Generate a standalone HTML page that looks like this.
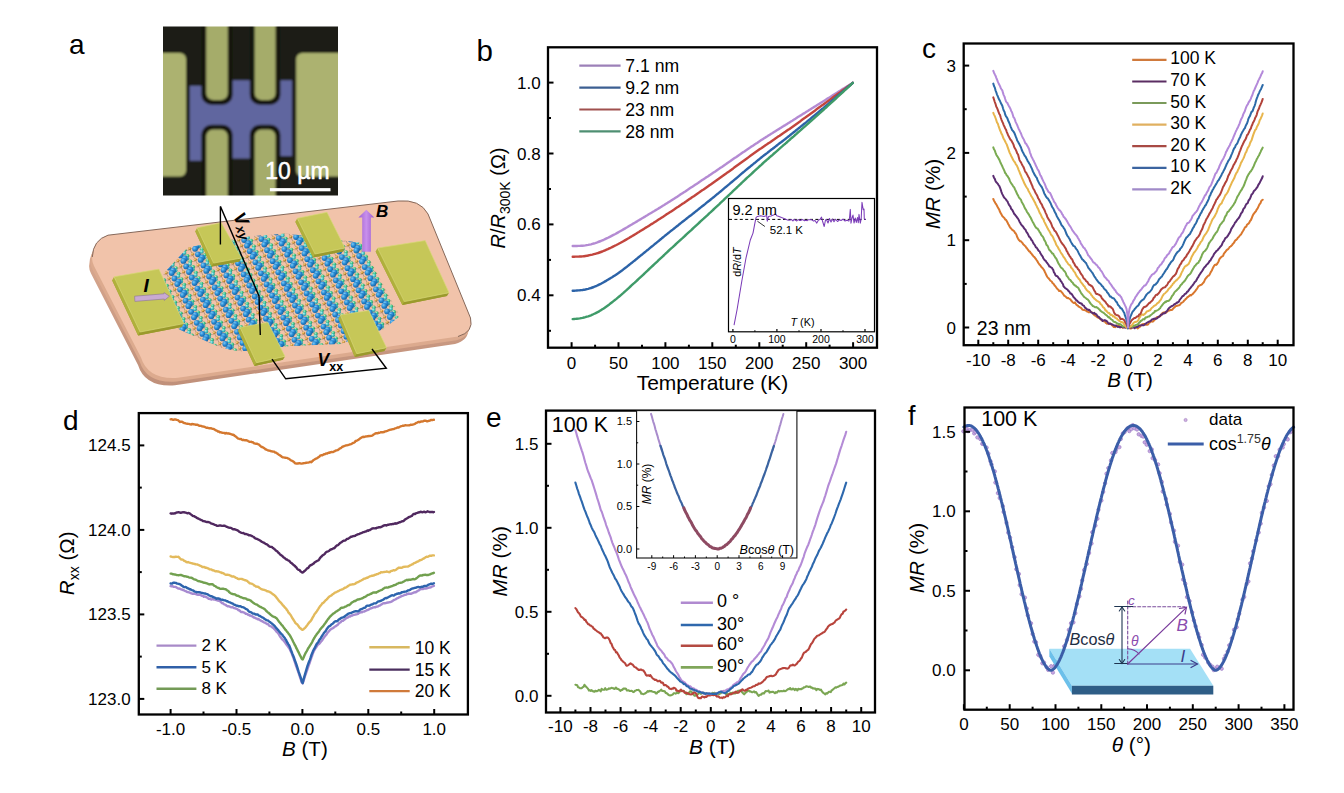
<!DOCTYPE html><html><head><meta charset="utf-8"><style>html,body{margin:0;padding:0;background:#fff;}svg{display:block;}</style></head><body>
<svg width="1344" height="793" viewBox="0 0 1344 793" font-family='"Liberation Sans", Arial, sans-serif'>
<defs><filter id="blur1" x="-5%" y="-5%" width="110%" height="110%"><feGaussianBlur stdDeviation="0.9"/></filter></defs>
<rect width="1344" height="793" fill="#fff"/>
<g id="pa">
<text x="69" y="53.8" font-size="28">a</text>
<defs><clipPath id="micro"><rect x="163" y="26.4" width="175" height="169.1"/></clipPath></defs>
<g clip-path="url(#micro)"><g filter="url(#blur1)">
<rect x="160" y="20" width="182" height="180" fill="#1a1e15"/>
<rect x="156" y="53" width="30" height="123.6" rx="6" fill="#acb270"/>
<rect x="296.2" y="53" width="48" height="123.6" rx="6" fill="#acb270"/>
<path d="M189.7 85.8 L204 85.8 L204 80.2 L291.9 80.2 L291.9 156 L276 156 L276 158.5 L204.5 158.5 L204.5 160.7 L189.7 160.7 Z" fill="#61669f"/>
<rect x="201.4" y="10" width="31.2" height="94.8" rx="10" fill="#15180f"/>
<rect x="206.2" y="10" width="21.6" height="90" rx="7" fill="#a5ac6a"/>
<rect x="201.4" y="124.7" width="31.2" height="90" rx="10" fill="#15180f"/>
<rect x="206.2" y="129.5" width="21.6" height="90" rx="7" fill="#a5ac6a"/>
<rect x="249.8" y="10" width="30.6" height="94.8" rx="10" fill="#15180f"/>
<rect x="254.6" y="10" width="21" height="90" rx="7" fill="#a5ac6a"/>
<rect x="249.8" y="124.7" width="30.6" height="90" rx="10" fill="#15180f"/>
<rect x="254.6" y="129.5" width="21" height="90" rx="7" fill="#a5ac6a"/>
</g></g>
<text x="265.2" y="178.9" font-size="23" fill="#fff" stroke="#fff" stroke-width="0.5">10 µm</text>
<rect x="269.9" y="188.1" width="60.6" height="3.2" fill="#fff"/>
<defs><linearGradient id="edg" x1="0" y1="0" x2="0" y2="1"><stop offset="0" stop-color="#e0b096"/><stop offset="1" stop-color="#c0907a"/></linearGradient></defs>
<path d="M92.3 257 Q93 240 108 235.2 L398 201 Q420 199 428 214 L470.5 318 Q474 332 458 336.5 L178 377.8 Q148 380 141 357.5 L94 266 Q91.5 261 92.3 257 Z" transform="translate(-3 7.5)" fill="url(#edg)"/>
<path d="M92.3 257 Q93 240 108 235.2 L398 201 Q420 199 428 214 L470.5 318 Q474 332 458 336.5 L178 377.8 Q148 380 141 357.5 L94 266 Q91.5 261 92.3 257 Z" transform="translate(-1.5 3.8)" fill="#dcaa8e"/>
<path d="M92.3 257 Q93 240 108 235.2 L398 201 Q420 199 428 214 L470.5 318 Q474 332 458 336.5 L178 377.8 Q148 380 141 357.5 L94 266 Q91.5 261 92.3 257 Z" fill="#f1c3aa"/>
<path d="M92.3 257 Q93 240 108 235.2 L398 201 Q420 199 428 214 L470.5 318 Q474 332 458 336.5" fill="none" stroke="#85685a" stroke-width="1"/>
<defs><clipPath id="lat"><polygon points="163.7,273.4 187.9,247.3 251.1,236.2 286.5,233.4 360.9,242.7 400,316.1 383.2,329.2 340.4,344 290.2,345.9 240,351.5 221.4,347.8 178.6,329.2 163.7,299.4"/></clipPath></defs>
<defs><radialGradient id="gb" cx="0.35" cy="0.35" r="0.7"><stop offset="0" stop-color="#7cc8f4"/><stop offset="0.5" stop-color="#2a8cd6"/><stop offset="1" stop-color="#15609e"/></radialGradient><radialGradient id="gg" cx="0.35" cy="0.35" r="0.7"><stop offset="0" stop-color="#b0f4d0"/><stop offset="0.5" stop-color="#3cc48a"/><stop offset="1" stop-color="#24905a"/></radialGradient><radialGradient id="gc" cx="0.35" cy="0.35" r="0.7"><stop offset="0" stop-color="#b8f4f0"/><stop offset="0.5" stop-color="#48c4c4"/><stop offset="1" stop-color="#2a9090"/></radialGradient><radialGradient id="go" cx="0.35" cy="0.35" r="0.7"><stop offset="0" stop-color="#f8d890"/><stop offset="0.6" stop-color="#d29a3c"/><stop offset="1" stop-color="#8a6020"/></radialGradient></defs>
<g clip-path="url(#lat)">
<g stroke="#8a7060" stroke-width="0.45" opacity="0.8"><line x1="31.7" y1="218" x2="49" y2="219"/><line x1="34.5" y1="223.6" x2="51.8" y2="224.6"/><line x1="37.3" y1="229.1" x2="54.6" y2="230.1"/><line x1="40.1" y1="234.6" x2="57.4" y2="235.6"/><line x1="42.9" y1="240.2" x2="60.2" y2="241.2"/><line x1="45.6" y1="245.7" x2="62.9" y2="246.7"/><line x1="48.4" y1="251.2" x2="65.7" y2="252.2"/><line x1="51.2" y1="256.8" x2="68.5" y2="257.8"/><line x1="54" y1="262.3" x2="71.3" y2="263.3"/><line x1="56.8" y1="267.9" x2="74.1" y2="268.9"/><line x1="59.6" y1="273.4" x2="76.9" y2="274.4"/><line x1="62.4" y1="278.9" x2="79.7" y2="279.9"/><line x1="65.2" y1="284.5" x2="82.5" y2="285.5"/><line x1="68" y1="290" x2="85.3" y2="291"/><line x1="70.8" y1="295.5" x2="88.1" y2="296.5"/><line x1="73.5" y1="301.1" x2="90.8" y2="302.1"/><line x1="76.3" y1="306.6" x2="93.6" y2="307.6"/><line x1="79.1" y1="312.2" x2="96.4" y2="313.2"/><line x1="81.9" y1="317.7" x2="99.2" y2="318.7"/><line x1="84.7" y1="323.2" x2="102" y2="324.2"/><line x1="87.5" y1="328.8" x2="104.8" y2="329.8"/><line x1="90.3" y1="334.3" x2="107.6" y2="335.3"/><line x1="93.1" y1="339.8" x2="110.4" y2="340.8"/><line x1="95.9" y1="345.4" x2="113.2" y2="346.4"/><line x1="98.7" y1="350.9" x2="116" y2="351.9"/><line x1="101.4" y1="356.4" x2="118.7" y2="357.4"/><line x1="104.2" y1="362" x2="121.5" y2="363"/><line x1="107" y1="367.5" x2="124.3" y2="368.5"/><line x1="109.8" y1="373.1" x2="127.1" y2="374.1"/><line x1="112.6" y1="378.6" x2="129.9" y2="379.6"/><line x1="115.4" y1="384.1" x2="132.7" y2="385.1"/><line x1="118.2" y1="389.7" x2="135.5" y2="390.7"/><line x1="121" y1="395.2" x2="138.3" y2="396.2"/><line x1="123.8" y1="400.7" x2="141.1" y2="401.7"/><line x1="49" y1="217" x2="66.3" y2="218"/><line x1="51.8" y1="222.5" x2="69.1" y2="223.5"/><line x1="54.6" y1="228.1" x2="71.9" y2="229.1"/><line x1="57.4" y1="233.6" x2="74.7" y2="234.6"/><line x1="60.2" y1="239.1" x2="77.5" y2="240.1"/><line x1="63" y1="244.7" x2="80.2" y2="245.7"/><line x1="65.7" y1="250.2" x2="83" y2="251.2"/><line x1="68.5" y1="255.7" x2="85.8" y2="256.7"/><line x1="71.3" y1="261.3" x2="88.6" y2="262.3"/><line x1="74.1" y1="266.8" x2="91.4" y2="267.8"/><line x1="76.9" y1="272.4" x2="94.2" y2="273.4"/><line x1="79.7" y1="277.9" x2="97" y2="278.9"/><line x1="82.5" y1="283.4" x2="99.8" y2="284.4"/><line x1="85.3" y1="289" x2="102.6" y2="290"/><line x1="88.1" y1="294.5" x2="105.4" y2="295.5"/><line x1="90.8" y1="300" x2="108.1" y2="301"/><line x1="93.6" y1="305.6" x2="110.9" y2="306.6"/><line x1="96.4" y1="311.1" x2="113.7" y2="312.1"/><line x1="99.2" y1="316.6" x2="116.5" y2="317.6"/><line x1="102" y1="322.2" x2="119.3" y2="323.2"/><line x1="104.8" y1="327.7" x2="122.1" y2="328.7"/><line x1="107.6" y1="333.3" x2="124.9" y2="334.3"/><line x1="110.4" y1="338.8" x2="127.7" y2="339.8"/><line x1="113.2" y1="344.3" x2="130.5" y2="345.3"/><line x1="116" y1="349.9" x2="133.3" y2="350.9"/><line x1="118.8" y1="355.4" x2="136.1" y2="356.4"/><line x1="121.5" y1="360.9" x2="138.8" y2="361.9"/><line x1="124.3" y1="366.5" x2="141.6" y2="367.5"/><line x1="127.1" y1="372" x2="144.4" y2="373"/><line x1="129.9" y1="377.6" x2="147.2" y2="378.6"/><line x1="132.7" y1="383.1" x2="150" y2="384.1"/><line x1="135.5" y1="388.6" x2="152.8" y2="389.6"/><line x1="138.3" y1="394.2" x2="155.6" y2="395.2"/><line x1="141.1" y1="399.7" x2="158.4" y2="400.7"/><line x1="66.3" y1="216" x2="83.6" y2="217"/><line x1="69.1" y1="221.5" x2="86.4" y2="222.5"/><line x1="71.9" y1="227" x2="89.2" y2="228"/><line x1="74.7" y1="232.6" x2="92" y2="233.6"/><line x1="77.5" y1="238.1" x2="94.8" y2="239.1"/><line x1="80.2" y1="243.6" x2="97.5" y2="244.6"/><line x1="83" y1="249.2" x2="100.3" y2="250.2"/><line x1="85.8" y1="254.7" x2="103.1" y2="255.7"/><line x1="88.6" y1="260.2" x2="105.9" y2="261.2"/><line x1="91.4" y1="265.8" x2="108.7" y2="266.8"/><line x1="94.2" y1="271.3" x2="111.5" y2="272.3"/><line x1="97" y1="276.9" x2="114.3" y2="277.9"/><line x1="99.8" y1="282.4" x2="117.1" y2="283.4"/><line x1="102.6" y1="287.9" x2="119.9" y2="288.9"/><line x1="105.4" y1="293.5" x2="122.7" y2="294.5"/><line x1="108.2" y1="299" x2="125.5" y2="300"/><line x1="110.9" y1="304.5" x2="128.2" y2="305.5"/><line x1="113.7" y1="310.1" x2="131" y2="311.1"/><line x1="116.5" y1="315.6" x2="133.8" y2="316.6"/><line x1="119.3" y1="321.1" x2="136.6" y2="322.1"/><line x1="122.1" y1="326.7" x2="139.4" y2="327.7"/><line x1="124.9" y1="332.2" x2="142.2" y2="333.2"/><line x1="127.7" y1="337.8" x2="145" y2="338.8"/><line x1="130.5" y1="343.3" x2="147.8" y2="344.3"/><line x1="133.3" y1="348.8" x2="150.6" y2="349.8"/><line x1="136.1" y1="354.4" x2="153.4" y2="355.4"/><line x1="138.8" y1="359.9" x2="156.1" y2="360.9"/><line x1="141.6" y1="365.4" x2="158.9" y2="366.4"/><line x1="144.4" y1="371" x2="161.7" y2="372"/><line x1="147.2" y1="376.5" x2="164.5" y2="377.5"/><line x1="150" y1="382.1" x2="167.3" y2="383.1"/><line x1="152.8" y1="387.6" x2="170.1" y2="388.6"/><line x1="155.6" y1="393.1" x2="172.9" y2="394.1"/><line x1="158.4" y1="398.7" x2="175.7" y2="399.7"/><line x1="83.6" y1="214.9" x2="100.9" y2="215.9"/><line x1="86.4" y1="220.5" x2="103.7" y2="221.5"/><line x1="89.2" y1="226" x2="106.5" y2="227"/><line x1="92" y1="231.5" x2="109.3" y2="232.5"/><line x1="94.8" y1="237.1" x2="112.1" y2="238.1"/><line x1="97.5" y1="242.6" x2="114.8" y2="243.6"/><line x1="100.3" y1="248.1" x2="117.6" y2="249.1"/><line x1="103.1" y1="253.7" x2="120.4" y2="254.7"/><line x1="105.9" y1="259.2" x2="123.2" y2="260.2"/><line x1="108.7" y1="264.7" x2="126" y2="265.7"/><line x1="111.5" y1="270.3" x2="128.8" y2="271.3"/><line x1="114.3" y1="275.8" x2="131.6" y2="276.8"/><line x1="117.1" y1="281.4" x2="134.4" y2="282.4"/><line x1="119.9" y1="286.9" x2="137.2" y2="287.9"/><line x1="122.7" y1="292.4" x2="140" y2="293.4"/><line x1="125.4" y1="298" x2="142.8" y2="299"/><line x1="128.2" y1="303.5" x2="145.5" y2="304.5"/><line x1="131" y1="309" x2="148.3" y2="310"/><line x1="133.8" y1="314.6" x2="151.1" y2="315.6"/><line x1="136.6" y1="320.1" x2="153.9" y2="321.1"/><line x1="139.4" y1="325.6" x2="156.7" y2="326.6"/><line x1="142.2" y1="331.2" x2="159.5" y2="332.2"/><line x1="145" y1="336.7" x2="162.3" y2="337.7"/><line x1="147.8" y1="342.3" x2="165.1" y2="343.3"/><line x1="150.6" y1="347.8" x2="167.9" y2="348.8"/><line x1="153.3" y1="353.3" x2="170.7" y2="354.3"/><line x1="156.1" y1="358.9" x2="173.4" y2="359.9"/><line x1="158.9" y1="364.4" x2="176.2" y2="365.4"/><line x1="161.7" y1="369.9" x2="179" y2="370.9"/><line x1="164.5" y1="375.5" x2="181.8" y2="376.5"/><line x1="167.3" y1="381" x2="184.6" y2="382"/><line x1="170.1" y1="386.5" x2="187.4" y2="387.5"/><line x1="172.9" y1="392.1" x2="190.2" y2="393.1"/><line x1="175.7" y1="397.6" x2="193" y2="398.6"/><line x1="100.9" y1="213.9" x2="118.2" y2="214.9"/><line x1="103.7" y1="219.4" x2="121" y2="220.4"/><line x1="106.5" y1="224.9" x2="123.8" y2="225.9"/><line x1="109.3" y1="230.5" x2="126.6" y2="231.5"/><line x1="112.1" y1="236" x2="129.4" y2="237"/><line x1="114.9" y1="241.6" x2="132.2" y2="242.6"/><line x1="117.6" y1="247.1" x2="134.9" y2="248.1"/><line x1="120.4" y1="252.6" x2="137.7" y2="253.6"/><line x1="123.2" y1="258.2" x2="140.5" y2="259.2"/><line x1="126" y1="263.7" x2="143.3" y2="264.7"/><line x1="128.8" y1="269.2" x2="146.1" y2="270.2"/><line x1="131.6" y1="274.8" x2="148.9" y2="275.8"/><line x1="134.4" y1="280.3" x2="151.7" y2="281.3"/><line x1="137.2" y1="285.9" x2="154.5" y2="286.9"/><line x1="140" y1="291.4" x2="157.3" y2="292.4"/><line x1="142.8" y1="296.9" x2="160.1" y2="297.9"/><line x1="145.5" y1="302.5" x2="162.8" y2="303.5"/><line x1="148.3" y1="308" x2="165.6" y2="309"/><line x1="151.1" y1="313.5" x2="168.4" y2="314.5"/><line x1="153.9" y1="319.1" x2="171.2" y2="320.1"/><line x1="156.7" y1="324.6" x2="174" y2="325.6"/><line x1="159.5" y1="330.1" x2="176.8" y2="331.1"/><line x1="162.3" y1="335.7" x2="179.6" y2="336.7"/><line x1="165.1" y1="341.2" x2="182.4" y2="342.2"/><line x1="167.9" y1="346.8" x2="185.2" y2="347.8"/><line x1="170.7" y1="352.3" x2="188" y2="353.3"/><line x1="173.4" y1="357.8" x2="190.7" y2="358.8"/><line x1="176.2" y1="363.4" x2="193.5" y2="364.4"/><line x1="179" y1="368.9" x2="196.3" y2="369.9"/><line x1="181.8" y1="374.4" x2="199.1" y2="375.4"/><line x1="184.6" y1="380" x2="201.9" y2="381"/><line x1="187.4" y1="385.5" x2="204.7" y2="386.5"/><line x1="190.2" y1="391" x2="207.5" y2="392"/><line x1="193" y1="396.6" x2="210.3" y2="397.6"/><line x1="118.2" y1="212.8" x2="135.5" y2="213.8"/><line x1="121" y1="218.4" x2="138.3" y2="219.4"/><line x1="123.8" y1="223.9" x2="141.1" y2="224.9"/><line x1="126.6" y1="229.4" x2="143.9" y2="230.4"/><line x1="129.4" y1="235" x2="146.7" y2="236"/><line x1="132.2" y1="240.5" x2="149.5" y2="241.5"/><line x1="134.9" y1="246.1" x2="152.2" y2="247.1"/><line x1="137.7" y1="251.6" x2="155" y2="252.6"/><line x1="140.5" y1="257.1" x2="157.8" y2="258.1"/><line x1="143.3" y1="262.7" x2="160.6" y2="263.7"/><line x1="146.1" y1="268.2" x2="163.4" y2="269.2"/><line x1="148.9" y1="273.7" x2="166.2" y2="274.7"/><line x1="151.7" y1="279.3" x2="169" y2="280.3"/><line x1="154.5" y1="284.8" x2="171.8" y2="285.8"/><line x1="157.3" y1="290.4" x2="174.6" y2="291.4"/><line x1="160.1" y1="295.9" x2="177.4" y2="296.9"/><line x1="162.8" y1="301.4" x2="180.1" y2="302.4"/><line x1="165.6" y1="307" x2="182.9" y2="308"/><line x1="168.4" y1="312.5" x2="185.7" y2="313.5"/><line x1="171.2" y1="318" x2="188.5" y2="319"/><line x1="174" y1="323.6" x2="191.3" y2="324.6"/><line x1="176.8" y1="329.1" x2="194.1" y2="330.1"/><line x1="179.6" y1="334.6" x2="196.9" y2="335.6"/><line x1="182.4" y1="340.2" x2="199.7" y2="341.2"/><line x1="185.2" y1="345.7" x2="202.5" y2="346.7"/><line x1="187.9" y1="351.3" x2="205.2" y2="352.3"/><line x1="190.7" y1="356.8" x2="208" y2="357.8"/><line x1="193.5" y1="362.3" x2="210.8" y2="363.3"/><line x1="196.3" y1="367.9" x2="213.6" y2="368.9"/><line x1="199.1" y1="373.4" x2="216.4" y2="374.4"/><line x1="201.9" y1="378.9" x2="219.2" y2="379.9"/><line x1="204.7" y1="384.5" x2="222" y2="385.5"/><line x1="207.5" y1="390" x2="224.8" y2="391"/><line x1="210.3" y1="395.5" x2="227.6" y2="396.5"/><line x1="135.5" y1="211.8" x2="152.8" y2="212.8"/><line x1="138.3" y1="217.3" x2="155.6" y2="218.3"/><line x1="141.1" y1="222.9" x2="158.4" y2="223.9"/><line x1="143.9" y1="228.4" x2="161.2" y2="229.4"/><line x1="146.7" y1="233.9" x2="164" y2="234.9"/><line x1="149.4" y1="239.5" x2="166.8" y2="240.5"/><line x1="152.2" y1="245" x2="169.5" y2="246"/><line x1="155" y1="250.6" x2="172.3" y2="251.6"/><line x1="157.8" y1="256.1" x2="175.1" y2="257.1"/><line x1="160.6" y1="261.6" x2="177.9" y2="262.6"/><line x1="163.4" y1="267.2" x2="180.7" y2="268.2"/><line x1="166.2" y1="272.7" x2="183.5" y2="273.7"/><line x1="169" y1="278.2" x2="186.3" y2="279.2"/><line x1="171.8" y1="283.8" x2="189.1" y2="284.8"/><line x1="174.6" y1="289.3" x2="191.9" y2="290.3"/><line x1="177.3" y1="294.8" x2="194.7" y2="295.8"/><line x1="180.1" y1="300.4" x2="197.4" y2="301.4"/><line x1="182.9" y1="305.9" x2="200.2" y2="306.9"/><line x1="185.7" y1="311.5" x2="203" y2="312.5"/><line x1="188.5" y1="317" x2="205.8" y2="318"/><line x1="191.3" y1="322.5" x2="208.6" y2="323.5"/><line x1="194.1" y1="328.1" x2="211.4" y2="329.1"/><line x1="196.9" y1="333.6" x2="214.2" y2="334.6"/><line x1="199.7" y1="339.1" x2="217" y2="340.1"/><line x1="202.5" y1="344.7" x2="219.8" y2="345.7"/><line x1="205.2" y1="350.2" x2="222.6" y2="351.2"/><line x1="208" y1="355.8" x2="225.3" y2="356.8"/><line x1="210.8" y1="361.3" x2="228.1" y2="362.3"/><line x1="213.6" y1="366.8" x2="230.9" y2="367.8"/><line x1="216.4" y1="372.4" x2="233.7" y2="373.4"/><line x1="219.2" y1="377.9" x2="236.5" y2="378.9"/><line x1="222" y1="383.4" x2="239.3" y2="384.4"/><line x1="224.8" y1="389" x2="242.1" y2="390"/><line x1="227.6" y1="394.5" x2="244.9" y2="395.5"/><line x1="152.8" y1="210.8" x2="170.1" y2="211.8"/><line x1="155.6" y1="216.3" x2="172.9" y2="217.3"/><line x1="158.4" y1="221.8" x2="175.7" y2="222.8"/><line x1="161.2" y1="227.4" x2="178.5" y2="228.4"/><line x1="164" y1="232.9" x2="181.3" y2="233.9"/><line x1="166.8" y1="238.4" x2="184.1" y2="239.4"/><line x1="169.5" y1="244" x2="186.8" y2="245"/><line x1="172.3" y1="249.5" x2="189.6" y2="250.5"/><line x1="175.1" y1="255.1" x2="192.4" y2="256.1"/><line x1="177.9" y1="260.6" x2="195.2" y2="261.6"/><line x1="180.7" y1="266.1" x2="198" y2="267.1"/><line x1="183.5" y1="271.7" x2="200.8" y2="272.7"/><line x1="186.3" y1="277.2" x2="203.6" y2="278.2"/><line x1="189.1" y1="282.7" x2="206.4" y2="283.7"/><line x1="191.9" y1="288.3" x2="209.2" y2="289.3"/><line x1="194.7" y1="293.8" x2="212" y2="294.8"/><line x1="197.4" y1="299.3" x2="214.7" y2="300.3"/><line x1="200.2" y1="304.9" x2="217.5" y2="305.9"/><line x1="203" y1="310.4" x2="220.3" y2="311.4"/><line x1="205.8" y1="316" x2="223.1" y2="317"/><line x1="208.6" y1="321.5" x2="225.9" y2="322.5"/><line x1="211.4" y1="327" x2="228.7" y2="328"/><line x1="214.2" y1="332.6" x2="231.5" y2="333.6"/><line x1="217" y1="338.1" x2="234.3" y2="339.1"/><line x1="219.8" y1="343.6" x2="237.1" y2="344.6"/><line x1="222.6" y1="349.2" x2="239.9" y2="350.2"/><line x1="225.3" y1="354.7" x2="242.6" y2="355.7"/><line x1="228.1" y1="360.3" x2="245.4" y2="361.3"/><line x1="230.9" y1="365.8" x2="248.2" y2="366.8"/><line x1="233.7" y1="371.3" x2="251" y2="372.3"/><line x1="236.5" y1="376.9" x2="253.8" y2="377.9"/><line x1="239.3" y1="382.4" x2="256.6" y2="383.4"/><line x1="242.1" y1="387.9" x2="259.4" y2="388.9"/><line x1="244.9" y1="393.5" x2="262.2" y2="394.5"/><line x1="170.1" y1="209.7" x2="187.4" y2="210.7"/><line x1="172.9" y1="215.3" x2="190.2" y2="216.3"/><line x1="175.7" y1="220.8" x2="193" y2="221.8"/><line x1="178.5" y1="226.3" x2="195.8" y2="227.3"/><line x1="181.3" y1="231.9" x2="198.6" y2="232.9"/><line x1="184" y1="237.4" x2="201.3" y2="238.4"/><line x1="186.8" y1="242.9" x2="204.1" y2="243.9"/><line x1="189.6" y1="248.5" x2="206.9" y2="249.5"/><line x1="192.4" y1="254" x2="209.7" y2="255"/><line x1="195.2" y1="259.6" x2="212.5" y2="260.6"/><line x1="198" y1="265.1" x2="215.3" y2="266.1"/><line x1="200.8" y1="270.6" x2="218.1" y2="271.6"/><line x1="203.6" y1="276.2" x2="220.9" y2="277.2"/><line x1="206.4" y1="281.7" x2="223.7" y2="282.7"/><line x1="209.2" y1="287.2" x2="226.5" y2="288.2"/><line x1="211.9" y1="292.8" x2="229.2" y2="293.8"/><line x1="214.7" y1="298.3" x2="232" y2="299.3"/><line x1="217.5" y1="303.8" x2="234.8" y2="304.8"/><line x1="220.3" y1="309.4" x2="237.6" y2="310.4"/><line x1="223.1" y1="314.9" x2="240.4" y2="315.9"/><line x1="225.9" y1="320.5" x2="243.2" y2="321.5"/><line x1="228.7" y1="326" x2="246" y2="327"/><line x1="231.5" y1="331.5" x2="248.8" y2="332.5"/><line x1="234.3" y1="337.1" x2="251.6" y2="338.1"/><line x1="237.1" y1="342.6" x2="254.4" y2="343.6"/><line x1="239.8" y1="348.1" x2="257.1" y2="349.1"/><line x1="242.6" y1="353.7" x2="259.9" y2="354.7"/><line x1="245.4" y1="359.2" x2="262.7" y2="360.2"/><line x1="248.2" y1="364.7" x2="265.5" y2="365.7"/><line x1="251" y1="370.3" x2="268.3" y2="371.3"/><line x1="253.8" y1="375.8" x2="271.1" y2="376.8"/><line x1="256.6" y1="381.4" x2="273.9" y2="382.4"/><line x1="259.4" y1="386.9" x2="276.7" y2="387.9"/><line x1="262.2" y1="392.4" x2="279.5" y2="393.4"/><line x1="187.4" y1="208.7" x2="204.7" y2="209.7"/><line x1="190.2" y1="214.2" x2="207.5" y2="215.2"/><line x1="193" y1="219.8" x2="210.3" y2="220.8"/><line x1="195.8" y1="225.3" x2="213.1" y2="226.3"/><line x1="198.6" y1="230.8" x2="215.9" y2="231.8"/><line x1="201.3" y1="236.4" x2="218.7" y2="237.4"/><line x1="204.1" y1="241.9" x2="221.4" y2="242.9"/><line x1="206.9" y1="247.4" x2="224.2" y2="248.4"/><line x1="209.7" y1="253" x2="227" y2="254"/><line x1="212.5" y1="258.5" x2="229.8" y2="259.5"/><line x1="215.3" y1="264.1" x2="232.6" y2="265.1"/><line x1="218.1" y1="269.6" x2="235.4" y2="270.6"/><line x1="220.9" y1="275.1" x2="238.2" y2="276.1"/><line x1="223.7" y1="280.7" x2="241" y2="281.7"/><line x1="226.5" y1="286.2" x2="243.8" y2="287.2"/><line x1="229.2" y1="291.7" x2="246.6" y2="292.7"/><line x1="232" y1="297.3" x2="249.3" y2="298.3"/><line x1="234.8" y1="302.8" x2="252.1" y2="303.8"/><line x1="237.6" y1="308.3" x2="254.9" y2="309.3"/><line x1="240.4" y1="313.9" x2="257.7" y2="314.9"/><line x1="243.2" y1="319.4" x2="260.5" y2="320.4"/><line x1="246" y1="325" x2="263.3" y2="326"/><line x1="248.8" y1="330.5" x2="266.1" y2="331.5"/><line x1="251.6" y1="336" x2="268.9" y2="337"/><line x1="254.4" y1="341.6" x2="271.7" y2="342.6"/><line x1="257.1" y1="347.1" x2="274.4" y2="348.1"/><line x1="259.9" y1="352.6" x2="277.2" y2="353.6"/><line x1="262.7" y1="358.2" x2="280" y2="359.2"/><line x1="265.5" y1="363.7" x2="282.8" y2="364.7"/><line x1="268.3" y1="369.2" x2="285.6" y2="370.2"/><line x1="271.1" y1="374.8" x2="288.4" y2="375.8"/><line x1="273.9" y1="380.3" x2="291.2" y2="381.3"/><line x1="276.7" y1="385.9" x2="294" y2="386.9"/><line x1="279.5" y1="391.4" x2="296.8" y2="392.4"/><line x1="204.7" y1="207.6" x2="222" y2="208.6"/><line x1="207.5" y1="213.2" x2="224.8" y2="214.2"/><line x1="210.3" y1="218.7" x2="227.6" y2="219.7"/><line x1="213.1" y1="224.3" x2="230.4" y2="225.3"/><line x1="215.9" y1="229.8" x2="233.2" y2="230.8"/><line x1="218.6" y1="235.3" x2="235.9" y2="236.3"/><line x1="221.4" y1="240.9" x2="238.7" y2="241.9"/><line x1="224.2" y1="246.4" x2="241.5" y2="247.4"/><line x1="227" y1="251.9" x2="244.3" y2="252.9"/><line x1="229.8" y1="257.5" x2="247.1" y2="258.5"/><line x1="232.6" y1="263" x2="249.9" y2="264"/><line x1="235.4" y1="268.6" x2="252.7" y2="269.6"/><line x1="238.2" y1="274.1" x2="255.5" y2="275.1"/><line x1="241" y1="279.6" x2="258.3" y2="280.6"/><line x1="243.8" y1="285.2" x2="261.1" y2="286.2"/><line x1="246.5" y1="290.7" x2="263.8" y2="291.7"/><line x1="249.3" y1="296.2" x2="266.6" y2="297.2"/><line x1="252.1" y1="301.8" x2="269.4" y2="302.8"/><line x1="254.9" y1="307.3" x2="272.2" y2="308.3"/><line x1="257.7" y1="312.8" x2="275" y2="313.8"/><line x1="260.5" y1="318.4" x2="277.8" y2="319.4"/><line x1="263.3" y1="323.9" x2="280.6" y2="324.9"/><line x1="266.1" y1="329.5" x2="283.4" y2="330.5"/><line x1="268.9" y1="335" x2="286.2" y2="336"/><line x1="271.7" y1="340.5" x2="289" y2="341.5"/><line x1="274.4" y1="346.1" x2="291.8" y2="347.1"/><line x1="277.2" y1="351.6" x2="294.5" y2="352.6"/><line x1="280" y1="357.1" x2="297.3" y2="358.1"/><line x1="282.8" y1="362.7" x2="300.1" y2="363.7"/><line x1="285.6" y1="368.2" x2="302.9" y2="369.2"/><line x1="288.4" y1="373.7" x2="305.7" y2="374.7"/><line x1="291.2" y1="379.3" x2="308.5" y2="380.3"/><line x1="294" y1="384.8" x2="311.3" y2="385.8"/><line x1="296.8" y1="390.4" x2="314.1" y2="391.4"/><line x1="222" y1="206.6" x2="239.3" y2="207.6"/><line x1="224.8" y1="212.1" x2="242.1" y2="213.1"/><line x1="227.6" y1="217.7" x2="244.9" y2="218.7"/><line x1="230.4" y1="223.2" x2="247.7" y2="224.2"/><line x1="233.2" y1="228.8" x2="250.5" y2="229.8"/><line x1="235.9" y1="234.3" x2="253.2" y2="235.3"/><line x1="238.7" y1="239.8" x2="256" y2="240.8"/><line x1="241.5" y1="245.4" x2="258.8" y2="246.4"/><line x1="244.3" y1="250.9" x2="261.6" y2="251.9"/><line x1="247.1" y1="256.4" x2="264.4" y2="257.4"/><line x1="249.9" y1="262" x2="267.2" y2="263"/><line x1="252.7" y1="267.5" x2="270" y2="268.5"/><line x1="255.5" y1="273" x2="272.8" y2="274"/><line x1="258.3" y1="278.6" x2="275.6" y2="279.6"/><line x1="261.1" y1="284.1" x2="278.4" y2="285.1"/><line x1="263.9" y1="289.7" x2="281.2" y2="290.7"/><line x1="266.6" y1="295.2" x2="283.9" y2="296.2"/><line x1="269.4" y1="300.7" x2="286.7" y2="301.7"/><line x1="272.2" y1="306.3" x2="289.5" y2="307.3"/><line x1="275" y1="311.8" x2="292.3" y2="312.8"/><line x1="277.8" y1="317.3" x2="295.1" y2="318.3"/><line x1="280.6" y1="322.9" x2="297.9" y2="323.9"/><line x1="283.4" y1="328.4" x2="300.7" y2="329.4"/><line x1="286.2" y1="334" x2="303.5" y2="335"/><line x1="289" y1="339.5" x2="306.3" y2="340.5"/><line x1="291.8" y1="345" x2="309.1" y2="346"/><line x1="294.5" y1="350.6" x2="311.8" y2="351.6"/><line x1="297.3" y1="356.1" x2="314.6" y2="357.1"/><line x1="300.1" y1="361.6" x2="317.4" y2="362.6"/><line x1="302.9" y1="367.2" x2="320.2" y2="368.2"/><line x1="305.7" y1="372.7" x2="323" y2="373.7"/><line x1="308.5" y1="378.2" x2="325.8" y2="379.2"/><line x1="311.3" y1="383.8" x2="328.6" y2="384.8"/><line x1="314.1" y1="389.3" x2="331.4" y2="390.3"/><line x1="239.3" y1="205.6" x2="256.6" y2="206.6"/><line x1="242.1" y1="211.1" x2="259.4" y2="212.1"/><line x1="244.9" y1="216.6" x2="262.2" y2="217.6"/><line x1="247.7" y1="222.2" x2="265" y2="223.2"/><line x1="250.5" y1="227.7" x2="267.8" y2="228.7"/><line x1="253.2" y1="233.3" x2="270.6" y2="234.3"/><line x1="256" y1="238.8" x2="273.3" y2="239.8"/><line x1="258.8" y1="244.3" x2="276.1" y2="245.3"/><line x1="261.6" y1="249.9" x2="278.9" y2="250.9"/><line x1="264.4" y1="255.4" x2="281.7" y2="256.4"/><line x1="267.2" y1="260.9" x2="284.5" y2="261.9"/><line x1="270" y1="266.5" x2="287.3" y2="267.5"/><line x1="272.8" y1="272" x2="290.1" y2="273"/><line x1="275.6" y1="277.5" x2="292.9" y2="278.5"/><line x1="278.4" y1="283.1" x2="295.7" y2="284.1"/><line x1="281.2" y1="288.6" x2="298.5" y2="289.6"/><line x1="283.9" y1="294.2" x2="301.2" y2="295.2"/><line x1="286.7" y1="299.7" x2="304" y2="300.7"/><line x1="289.5" y1="305.2" x2="306.8" y2="306.2"/><line x1="292.3" y1="310.8" x2="309.6" y2="311.8"/><line x1="295.1" y1="316.3" x2="312.4" y2="317.3"/><line x1="297.9" y1="321.8" x2="315.2" y2="322.8"/><line x1="300.7" y1="327.4" x2="318" y2="328.4"/><line x1="303.5" y1="332.9" x2="320.8" y2="333.9"/><line x1="306.3" y1="338.5" x2="323.6" y2="339.5"/><line x1="309.1" y1="344" x2="326.4" y2="345"/><line x1="311.8" y1="349.5" x2="329.1" y2="350.5"/><line x1="314.6" y1="355.1" x2="331.9" y2="356.1"/><line x1="317.4" y1="360.6" x2="334.7" y2="361.6"/><line x1="320.2" y1="366.1" x2="337.5" y2="367.1"/><line x1="323" y1="371.7" x2="340.3" y2="372.7"/><line x1="325.8" y1="377.2" x2="343.1" y2="378.2"/><line x1="328.6" y1="382.7" x2="345.9" y2="383.7"/><line x1="331.4" y1="388.3" x2="348.7" y2="389.3"/><line x1="256.6" y1="204.5" x2="273.9" y2="205.5"/><line x1="259.4" y1="210.1" x2="276.7" y2="211.1"/><line x1="262.2" y1="215.6" x2="279.5" y2="216.6"/><line x1="265" y1="221.1" x2="282.3" y2="222.1"/><line x1="267.8" y1="226.7" x2="285.1" y2="227.7"/><line x1="270.6" y1="232.2" x2="287.9" y2="233.2"/><line x1="273.3" y1="237.8" x2="290.6" y2="238.8"/><line x1="276.1" y1="243.3" x2="293.4" y2="244.3"/><line x1="278.9" y1="248.8" x2="296.2" y2="249.8"/><line x1="281.7" y1="254.4" x2="299" y2="255.4"/><line x1="284.5" y1="259.9" x2="301.8" y2="260.9"/><line x1="287.3" y1="265.4" x2="304.6" y2="266.4"/><line x1="290.1" y1="271" x2="307.4" y2="272"/><line x1="292.9" y1="276.5" x2="310.2" y2="277.5"/><line x1="295.7" y1="282" x2="313" y2="283"/><line x1="298.5" y1="287.6" x2="315.8" y2="288.6"/><line x1="301.2" y1="293.1" x2="318.5" y2="294.1"/><line x1="304" y1="298.7" x2="321.3" y2="299.7"/><line x1="306.8" y1="304.2" x2="324.1" y2="305.2"/><line x1="309.6" y1="309.7" x2="326.9" y2="310.7"/><line x1="312.4" y1="315.3" x2="329.7" y2="316.3"/><line x1="315.2" y1="320.8" x2="332.5" y2="321.8"/><line x1="318" y1="326.3" x2="335.3" y2="327.3"/><line x1="320.8" y1="331.9" x2="338.1" y2="332.9"/><line x1="323.6" y1="337.4" x2="340.9" y2="338.4"/><line x1="326.4" y1="342.9" x2="343.7" y2="343.9"/><line x1="329.1" y1="348.5" x2="346.4" y2="349.5"/><line x1="331.9" y1="354" x2="349.2" y2="355"/><line x1="334.7" y1="359.6" x2="352" y2="360.6"/><line x1="337.5" y1="365.1" x2="354.8" y2="366.1"/><line x1="340.3" y1="370.6" x2="357.6" y2="371.6"/><line x1="343.1" y1="376.2" x2="360.4" y2="377.2"/><line x1="345.9" y1="381.7" x2="363.2" y2="382.7"/><line x1="348.7" y1="387.2" x2="366" y2="388.2"/><line x1="273.9" y1="203.5" x2="291.2" y2="204.5"/><line x1="276.7" y1="209" x2="294" y2="210"/><line x1="279.5" y1="214.6" x2="296.8" y2="215.6"/><line x1="282.3" y1="220.1" x2="299.6" y2="221.1"/><line x1="285.1" y1="225.6" x2="302.4" y2="226.6"/><line x1="287.8" y1="231.2" x2="305.1" y2="232.2"/><line x1="290.6" y1="236.7" x2="307.9" y2="237.7"/><line x1="293.4" y1="242.3" x2="310.7" y2="243.3"/><line x1="296.2" y1="247.8" x2="313.5" y2="248.8"/><line x1="299" y1="253.3" x2="316.3" y2="254.3"/><line x1="301.8" y1="258.9" x2="319.1" y2="259.9"/><line x1="304.6" y1="264.4" x2="321.9" y2="265.4"/><line x1="307.4" y1="269.9" x2="324.7" y2="270.9"/><line x1="310.2" y1="275.5" x2="327.5" y2="276.5"/><line x1="313" y1="281" x2="330.3" y2="282"/><line x1="315.8" y1="286.5" x2="333.1" y2="287.5"/><line x1="318.5" y1="292.1" x2="335.8" y2="293.1"/><line x1="321.3" y1="297.6" x2="338.6" y2="298.6"/><line x1="324.1" y1="303.2" x2="341.4" y2="304.2"/><line x1="326.9" y1="308.7" x2="344.2" y2="309.7"/><line x1="329.7" y1="314.2" x2="347" y2="315.2"/><line x1="332.5" y1="319.8" x2="349.8" y2="320.8"/><line x1="335.3" y1="325.3" x2="352.6" y2="326.3"/><line x1="338.1" y1="330.8" x2="355.4" y2="331.8"/><line x1="340.9" y1="336.4" x2="358.2" y2="337.4"/><line x1="343.6" y1="341.9" x2="360.9" y2="342.9"/><line x1="346.4" y1="347.4" x2="363.7" y2="348.4"/><line x1="349.2" y1="353" x2="366.5" y2="354"/><line x1="352" y1="358.5" x2="369.3" y2="359.5"/><line x1="354.8" y1="364.1" x2="372.1" y2="365.1"/><line x1="357.6" y1="369.6" x2="374.9" y2="370.6"/><line x1="360.4" y1="375.1" x2="377.7" y2="376.1"/><line x1="363.2" y1="380.7" x2="380.5" y2="381.7"/><line x1="366" y1="386.2" x2="383.3" y2="387.2"/><line x1="291.2" y1="202.5" x2="308.5" y2="203.5"/><line x1="294" y1="208" x2="311.3" y2="209"/><line x1="296.8" y1="213.5" x2="314.1" y2="214.5"/><line x1="299.6" y1="219.1" x2="316.9" y2="220.1"/><line x1="302.4" y1="224.6" x2="319.7" y2="225.6"/><line x1="305.2" y1="230.1" x2="322.5" y2="231.1"/><line x1="307.9" y1="235.7" x2="325.2" y2="236.7"/><line x1="310.7" y1="241.2" x2="328" y2="242.2"/><line x1="313.5" y1="246.8" x2="330.8" y2="247.8"/><line x1="316.3" y1="252.3" x2="333.6" y2="253.3"/><line x1="319.1" y1="257.8" x2="336.4" y2="258.8"/><line x1="321.9" y1="263.4" x2="339.2" y2="264.4"/><line x1="324.7" y1="268.9" x2="342" y2="269.9"/><line x1="327.5" y1="274.4" x2="344.8" y2="275.4"/><line x1="330.3" y1="280" x2="347.6" y2="281"/><line x1="333.1" y1="285.5" x2="350.4" y2="286.5"/><line x1="335.8" y1="291" x2="353.1" y2="292"/><line x1="338.6" y1="296.6" x2="355.9" y2="297.6"/><line x1="341.4" y1="302.1" x2="358.7" y2="303.1"/><line x1="344.2" y1="307.7" x2="361.5" y2="308.7"/><line x1="347" y1="313.2" x2="364.3" y2="314.2"/><line x1="349.8" y1="318.7" x2="367.1" y2="319.7"/><line x1="352.6" y1="324.3" x2="369.9" y2="325.3"/><line x1="355.4" y1="329.8" x2="372.7" y2="330.8"/><line x1="358.2" y1="335.3" x2="375.5" y2="336.3"/><line x1="361" y1="340.9" x2="378.3" y2="341.9"/><line x1="363.7" y1="346.4" x2="381" y2="347.4"/><line x1="366.5" y1="351.9" x2="383.8" y2="352.9"/><line x1="369.3" y1="357.5" x2="386.6" y2="358.5"/><line x1="372.1" y1="363" x2="389.4" y2="364"/><line x1="374.9" y1="368.6" x2="392.2" y2="369.6"/><line x1="377.7" y1="374.1" x2="395" y2="375.1"/><line x1="380.5" y1="379.6" x2="397.8" y2="380.6"/><line x1="383.3" y1="385.2" x2="400.6" y2="386.2"/><line x1="308.5" y1="201.4" x2="325.8" y2="202.4"/><line x1="311.3" y1="207" x2="328.6" y2="208"/><line x1="314.1" y1="212.5" x2="331.4" y2="213.5"/><line x1="316.9" y1="218" x2="334.2" y2="219"/><line x1="319.7" y1="223.6" x2="337" y2="224.6"/><line x1="322.4" y1="229.1" x2="339.8" y2="230.1"/><line x1="325.2" y1="234.6" x2="342.5" y2="235.6"/><line x1="328" y1="240.2" x2="345.3" y2="241.2"/><line x1="330.8" y1="245.7" x2="348.1" y2="246.7"/><line x1="333.6" y1="251.2" x2="350.9" y2="252.2"/><line x1="336.4" y1="256.8" x2="353.7" y2="257.8"/><line x1="339.2" y1="262.3" x2="356.5" y2="263.3"/><line x1="342" y1="267.9" x2="359.3" y2="268.9"/><line x1="344.8" y1="273.4" x2="362.1" y2="274.4"/><line x1="347.6" y1="278.9" x2="364.9" y2="279.9"/><line x1="350.4" y1="284.5" x2="367.7" y2="285.5"/><line x1="353.1" y1="290" x2="370.4" y2="291"/><line x1="355.9" y1="295.5" x2="373.2" y2="296.5"/><line x1="358.7" y1="301.1" x2="376" y2="302.1"/><line x1="361.5" y1="306.6" x2="378.8" y2="307.6"/><line x1="364.3" y1="312.2" x2="381.6" y2="313.2"/><line x1="367.1" y1="317.7" x2="384.4" y2="318.7"/><line x1="369.9" y1="323.2" x2="387.2" y2="324.2"/><line x1="372.7" y1="328.8" x2="390" y2="329.8"/><line x1="375.5" y1="334.3" x2="392.8" y2="335.3"/><line x1="378.2" y1="339.8" x2="395.6" y2="340.8"/><line x1="381" y1="345.4" x2="398.3" y2="346.4"/><line x1="383.8" y1="350.9" x2="401.1" y2="351.9"/><line x1="386.6" y1="356.4" x2="403.9" y2="357.4"/><line x1="389.4" y1="362" x2="406.7" y2="363"/><line x1="392.2" y1="367.5" x2="409.5" y2="368.5"/><line x1="395" y1="373.1" x2="412.3" y2="374.1"/><line x1="397.8" y1="378.6" x2="415.1" y2="379.6"/><line x1="400.6" y1="384.1" x2="417.9" y2="385.1"/><line x1="325.8" y1="200.4" x2="343.1" y2="201.4"/><line x1="328.6" y1="205.9" x2="345.9" y2="206.9"/><line x1="331.4" y1="211.5" x2="348.7" y2="212.5"/><line x1="334.2" y1="217" x2="351.5" y2="218"/><line x1="337" y1="222.5" x2="354.3" y2="223.5"/><line x1="339.8" y1="228.1" x2="357.1" y2="229.1"/><line x1="342.5" y1="233.6" x2="359.8" y2="234.6"/><line x1="345.3" y1="239.1" x2="362.6" y2="240.1"/><line x1="348.1" y1="244.7" x2="365.4" y2="245.7"/><line x1="350.9" y1="250.2" x2="368.2" y2="251.2"/><line x1="353.7" y1="255.7" x2="371" y2="256.7"/><line x1="356.5" y1="261.3" x2="373.8" y2="262.3"/><line x1="359.3" y1="266.8" x2="376.6" y2="267.8"/><line x1="362.1" y1="272.4" x2="379.4" y2="273.4"/><line x1="364.9" y1="277.9" x2="382.2" y2="278.9"/><line x1="367.7" y1="283.4" x2="385" y2="284.4"/><line x1="370.4" y1="289" x2="387.7" y2="290"/><line x1="373.2" y1="294.5" x2="390.5" y2="295.5"/><line x1="376" y1="300" x2="393.3" y2="301"/><line x1="378.8" y1="305.6" x2="396.1" y2="306.6"/><line x1="381.6" y1="311.1" x2="398.9" y2="312.1"/><line x1="384.4" y1="316.7" x2="401.7" y2="317.7"/><line x1="387.2" y1="322.2" x2="404.5" y2="323.2"/><line x1="390" y1="327.7" x2="407.3" y2="328.7"/><line x1="392.8" y1="333.3" x2="410.1" y2="334.3"/><line x1="395.6" y1="338.8" x2="412.9" y2="339.8"/><line x1="398.3" y1="344.3" x2="415.6" y2="345.3"/><line x1="401.1" y1="349.9" x2="418.4" y2="350.9"/><line x1="403.9" y1="355.4" x2="421.2" y2="356.4"/><line x1="406.7" y1="360.9" x2="424" y2="361.9"/><line x1="409.5" y1="366.5" x2="426.8" y2="367.5"/><line x1="412.3" y1="372" x2="429.6" y2="373"/><line x1="415.1" y1="377.6" x2="432.4" y2="378.6"/><line x1="417.9" y1="383.1" x2="435.2" y2="384.1"/><line x1="343.1" y1="199.3" x2="360.4" y2="200.3"/><line x1="345.9" y1="204.9" x2="363.2" y2="205.9"/><line x1="348.7" y1="210.4" x2="366" y2="211.4"/><line x1="351.5" y1="216" x2="368.8" y2="217"/><line x1="354.3" y1="221.5" x2="371.6" y2="222.5"/><line x1="357.1" y1="227" x2="374.4" y2="228"/><line x1="359.8" y1="232.6" x2="377.1" y2="233.6"/><line x1="362.6" y1="238.1" x2="379.9" y2="239.1"/><line x1="365.4" y1="243.6" x2="382.7" y2="244.6"/><line x1="368.2" y1="249.2" x2="385.5" y2="250.2"/><line x1="371" y1="254.7" x2="388.3" y2="255.7"/><line x1="373.8" y1="260.2" x2="391.1" y2="261.2"/><line x1="376.6" y1="265.8" x2="393.9" y2="266.8"/><line x1="379.4" y1="271.3" x2="396.7" y2="272.3"/><line x1="382.2" y1="276.9" x2="399.5" y2="277.9"/><line x1="385" y1="282.4" x2="402.3" y2="283.4"/><line x1="387.7" y1="287.9" x2="405" y2="288.9"/><line x1="390.5" y1="293.5" x2="407.8" y2="294.5"/><line x1="393.3" y1="299" x2="410.6" y2="300"/><line x1="396.1" y1="304.5" x2="413.4" y2="305.5"/><line x1="398.9" y1="310.1" x2="416.2" y2="311.1"/><line x1="401.7" y1="315.6" x2="419" y2="316.6"/><line x1="404.5" y1="321.1" x2="421.8" y2="322.1"/><line x1="407.3" y1="326.7" x2="424.6" y2="327.7"/><line x1="410.1" y1="332.2" x2="427.4" y2="333.2"/><line x1="412.9" y1="337.8" x2="430.2" y2="338.8"/><line x1="415.6" y1="343.3" x2="432.9" y2="344.3"/><line x1="418.4" y1="348.8" x2="435.7" y2="349.8"/><line x1="421.2" y1="354.4" x2="438.5" y2="355.4"/><line x1="424" y1="359.9" x2="441.3" y2="360.9"/><line x1="426.8" y1="365.4" x2="444.1" y2="366.4"/><line x1="429.6" y1="371" x2="446.9" y2="372"/><line x1="432.4" y1="376.5" x2="449.7" y2="377.5"/><line x1="435.2" y1="382.1" x2="452.5" y2="383.1"/><line x1="360.4" y1="198.3" x2="377.7" y2="199.3"/><line x1="363.2" y1="203.8" x2="380.5" y2="204.8"/><line x1="366" y1="209.4" x2="383.3" y2="210.4"/><line x1="368.8" y1="214.9" x2="386.1" y2="215.9"/><line x1="371.6" y1="220.5" x2="388.9" y2="221.5"/><line x1="374.3" y1="226" x2="391.6" y2="227"/><line x1="377.1" y1="231.5" x2="394.4" y2="232.5"/><line x1="379.9" y1="237.1" x2="397.2" y2="238.1"/><line x1="382.7" y1="242.6" x2="400" y2="243.6"/><line x1="385.5" y1="248.1" x2="402.8" y2="249.1"/><line x1="388.3" y1="253.7" x2="405.6" y2="254.7"/><line x1="391.1" y1="259.2" x2="408.4" y2="260.2"/><line x1="393.9" y1="264.7" x2="411.2" y2="265.7"/><line x1="396.7" y1="270.3" x2="414" y2="271.3"/><line x1="399.5" y1="275.8" x2="416.8" y2="276.8"/><line x1="402.2" y1="281.4" x2="419.6" y2="282.4"/><line x1="405" y1="286.9" x2="422.3" y2="287.9"/><line x1="407.8" y1="292.4" x2="425.1" y2="293.4"/><line x1="410.6" y1="298" x2="427.9" y2="299"/><line x1="413.4" y1="303.5" x2="430.7" y2="304.5"/><line x1="416.2" y1="309" x2="433.5" y2="310"/><line x1="419" y1="314.6" x2="436.3" y2="315.6"/><line x1="421.8" y1="320.1" x2="439.1" y2="321.1"/><line x1="424.6" y1="325.6" x2="441.9" y2="326.6"/><line x1="427.4" y1="331.2" x2="444.7" y2="332.2"/><line x1="430.1" y1="336.7" x2="447.4" y2="337.7"/><line x1="432.9" y1="342.3" x2="450.2" y2="343.3"/><line x1="435.7" y1="347.8" x2="453" y2="348.8"/><line x1="438.5" y1="353.3" x2="455.8" y2="354.3"/><line x1="441.3" y1="358.9" x2="458.6" y2="359.9"/><line x1="444.1" y1="364.4" x2="461.4" y2="365.4"/><line x1="446.9" y1="369.9" x2="464.2" y2="370.9"/><line x1="449.7" y1="375.5" x2="467" y2="376.5"/><line x1="452.5" y1="381" x2="469.8" y2="382"/><line x1="377.7" y1="197.3" x2="395" y2="198.3"/><line x1="380.5" y1="202.8" x2="397.8" y2="203.8"/><line x1="383.3" y1="208.3" x2="400.6" y2="209.3"/><line x1="386.1" y1="213.9" x2="403.4" y2="214.9"/><line x1="388.9" y1="219.4" x2="406.2" y2="220.4"/><line x1="391.7" y1="225" x2="409" y2="226"/><line x1="394.4" y1="230.5" x2="411.7" y2="231.5"/><line x1="397.2" y1="236" x2="414.5" y2="237"/><line x1="400" y1="241.6" x2="417.3" y2="242.6"/><line x1="402.8" y1="247.1" x2="420.1" y2="248.1"/><line x1="405.6" y1="252.6" x2="422.9" y2="253.6"/><line x1="408.4" y1="258.2" x2="425.7" y2="259.2"/><line x1="411.2" y1="263.7" x2="428.5" y2="264.7"/><line x1="414" y1="269.2" x2="431.3" y2="270.2"/><line x1="416.8" y1="274.8" x2="434.1" y2="275.8"/><line x1="419.6" y1="280.3" x2="436.9" y2="281.3"/><line x1="422.3" y1="285.9" x2="439.6" y2="286.9"/><line x1="425.1" y1="291.4" x2="442.4" y2="292.4"/><line x1="427.9" y1="296.9" x2="445.2" y2="297.9"/><line x1="430.7" y1="302.5" x2="448" y2="303.5"/><line x1="433.5" y1="308" x2="450.8" y2="309"/><line x1="436.3" y1="313.5" x2="453.6" y2="314.5"/><line x1="439.1" y1="319.1" x2="456.4" y2="320.1"/><line x1="441.9" y1="324.6" x2="459.2" y2="325.6"/><line x1="444.7" y1="330.1" x2="462" y2="331.1"/><line x1="447.5" y1="335.7" x2="464.8" y2="336.7"/><line x1="450.2" y1="341.2" x2="467.5" y2="342.2"/><line x1="453" y1="346.8" x2="470.3" y2="347.8"/><line x1="455.8" y1="352.3" x2="473.1" y2="353.3"/><line x1="458.6" y1="357.8" x2="475.9" y2="358.8"/><line x1="461.4" y1="363.4" x2="478.7" y2="364.4"/><line x1="464.2" y1="368.9" x2="481.5" y2="369.9"/><line x1="467" y1="374.4" x2="484.3" y2="375.4"/><line x1="469.8" y1="380" x2="487.1" y2="381"/><line x1="395" y1="196.2" x2="412.3" y2="197.2"/><line x1="397.8" y1="201.8" x2="415.1" y2="202.8"/><line x1="400.6" y1="207.3" x2="417.9" y2="208.3"/><line x1="403.4" y1="212.8" x2="420.7" y2="213.8"/><line x1="406.2" y1="218.4" x2="423.5" y2="219.4"/><line x1="408.9" y1="223.9" x2="426.2" y2="224.9"/><line x1="411.7" y1="229.4" x2="429" y2="230.4"/><line x1="414.5" y1="235" x2="431.8" y2="236"/><line x1="417.3" y1="240.5" x2="434.6" y2="241.5"/><line x1="420.1" y1="246.1" x2="437.4" y2="247.1"/><line x1="422.9" y1="251.6" x2="440.2" y2="252.6"/><line x1="425.7" y1="257.1" x2="443" y2="258.1"/><line x1="428.5" y1="262.7" x2="445.8" y2="263.7"/><line x1="431.3" y1="268.2" x2="448.6" y2="269.2"/><line x1="434.1" y1="273.7" x2="451.4" y2="274.7"/><line x1="436.9" y1="279.3" x2="454.2" y2="280.3"/><line x1="439.6" y1="284.8" x2="456.9" y2="285.8"/><line x1="442.4" y1="290.4" x2="459.7" y2="291.4"/><line x1="445.2" y1="295.9" x2="462.5" y2="296.9"/><line x1="448" y1="301.4" x2="465.3" y2="302.4"/><line x1="450.8" y1="307" x2="468.1" y2="308"/><line x1="453.6" y1="312.5" x2="470.9" y2="313.5"/><line x1="456.4" y1="318" x2="473.7" y2="319"/><line x1="459.2" y1="323.6" x2="476.5" y2="324.6"/><line x1="462" y1="329.1" x2="479.3" y2="330.1"/><line x1="464.8" y1="334.6" x2="482.1" y2="335.6"/><line x1="467.5" y1="340.2" x2="484.8" y2="341.2"/><line x1="470.3" y1="345.7" x2="487.6" y2="346.7"/><line x1="473.1" y1="351.3" x2="490.4" y2="352.3"/><line x1="475.9" y1="356.8" x2="493.2" y2="357.8"/><line x1="478.7" y1="362.3" x2="496" y2="363.3"/><line x1="481.5" y1="367.9" x2="498.8" y2="368.9"/><line x1="484.3" y1="373.4" x2="501.6" y2="374.4"/><line x1="487.1" y1="378.9" x2="504.4" y2="379.9"/><line x1="412.3" y1="195.2" x2="429.6" y2="196.2"/><line x1="415.1" y1="200.7" x2="432.4" y2="201.7"/><line x1="417.9" y1="206.3" x2="435.2" y2="207.3"/><line x1="420.7" y1="211.8" x2="438" y2="212.8"/><line x1="423.5" y1="217.3" x2="440.8" y2="218.3"/><line x1="426.2" y1="222.9" x2="443.6" y2="223.9"/><line x1="429" y1="228.4" x2="446.3" y2="229.4"/><line x1="431.8" y1="233.9" x2="449.1" y2="234.9"/><line x1="434.6" y1="239.5" x2="451.9" y2="240.5"/><line x1="437.4" y1="245" x2="454.7" y2="246"/><line x1="440.2" y1="250.6" x2="457.5" y2="251.6"/><line x1="443" y1="256.1" x2="460.3" y2="257.1"/><line x1="445.8" y1="261.6" x2="463.1" y2="262.6"/><line x1="448.6" y1="267.2" x2="465.9" y2="268.2"/><line x1="451.4" y1="272.7" x2="468.7" y2="273.7"/><line x1="454.2" y1="278.2" x2="471.5" y2="279.2"/><line x1="456.9" y1="283.8" x2="474.2" y2="284.8"/><line x1="459.7" y1="289.3" x2="477" y2="290.3"/><line x1="462.5" y1="294.9" x2="479.8" y2="295.9"/><line x1="465.3" y1="300.4" x2="482.6" y2="301.4"/><line x1="468.1" y1="305.9" x2="485.4" y2="306.9"/><line x1="470.9" y1="311.5" x2="488.2" y2="312.5"/><line x1="473.7" y1="317" x2="491" y2="318"/><line x1="476.5" y1="322.5" x2="493.8" y2="323.5"/><line x1="479.3" y1="328.1" x2="496.6" y2="329.1"/><line x1="482.1" y1="333.6" x2="499.4" y2="334.6"/><line x1="484.8" y1="339.1" x2="502.1" y2="340.1"/><line x1="487.6" y1="344.7" x2="504.9" y2="345.7"/><line x1="490.4" y1="350.2" x2="507.7" y2="351.2"/><line x1="493.2" y1="355.8" x2="510.5" y2="356.8"/><line x1="496" y1="361.3" x2="513.3" y2="362.3"/><line x1="498.8" y1="366.8" x2="516.1" y2="367.8"/><line x1="501.6" y1="372.4" x2="518.9" y2="373.4"/><line x1="504.4" y1="377.9" x2="521.7" y2="378.9"/><line x1="429.6" y1="194.2" x2="446.9" y2="195.2"/><line x1="432.4" y1="199.7" x2="449.7" y2="200.7"/><line x1="435.2" y1="205.2" x2="452.5" y2="206.2"/><line x1="438" y1="210.8" x2="455.3" y2="211.8"/><line x1="440.8" y1="216.3" x2="458.1" y2="217.3"/><line x1="443.6" y1="221.8" x2="460.9" y2="222.8"/><line x1="446.3" y1="227.4" x2="463.6" y2="228.4"/><line x1="449.1" y1="232.9" x2="466.4" y2="233.9"/><line x1="451.9" y1="238.4" x2="469.2" y2="239.4"/><line x1="454.7" y1="244" x2="472" y2="245"/><line x1="457.5" y1="249.5" x2="474.8" y2="250.5"/><line x1="460.3" y1="255.1" x2="477.6" y2="256.1"/><line x1="463.1" y1="260.6" x2="480.4" y2="261.6"/><line x1="465.9" y1="266.1" x2="483.2" y2="267.1"/><line x1="468.7" y1="271.7" x2="486" y2="272.7"/><line x1="471.5" y1="277.2" x2="488.8" y2="278.2"/><line x1="474.2" y1="282.7" x2="491.5" y2="283.7"/><line x1="477" y1="288.3" x2="494.3" y2="289.3"/><line x1="479.8" y1="293.8" x2="497.1" y2="294.8"/><line x1="482.6" y1="299.3" x2="499.9" y2="300.3"/><line x1="485.4" y1="304.9" x2="502.7" y2="305.9"/><line x1="488.2" y1="310.4" x2="505.5" y2="311.4"/><line x1="491" y1="316" x2="508.3" y2="317"/><line x1="493.8" y1="321.5" x2="511.1" y2="322.5"/><line x1="496.6" y1="327" x2="513.9" y2="328"/><line x1="499.4" y1="332.6" x2="516.6" y2="333.6"/><line x1="502.1" y1="338.1" x2="519.4" y2="339.1"/><line x1="504.9" y1="343.6" x2="522.2" y2="344.6"/><line x1="507.7" y1="349.2" x2="525" y2="350.2"/><line x1="510.5" y1="354.7" x2="527.8" y2="355.7"/><line x1="513.3" y1="360.3" x2="530.6" y2="361.3"/><line x1="516.1" y1="365.8" x2="533.4" y2="366.8"/><line x1="518.9" y1="371.3" x2="536.2" y2="372.3"/><line x1="521.7" y1="376.9" x2="539" y2="377.9"/><line x1="446.9" y1="193.1" x2="464.2" y2="194.1"/><line x1="449.7" y1="198.7" x2="467" y2="199.7"/><line x1="452.5" y1="204.2" x2="469.8" y2="205.2"/><line x1="455.3" y1="209.7" x2="472.6" y2="210.7"/><line x1="458.1" y1="215.3" x2="475.4" y2="216.3"/><line x1="460.9" y1="220.8" x2="478.2" y2="221.8"/><line x1="463.6" y1="226.3" x2="480.9" y2="227.3"/><line x1="466.4" y1="231.9" x2="483.7" y2="232.9"/><line x1="469.2" y1="237.4" x2="486.5" y2="238.4"/><line x1="472" y1="242.9" x2="489.3" y2="243.9"/><line x1="474.8" y1="248.5" x2="492.1" y2="249.5"/><line x1="477.6" y1="254" x2="494.9" y2="255"/><line x1="480.4" y1="259.6" x2="497.7" y2="260.6"/><line x1="483.2" y1="265.1" x2="500.5" y2="266.1"/><line x1="486" y1="270.6" x2="503.3" y2="271.6"/><line x1="488.8" y1="276.2" x2="506.1" y2="277.2"/><line x1="491.5" y1="281.7" x2="508.8" y2="282.7"/><line x1="494.3" y1="287.2" x2="511.6" y2="288.2"/><line x1="497.1" y1="292.8" x2="514.4" y2="293.8"/><line x1="499.9" y1="298.3" x2="517.2" y2="299.3"/><line x1="502.7" y1="303.8" x2="520" y2="304.8"/><line x1="505.5" y1="309.4" x2="522.8" y2="310.4"/><line x1="508.3" y1="314.9" x2="525.6" y2="315.9"/><line x1="511.1" y1="320.5" x2="528.4" y2="321.5"/><line x1="513.9" y1="326" x2="531.2" y2="327"/><line x1="516.7" y1="331.5" x2="534" y2="332.5"/><line x1="519.4" y1="337.1" x2="536.7" y2="338.1"/><line x1="522.2" y1="342.6" x2="539.5" y2="343.6"/><line x1="525" y1="348.1" x2="542.3" y2="349.1"/><line x1="527.8" y1="353.7" x2="545.1" y2="354.7"/><line x1="530.6" y1="359.2" x2="547.9" y2="360.2"/><line x1="533.4" y1="364.8" x2="550.7" y2="365.8"/><line x1="536.2" y1="370.3" x2="553.5" y2="371.3"/><line x1="539" y1="375.8" x2="556.3" y2="376.8"/><line x1="464.2" y1="192.1" x2="481.5" y2="193.1"/><line x1="467" y1="197.6" x2="484.3" y2="198.6"/><line x1="469.8" y1="203.2" x2="487.1" y2="204.2"/><line x1="472.6" y1="208.7" x2="489.9" y2="209.7"/><line x1="475.4" y1="214.2" x2="492.7" y2="215.2"/><line x1="478.1" y1="219.8" x2="495.4" y2="220.8"/><line x1="480.9" y1="225.3" x2="498.2" y2="226.3"/><line x1="483.7" y1="230.8" x2="501" y2="231.8"/><line x1="486.5" y1="236.4" x2="503.8" y2="237.4"/><line x1="489.3" y1="241.9" x2="506.6" y2="242.9"/><line x1="492.1" y1="247.4" x2="509.4" y2="248.4"/><line x1="494.9" y1="253" x2="512.2" y2="254"/><line x1="497.7" y1="258.5" x2="515" y2="259.5"/><line x1="500.5" y1="264.1" x2="517.8" y2="265.1"/><line x1="503.3" y1="269.6" x2="520.6" y2="270.6"/><line x1="506.1" y1="275.1" x2="523.4" y2="276.1"/><line x1="508.8" y1="280.7" x2="526.1" y2="281.7"/><line x1="511.6" y1="286.2" x2="528.9" y2="287.2"/><line x1="514.4" y1="291.7" x2="531.7" y2="292.7"/><line x1="517.2" y1="297.3" x2="534.5" y2="298.3"/><line x1="520" y1="302.8" x2="537.3" y2="303.8"/><line x1="522.8" y1="308.3" x2="540.1" y2="309.3"/><line x1="525.6" y1="313.9" x2="542.9" y2="314.9"/><line x1="528.4" y1="319.4" x2="545.7" y2="320.4"/><line x1="531.2" y1="325" x2="548.5" y2="326"/><line x1="534" y1="330.5" x2="551.2" y2="331.5"/><line x1="536.7" y1="336" x2="554" y2="337"/><line x1="539.5" y1="341.6" x2="556.8" y2="342.6"/><line x1="542.3" y1="347.1" x2="559.6" y2="348.1"/><line x1="545.1" y1="352.6" x2="562.4" y2="353.6"/><line x1="547.9" y1="358.2" x2="565.2" y2="359.2"/><line x1="550.7" y1="363.7" x2="568" y2="364.7"/><line x1="553.5" y1="369.2" x2="570.8" y2="370.2"/><line x1="556.3" y1="374.8" x2="573.6" y2="375.8"/><line x1="481.5" y1="191" x2="498.8" y2="192"/><line x1="484.3" y1="196.6" x2="501.6" y2="197.6"/><line x1="487.1" y1="202.1" x2="504.4" y2="203.1"/><line x1="489.9" y1="207.6" x2="507.2" y2="208.6"/><line x1="492.7" y1="213.2" x2="510" y2="214.2"/><line x1="495.4" y1="218.7" x2="512.8" y2="219.7"/><line x1="498.2" y1="224.3" x2="515.5" y2="225.3"/><line x1="501" y1="229.8" x2="518.3" y2="230.8"/><line x1="503.8" y1="235.3" x2="521.1" y2="236.3"/><line x1="506.6" y1="240.9" x2="523.9" y2="241.9"/><line x1="509.4" y1="246.4" x2="526.7" y2="247.4"/><line x1="512.2" y1="251.9" x2="529.5" y2="252.9"/><line x1="515" y1="257.5" x2="532.3" y2="258.5"/><line x1="517.8" y1="263" x2="535.1" y2="264"/><line x1="520.6" y1="268.6" x2="537.9" y2="269.6"/><line x1="523.4" y1="274.1" x2="540.6" y2="275.1"/><line x1="526.1" y1="279.6" x2="543.4" y2="280.6"/><line x1="528.9" y1="285.2" x2="546.2" y2="286.2"/><line x1="531.7" y1="290.7" x2="549" y2="291.7"/><line x1="534.5" y1="296.2" x2="551.8" y2="297.2"/><line x1="537.3" y1="301.8" x2="554.6" y2="302.8"/><line x1="540.1" y1="307.3" x2="557.4" y2="308.3"/><line x1="542.9" y1="312.8" x2="560.2" y2="313.8"/><line x1="545.7" y1="318.4" x2="563" y2="319.4"/><line x1="548.5" y1="323.9" x2="565.8" y2="324.9"/><line x1="551.2" y1="329.5" x2="568.5" y2="330.5"/><line x1="554" y1="335" x2="571.3" y2="336"/><line x1="556.8" y1="340.5" x2="574.1" y2="341.5"/><line x1="559.6" y1="346.1" x2="576.9" y2="347.1"/><line x1="562.4" y1="351.6" x2="579.7" y2="352.6"/><line x1="565.2" y1="357.1" x2="582.5" y2="358.1"/><line x1="568" y1="362.7" x2="585.3" y2="363.7"/><line x1="570.8" y1="368.2" x2="588.1" y2="369.2"/><line x1="573.6" y1="373.7" x2="590.9" y2="374.7"/><line x1="498.8" y1="190" x2="516.1" y2="191"/><line x1="501.6" y1="195.5" x2="518.9" y2="196.5"/><line x1="504.4" y1="201.1" x2="521.7" y2="202.1"/><line x1="507.2" y1="206.6" x2="524.5" y2="207.6"/><line x1="510" y1="212.1" x2="527.3" y2="213.1"/><line x1="512.8" y1="217.7" x2="530" y2="218.7"/><line x1="515.5" y1="223.2" x2="532.8" y2="224.2"/><line x1="518.3" y1="228.8" x2="535.6" y2="229.8"/><line x1="521.1" y1="234.3" x2="538.4" y2="235.3"/><line x1="523.9" y1="239.8" x2="541.2" y2="240.8"/><line x1="526.7" y1="245.4" x2="544" y2="246.4"/><line x1="529.5" y1="250.9" x2="546.8" y2="251.9"/><line x1="532.3" y1="256.4" x2="549.6" y2="257.4"/><line x1="535.1" y1="262" x2="552.4" y2="263"/><line x1="537.9" y1="267.5" x2="555.2" y2="268.5"/><line x1="540.6" y1="273.1" x2="557.9" y2="274.1"/><line x1="543.4" y1="278.6" x2="560.7" y2="279.6"/><line x1="546.2" y1="284.1" x2="563.5" y2="285.1"/><line x1="549" y1="289.7" x2="566.3" y2="290.7"/><line x1="551.8" y1="295.2" x2="569.1" y2="296.2"/><line x1="554.6" y1="300.7" x2="571.9" y2="301.7"/><line x1="557.4" y1="306.3" x2="574.7" y2="307.3"/><line x1="560.2" y1="311.8" x2="577.5" y2="312.8"/><line x1="563" y1="317.3" x2="580.3" y2="318.3"/><line x1="565.8" y1="322.9" x2="583.1" y2="323.9"/><line x1="568.5" y1="328.4" x2="585.8" y2="329.4"/><line x1="571.3" y1="334" x2="588.6" y2="335"/><line x1="574.1" y1="339.5" x2="591.4" y2="340.5"/><line x1="576.9" y1="345" x2="594.2" y2="346"/><line x1="579.7" y1="350.6" x2="597" y2="351.6"/><line x1="582.5" y1="356.1" x2="599.8" y2="357.1"/><line x1="585.3" y1="361.6" x2="602.6" y2="362.6"/><line x1="588.1" y1="367.2" x2="605.4" y2="368.2"/><line x1="590.9" y1="372.7" x2="608.2" y2="373.7"/><line x1="516.1" y1="189" x2="533.4" y2="190"/><line x1="518.9" y1="194.5" x2="536.2" y2="195.5"/><line x1="521.7" y1="200" x2="539" y2="201"/><line x1="524.5" y1="205.6" x2="541.8" y2="206.6"/><line x1="527.3" y1="211.1" x2="544.6" y2="212.1"/><line x1="530.1" y1="216.6" x2="547.4" y2="217.6"/><line x1="532.8" y1="222.2" x2="550.1" y2="223.2"/><line x1="535.6" y1="227.7" x2="552.9" y2="228.7"/><line x1="538.4" y1="233.3" x2="555.7" y2="234.3"/><line x1="541.2" y1="238.8" x2="558.5" y2="239.8"/><line x1="544" y1="244.3" x2="561.3" y2="245.3"/><line x1="546.8" y1="249.9" x2="564.1" y2="250.9"/><line x1="549.6" y1="255.4" x2="566.9" y2="256.4"/><line x1="552.4" y1="260.9" x2="569.7" y2="261.9"/><line x1="555.2" y1="266.5" x2="572.5" y2="267.5"/><line x1="558" y1="272" x2="575.2" y2="273"/><line x1="560.7" y1="277.5" x2="578" y2="278.5"/><line x1="563.5" y1="283.1" x2="580.8" y2="284.1"/><line x1="566.3" y1="288.6" x2="583.6" y2="289.6"/><line x1="569.1" y1="294.2" x2="586.4" y2="295.2"/><line x1="571.9" y1="299.7" x2="589.2" y2="300.7"/><line x1="574.7" y1="305.2" x2="592" y2="306.2"/><line x1="577.5" y1="310.8" x2="594.8" y2="311.8"/><line x1="580.3" y1="316.3" x2="597.6" y2="317.3"/><line x1="583.1" y1="321.8" x2="600.4" y2="322.8"/><line x1="585.9" y1="327.4" x2="603.1" y2="328.4"/><line x1="588.6" y1="332.9" x2="605.9" y2="333.9"/><line x1="591.4" y1="338.5" x2="608.7" y2="339.5"/><line x1="594.2" y1="344" x2="611.5" y2="345"/><line x1="597" y1="349.5" x2="614.3" y2="350.5"/><line x1="599.8" y1="355.1" x2="617.1" y2="356.1"/><line x1="602.6" y1="360.6" x2="619.9" y2="361.6"/><line x1="605.4" y1="366.1" x2="622.7" y2="367.1"/><line x1="608.2" y1="371.7" x2="625.5" y2="372.7"/><line x1="533.4" y1="187.9" x2="550.7" y2="188.9"/><line x1="536.2" y1="193.5" x2="553.5" y2="194.5"/><line x1="539" y1="199" x2="556.3" y2="200"/><line x1="541.8" y1="204.5" x2="559.1" y2="205.5"/><line x1="544.6" y1="210.1" x2="561.9" y2="211.1"/><line x1="547.4" y1="215.6" x2="564.7" y2="216.6"/><line x1="550.1" y1="221.1" x2="567.4" y2="222.1"/><line x1="552.9" y1="226.7" x2="570.2" y2="227.7"/><line x1="555.7" y1="232.2" x2="573" y2="233.2"/><line x1="558.5" y1="237.8" x2="575.8" y2="238.8"/><line x1="561.3" y1="243.3" x2="578.6" y2="244.3"/><line x1="564.1" y1="248.8" x2="581.4" y2="249.8"/><line x1="566.9" y1="254.4" x2="584.2" y2="255.4"/><line x1="569.7" y1="259.9" x2="587" y2="260.9"/><line x1="572.5" y1="265.4" x2="589.8" y2="266.4"/><line x1="575.3" y1="271" x2="592.6" y2="272"/><line x1="578" y1="276.5" x2="595.3" y2="277.5"/><line x1="580.8" y1="282" x2="598.1" y2="283"/><line x1="583.6" y1="287.6" x2="600.9" y2="288.6"/><line x1="586.4" y1="293.1" x2="603.7" y2="294.1"/><line x1="589.2" y1="298.7" x2="606.5" y2="299.7"/><line x1="592" y1="304.2" x2="609.3" y2="305.2"/><line x1="594.8" y1="309.7" x2="612.1" y2="310.7"/><line x1="597.6" y1="315.3" x2="614.9" y2="316.3"/><line x1="600.4" y1="320.8" x2="617.7" y2="321.8"/><line x1="603.2" y1="326.3" x2="620.5" y2="327.3"/><line x1="605.9" y1="331.9" x2="623.2" y2="332.9"/><line x1="608.7" y1="337.4" x2="626" y2="338.4"/><line x1="611.5" y1="343" x2="628.8" y2="344"/><line x1="614.3" y1="348.5" x2="631.6" y2="349.5"/><line x1="617.1" y1="354" x2="634.4" y2="355"/><line x1="619.9" y1="359.6" x2="637.2" y2="360.6"/><line x1="622.7" y1="365.1" x2="640" y2="366.1"/><line x1="625.5" y1="370.6" x2="642.8" y2="371.6"/></g>
<g stroke="#5a4a3c" stroke-width="0.6" opacity="0.6"><line x1="31.7" y1="218.2" x2="126.2" y2="405.8"/><line x1="49" y1="217.2" x2="143.5" y2="404.7"/><line x1="66.3" y1="216.2" x2="160.8" y2="403.7"/><line x1="83.6" y1="215.1" x2="178.1" y2="402.6"/><line x1="100.9" y1="214.1" x2="195.4" y2="401.6"/><line x1="118.2" y1="213" x2="212.7" y2="400.6"/><line x1="135.5" y1="212" x2="230" y2="399.5"/><line x1="152.8" y1="211" x2="247.3" y2="398.5"/><line x1="170.1" y1="209.9" x2="264.6" y2="397.5"/><line x1="187.4" y1="208.9" x2="281.9" y2="396.4"/><line x1="204.7" y1="207.8" x2="299.2" y2="395.4"/><line x1="222" y1="206.8" x2="316.5" y2="394.3"/><line x1="239.3" y1="205.8" x2="333.8" y2="393.3"/><line x1="256.6" y1="204.7" x2="351.1" y2="392.3"/><line x1="273.9" y1="203.7" x2="368.4" y2="391.2"/><line x1="291.2" y1="202.7" x2="385.7" y2="390.2"/><line x1="308.5" y1="201.6" x2="403" y2="389.1"/><line x1="325.8" y1="200.6" x2="420.3" y2="388.1"/><line x1="343.1" y1="199.5" x2="437.6" y2="387.1"/><line x1="360.4" y1="198.5" x2="454.9" y2="386"/><line x1="377.7" y1="197.5" x2="472.2" y2="385"/><line x1="395" y1="196.4" x2="489.5" y2="384"/><line x1="412.3" y1="195.4" x2="506.8" y2="382.9"/><line x1="429.6" y1="194.4" x2="524.1" y2="381.9"/><line x1="446.9" y1="193.3" x2="541.4" y2="380.8"/><line x1="464.2" y1="192.3" x2="558.7" y2="379.8"/><line x1="481.5" y1="191.2" x2="576" y2="378.8"/><line x1="498.8" y1="190.2" x2="593.3" y2="377.7"/><line x1="516.1" y1="189.2" x2="610.6" y2="376.7"/><line x1="533.4" y1="188.1" x2="627.9" y2="375.7"/></g>
<g fill="url(#go)"><circle cx="31.7" cy="218" r="1.5"/><circle cx="34.5" cy="223.6" r="1.5"/><circle cx="37.3" cy="229.1" r="1.5"/><circle cx="40.1" cy="234.6" r="1.5"/><circle cx="42.9" cy="240.2" r="1.5"/><circle cx="45.6" cy="245.7" r="1.5"/><circle cx="48.4" cy="251.2" r="1.5"/><circle cx="51.2" cy="256.8" r="1.5"/><circle cx="54" cy="262.3" r="1.5"/><circle cx="56.8" cy="267.9" r="1.5"/><circle cx="59.6" cy="273.4" r="1.5"/><circle cx="62.4" cy="278.9" r="1.5"/><circle cx="65.2" cy="284.5" r="1.5"/><circle cx="68" cy="290" r="1.5"/><circle cx="70.8" cy="295.5" r="1.5"/><circle cx="73.5" cy="301.1" r="1.5"/><circle cx="76.3" cy="306.6" r="1.5"/><circle cx="79.1" cy="312.2" r="1.5"/><circle cx="81.9" cy="317.7" r="1.5"/><circle cx="84.7" cy="323.2" r="1.5"/><circle cx="87.5" cy="328.8" r="1.5"/><circle cx="90.3" cy="334.3" r="1.5"/><circle cx="93.1" cy="339.8" r="1.5"/><circle cx="95.9" cy="345.4" r="1.5"/><circle cx="98.7" cy="350.9" r="1.5"/><circle cx="101.4" cy="356.4" r="1.5"/><circle cx="104.2" cy="362" r="1.5"/><circle cx="107" cy="367.5" r="1.5"/><circle cx="109.8" cy="373.1" r="1.5"/><circle cx="112.6" cy="378.6" r="1.5"/><circle cx="115.4" cy="384.1" r="1.5"/><circle cx="118.2" cy="389.7" r="1.5"/><circle cx="121" cy="395.2" r="1.5"/><circle cx="123.8" cy="400.7" r="1.5"/><circle cx="49" cy="217" r="1.5"/><circle cx="51.8" cy="222.5" r="1.5"/><circle cx="54.6" cy="228.1" r="1.5"/><circle cx="57.4" cy="233.6" r="1.5"/><circle cx="60.2" cy="239.1" r="1.5"/><circle cx="63" cy="244.7" r="1.5"/><circle cx="65.7" cy="250.2" r="1.5"/><circle cx="68.5" cy="255.7" r="1.5"/><circle cx="71.3" cy="261.3" r="1.5"/><circle cx="74.1" cy="266.8" r="1.5"/><circle cx="76.9" cy="272.4" r="1.5"/><circle cx="79.7" cy="277.9" r="1.5"/><circle cx="82.5" cy="283.4" r="1.5"/><circle cx="85.3" cy="289" r="1.5"/><circle cx="88.1" cy="294.5" r="1.5"/><circle cx="90.8" cy="300" r="1.5"/><circle cx="93.6" cy="305.6" r="1.5"/><circle cx="96.4" cy="311.1" r="1.5"/><circle cx="99.2" cy="316.6" r="1.5"/><circle cx="102" cy="322.2" r="1.5"/><circle cx="104.8" cy="327.7" r="1.5"/><circle cx="107.6" cy="333.3" r="1.5"/><circle cx="110.4" cy="338.8" r="1.5"/><circle cx="113.2" cy="344.3" r="1.5"/><circle cx="116" cy="349.9" r="1.5"/><circle cx="118.8" cy="355.4" r="1.5"/><circle cx="121.5" cy="360.9" r="1.5"/><circle cx="124.3" cy="366.5" r="1.5"/><circle cx="127.1" cy="372" r="1.5"/><circle cx="129.9" cy="377.6" r="1.5"/><circle cx="132.7" cy="383.1" r="1.5"/><circle cx="135.5" cy="388.6" r="1.5"/><circle cx="138.3" cy="394.2" r="1.5"/><circle cx="141.1" cy="399.7" r="1.5"/><circle cx="66.3" cy="216" r="1.5"/><circle cx="69.1" cy="221.5" r="1.5"/><circle cx="71.9" cy="227" r="1.5"/><circle cx="74.7" cy="232.6" r="1.5"/><circle cx="77.5" cy="238.1" r="1.5"/><circle cx="80.2" cy="243.6" r="1.5"/><circle cx="83" cy="249.2" r="1.5"/><circle cx="85.8" cy="254.7" r="1.5"/><circle cx="88.6" cy="260.2" r="1.5"/><circle cx="91.4" cy="265.8" r="1.5"/><circle cx="94.2" cy="271.3" r="1.5"/><circle cx="97" cy="276.9" r="1.5"/><circle cx="99.8" cy="282.4" r="1.5"/><circle cx="102.6" cy="287.9" r="1.5"/><circle cx="105.4" cy="293.5" r="1.5"/><circle cx="108.2" cy="299" r="1.5"/><circle cx="110.9" cy="304.5" r="1.5"/><circle cx="113.7" cy="310.1" r="1.5"/><circle cx="116.5" cy="315.6" r="1.5"/><circle cx="119.3" cy="321.1" r="1.5"/><circle cx="122.1" cy="326.7" r="1.5"/><circle cx="124.9" cy="332.2" r="1.5"/><circle cx="127.7" cy="337.8" r="1.5"/><circle cx="130.5" cy="343.3" r="1.5"/><circle cx="133.3" cy="348.8" r="1.5"/><circle cx="136.1" cy="354.4" r="1.5"/><circle cx="138.8" cy="359.9" r="1.5"/><circle cx="141.6" cy="365.4" r="1.5"/><circle cx="144.4" cy="371" r="1.5"/><circle cx="147.2" cy="376.5" r="1.5"/><circle cx="150" cy="382.1" r="1.5"/><circle cx="152.8" cy="387.6" r="1.5"/><circle cx="155.6" cy="393.1" r="1.5"/><circle cx="158.4" cy="398.7" r="1.5"/><circle cx="83.6" cy="214.9" r="1.5"/><circle cx="86.4" cy="220.5" r="1.5"/><circle cx="89.2" cy="226" r="1.5"/><circle cx="92" cy="231.5" r="1.5"/><circle cx="94.8" cy="237.1" r="1.5"/><circle cx="97.5" cy="242.6" r="1.5"/><circle cx="100.3" cy="248.1" r="1.5"/><circle cx="103.1" cy="253.7" r="1.5"/><circle cx="105.9" cy="259.2" r="1.5"/><circle cx="108.7" cy="264.7" r="1.5"/><circle cx="111.5" cy="270.3" r="1.5"/><circle cx="114.3" cy="275.8" r="1.5"/><circle cx="117.1" cy="281.4" r="1.5"/><circle cx="119.9" cy="286.9" r="1.5"/><circle cx="122.7" cy="292.4" r="1.5"/><circle cx="125.4" cy="298" r="1.5"/><circle cx="128.2" cy="303.5" r="1.5"/><circle cx="131" cy="309" r="1.5"/><circle cx="133.8" cy="314.6" r="1.5"/><circle cx="136.6" cy="320.1" r="1.5"/><circle cx="139.4" cy="325.6" r="1.5"/><circle cx="142.2" cy="331.2" r="1.5"/><circle cx="145" cy="336.7" r="1.5"/><circle cx="147.8" cy="342.3" r="1.5"/><circle cx="150.6" cy="347.8" r="1.5"/><circle cx="153.3" cy="353.3" r="1.5"/><circle cx="156.1" cy="358.9" r="1.5"/><circle cx="158.9" cy="364.4" r="1.5"/><circle cx="161.7" cy="369.9" r="1.5"/><circle cx="164.5" cy="375.5" r="1.5"/><circle cx="167.3" cy="381" r="1.5"/><circle cx="170.1" cy="386.5" r="1.5"/><circle cx="172.9" cy="392.1" r="1.5"/><circle cx="175.7" cy="397.6" r="1.5"/><circle cx="100.9" cy="213.9" r="1.5"/><circle cx="103.7" cy="219.4" r="1.5"/><circle cx="106.5" cy="224.9" r="1.5"/><circle cx="109.3" cy="230.5" r="1.5"/><circle cx="112.1" cy="236" r="1.5"/><circle cx="114.9" cy="241.6" r="1.5"/><circle cx="117.6" cy="247.1" r="1.5"/><circle cx="120.4" cy="252.6" r="1.5"/><circle cx="123.2" cy="258.2" r="1.5"/><circle cx="126" cy="263.7" r="1.5"/><circle cx="128.8" cy="269.2" r="1.5"/><circle cx="131.6" cy="274.8" r="1.5"/><circle cx="134.4" cy="280.3" r="1.5"/><circle cx="137.2" cy="285.9" r="1.5"/><circle cx="140" cy="291.4" r="1.5"/><circle cx="142.8" cy="296.9" r="1.5"/><circle cx="145.5" cy="302.5" r="1.5"/><circle cx="148.3" cy="308" r="1.5"/><circle cx="151.1" cy="313.5" r="1.5"/><circle cx="153.9" cy="319.1" r="1.5"/><circle cx="156.7" cy="324.6" r="1.5"/><circle cx="159.5" cy="330.1" r="1.5"/><circle cx="162.3" cy="335.7" r="1.5"/><circle cx="165.1" cy="341.2" r="1.5"/><circle cx="167.9" cy="346.8" r="1.5"/><circle cx="170.7" cy="352.3" r="1.5"/><circle cx="173.4" cy="357.8" r="1.5"/><circle cx="176.2" cy="363.4" r="1.5"/><circle cx="179" cy="368.9" r="1.5"/><circle cx="181.8" cy="374.4" r="1.5"/><circle cx="184.6" cy="380" r="1.5"/><circle cx="187.4" cy="385.5" r="1.5"/><circle cx="190.2" cy="391" r="1.5"/><circle cx="193" cy="396.6" r="1.5"/><circle cx="118.2" cy="212.8" r="1.5"/><circle cx="121" cy="218.4" r="1.5"/><circle cx="123.8" cy="223.9" r="1.5"/><circle cx="126.6" cy="229.4" r="1.5"/><circle cx="129.4" cy="235" r="1.5"/><circle cx="132.2" cy="240.5" r="1.5"/><circle cx="134.9" cy="246.1" r="1.5"/><circle cx="137.7" cy="251.6" r="1.5"/><circle cx="140.5" cy="257.1" r="1.5"/><circle cx="143.3" cy="262.7" r="1.5"/><circle cx="146.1" cy="268.2" r="1.5"/><circle cx="148.9" cy="273.7" r="1.5"/><circle cx="151.7" cy="279.3" r="1.5"/><circle cx="154.5" cy="284.8" r="1.5"/><circle cx="157.3" cy="290.4" r="1.5"/><circle cx="160.1" cy="295.9" r="1.5"/><circle cx="162.8" cy="301.4" r="1.5"/><circle cx="165.6" cy="307" r="1.5"/><circle cx="168.4" cy="312.5" r="1.5"/><circle cx="171.2" cy="318" r="1.5"/><circle cx="174" cy="323.6" r="1.5"/><circle cx="176.8" cy="329.1" r="1.5"/><circle cx="179.6" cy="334.6" r="1.5"/><circle cx="182.4" cy="340.2" r="1.5"/><circle cx="185.2" cy="345.7" r="1.5"/><circle cx="187.9" cy="351.3" r="1.5"/><circle cx="190.7" cy="356.8" r="1.5"/><circle cx="193.5" cy="362.3" r="1.5"/><circle cx="196.3" cy="367.9" r="1.5"/><circle cx="199.1" cy="373.4" r="1.5"/><circle cx="201.9" cy="378.9" r="1.5"/><circle cx="204.7" cy="384.5" r="1.5"/><circle cx="207.5" cy="390" r="1.5"/><circle cx="210.3" cy="395.5" r="1.5"/><circle cx="135.5" cy="211.8" r="1.5"/><circle cx="138.3" cy="217.3" r="1.5"/><circle cx="141.1" cy="222.9" r="1.5"/><circle cx="143.9" cy="228.4" r="1.5"/><circle cx="146.7" cy="233.9" r="1.5"/><circle cx="149.4" cy="239.5" r="1.5"/><circle cx="152.2" cy="245" r="1.5"/><circle cx="155" cy="250.6" r="1.5"/><circle cx="157.8" cy="256.1" r="1.5"/><circle cx="160.6" cy="261.6" r="1.5"/><circle cx="163.4" cy="267.2" r="1.5"/><circle cx="166.2" cy="272.7" r="1.5"/><circle cx="169" cy="278.2" r="1.5"/><circle cx="171.8" cy="283.8" r="1.5"/><circle cx="174.6" cy="289.3" r="1.5"/><circle cx="177.3" cy="294.8" r="1.5"/><circle cx="180.1" cy="300.4" r="1.5"/><circle cx="182.9" cy="305.9" r="1.5"/><circle cx="185.7" cy="311.5" r="1.5"/><circle cx="188.5" cy="317" r="1.5"/><circle cx="191.3" cy="322.5" r="1.5"/><circle cx="194.1" cy="328.1" r="1.5"/><circle cx="196.9" cy="333.6" r="1.5"/><circle cx="199.7" cy="339.1" r="1.5"/><circle cx="202.5" cy="344.7" r="1.5"/><circle cx="205.2" cy="350.2" r="1.5"/><circle cx="208" cy="355.8" r="1.5"/><circle cx="210.8" cy="361.3" r="1.5"/><circle cx="213.6" cy="366.8" r="1.5"/><circle cx="216.4" cy="372.4" r="1.5"/><circle cx="219.2" cy="377.9" r="1.5"/><circle cx="222" cy="383.4" r="1.5"/><circle cx="224.8" cy="389" r="1.5"/><circle cx="227.6" cy="394.5" r="1.5"/><circle cx="152.8" cy="210.8" r="1.5"/><circle cx="155.6" cy="216.3" r="1.5"/><circle cx="158.4" cy="221.8" r="1.5"/><circle cx="161.2" cy="227.4" r="1.5"/><circle cx="164" cy="232.9" r="1.5"/><circle cx="166.8" cy="238.4" r="1.5"/><circle cx="169.5" cy="244" r="1.5"/><circle cx="172.3" cy="249.5" r="1.5"/><circle cx="175.1" cy="255.1" r="1.5"/><circle cx="177.9" cy="260.6" r="1.5"/><circle cx="180.7" cy="266.1" r="1.5"/><circle cx="183.5" cy="271.7" r="1.5"/><circle cx="186.3" cy="277.2" r="1.5"/><circle cx="189.1" cy="282.7" r="1.5"/><circle cx="191.9" cy="288.3" r="1.5"/><circle cx="194.7" cy="293.8" r="1.5"/><circle cx="197.4" cy="299.3" r="1.5"/><circle cx="200.2" cy="304.9" r="1.5"/><circle cx="203" cy="310.4" r="1.5"/><circle cx="205.8" cy="316" r="1.5"/><circle cx="208.6" cy="321.5" r="1.5"/><circle cx="211.4" cy="327" r="1.5"/><circle cx="214.2" cy="332.6" r="1.5"/><circle cx="217" cy="338.1" r="1.5"/><circle cx="219.8" cy="343.6" r="1.5"/><circle cx="222.6" cy="349.2" r="1.5"/><circle cx="225.3" cy="354.7" r="1.5"/><circle cx="228.1" cy="360.3" r="1.5"/><circle cx="230.9" cy="365.8" r="1.5"/><circle cx="233.7" cy="371.3" r="1.5"/><circle cx="236.5" cy="376.9" r="1.5"/><circle cx="239.3" cy="382.4" r="1.5"/><circle cx="242.1" cy="387.9" r="1.5"/><circle cx="244.9" cy="393.5" r="1.5"/><circle cx="170.1" cy="209.7" r="1.5"/><circle cx="172.9" cy="215.3" r="1.5"/><circle cx="175.7" cy="220.8" r="1.5"/><circle cx="178.5" cy="226.3" r="1.5"/><circle cx="181.3" cy="231.9" r="1.5"/><circle cx="184" cy="237.4" r="1.5"/><circle cx="186.8" cy="242.9" r="1.5"/><circle cx="189.6" cy="248.5" r="1.5"/><circle cx="192.4" cy="254" r="1.5"/><circle cx="195.2" cy="259.6" r="1.5"/><circle cx="198" cy="265.1" r="1.5"/><circle cx="200.8" cy="270.6" r="1.5"/><circle cx="203.6" cy="276.2" r="1.5"/><circle cx="206.4" cy="281.7" r="1.5"/><circle cx="209.2" cy="287.2" r="1.5"/><circle cx="211.9" cy="292.8" r="1.5"/><circle cx="214.7" cy="298.3" r="1.5"/><circle cx="217.5" cy="303.8" r="1.5"/><circle cx="220.3" cy="309.4" r="1.5"/><circle cx="223.1" cy="314.9" r="1.5"/><circle cx="225.9" cy="320.5" r="1.5"/><circle cx="228.7" cy="326" r="1.5"/><circle cx="231.5" cy="331.5" r="1.5"/><circle cx="234.3" cy="337.1" r="1.5"/><circle cx="237.1" cy="342.6" r="1.5"/><circle cx="239.8" cy="348.1" r="1.5"/><circle cx="242.6" cy="353.7" r="1.5"/><circle cx="245.4" cy="359.2" r="1.5"/><circle cx="248.2" cy="364.7" r="1.5"/><circle cx="251" cy="370.3" r="1.5"/><circle cx="253.8" cy="375.8" r="1.5"/><circle cx="256.6" cy="381.4" r="1.5"/><circle cx="259.4" cy="386.9" r="1.5"/><circle cx="262.2" cy="392.4" r="1.5"/><circle cx="187.4" cy="208.7" r="1.5"/><circle cx="190.2" cy="214.2" r="1.5"/><circle cx="193" cy="219.8" r="1.5"/><circle cx="195.8" cy="225.3" r="1.5"/><circle cx="198.6" cy="230.8" r="1.5"/><circle cx="201.3" cy="236.4" r="1.5"/><circle cx="204.1" cy="241.9" r="1.5"/><circle cx="206.9" cy="247.4" r="1.5"/><circle cx="209.7" cy="253" r="1.5"/><circle cx="212.5" cy="258.5" r="1.5"/><circle cx="215.3" cy="264.1" r="1.5"/><circle cx="218.1" cy="269.6" r="1.5"/><circle cx="220.9" cy="275.1" r="1.5"/><circle cx="223.7" cy="280.7" r="1.5"/><circle cx="226.5" cy="286.2" r="1.5"/><circle cx="229.2" cy="291.7" r="1.5"/><circle cx="232" cy="297.3" r="1.5"/><circle cx="234.8" cy="302.8" r="1.5"/><circle cx="237.6" cy="308.3" r="1.5"/><circle cx="240.4" cy="313.9" r="1.5"/><circle cx="243.2" cy="319.4" r="1.5"/><circle cx="246" cy="325" r="1.5"/><circle cx="248.8" cy="330.5" r="1.5"/><circle cx="251.6" cy="336" r="1.5"/><circle cx="254.4" cy="341.6" r="1.5"/><circle cx="257.1" cy="347.1" r="1.5"/><circle cx="259.9" cy="352.6" r="1.5"/><circle cx="262.7" cy="358.2" r="1.5"/><circle cx="265.5" cy="363.7" r="1.5"/><circle cx="268.3" cy="369.2" r="1.5"/><circle cx="271.1" cy="374.8" r="1.5"/><circle cx="273.9" cy="380.3" r="1.5"/><circle cx="276.7" cy="385.9" r="1.5"/><circle cx="279.5" cy="391.4" r="1.5"/><circle cx="204.7" cy="207.6" r="1.5"/><circle cx="207.5" cy="213.2" r="1.5"/><circle cx="210.3" cy="218.7" r="1.5"/><circle cx="213.1" cy="224.3" r="1.5"/><circle cx="215.9" cy="229.8" r="1.5"/><circle cx="218.6" cy="235.3" r="1.5"/><circle cx="221.4" cy="240.9" r="1.5"/><circle cx="224.2" cy="246.4" r="1.5"/><circle cx="227" cy="251.9" r="1.5"/><circle cx="229.8" cy="257.5" r="1.5"/><circle cx="232.6" cy="263" r="1.5"/><circle cx="235.4" cy="268.6" r="1.5"/><circle cx="238.2" cy="274.1" r="1.5"/><circle cx="241" cy="279.6" r="1.5"/><circle cx="243.8" cy="285.2" r="1.5"/><circle cx="246.5" cy="290.7" r="1.5"/><circle cx="249.3" cy="296.2" r="1.5"/><circle cx="252.1" cy="301.8" r="1.5"/><circle cx="254.9" cy="307.3" r="1.5"/><circle cx="257.7" cy="312.8" r="1.5"/><circle cx="260.5" cy="318.4" r="1.5"/><circle cx="263.3" cy="323.9" r="1.5"/><circle cx="266.1" cy="329.5" r="1.5"/><circle cx="268.9" cy="335" r="1.5"/><circle cx="271.7" cy="340.5" r="1.5"/><circle cx="274.4" cy="346.1" r="1.5"/><circle cx="277.2" cy="351.6" r="1.5"/><circle cx="280" cy="357.1" r="1.5"/><circle cx="282.8" cy="362.7" r="1.5"/><circle cx="285.6" cy="368.2" r="1.5"/><circle cx="288.4" cy="373.7" r="1.5"/><circle cx="291.2" cy="379.3" r="1.5"/><circle cx="294" cy="384.8" r="1.5"/><circle cx="296.8" cy="390.4" r="1.5"/><circle cx="222" cy="206.6" r="1.5"/><circle cx="224.8" cy="212.1" r="1.5"/><circle cx="227.6" cy="217.7" r="1.5"/><circle cx="230.4" cy="223.2" r="1.5"/><circle cx="233.2" cy="228.8" r="1.5"/><circle cx="235.9" cy="234.3" r="1.5"/><circle cx="238.7" cy="239.8" r="1.5"/><circle cx="241.5" cy="245.4" r="1.5"/><circle cx="244.3" cy="250.9" r="1.5"/><circle cx="247.1" cy="256.4" r="1.5"/><circle cx="249.9" cy="262" r="1.5"/><circle cx="252.7" cy="267.5" r="1.5"/><circle cx="255.5" cy="273" r="1.5"/><circle cx="258.3" cy="278.6" r="1.5"/><circle cx="261.1" cy="284.1" r="1.5"/><circle cx="263.9" cy="289.7" r="1.5"/><circle cx="266.6" cy="295.2" r="1.5"/><circle cx="269.4" cy="300.7" r="1.5"/><circle cx="272.2" cy="306.3" r="1.5"/><circle cx="275" cy="311.8" r="1.5"/><circle cx="277.8" cy="317.3" r="1.5"/><circle cx="280.6" cy="322.9" r="1.5"/><circle cx="283.4" cy="328.4" r="1.5"/><circle cx="286.2" cy="334" r="1.5"/><circle cx="289" cy="339.5" r="1.5"/><circle cx="291.8" cy="345" r="1.5"/><circle cx="294.5" cy="350.6" r="1.5"/><circle cx="297.3" cy="356.1" r="1.5"/><circle cx="300.1" cy="361.6" r="1.5"/><circle cx="302.9" cy="367.2" r="1.5"/><circle cx="305.7" cy="372.7" r="1.5"/><circle cx="308.5" cy="378.2" r="1.5"/><circle cx="311.3" cy="383.8" r="1.5"/><circle cx="314.1" cy="389.3" r="1.5"/><circle cx="239.3" cy="205.6" r="1.5"/><circle cx="242.1" cy="211.1" r="1.5"/><circle cx="244.9" cy="216.6" r="1.5"/><circle cx="247.7" cy="222.2" r="1.5"/><circle cx="250.5" cy="227.7" r="1.5"/><circle cx="253.2" cy="233.3" r="1.5"/><circle cx="256" cy="238.8" r="1.5"/><circle cx="258.8" cy="244.3" r="1.5"/><circle cx="261.6" cy="249.9" r="1.5"/><circle cx="264.4" cy="255.4" r="1.5"/><circle cx="267.2" cy="260.9" r="1.5"/><circle cx="270" cy="266.5" r="1.5"/><circle cx="272.8" cy="272" r="1.5"/><circle cx="275.6" cy="277.5" r="1.5"/><circle cx="278.4" cy="283.1" r="1.5"/><circle cx="281.2" cy="288.6" r="1.5"/><circle cx="283.9" cy="294.2" r="1.5"/><circle cx="286.7" cy="299.7" r="1.5"/><circle cx="289.5" cy="305.2" r="1.5"/><circle cx="292.3" cy="310.8" r="1.5"/><circle cx="295.1" cy="316.3" r="1.5"/><circle cx="297.9" cy="321.8" r="1.5"/><circle cx="300.7" cy="327.4" r="1.5"/><circle cx="303.5" cy="332.9" r="1.5"/><circle cx="306.3" cy="338.5" r="1.5"/><circle cx="309.1" cy="344" r="1.5"/><circle cx="311.8" cy="349.5" r="1.5"/><circle cx="314.6" cy="355.1" r="1.5"/><circle cx="317.4" cy="360.6" r="1.5"/><circle cx="320.2" cy="366.1" r="1.5"/><circle cx="323" cy="371.7" r="1.5"/><circle cx="325.8" cy="377.2" r="1.5"/><circle cx="328.6" cy="382.7" r="1.5"/><circle cx="331.4" cy="388.3" r="1.5"/><circle cx="256.6" cy="204.5" r="1.5"/><circle cx="259.4" cy="210.1" r="1.5"/><circle cx="262.2" cy="215.6" r="1.5"/><circle cx="265" cy="221.1" r="1.5"/><circle cx="267.8" cy="226.7" r="1.5"/><circle cx="270.6" cy="232.2" r="1.5"/><circle cx="273.3" cy="237.8" r="1.5"/><circle cx="276.1" cy="243.3" r="1.5"/><circle cx="278.9" cy="248.8" r="1.5"/><circle cx="281.7" cy="254.4" r="1.5"/><circle cx="284.5" cy="259.9" r="1.5"/><circle cx="287.3" cy="265.4" r="1.5"/><circle cx="290.1" cy="271" r="1.5"/><circle cx="292.9" cy="276.5" r="1.5"/><circle cx="295.7" cy="282" r="1.5"/><circle cx="298.5" cy="287.6" r="1.5"/><circle cx="301.2" cy="293.1" r="1.5"/><circle cx="304" cy="298.7" r="1.5"/><circle cx="306.8" cy="304.2" r="1.5"/><circle cx="309.6" cy="309.7" r="1.5"/><circle cx="312.4" cy="315.3" r="1.5"/><circle cx="315.2" cy="320.8" r="1.5"/><circle cx="318" cy="326.3" r="1.5"/><circle cx="320.8" cy="331.9" r="1.5"/><circle cx="323.6" cy="337.4" r="1.5"/><circle cx="326.4" cy="342.9" r="1.5"/><circle cx="329.1" cy="348.5" r="1.5"/><circle cx="331.9" cy="354" r="1.5"/><circle cx="334.7" cy="359.6" r="1.5"/><circle cx="337.5" cy="365.1" r="1.5"/><circle cx="340.3" cy="370.6" r="1.5"/><circle cx="343.1" cy="376.2" r="1.5"/><circle cx="345.9" cy="381.7" r="1.5"/><circle cx="348.7" cy="387.2" r="1.5"/><circle cx="273.9" cy="203.5" r="1.5"/><circle cx="276.7" cy="209" r="1.5"/><circle cx="279.5" cy="214.6" r="1.5"/><circle cx="282.3" cy="220.1" r="1.5"/><circle cx="285.1" cy="225.6" r="1.5"/><circle cx="287.8" cy="231.2" r="1.5"/><circle cx="290.6" cy="236.7" r="1.5"/><circle cx="293.4" cy="242.3" r="1.5"/><circle cx="296.2" cy="247.8" r="1.5"/><circle cx="299" cy="253.3" r="1.5"/><circle cx="301.8" cy="258.9" r="1.5"/><circle cx="304.6" cy="264.4" r="1.5"/><circle cx="307.4" cy="269.9" r="1.5"/><circle cx="310.2" cy="275.5" r="1.5"/><circle cx="313" cy="281" r="1.5"/><circle cx="315.8" cy="286.5" r="1.5"/><circle cx="318.5" cy="292.1" r="1.5"/><circle cx="321.3" cy="297.6" r="1.5"/><circle cx="324.1" cy="303.2" r="1.5"/><circle cx="326.9" cy="308.7" r="1.5"/><circle cx="329.7" cy="314.2" r="1.5"/><circle cx="332.5" cy="319.8" r="1.5"/><circle cx="335.3" cy="325.3" r="1.5"/><circle cx="338.1" cy="330.8" r="1.5"/><circle cx="340.9" cy="336.4" r="1.5"/><circle cx="343.6" cy="341.9" r="1.5"/><circle cx="346.4" cy="347.4" r="1.5"/><circle cx="349.2" cy="353" r="1.5"/><circle cx="352" cy="358.5" r="1.5"/><circle cx="354.8" cy="364.1" r="1.5"/><circle cx="357.6" cy="369.6" r="1.5"/><circle cx="360.4" cy="375.1" r="1.5"/><circle cx="363.2" cy="380.7" r="1.5"/><circle cx="366" cy="386.2" r="1.5"/><circle cx="291.2" cy="202.5" r="1.5"/><circle cx="294" cy="208" r="1.5"/><circle cx="296.8" cy="213.5" r="1.5"/><circle cx="299.6" cy="219.1" r="1.5"/><circle cx="302.4" cy="224.6" r="1.5"/><circle cx="305.2" cy="230.1" r="1.5"/><circle cx="307.9" cy="235.7" r="1.5"/><circle cx="310.7" cy="241.2" r="1.5"/><circle cx="313.5" cy="246.8" r="1.5"/><circle cx="316.3" cy="252.3" r="1.5"/><circle cx="319.1" cy="257.8" r="1.5"/><circle cx="321.9" cy="263.4" r="1.5"/><circle cx="324.7" cy="268.9" r="1.5"/><circle cx="327.5" cy="274.4" r="1.5"/><circle cx="330.3" cy="280" r="1.5"/><circle cx="333.1" cy="285.5" r="1.5"/><circle cx="335.8" cy="291" r="1.5"/><circle cx="338.6" cy="296.6" r="1.5"/><circle cx="341.4" cy="302.1" r="1.5"/><circle cx="344.2" cy="307.7" r="1.5"/><circle cx="347" cy="313.2" r="1.5"/><circle cx="349.8" cy="318.7" r="1.5"/><circle cx="352.6" cy="324.3" r="1.5"/><circle cx="355.4" cy="329.8" r="1.5"/><circle cx="358.2" cy="335.3" r="1.5"/><circle cx="361" cy="340.9" r="1.5"/><circle cx="363.7" cy="346.4" r="1.5"/><circle cx="366.5" cy="351.9" r="1.5"/><circle cx="369.3" cy="357.5" r="1.5"/><circle cx="372.1" cy="363" r="1.5"/><circle cx="374.9" cy="368.6" r="1.5"/><circle cx="377.7" cy="374.1" r="1.5"/><circle cx="380.5" cy="379.6" r="1.5"/><circle cx="383.3" cy="385.2" r="1.5"/><circle cx="308.5" cy="201.4" r="1.5"/><circle cx="311.3" cy="207" r="1.5"/><circle cx="314.1" cy="212.5" r="1.5"/><circle cx="316.9" cy="218" r="1.5"/><circle cx="319.7" cy="223.6" r="1.5"/><circle cx="322.4" cy="229.1" r="1.5"/><circle cx="325.2" cy="234.6" r="1.5"/><circle cx="328" cy="240.2" r="1.5"/><circle cx="330.8" cy="245.7" r="1.5"/><circle cx="333.6" cy="251.2" r="1.5"/><circle cx="336.4" cy="256.8" r="1.5"/><circle cx="339.2" cy="262.3" r="1.5"/><circle cx="342" cy="267.9" r="1.5"/><circle cx="344.8" cy="273.4" r="1.5"/><circle cx="347.6" cy="278.9" r="1.5"/><circle cx="350.4" cy="284.5" r="1.5"/><circle cx="353.1" cy="290" r="1.5"/><circle cx="355.9" cy="295.5" r="1.5"/><circle cx="358.7" cy="301.1" r="1.5"/><circle cx="361.5" cy="306.6" r="1.5"/><circle cx="364.3" cy="312.2" r="1.5"/><circle cx="367.1" cy="317.7" r="1.5"/><circle cx="369.9" cy="323.2" r="1.5"/><circle cx="372.7" cy="328.8" r="1.5"/><circle cx="375.5" cy="334.3" r="1.5"/><circle cx="378.2" cy="339.8" r="1.5"/><circle cx="381" cy="345.4" r="1.5"/><circle cx="383.8" cy="350.9" r="1.5"/><circle cx="386.6" cy="356.4" r="1.5"/><circle cx="389.4" cy="362" r="1.5"/><circle cx="392.2" cy="367.5" r="1.5"/><circle cx="395" cy="373.1" r="1.5"/><circle cx="397.8" cy="378.6" r="1.5"/><circle cx="400.6" cy="384.1" r="1.5"/><circle cx="325.8" cy="200.4" r="1.5"/><circle cx="328.6" cy="205.9" r="1.5"/><circle cx="331.4" cy="211.5" r="1.5"/><circle cx="334.2" cy="217" r="1.5"/><circle cx="337" cy="222.5" r="1.5"/><circle cx="339.8" cy="228.1" r="1.5"/><circle cx="342.5" cy="233.6" r="1.5"/><circle cx="345.3" cy="239.1" r="1.5"/><circle cx="348.1" cy="244.7" r="1.5"/><circle cx="350.9" cy="250.2" r="1.5"/><circle cx="353.7" cy="255.7" r="1.5"/><circle cx="356.5" cy="261.3" r="1.5"/><circle cx="359.3" cy="266.8" r="1.5"/><circle cx="362.1" cy="272.4" r="1.5"/><circle cx="364.9" cy="277.9" r="1.5"/><circle cx="367.7" cy="283.4" r="1.5"/><circle cx="370.4" cy="289" r="1.5"/><circle cx="373.2" cy="294.5" r="1.5"/><circle cx="376" cy="300" r="1.5"/><circle cx="378.8" cy="305.6" r="1.5"/><circle cx="381.6" cy="311.1" r="1.5"/><circle cx="384.4" cy="316.7" r="1.5"/><circle cx="387.2" cy="322.2" r="1.5"/><circle cx="390" cy="327.7" r="1.5"/><circle cx="392.8" cy="333.3" r="1.5"/><circle cx="395.6" cy="338.8" r="1.5"/><circle cx="398.3" cy="344.3" r="1.5"/><circle cx="401.1" cy="349.9" r="1.5"/><circle cx="403.9" cy="355.4" r="1.5"/><circle cx="406.7" cy="360.9" r="1.5"/><circle cx="409.5" cy="366.5" r="1.5"/><circle cx="412.3" cy="372" r="1.5"/><circle cx="415.1" cy="377.6" r="1.5"/><circle cx="417.9" cy="383.1" r="1.5"/><circle cx="343.1" cy="199.3" r="1.5"/><circle cx="345.9" cy="204.9" r="1.5"/><circle cx="348.7" cy="210.4" r="1.5"/><circle cx="351.5" cy="216" r="1.5"/><circle cx="354.3" cy="221.5" r="1.5"/><circle cx="357.1" cy="227" r="1.5"/><circle cx="359.8" cy="232.6" r="1.5"/><circle cx="362.6" cy="238.1" r="1.5"/><circle cx="365.4" cy="243.6" r="1.5"/><circle cx="368.2" cy="249.2" r="1.5"/><circle cx="371" cy="254.7" r="1.5"/><circle cx="373.8" cy="260.2" r="1.5"/><circle cx="376.6" cy="265.8" r="1.5"/><circle cx="379.4" cy="271.3" r="1.5"/><circle cx="382.2" cy="276.9" r="1.5"/><circle cx="385" cy="282.4" r="1.5"/><circle cx="387.7" cy="287.9" r="1.5"/><circle cx="390.5" cy="293.5" r="1.5"/><circle cx="393.3" cy="299" r="1.5"/><circle cx="396.1" cy="304.5" r="1.5"/><circle cx="398.9" cy="310.1" r="1.5"/><circle cx="401.7" cy="315.6" r="1.5"/><circle cx="404.5" cy="321.1" r="1.5"/><circle cx="407.3" cy="326.7" r="1.5"/><circle cx="410.1" cy="332.2" r="1.5"/><circle cx="412.9" cy="337.8" r="1.5"/><circle cx="415.6" cy="343.3" r="1.5"/><circle cx="418.4" cy="348.8" r="1.5"/><circle cx="421.2" cy="354.4" r="1.5"/><circle cx="424" cy="359.9" r="1.5"/><circle cx="426.8" cy="365.4" r="1.5"/><circle cx="429.6" cy="371" r="1.5"/><circle cx="432.4" cy="376.5" r="1.5"/><circle cx="435.2" cy="382.1" r="1.5"/><circle cx="360.4" cy="198.3" r="1.5"/><circle cx="363.2" cy="203.8" r="1.5"/><circle cx="366" cy="209.4" r="1.5"/><circle cx="368.8" cy="214.9" r="1.5"/><circle cx="371.6" cy="220.5" r="1.5"/><circle cx="374.3" cy="226" r="1.5"/><circle cx="377.1" cy="231.5" r="1.5"/><circle cx="379.9" cy="237.1" r="1.5"/><circle cx="382.7" cy="242.6" r="1.5"/><circle cx="385.5" cy="248.1" r="1.5"/><circle cx="388.3" cy="253.7" r="1.5"/><circle cx="391.1" cy="259.2" r="1.5"/><circle cx="393.9" cy="264.7" r="1.5"/><circle cx="396.7" cy="270.3" r="1.5"/><circle cx="399.5" cy="275.8" r="1.5"/><circle cx="402.2" cy="281.4" r="1.5"/><circle cx="405" cy="286.9" r="1.5"/><circle cx="407.8" cy="292.4" r="1.5"/><circle cx="410.6" cy="298" r="1.5"/><circle cx="413.4" cy="303.5" r="1.5"/><circle cx="416.2" cy="309" r="1.5"/><circle cx="419" cy="314.6" r="1.5"/><circle cx="421.8" cy="320.1" r="1.5"/><circle cx="424.6" cy="325.6" r="1.5"/><circle cx="427.4" cy="331.2" r="1.5"/><circle cx="430.1" cy="336.7" r="1.5"/><circle cx="432.9" cy="342.3" r="1.5"/><circle cx="435.7" cy="347.8" r="1.5"/><circle cx="438.5" cy="353.3" r="1.5"/><circle cx="441.3" cy="358.9" r="1.5"/><circle cx="444.1" cy="364.4" r="1.5"/><circle cx="446.9" cy="369.9" r="1.5"/><circle cx="449.7" cy="375.5" r="1.5"/><circle cx="452.5" cy="381" r="1.5"/><circle cx="377.7" cy="197.3" r="1.5"/><circle cx="380.5" cy="202.8" r="1.5"/><circle cx="383.3" cy="208.3" r="1.5"/><circle cx="386.1" cy="213.9" r="1.5"/><circle cx="388.9" cy="219.4" r="1.5"/><circle cx="391.7" cy="225" r="1.5"/><circle cx="394.4" cy="230.5" r="1.5"/><circle cx="397.2" cy="236" r="1.5"/><circle cx="400" cy="241.6" r="1.5"/><circle cx="402.8" cy="247.1" r="1.5"/><circle cx="405.6" cy="252.6" r="1.5"/><circle cx="408.4" cy="258.2" r="1.5"/><circle cx="411.2" cy="263.7" r="1.5"/><circle cx="414" cy="269.2" r="1.5"/><circle cx="416.8" cy="274.8" r="1.5"/><circle cx="419.6" cy="280.3" r="1.5"/><circle cx="422.3" cy="285.9" r="1.5"/><circle cx="425.1" cy="291.4" r="1.5"/><circle cx="427.9" cy="296.9" r="1.5"/><circle cx="430.7" cy="302.5" r="1.5"/><circle cx="433.5" cy="308" r="1.5"/><circle cx="436.3" cy="313.5" r="1.5"/><circle cx="439.1" cy="319.1" r="1.5"/><circle cx="441.9" cy="324.6" r="1.5"/><circle cx="444.7" cy="330.1" r="1.5"/><circle cx="447.5" cy="335.7" r="1.5"/><circle cx="450.2" cy="341.2" r="1.5"/><circle cx="453" cy="346.8" r="1.5"/><circle cx="455.8" cy="352.3" r="1.5"/><circle cx="458.6" cy="357.8" r="1.5"/><circle cx="461.4" cy="363.4" r="1.5"/><circle cx="464.2" cy="368.9" r="1.5"/><circle cx="467" cy="374.4" r="1.5"/><circle cx="469.8" cy="380" r="1.5"/><circle cx="395" cy="196.2" r="1.5"/><circle cx="397.8" cy="201.8" r="1.5"/><circle cx="400.6" cy="207.3" r="1.5"/><circle cx="403.4" cy="212.8" r="1.5"/><circle cx="406.2" cy="218.4" r="1.5"/><circle cx="408.9" cy="223.9" r="1.5"/><circle cx="411.7" cy="229.4" r="1.5"/><circle cx="414.5" cy="235" r="1.5"/><circle cx="417.3" cy="240.5" r="1.5"/><circle cx="420.1" cy="246.1" r="1.5"/><circle cx="422.9" cy="251.6" r="1.5"/><circle cx="425.7" cy="257.1" r="1.5"/><circle cx="428.5" cy="262.7" r="1.5"/><circle cx="431.3" cy="268.2" r="1.5"/><circle cx="434.1" cy="273.7" r="1.5"/><circle cx="436.9" cy="279.3" r="1.5"/><circle cx="439.6" cy="284.8" r="1.5"/><circle cx="442.4" cy="290.4" r="1.5"/><circle cx="445.2" cy="295.9" r="1.5"/><circle cx="448" cy="301.4" r="1.5"/><circle cx="450.8" cy="307" r="1.5"/><circle cx="453.6" cy="312.5" r="1.5"/><circle cx="456.4" cy="318" r="1.5"/><circle cx="459.2" cy="323.6" r="1.5"/><circle cx="462" cy="329.1" r="1.5"/><circle cx="464.8" cy="334.6" r="1.5"/><circle cx="467.5" cy="340.2" r="1.5"/><circle cx="470.3" cy="345.7" r="1.5"/><circle cx="473.1" cy="351.3" r="1.5"/><circle cx="475.9" cy="356.8" r="1.5"/><circle cx="478.7" cy="362.3" r="1.5"/><circle cx="481.5" cy="367.9" r="1.5"/><circle cx="484.3" cy="373.4" r="1.5"/><circle cx="487.1" cy="378.9" r="1.5"/><circle cx="412.3" cy="195.2" r="1.5"/><circle cx="415.1" cy="200.7" r="1.5"/><circle cx="417.9" cy="206.3" r="1.5"/><circle cx="420.7" cy="211.8" r="1.5"/><circle cx="423.5" cy="217.3" r="1.5"/><circle cx="426.2" cy="222.9" r="1.5"/><circle cx="429" cy="228.4" r="1.5"/><circle cx="431.8" cy="233.9" r="1.5"/><circle cx="434.6" cy="239.5" r="1.5"/><circle cx="437.4" cy="245" r="1.5"/><circle cx="440.2" cy="250.6" r="1.5"/><circle cx="443" cy="256.1" r="1.5"/><circle cx="445.8" cy="261.6" r="1.5"/><circle cx="448.6" cy="267.2" r="1.5"/><circle cx="451.4" cy="272.7" r="1.5"/><circle cx="454.2" cy="278.2" r="1.5"/><circle cx="456.9" cy="283.8" r="1.5"/><circle cx="459.7" cy="289.3" r="1.5"/><circle cx="462.5" cy="294.9" r="1.5"/><circle cx="465.3" cy="300.4" r="1.5"/><circle cx="468.1" cy="305.9" r="1.5"/><circle cx="470.9" cy="311.5" r="1.5"/><circle cx="473.7" cy="317" r="1.5"/><circle cx="476.5" cy="322.5" r="1.5"/><circle cx="479.3" cy="328.1" r="1.5"/><circle cx="482.1" cy="333.6" r="1.5"/><circle cx="484.8" cy="339.1" r="1.5"/><circle cx="487.6" cy="344.7" r="1.5"/><circle cx="490.4" cy="350.2" r="1.5"/><circle cx="493.2" cy="355.8" r="1.5"/><circle cx="496" cy="361.3" r="1.5"/><circle cx="498.8" cy="366.8" r="1.5"/><circle cx="501.6" cy="372.4" r="1.5"/><circle cx="504.4" cy="377.9" r="1.5"/><circle cx="429.6" cy="194.2" r="1.5"/><circle cx="432.4" cy="199.7" r="1.5"/><circle cx="435.2" cy="205.2" r="1.5"/><circle cx="438" cy="210.8" r="1.5"/><circle cx="440.8" cy="216.3" r="1.5"/><circle cx="443.6" cy="221.8" r="1.5"/><circle cx="446.3" cy="227.4" r="1.5"/><circle cx="449.1" cy="232.9" r="1.5"/><circle cx="451.9" cy="238.4" r="1.5"/><circle cx="454.7" cy="244" r="1.5"/><circle cx="457.5" cy="249.5" r="1.5"/><circle cx="460.3" cy="255.1" r="1.5"/><circle cx="463.1" cy="260.6" r="1.5"/><circle cx="465.9" cy="266.1" r="1.5"/><circle cx="468.7" cy="271.7" r="1.5"/><circle cx="471.5" cy="277.2" r="1.5"/><circle cx="474.2" cy="282.7" r="1.5"/><circle cx="477" cy="288.3" r="1.5"/><circle cx="479.8" cy="293.8" r="1.5"/><circle cx="482.6" cy="299.3" r="1.5"/><circle cx="485.4" cy="304.9" r="1.5"/><circle cx="488.2" cy="310.4" r="1.5"/><circle cx="491" cy="316" r="1.5"/><circle cx="493.8" cy="321.5" r="1.5"/><circle cx="496.6" cy="327" r="1.5"/><circle cx="499.4" cy="332.6" r="1.5"/><circle cx="502.1" cy="338.1" r="1.5"/><circle cx="504.9" cy="343.6" r="1.5"/><circle cx="507.7" cy="349.2" r="1.5"/><circle cx="510.5" cy="354.7" r="1.5"/><circle cx="513.3" cy="360.3" r="1.5"/><circle cx="516.1" cy="365.8" r="1.5"/><circle cx="518.9" cy="371.3" r="1.5"/><circle cx="521.7" cy="376.9" r="1.5"/><circle cx="446.9" cy="193.1" r="1.5"/><circle cx="449.7" cy="198.7" r="1.5"/><circle cx="452.5" cy="204.2" r="1.5"/><circle cx="455.3" cy="209.7" r="1.5"/><circle cx="458.1" cy="215.3" r="1.5"/><circle cx="460.9" cy="220.8" r="1.5"/><circle cx="463.6" cy="226.3" r="1.5"/><circle cx="466.4" cy="231.9" r="1.5"/><circle cx="469.2" cy="237.4" r="1.5"/><circle cx="472" cy="242.9" r="1.5"/><circle cx="474.8" cy="248.5" r="1.5"/><circle cx="477.6" cy="254" r="1.5"/><circle cx="480.4" cy="259.6" r="1.5"/><circle cx="483.2" cy="265.1" r="1.5"/><circle cx="486" cy="270.6" r="1.5"/><circle cx="488.8" cy="276.2" r="1.5"/><circle cx="491.5" cy="281.7" r="1.5"/><circle cx="494.3" cy="287.2" r="1.5"/><circle cx="497.1" cy="292.8" r="1.5"/><circle cx="499.9" cy="298.3" r="1.5"/><circle cx="502.7" cy="303.8" r="1.5"/><circle cx="505.5" cy="309.4" r="1.5"/><circle cx="508.3" cy="314.9" r="1.5"/><circle cx="511.1" cy="320.5" r="1.5"/><circle cx="513.9" cy="326" r="1.5"/><circle cx="516.7" cy="331.5" r="1.5"/><circle cx="519.4" cy="337.1" r="1.5"/><circle cx="522.2" cy="342.6" r="1.5"/><circle cx="525" cy="348.1" r="1.5"/><circle cx="527.8" cy="353.7" r="1.5"/><circle cx="530.6" cy="359.2" r="1.5"/><circle cx="533.4" cy="364.8" r="1.5"/><circle cx="536.2" cy="370.3" r="1.5"/><circle cx="539" cy="375.8" r="1.5"/><circle cx="464.2" cy="192.1" r="1.5"/><circle cx="467" cy="197.6" r="1.5"/><circle cx="469.8" cy="203.2" r="1.5"/><circle cx="472.6" cy="208.7" r="1.5"/><circle cx="475.4" cy="214.2" r="1.5"/><circle cx="478.1" cy="219.8" r="1.5"/><circle cx="480.9" cy="225.3" r="1.5"/><circle cx="483.7" cy="230.8" r="1.5"/><circle cx="486.5" cy="236.4" r="1.5"/><circle cx="489.3" cy="241.9" r="1.5"/><circle cx="492.1" cy="247.4" r="1.5"/><circle cx="494.9" cy="253" r="1.5"/><circle cx="497.7" cy="258.5" r="1.5"/><circle cx="500.5" cy="264.1" r="1.5"/><circle cx="503.3" cy="269.6" r="1.5"/><circle cx="506.1" cy="275.1" r="1.5"/><circle cx="508.8" cy="280.7" r="1.5"/><circle cx="511.6" cy="286.2" r="1.5"/><circle cx="514.4" cy="291.7" r="1.5"/><circle cx="517.2" cy="297.3" r="1.5"/><circle cx="520" cy="302.8" r="1.5"/><circle cx="522.8" cy="308.3" r="1.5"/><circle cx="525.6" cy="313.9" r="1.5"/><circle cx="528.4" cy="319.4" r="1.5"/><circle cx="531.2" cy="325" r="1.5"/><circle cx="534" cy="330.5" r="1.5"/><circle cx="536.7" cy="336" r="1.5"/><circle cx="539.5" cy="341.6" r="1.5"/><circle cx="542.3" cy="347.1" r="1.5"/><circle cx="545.1" cy="352.6" r="1.5"/><circle cx="547.9" cy="358.2" r="1.5"/><circle cx="550.7" cy="363.7" r="1.5"/><circle cx="553.5" cy="369.2" r="1.5"/><circle cx="556.3" cy="374.8" r="1.5"/><circle cx="481.5" cy="191" r="1.5"/><circle cx="484.3" cy="196.6" r="1.5"/><circle cx="487.1" cy="202.1" r="1.5"/><circle cx="489.9" cy="207.6" r="1.5"/><circle cx="492.7" cy="213.2" r="1.5"/><circle cx="495.4" cy="218.7" r="1.5"/><circle cx="498.2" cy="224.3" r="1.5"/><circle cx="501" cy="229.8" r="1.5"/><circle cx="503.8" cy="235.3" r="1.5"/><circle cx="506.6" cy="240.9" r="1.5"/><circle cx="509.4" cy="246.4" r="1.5"/><circle cx="512.2" cy="251.9" r="1.5"/><circle cx="515" cy="257.5" r="1.5"/><circle cx="517.8" cy="263" r="1.5"/><circle cx="520.6" cy="268.6" r="1.5"/><circle cx="523.4" cy="274.1" r="1.5"/><circle cx="526.1" cy="279.6" r="1.5"/><circle cx="528.9" cy="285.2" r="1.5"/><circle cx="531.7" cy="290.7" r="1.5"/><circle cx="534.5" cy="296.2" r="1.5"/><circle cx="537.3" cy="301.8" r="1.5"/><circle cx="540.1" cy="307.3" r="1.5"/><circle cx="542.9" cy="312.8" r="1.5"/><circle cx="545.7" cy="318.4" r="1.5"/><circle cx="548.5" cy="323.9" r="1.5"/><circle cx="551.2" cy="329.5" r="1.5"/><circle cx="554" cy="335" r="1.5"/><circle cx="556.8" cy="340.5" r="1.5"/><circle cx="559.6" cy="346.1" r="1.5"/><circle cx="562.4" cy="351.6" r="1.5"/><circle cx="565.2" cy="357.1" r="1.5"/><circle cx="568" cy="362.7" r="1.5"/><circle cx="570.8" cy="368.2" r="1.5"/><circle cx="573.6" cy="373.7" r="1.5"/><circle cx="498.8" cy="190" r="1.5"/><circle cx="501.6" cy="195.5" r="1.5"/><circle cx="504.4" cy="201.1" r="1.5"/><circle cx="507.2" cy="206.6" r="1.5"/><circle cx="510" cy="212.1" r="1.5"/><circle cx="512.8" cy="217.7" r="1.5"/><circle cx="515.5" cy="223.2" r="1.5"/><circle cx="518.3" cy="228.8" r="1.5"/><circle cx="521.1" cy="234.3" r="1.5"/><circle cx="523.9" cy="239.8" r="1.5"/><circle cx="526.7" cy="245.4" r="1.5"/><circle cx="529.5" cy="250.9" r="1.5"/><circle cx="532.3" cy="256.4" r="1.5"/><circle cx="535.1" cy="262" r="1.5"/><circle cx="537.9" cy="267.5" r="1.5"/><circle cx="540.6" cy="273.1" r="1.5"/><circle cx="543.4" cy="278.6" r="1.5"/><circle cx="546.2" cy="284.1" r="1.5"/><circle cx="549" cy="289.7" r="1.5"/><circle cx="551.8" cy="295.2" r="1.5"/><circle cx="554.6" cy="300.7" r="1.5"/><circle cx="557.4" cy="306.3" r="1.5"/><circle cx="560.2" cy="311.8" r="1.5"/><circle cx="563" cy="317.3" r="1.5"/><circle cx="565.8" cy="322.9" r="1.5"/><circle cx="568.5" cy="328.4" r="1.5"/><circle cx="571.3" cy="334" r="1.5"/><circle cx="574.1" cy="339.5" r="1.5"/><circle cx="576.9" cy="345" r="1.5"/><circle cx="579.7" cy="350.6" r="1.5"/><circle cx="582.5" cy="356.1" r="1.5"/><circle cx="585.3" cy="361.6" r="1.5"/><circle cx="588.1" cy="367.2" r="1.5"/><circle cx="590.9" cy="372.7" r="1.5"/><circle cx="516.1" cy="189" r="1.5"/><circle cx="518.9" cy="194.5" r="1.5"/><circle cx="521.7" cy="200" r="1.5"/><circle cx="524.5" cy="205.6" r="1.5"/><circle cx="527.3" cy="211.1" r="1.5"/><circle cx="530.1" cy="216.6" r="1.5"/><circle cx="532.8" cy="222.2" r="1.5"/><circle cx="535.6" cy="227.7" r="1.5"/><circle cx="538.4" cy="233.3" r="1.5"/><circle cx="541.2" cy="238.8" r="1.5"/><circle cx="544" cy="244.3" r="1.5"/><circle cx="546.8" cy="249.9" r="1.5"/><circle cx="549.6" cy="255.4" r="1.5"/><circle cx="552.4" cy="260.9" r="1.5"/><circle cx="555.2" cy="266.5" r="1.5"/><circle cx="558" cy="272" r="1.5"/><circle cx="560.7" cy="277.5" r="1.5"/><circle cx="563.5" cy="283.1" r="1.5"/><circle cx="566.3" cy="288.6" r="1.5"/><circle cx="569.1" cy="294.2" r="1.5"/><circle cx="571.9" cy="299.7" r="1.5"/><circle cx="574.7" cy="305.2" r="1.5"/><circle cx="577.5" cy="310.8" r="1.5"/><circle cx="580.3" cy="316.3" r="1.5"/><circle cx="583.1" cy="321.8" r="1.5"/><circle cx="585.9" cy="327.4" r="1.5"/><circle cx="588.6" cy="332.9" r="1.5"/><circle cx="591.4" cy="338.5" r="1.5"/><circle cx="594.2" cy="344" r="1.5"/><circle cx="597" cy="349.5" r="1.5"/><circle cx="599.8" cy="355.1" r="1.5"/><circle cx="602.6" cy="360.6" r="1.5"/><circle cx="605.4" cy="366.1" r="1.5"/><circle cx="608.2" cy="371.7" r="1.5"/><circle cx="533.4" cy="187.9" r="1.5"/><circle cx="536.2" cy="193.5" r="1.5"/><circle cx="539" cy="199" r="1.5"/><circle cx="541.8" cy="204.5" r="1.5"/><circle cx="544.6" cy="210.1" r="1.5"/><circle cx="547.4" cy="215.6" r="1.5"/><circle cx="550.1" cy="221.1" r="1.5"/><circle cx="552.9" cy="226.7" r="1.5"/><circle cx="555.7" cy="232.2" r="1.5"/><circle cx="558.5" cy="237.8" r="1.5"/><circle cx="561.3" cy="243.3" r="1.5"/><circle cx="564.1" cy="248.8" r="1.5"/><circle cx="566.9" cy="254.4" r="1.5"/><circle cx="569.7" cy="259.9" r="1.5"/><circle cx="572.5" cy="265.4" r="1.5"/><circle cx="575.3" cy="271" r="1.5"/><circle cx="578" cy="276.5" r="1.5"/><circle cx="580.8" cy="282" r="1.5"/><circle cx="583.6" cy="287.6" r="1.5"/><circle cx="586.4" cy="293.1" r="1.5"/><circle cx="589.2" cy="298.7" r="1.5"/><circle cx="592" cy="304.2" r="1.5"/><circle cx="594.8" cy="309.7" r="1.5"/><circle cx="597.6" cy="315.3" r="1.5"/><circle cx="600.4" cy="320.8" r="1.5"/><circle cx="603.2" cy="326.3" r="1.5"/><circle cx="605.9" cy="331.9" r="1.5"/><circle cx="608.7" cy="337.4" r="1.5"/><circle cx="611.5" cy="343" r="1.5"/><circle cx="614.3" cy="348.5" r="1.5"/><circle cx="617.1" cy="354" r="1.5"/><circle cx="619.9" cy="359.6" r="1.5"/><circle cx="622.7" cy="365.1" r="1.5"/><circle cx="625.5" cy="370.6" r="1.5"/></g>
<g fill="url(#gg)"><circle cx="44.2" cy="218.8" r="1.8"/><circle cx="47" cy="224.4" r="1.8"/><circle cx="49.8" cy="229.9" r="1.8"/><circle cx="52.6" cy="235.4" r="1.8"/><circle cx="55.4" cy="241" r="1.8"/><circle cx="58.1" cy="246.5" r="1.8"/><circle cx="60.9" cy="252" r="1.8"/><circle cx="63.7" cy="257.6" r="1.8"/><circle cx="66.5" cy="263.1" r="1.8"/><circle cx="69.3" cy="268.7" r="1.8"/><circle cx="72.1" cy="274.2" r="1.8"/><circle cx="74.9" cy="279.7" r="1.8"/><circle cx="77.7" cy="285.3" r="1.8"/><circle cx="80.5" cy="290.8" r="1.8"/><circle cx="83.3" cy="296.3" r="1.8"/><circle cx="86" cy="301.9" r="1.8"/><circle cx="88.8" cy="307.4" r="1.8"/><circle cx="91.6" cy="313" r="1.8"/><circle cx="94.4" cy="318.5" r="1.8"/><circle cx="97.2" cy="324" r="1.8"/><circle cx="100" cy="329.6" r="1.8"/><circle cx="102.8" cy="335.1" r="1.8"/><circle cx="105.6" cy="340.6" r="1.8"/><circle cx="108.4" cy="346.2" r="1.8"/><circle cx="111.2" cy="351.7" r="1.8"/><circle cx="113.9" cy="357.2" r="1.8"/><circle cx="116.7" cy="362.8" r="1.8"/><circle cx="119.5" cy="368.3" r="1.8"/><circle cx="122.3" cy="373.9" r="1.8"/><circle cx="125.1" cy="379.4" r="1.8"/><circle cx="127.9" cy="384.9" r="1.8"/><circle cx="130.7" cy="390.5" r="1.8"/><circle cx="133.5" cy="396" r="1.8"/><circle cx="136.3" cy="401.5" r="1.8"/><circle cx="61.5" cy="217.8" r="1.8"/><circle cx="64.3" cy="223.3" r="1.8"/><circle cx="67.1" cy="228.9" r="1.8"/><circle cx="69.9" cy="234.4" r="1.8"/><circle cx="72.7" cy="239.9" r="1.8"/><circle cx="75.5" cy="245.5" r="1.8"/><circle cx="78.2" cy="251" r="1.8"/><circle cx="81" cy="256.5" r="1.8"/><circle cx="83.8" cy="262.1" r="1.8"/><circle cx="86.6" cy="267.6" r="1.8"/><circle cx="89.4" cy="273.2" r="1.8"/><circle cx="92.2" cy="278.7" r="1.8"/><circle cx="95" cy="284.2" r="1.8"/><circle cx="97.8" cy="289.8" r="1.8"/><circle cx="100.6" cy="295.3" r="1.8"/><circle cx="103.3" cy="300.8" r="1.8"/><circle cx="106.1" cy="306.4" r="1.8"/><circle cx="108.9" cy="311.9" r="1.8"/><circle cx="111.7" cy="317.4" r="1.8"/><circle cx="114.5" cy="323" r="1.8"/><circle cx="117.3" cy="328.5" r="1.8"/><circle cx="120.1" cy="334.1" r="1.8"/><circle cx="122.9" cy="339.6" r="1.8"/><circle cx="125.7" cy="345.1" r="1.8"/><circle cx="128.5" cy="350.7" r="1.8"/><circle cx="131.2" cy="356.2" r="1.8"/><circle cx="134" cy="361.7" r="1.8"/><circle cx="136.8" cy="367.3" r="1.8"/><circle cx="139.6" cy="372.8" r="1.8"/><circle cx="142.4" cy="378.4" r="1.8"/><circle cx="145.2" cy="383.9" r="1.8"/><circle cx="148" cy="389.4" r="1.8"/><circle cx="150.8" cy="395" r="1.8"/><circle cx="153.6" cy="400.5" r="1.8"/><circle cx="78.8" cy="216.8" r="1.8"/><circle cx="81.6" cy="222.3" r="1.8"/><circle cx="84.4" cy="227.8" r="1.8"/><circle cx="87.2" cy="233.4" r="1.8"/><circle cx="90" cy="238.9" r="1.8"/><circle cx="92.8" cy="244.4" r="1.8"/><circle cx="95.5" cy="250" r="1.8"/><circle cx="98.3" cy="255.5" r="1.8"/><circle cx="101.1" cy="261" r="1.8"/><circle cx="103.9" cy="266.6" r="1.8"/><circle cx="106.7" cy="272.1" r="1.8"/><circle cx="109.5" cy="277.7" r="1.8"/><circle cx="112.3" cy="283.2" r="1.8"/><circle cx="115.1" cy="288.7" r="1.8"/><circle cx="117.9" cy="294.3" r="1.8"/><circle cx="120.7" cy="299.8" r="1.8"/><circle cx="123.4" cy="305.3" r="1.8"/><circle cx="126.2" cy="310.9" r="1.8"/><circle cx="129" cy="316.4" r="1.8"/><circle cx="131.8" cy="321.9" r="1.8"/><circle cx="134.6" cy="327.5" r="1.8"/><circle cx="137.4" cy="333" r="1.8"/><circle cx="140.2" cy="338.6" r="1.8"/><circle cx="143" cy="344.1" r="1.8"/><circle cx="145.8" cy="349.6" r="1.8"/><circle cx="148.6" cy="355.2" r="1.8"/><circle cx="151.3" cy="360.7" r="1.8"/><circle cx="154.1" cy="366.2" r="1.8"/><circle cx="156.9" cy="371.8" r="1.8"/><circle cx="159.7" cy="377.3" r="1.8"/><circle cx="162.5" cy="382.9" r="1.8"/><circle cx="165.3" cy="388.4" r="1.8"/><circle cx="168.1" cy="393.9" r="1.8"/><circle cx="170.9" cy="399.5" r="1.8"/><circle cx="96.1" cy="215.7" r="1.8"/><circle cx="98.9" cy="221.3" r="1.8"/><circle cx="101.7" cy="226.8" r="1.8"/><circle cx="104.5" cy="232.3" r="1.8"/><circle cx="107.3" cy="237.9" r="1.8"/><circle cx="110" cy="243.4" r="1.8"/><circle cx="112.8" cy="248.9" r="1.8"/><circle cx="115.6" cy="254.5" r="1.8"/><circle cx="118.4" cy="260" r="1.8"/><circle cx="121.2" cy="265.5" r="1.8"/><circle cx="124" cy="271.1" r="1.8"/><circle cx="126.8" cy="276.6" r="1.8"/><circle cx="129.6" cy="282.2" r="1.8"/><circle cx="132.4" cy="287.7" r="1.8"/><circle cx="135.2" cy="293.2" r="1.8"/><circle cx="137.9" cy="298.8" r="1.8"/><circle cx="140.7" cy="304.3" r="1.8"/><circle cx="143.5" cy="309.8" r="1.8"/><circle cx="146.3" cy="315.4" r="1.8"/><circle cx="149.1" cy="320.9" r="1.8"/><circle cx="151.9" cy="326.4" r="1.8"/><circle cx="154.7" cy="332" r="1.8"/><circle cx="157.5" cy="337.5" r="1.8"/><circle cx="160.3" cy="343.1" r="1.8"/><circle cx="163.1" cy="348.6" r="1.8"/><circle cx="165.8" cy="354.1" r="1.8"/><circle cx="168.6" cy="359.7" r="1.8"/><circle cx="171.4" cy="365.2" r="1.8"/><circle cx="174.2" cy="370.7" r="1.8"/><circle cx="177" cy="376.3" r="1.8"/><circle cx="179.8" cy="381.8" r="1.8"/><circle cx="182.6" cy="387.3" r="1.8"/><circle cx="185.4" cy="392.9" r="1.8"/><circle cx="188.2" cy="398.4" r="1.8"/><circle cx="113.4" cy="214.7" r="1.8"/><circle cx="116.2" cy="220.2" r="1.8"/><circle cx="119" cy="225.7" r="1.8"/><circle cx="121.8" cy="231.3" r="1.8"/><circle cx="124.6" cy="236.8" r="1.8"/><circle cx="127.4" cy="242.4" r="1.8"/><circle cx="130.1" cy="247.9" r="1.8"/><circle cx="132.9" cy="253.4" r="1.8"/><circle cx="135.7" cy="259" r="1.8"/><circle cx="138.5" cy="264.5" r="1.8"/><circle cx="141.3" cy="270" r="1.8"/><circle cx="144.1" cy="275.6" r="1.8"/><circle cx="146.9" cy="281.1" r="1.8"/><circle cx="149.7" cy="286.7" r="1.8"/><circle cx="152.5" cy="292.2" r="1.8"/><circle cx="155.2" cy="297.7" r="1.8"/><circle cx="158" cy="303.3" r="1.8"/><circle cx="160.8" cy="308.8" r="1.8"/><circle cx="163.6" cy="314.3" r="1.8"/><circle cx="166.4" cy="319.9" r="1.8"/><circle cx="169.2" cy="325.4" r="1.8"/><circle cx="172" cy="330.9" r="1.8"/><circle cx="174.8" cy="336.5" r="1.8"/><circle cx="177.6" cy="342" r="1.8"/><circle cx="180.4" cy="347.6" r="1.8"/><circle cx="183.2" cy="353.1" r="1.8"/><circle cx="185.9" cy="358.6" r="1.8"/><circle cx="188.7" cy="364.2" r="1.8"/><circle cx="191.5" cy="369.7" r="1.8"/><circle cx="194.3" cy="375.2" r="1.8"/><circle cx="197.1" cy="380.8" r="1.8"/><circle cx="199.9" cy="386.3" r="1.8"/><circle cx="202.7" cy="391.8" r="1.8"/><circle cx="205.5" cy="397.4" r="1.8"/><circle cx="130.7" cy="213.6" r="1.8"/><circle cx="133.5" cy="219.2" r="1.8"/><circle cx="136.3" cy="224.7" r="1.8"/><circle cx="139.1" cy="230.2" r="1.8"/><circle cx="141.9" cy="235.8" r="1.8"/><circle cx="144.7" cy="241.3" r="1.8"/><circle cx="147.4" cy="246.9" r="1.8"/><circle cx="150.2" cy="252.4" r="1.8"/><circle cx="153" cy="257.9" r="1.8"/><circle cx="155.8" cy="263.5" r="1.8"/><circle cx="158.6" cy="269" r="1.8"/><circle cx="161.4" cy="274.5" r="1.8"/><circle cx="164.2" cy="280.1" r="1.8"/><circle cx="167" cy="285.6" r="1.8"/><circle cx="169.8" cy="291.2" r="1.8"/><circle cx="172.6" cy="296.7" r="1.8"/><circle cx="175.3" cy="302.2" r="1.8"/><circle cx="178.1" cy="307.8" r="1.8"/><circle cx="180.9" cy="313.3" r="1.8"/><circle cx="183.7" cy="318.8" r="1.8"/><circle cx="186.5" cy="324.4" r="1.8"/><circle cx="189.3" cy="329.9" r="1.8"/><circle cx="192.1" cy="335.4" r="1.8"/><circle cx="194.9" cy="341" r="1.8"/><circle cx="197.7" cy="346.5" r="1.8"/><circle cx="200.4" cy="352.1" r="1.8"/><circle cx="203.2" cy="357.6" r="1.8"/><circle cx="206" cy="363.1" r="1.8"/><circle cx="208.8" cy="368.7" r="1.8"/><circle cx="211.6" cy="374.2" r="1.8"/><circle cx="214.4" cy="379.7" r="1.8"/><circle cx="217.2" cy="385.3" r="1.8"/><circle cx="220" cy="390.8" r="1.8"/><circle cx="222.8" cy="396.3" r="1.8"/><circle cx="148" cy="212.6" r="1.8"/><circle cx="150.8" cy="218.1" r="1.8"/><circle cx="153.6" cy="223.7" r="1.8"/><circle cx="156.4" cy="229.2" r="1.8"/><circle cx="159.2" cy="234.7" r="1.8"/><circle cx="161.9" cy="240.3" r="1.8"/><circle cx="164.7" cy="245.8" r="1.8"/><circle cx="167.5" cy="251.4" r="1.8"/><circle cx="170.3" cy="256.9" r="1.8"/><circle cx="173.1" cy="262.4" r="1.8"/><circle cx="175.9" cy="268" r="1.8"/><circle cx="178.7" cy="273.5" r="1.8"/><circle cx="181.5" cy="279" r="1.8"/><circle cx="184.3" cy="284.6" r="1.8"/><circle cx="187.1" cy="290.1" r="1.8"/><circle cx="189.8" cy="295.6" r="1.8"/><circle cx="192.6" cy="301.2" r="1.8"/><circle cx="195.4" cy="306.7" r="1.8"/><circle cx="198.2" cy="312.3" r="1.8"/><circle cx="201" cy="317.8" r="1.8"/><circle cx="203.8" cy="323.3" r="1.8"/><circle cx="206.6" cy="328.9" r="1.8"/><circle cx="209.4" cy="334.4" r="1.8"/><circle cx="212.2" cy="339.9" r="1.8"/><circle cx="215" cy="345.5" r="1.8"/><circle cx="217.8" cy="351" r="1.8"/><circle cx="220.5" cy="356.6" r="1.8"/><circle cx="223.3" cy="362.1" r="1.8"/><circle cx="226.1" cy="367.6" r="1.8"/><circle cx="228.9" cy="373.2" r="1.8"/><circle cx="231.7" cy="378.7" r="1.8"/><circle cx="234.5" cy="384.2" r="1.8"/><circle cx="237.3" cy="389.8" r="1.8"/><circle cx="240.1" cy="395.3" r="1.8"/><circle cx="165.3" cy="211.6" r="1.8"/><circle cx="168.1" cy="217.1" r="1.8"/><circle cx="170.9" cy="222.6" r="1.8"/><circle cx="173.7" cy="228.2" r="1.8"/><circle cx="176.5" cy="233.7" r="1.8"/><circle cx="179.2" cy="239.2" r="1.8"/><circle cx="182" cy="244.8" r="1.8"/><circle cx="184.8" cy="250.3" r="1.8"/><circle cx="187.6" cy="255.9" r="1.8"/><circle cx="190.4" cy="261.4" r="1.8"/><circle cx="193.2" cy="266.9" r="1.8"/><circle cx="196" cy="272.5" r="1.8"/><circle cx="198.8" cy="278" r="1.8"/><circle cx="201.6" cy="283.5" r="1.8"/><circle cx="204.4" cy="289.1" r="1.8"/><circle cx="207.2" cy="294.6" r="1.8"/><circle cx="209.9" cy="300.1" r="1.8"/><circle cx="212.7" cy="305.7" r="1.8"/><circle cx="215.5" cy="311.2" r="1.8"/><circle cx="218.3" cy="316.8" r="1.8"/><circle cx="221.1" cy="322.3" r="1.8"/><circle cx="223.9" cy="327.8" r="1.8"/><circle cx="226.7" cy="333.4" r="1.8"/><circle cx="229.5" cy="338.9" r="1.8"/><circle cx="232.3" cy="344.4" r="1.8"/><circle cx="235.1" cy="350" r="1.8"/><circle cx="237.8" cy="355.5" r="1.8"/><circle cx="240.6" cy="361.1" r="1.8"/><circle cx="243.4" cy="366.6" r="1.8"/><circle cx="246.2" cy="372.1" r="1.8"/><circle cx="249" cy="377.7" r="1.8"/><circle cx="251.8" cy="383.2" r="1.8"/><circle cx="254.6" cy="388.7" r="1.8"/><circle cx="257.4" cy="394.3" r="1.8"/><circle cx="182.6" cy="210.5" r="1.8"/><circle cx="185.4" cy="216.1" r="1.8"/><circle cx="188.2" cy="221.6" r="1.8"/><circle cx="191" cy="227.1" r="1.8"/><circle cx="193.8" cy="232.7" r="1.8"/><circle cx="196.5" cy="238.2" r="1.8"/><circle cx="199.3" cy="243.7" r="1.8"/><circle cx="202.1" cy="249.3" r="1.8"/><circle cx="204.9" cy="254.8" r="1.8"/><circle cx="207.7" cy="260.4" r="1.8"/><circle cx="210.5" cy="265.9" r="1.8"/><circle cx="213.3" cy="271.4" r="1.8"/><circle cx="216.1" cy="277" r="1.8"/><circle cx="218.9" cy="282.5" r="1.8"/><circle cx="221.7" cy="288" r="1.8"/><circle cx="224.4" cy="293.6" r="1.8"/><circle cx="227.2" cy="299.1" r="1.8"/><circle cx="230" cy="304.6" r="1.8"/><circle cx="232.8" cy="310.2" r="1.8"/><circle cx="235.6" cy="315.7" r="1.8"/><circle cx="238.4" cy="321.3" r="1.8"/><circle cx="241.2" cy="326.8" r="1.8"/><circle cx="244" cy="332.3" r="1.8"/><circle cx="246.8" cy="337.9" r="1.8"/><circle cx="249.6" cy="343.4" r="1.8"/><circle cx="252.3" cy="348.9" r="1.8"/><circle cx="255.1" cy="354.5" r="1.8"/><circle cx="257.9" cy="360" r="1.8"/><circle cx="260.7" cy="365.5" r="1.8"/><circle cx="263.5" cy="371.1" r="1.8"/><circle cx="266.3" cy="376.6" r="1.8"/><circle cx="269.1" cy="382.2" r="1.8"/><circle cx="271.9" cy="387.7" r="1.8"/><circle cx="274.7" cy="393.2" r="1.8"/><circle cx="199.9" cy="209.5" r="1.8"/><circle cx="202.7" cy="215" r="1.8"/><circle cx="205.5" cy="220.6" r="1.8"/><circle cx="208.3" cy="226.1" r="1.8"/><circle cx="211.1" cy="231.6" r="1.8"/><circle cx="213.8" cy="237.2" r="1.8"/><circle cx="216.6" cy="242.7" r="1.8"/><circle cx="219.4" cy="248.2" r="1.8"/><circle cx="222.2" cy="253.8" r="1.8"/><circle cx="225" cy="259.3" r="1.8"/><circle cx="227.8" cy="264.9" r="1.8"/><circle cx="230.6" cy="270.4" r="1.8"/><circle cx="233.4" cy="275.9" r="1.8"/><circle cx="236.2" cy="281.5" r="1.8"/><circle cx="239" cy="287" r="1.8"/><circle cx="241.8" cy="292.5" r="1.8"/><circle cx="244.5" cy="298.1" r="1.8"/><circle cx="247.3" cy="303.6" r="1.8"/><circle cx="250.1" cy="309.1" r="1.8"/><circle cx="252.9" cy="314.7" r="1.8"/><circle cx="255.7" cy="320.2" r="1.8"/><circle cx="258.5" cy="325.8" r="1.8"/><circle cx="261.3" cy="331.3" r="1.8"/><circle cx="264.1" cy="336.8" r="1.8"/><circle cx="266.9" cy="342.4" r="1.8"/><circle cx="269.6" cy="347.9" r="1.8"/><circle cx="272.4" cy="353.4" r="1.8"/><circle cx="275.2" cy="359" r="1.8"/><circle cx="278" cy="364.5" r="1.8"/><circle cx="280.8" cy="370" r="1.8"/><circle cx="283.6" cy="375.6" r="1.8"/><circle cx="286.4" cy="381.1" r="1.8"/><circle cx="289.2" cy="386.7" r="1.8"/><circle cx="292" cy="392.2" r="1.8"/><circle cx="217.2" cy="208.4" r="1.8"/><circle cx="220" cy="214" r="1.8"/><circle cx="222.8" cy="219.5" r="1.8"/><circle cx="225.6" cy="225.1" r="1.8"/><circle cx="228.4" cy="230.6" r="1.8"/><circle cx="231.1" cy="236.1" r="1.8"/><circle cx="233.9" cy="241.7" r="1.8"/><circle cx="236.7" cy="247.2" r="1.8"/><circle cx="239.5" cy="252.7" r="1.8"/><circle cx="242.3" cy="258.3" r="1.8"/><circle cx="245.1" cy="263.8" r="1.8"/><circle cx="247.9" cy="269.4" r="1.8"/><circle cx="250.7" cy="274.9" r="1.8"/><circle cx="253.5" cy="280.4" r="1.8"/><circle cx="256.3" cy="286" r="1.8"/><circle cx="259" cy="291.5" r="1.8"/><circle cx="261.8" cy="297" r="1.8"/><circle cx="264.6" cy="302.6" r="1.8"/><circle cx="267.4" cy="308.1" r="1.8"/><circle cx="270.2" cy="313.6" r="1.8"/><circle cx="273" cy="319.2" r="1.8"/><circle cx="275.8" cy="324.7" r="1.8"/><circle cx="278.6" cy="330.3" r="1.8"/><circle cx="281.4" cy="335.8" r="1.8"/><circle cx="284.2" cy="341.3" r="1.8"/><circle cx="286.9" cy="346.9" r="1.8"/><circle cx="289.7" cy="352.4" r="1.8"/><circle cx="292.5" cy="357.9" r="1.8"/><circle cx="295.3" cy="363.5" r="1.8"/><circle cx="298.1" cy="369" r="1.8"/><circle cx="300.9" cy="374.5" r="1.8"/><circle cx="303.7" cy="380.1" r="1.8"/><circle cx="306.5" cy="385.6" r="1.8"/><circle cx="309.3" cy="391.2" r="1.8"/><circle cx="234.5" cy="207.4" r="1.8"/><circle cx="237.3" cy="212.9" r="1.8"/><circle cx="240.1" cy="218.5" r="1.8"/><circle cx="242.9" cy="224" r="1.8"/><circle cx="245.7" cy="229.6" r="1.8"/><circle cx="248.4" cy="235.1" r="1.8"/><circle cx="251.2" cy="240.6" r="1.8"/><circle cx="254" cy="246.2" r="1.8"/><circle cx="256.8" cy="251.7" r="1.8"/><circle cx="259.6" cy="257.2" r="1.8"/><circle cx="262.4" cy="262.8" r="1.8"/><circle cx="265.2" cy="268.3" r="1.8"/><circle cx="268" cy="273.8" r="1.8"/><circle cx="270.8" cy="279.4" r="1.8"/><circle cx="273.6" cy="284.9" r="1.8"/><circle cx="276.4" cy="290.5" r="1.8"/><circle cx="279.1" cy="296" r="1.8"/><circle cx="281.9" cy="301.5" r="1.8"/><circle cx="284.7" cy="307.1" r="1.8"/><circle cx="287.5" cy="312.6" r="1.8"/><circle cx="290.3" cy="318.1" r="1.8"/><circle cx="293.1" cy="323.7" r="1.8"/><circle cx="295.9" cy="329.2" r="1.8"/><circle cx="298.7" cy="334.8" r="1.8"/><circle cx="301.5" cy="340.3" r="1.8"/><circle cx="304.2" cy="345.8" r="1.8"/><circle cx="307" cy="351.4" r="1.8"/><circle cx="309.8" cy="356.9" r="1.8"/><circle cx="312.6" cy="362.4" r="1.8"/><circle cx="315.4" cy="368" r="1.8"/><circle cx="318.2" cy="373.5" r="1.8"/><circle cx="321" cy="379" r="1.8"/><circle cx="323.8" cy="384.6" r="1.8"/><circle cx="326.6" cy="390.1" r="1.8"/><circle cx="251.8" cy="206.4" r="1.8"/><circle cx="254.6" cy="211.9" r="1.8"/><circle cx="257.4" cy="217.4" r="1.8"/><circle cx="260.2" cy="223" r="1.8"/><circle cx="263" cy="228.5" r="1.8"/><circle cx="265.8" cy="234.1" r="1.8"/><circle cx="268.5" cy="239.6" r="1.8"/><circle cx="271.3" cy="245.1" r="1.8"/><circle cx="274.1" cy="250.7" r="1.8"/><circle cx="276.9" cy="256.2" r="1.8"/><circle cx="279.7" cy="261.7" r="1.8"/><circle cx="282.5" cy="267.3" r="1.8"/><circle cx="285.3" cy="272.8" r="1.8"/><circle cx="288.1" cy="278.3" r="1.8"/><circle cx="290.9" cy="283.9" r="1.8"/><circle cx="293.7" cy="289.4" r="1.8"/><circle cx="296.4" cy="295" r="1.8"/><circle cx="299.2" cy="300.5" r="1.8"/><circle cx="302" cy="306" r="1.8"/><circle cx="304.8" cy="311.6" r="1.8"/><circle cx="307.6" cy="317.1" r="1.8"/><circle cx="310.4" cy="322.6" r="1.8"/><circle cx="313.2" cy="328.2" r="1.8"/><circle cx="316" cy="333.7" r="1.8"/><circle cx="318.8" cy="339.3" r="1.8"/><circle cx="321.6" cy="344.8" r="1.8"/><circle cx="324.3" cy="350.3" r="1.8"/><circle cx="327.1" cy="355.9" r="1.8"/><circle cx="329.9" cy="361.4" r="1.8"/><circle cx="332.7" cy="366.9" r="1.8"/><circle cx="335.5" cy="372.5" r="1.8"/><circle cx="338.3" cy="378" r="1.8"/><circle cx="341.1" cy="383.5" r="1.8"/><circle cx="343.9" cy="389.1" r="1.8"/><circle cx="269.1" cy="205.3" r="1.8"/><circle cx="271.9" cy="210.9" r="1.8"/><circle cx="274.7" cy="216.4" r="1.8"/><circle cx="277.5" cy="221.9" r="1.8"/><circle cx="280.3" cy="227.5" r="1.8"/><circle cx="283.1" cy="233" r="1.8"/><circle cx="285.8" cy="238.6" r="1.8"/><circle cx="288.6" cy="244.1" r="1.8"/><circle cx="291.4" cy="249.6" r="1.8"/><circle cx="294.2" cy="255.2" r="1.8"/><circle cx="297" cy="260.7" r="1.8"/><circle cx="299.8" cy="266.2" r="1.8"/><circle cx="302.6" cy="271.8" r="1.8"/><circle cx="305.4" cy="277.3" r="1.8"/><circle cx="308.2" cy="282.8" r="1.8"/><circle cx="311" cy="288.4" r="1.8"/><circle cx="313.7" cy="293.9" r="1.8"/><circle cx="316.5" cy="299.5" r="1.8"/><circle cx="319.3" cy="305" r="1.8"/><circle cx="322.1" cy="310.5" r="1.8"/><circle cx="324.9" cy="316.1" r="1.8"/><circle cx="327.7" cy="321.6" r="1.8"/><circle cx="330.5" cy="327.1" r="1.8"/><circle cx="333.3" cy="332.7" r="1.8"/><circle cx="336.1" cy="338.2" r="1.8"/><circle cx="338.9" cy="343.7" r="1.8"/><circle cx="341.6" cy="349.3" r="1.8"/><circle cx="344.4" cy="354.8" r="1.8"/><circle cx="347.2" cy="360.4" r="1.8"/><circle cx="350" cy="365.9" r="1.8"/><circle cx="352.8" cy="371.4" r="1.8"/><circle cx="355.6" cy="377" r="1.8"/><circle cx="358.4" cy="382.5" r="1.8"/><circle cx="361.2" cy="388" r="1.8"/><circle cx="286.4" cy="204.3" r="1.8"/><circle cx="289.2" cy="209.8" r="1.8"/><circle cx="292" cy="215.4" r="1.8"/><circle cx="294.8" cy="220.9" r="1.8"/><circle cx="297.6" cy="226.4" r="1.8"/><circle cx="300.3" cy="232" r="1.8"/><circle cx="303.1" cy="237.5" r="1.8"/><circle cx="305.9" cy="243.1" r="1.8"/><circle cx="308.7" cy="248.6" r="1.8"/><circle cx="311.5" cy="254.1" r="1.8"/><circle cx="314.3" cy="259.7" r="1.8"/><circle cx="317.1" cy="265.2" r="1.8"/><circle cx="319.9" cy="270.7" r="1.8"/><circle cx="322.7" cy="276.3" r="1.8"/><circle cx="325.5" cy="281.8" r="1.8"/><circle cx="328.2" cy="287.3" r="1.8"/><circle cx="331" cy="292.9" r="1.8"/><circle cx="333.8" cy="298.4" r="1.8"/><circle cx="336.6" cy="304" r="1.8"/><circle cx="339.4" cy="309.5" r="1.8"/><circle cx="342.2" cy="315" r="1.8"/><circle cx="345" cy="320.6" r="1.8"/><circle cx="347.8" cy="326.1" r="1.8"/><circle cx="350.6" cy="331.6" r="1.8"/><circle cx="353.4" cy="337.2" r="1.8"/><circle cx="356.1" cy="342.7" r="1.8"/><circle cx="358.9" cy="348.2" r="1.8"/><circle cx="361.7" cy="353.8" r="1.8"/><circle cx="364.5" cy="359.3" r="1.8"/><circle cx="367.3" cy="364.9" r="1.8"/><circle cx="370.1" cy="370.4" r="1.8"/><circle cx="372.9" cy="375.9" r="1.8"/><circle cx="375.7" cy="381.5" r="1.8"/><circle cx="378.5" cy="387" r="1.8"/><circle cx="303.7" cy="203.3" r="1.8"/><circle cx="306.5" cy="208.8" r="1.8"/><circle cx="309.3" cy="214.3" r="1.8"/><circle cx="312.1" cy="219.9" r="1.8"/><circle cx="314.9" cy="225.4" r="1.8"/><circle cx="317.7" cy="230.9" r="1.8"/><circle cx="320.4" cy="236.5" r="1.8"/><circle cx="323.2" cy="242" r="1.8"/><circle cx="326" cy="247.6" r="1.8"/><circle cx="328.8" cy="253.1" r="1.8"/><circle cx="331.6" cy="258.6" r="1.8"/><circle cx="334.4" cy="264.2" r="1.8"/><circle cx="337.2" cy="269.7" r="1.8"/><circle cx="340" cy="275.2" r="1.8"/><circle cx="342.8" cy="280.8" r="1.8"/><circle cx="345.6" cy="286.3" r="1.8"/><circle cx="348.3" cy="291.8" r="1.8"/><circle cx="351.1" cy="297.4" r="1.8"/><circle cx="353.9" cy="302.9" r="1.8"/><circle cx="356.7" cy="308.5" r="1.8"/><circle cx="359.5" cy="314" r="1.8"/><circle cx="362.3" cy="319.5" r="1.8"/><circle cx="365.1" cy="325.1" r="1.8"/><circle cx="367.9" cy="330.6" r="1.8"/><circle cx="370.7" cy="336.1" r="1.8"/><circle cx="373.5" cy="341.7" r="1.8"/><circle cx="376.2" cy="347.2" r="1.8"/><circle cx="379" cy="352.7" r="1.8"/><circle cx="381.8" cy="358.3" r="1.8"/><circle cx="384.6" cy="363.8" r="1.8"/><circle cx="387.4" cy="369.4" r="1.8"/><circle cx="390.2" cy="374.9" r="1.8"/><circle cx="393" cy="380.4" r="1.8"/><circle cx="395.8" cy="386" r="1.8"/><circle cx="321" cy="202.2" r="1.8"/><circle cx="323.8" cy="207.8" r="1.8"/><circle cx="326.6" cy="213.3" r="1.8"/><circle cx="329.4" cy="218.8" r="1.8"/><circle cx="332.2" cy="224.4" r="1.8"/><circle cx="334.9" cy="229.9" r="1.8"/><circle cx="337.7" cy="235.4" r="1.8"/><circle cx="340.5" cy="241" r="1.8"/><circle cx="343.3" cy="246.5" r="1.8"/><circle cx="346.1" cy="252" r="1.8"/><circle cx="348.9" cy="257.6" r="1.8"/><circle cx="351.7" cy="263.1" r="1.8"/><circle cx="354.5" cy="268.7" r="1.8"/><circle cx="357.3" cy="274.2" r="1.8"/><circle cx="360.1" cy="279.7" r="1.8"/><circle cx="362.9" cy="285.3" r="1.8"/><circle cx="365.6" cy="290.8" r="1.8"/><circle cx="368.4" cy="296.3" r="1.8"/><circle cx="371.2" cy="301.9" r="1.8"/><circle cx="374" cy="307.4" r="1.8"/><circle cx="376.8" cy="313" r="1.8"/><circle cx="379.6" cy="318.5" r="1.8"/><circle cx="382.4" cy="324" r="1.8"/><circle cx="385.2" cy="329.6" r="1.8"/><circle cx="388" cy="335.1" r="1.8"/><circle cx="390.8" cy="340.6" r="1.8"/><circle cx="393.5" cy="346.2" r="1.8"/><circle cx="396.3" cy="351.7" r="1.8"/><circle cx="399.1" cy="357.2" r="1.8"/><circle cx="401.9" cy="362.8" r="1.8"/><circle cx="404.7" cy="368.3" r="1.8"/><circle cx="407.5" cy="373.9" r="1.8"/><circle cx="410.3" cy="379.4" r="1.8"/><circle cx="413.1" cy="384.9" r="1.8"/><circle cx="338.3" cy="201.2" r="1.8"/><circle cx="341.1" cy="206.7" r="1.8"/><circle cx="343.9" cy="212.3" r="1.8"/><circle cx="346.7" cy="217.8" r="1.8"/><circle cx="349.5" cy="223.3" r="1.8"/><circle cx="352.2" cy="228.9" r="1.8"/><circle cx="355" cy="234.4" r="1.8"/><circle cx="357.8" cy="239.9" r="1.8"/><circle cx="360.6" cy="245.5" r="1.8"/><circle cx="363.4" cy="251" r="1.8"/><circle cx="366.2" cy="256.5" r="1.8"/><circle cx="369" cy="262.1" r="1.8"/><circle cx="371.8" cy="267.6" r="1.8"/><circle cx="374.6" cy="273.2" r="1.8"/><circle cx="377.4" cy="278.7" r="1.8"/><circle cx="380.2" cy="284.2" r="1.8"/><circle cx="382.9" cy="289.8" r="1.8"/><circle cx="385.7" cy="295.3" r="1.8"/><circle cx="388.5" cy="300.8" r="1.8"/><circle cx="391.3" cy="306.4" r="1.8"/><circle cx="394.1" cy="311.9" r="1.8"/><circle cx="396.9" cy="317.5" r="1.8"/><circle cx="399.7" cy="323" r="1.8"/><circle cx="402.5" cy="328.5" r="1.8"/><circle cx="405.3" cy="334.1" r="1.8"/><circle cx="408.1" cy="339.6" r="1.8"/><circle cx="410.8" cy="345.1" r="1.8"/><circle cx="413.6" cy="350.7" r="1.8"/><circle cx="416.4" cy="356.2" r="1.8"/><circle cx="419.2" cy="361.7" r="1.8"/><circle cx="422" cy="367.3" r="1.8"/><circle cx="424.8" cy="372.8" r="1.8"/><circle cx="427.6" cy="378.4" r="1.8"/><circle cx="430.4" cy="383.9" r="1.8"/><circle cx="355.6" cy="200.1" r="1.8"/><circle cx="358.4" cy="205.7" r="1.8"/><circle cx="361.2" cy="211.2" r="1.8"/><circle cx="364" cy="216.8" r="1.8"/><circle cx="366.8" cy="222.3" r="1.8"/><circle cx="369.6" cy="227.8" r="1.8"/><circle cx="372.3" cy="233.4" r="1.8"/><circle cx="375.1" cy="238.9" r="1.8"/><circle cx="377.9" cy="244.4" r="1.8"/><circle cx="380.7" cy="250" r="1.8"/><circle cx="383.5" cy="255.5" r="1.8"/><circle cx="386.3" cy="261" r="1.8"/><circle cx="389.1" cy="266.6" r="1.8"/><circle cx="391.9" cy="272.1" r="1.8"/><circle cx="394.7" cy="277.7" r="1.8"/><circle cx="397.5" cy="283.2" r="1.8"/><circle cx="400.2" cy="288.7" r="1.8"/><circle cx="403" cy="294.3" r="1.8"/><circle cx="405.8" cy="299.8" r="1.8"/><circle cx="408.6" cy="305.3" r="1.8"/><circle cx="411.4" cy="310.9" r="1.8"/><circle cx="414.2" cy="316.4" r="1.8"/><circle cx="417" cy="321.9" r="1.8"/><circle cx="419.8" cy="327.5" r="1.8"/><circle cx="422.6" cy="333" r="1.8"/><circle cx="425.4" cy="338.6" r="1.8"/><circle cx="428.1" cy="344.1" r="1.8"/><circle cx="430.9" cy="349.6" r="1.8"/><circle cx="433.7" cy="355.2" r="1.8"/><circle cx="436.5" cy="360.7" r="1.8"/><circle cx="439.3" cy="366.2" r="1.8"/><circle cx="442.1" cy="371.8" r="1.8"/><circle cx="444.9" cy="377.3" r="1.8"/><circle cx="447.7" cy="382.9" r="1.8"/><circle cx="372.9" cy="199.1" r="1.8"/><circle cx="375.7" cy="204.6" r="1.8"/><circle cx="378.5" cy="210.2" r="1.8"/><circle cx="381.3" cy="215.7" r="1.8"/><circle cx="384.1" cy="221.3" r="1.8"/><circle cx="386.8" cy="226.8" r="1.8"/><circle cx="389.6" cy="232.3" r="1.8"/><circle cx="392.4" cy="237.9" r="1.8"/><circle cx="395.2" cy="243.4" r="1.8"/><circle cx="398" cy="248.9" r="1.8"/><circle cx="400.8" cy="254.5" r="1.8"/><circle cx="403.6" cy="260" r="1.8"/><circle cx="406.4" cy="265.5" r="1.8"/><circle cx="409.2" cy="271.1" r="1.8"/><circle cx="412" cy="276.6" r="1.8"/><circle cx="414.8" cy="282.2" r="1.8"/><circle cx="417.5" cy="287.7" r="1.8"/><circle cx="420.3" cy="293.2" r="1.8"/><circle cx="423.1" cy="298.8" r="1.8"/><circle cx="425.9" cy="304.3" r="1.8"/><circle cx="428.7" cy="309.8" r="1.8"/><circle cx="431.5" cy="315.4" r="1.8"/><circle cx="434.3" cy="320.9" r="1.8"/><circle cx="437.1" cy="326.4" r="1.8"/><circle cx="439.9" cy="332" r="1.8"/><circle cx="442.6" cy="337.5" r="1.8"/><circle cx="445.4" cy="343.1" r="1.8"/><circle cx="448.2" cy="348.6" r="1.8"/><circle cx="451" cy="354.1" r="1.8"/><circle cx="453.8" cy="359.7" r="1.8"/><circle cx="456.6" cy="365.2" r="1.8"/><circle cx="459.4" cy="370.7" r="1.8"/><circle cx="462.2" cy="376.3" r="1.8"/><circle cx="465" cy="381.8" r="1.8"/><circle cx="390.2" cy="198.1" r="1.8"/><circle cx="393" cy="203.6" r="1.8"/><circle cx="395.8" cy="209.1" r="1.8"/><circle cx="398.6" cy="214.7" r="1.8"/><circle cx="401.4" cy="220.2" r="1.8"/><circle cx="404.2" cy="225.8" r="1.8"/><circle cx="406.9" cy="231.3" r="1.8"/><circle cx="409.7" cy="236.8" r="1.8"/><circle cx="412.5" cy="242.4" r="1.8"/><circle cx="415.3" cy="247.9" r="1.8"/><circle cx="418.1" cy="253.4" r="1.8"/><circle cx="420.9" cy="259" r="1.8"/><circle cx="423.7" cy="264.5" r="1.8"/><circle cx="426.5" cy="270" r="1.8"/><circle cx="429.3" cy="275.6" r="1.8"/><circle cx="432.1" cy="281.1" r="1.8"/><circle cx="434.8" cy="286.7" r="1.8"/><circle cx="437.6" cy="292.2" r="1.8"/><circle cx="440.4" cy="297.7" r="1.8"/><circle cx="443.2" cy="303.3" r="1.8"/><circle cx="446" cy="308.8" r="1.8"/><circle cx="448.8" cy="314.3" r="1.8"/><circle cx="451.6" cy="319.9" r="1.8"/><circle cx="454.4" cy="325.4" r="1.8"/><circle cx="457.2" cy="330.9" r="1.8"/><circle cx="460" cy="336.5" r="1.8"/><circle cx="462.7" cy="342" r="1.8"/><circle cx="465.5" cy="347.6" r="1.8"/><circle cx="468.3" cy="353.1" r="1.8"/><circle cx="471.1" cy="358.6" r="1.8"/><circle cx="473.9" cy="364.2" r="1.8"/><circle cx="476.7" cy="369.7" r="1.8"/><circle cx="479.5" cy="375.2" r="1.8"/><circle cx="482.3" cy="380.8" r="1.8"/><circle cx="407.5" cy="197" r="1.8"/><circle cx="410.3" cy="202.6" r="1.8"/><circle cx="413.1" cy="208.1" r="1.8"/><circle cx="415.9" cy="213.6" r="1.8"/><circle cx="418.7" cy="219.2" r="1.8"/><circle cx="421.4" cy="224.7" r="1.8"/><circle cx="424.2" cy="230.2" r="1.8"/><circle cx="427" cy="235.8" r="1.8"/><circle cx="429.8" cy="241.3" r="1.8"/><circle cx="432.6" cy="246.9" r="1.8"/><circle cx="435.4" cy="252.4" r="1.8"/><circle cx="438.2" cy="257.9" r="1.8"/><circle cx="441" cy="263.5" r="1.8"/><circle cx="443.8" cy="269" r="1.8"/><circle cx="446.6" cy="274.5" r="1.8"/><circle cx="449.4" cy="280.1" r="1.8"/><circle cx="452.1" cy="285.6" r="1.8"/><circle cx="454.9" cy="291.2" r="1.8"/><circle cx="457.7" cy="296.7" r="1.8"/><circle cx="460.5" cy="302.2" r="1.8"/><circle cx="463.3" cy="307.8" r="1.8"/><circle cx="466.1" cy="313.3" r="1.8"/><circle cx="468.9" cy="318.8" r="1.8"/><circle cx="471.7" cy="324.4" r="1.8"/><circle cx="474.5" cy="329.9" r="1.8"/><circle cx="477.2" cy="335.4" r="1.8"/><circle cx="480" cy="341" r="1.8"/><circle cx="482.8" cy="346.5" r="1.8"/><circle cx="485.6" cy="352.1" r="1.8"/><circle cx="488.4" cy="357.6" r="1.8"/><circle cx="491.2" cy="363.1" r="1.8"/><circle cx="494" cy="368.7" r="1.8"/><circle cx="496.8" cy="374.2" r="1.8"/><circle cx="499.6" cy="379.7" r="1.8"/><circle cx="424.8" cy="196" r="1.8"/><circle cx="427.6" cy="201.5" r="1.8"/><circle cx="430.4" cy="207.1" r="1.8"/><circle cx="433.2" cy="212.6" r="1.8"/><circle cx="436" cy="218.1" r="1.8"/><circle cx="438.8" cy="223.7" r="1.8"/><circle cx="441.5" cy="229.2" r="1.8"/><circle cx="444.3" cy="234.7" r="1.8"/><circle cx="447.1" cy="240.3" r="1.8"/><circle cx="449.9" cy="245.8" r="1.8"/><circle cx="452.7" cy="251.4" r="1.8"/><circle cx="455.5" cy="256.9" r="1.8"/><circle cx="458.3" cy="262.4" r="1.8"/><circle cx="461.1" cy="268" r="1.8"/><circle cx="463.9" cy="273.5" r="1.8"/><circle cx="466.7" cy="279" r="1.8"/><circle cx="469.4" cy="284.6" r="1.8"/><circle cx="472.2" cy="290.1" r="1.8"/><circle cx="475" cy="295.7" r="1.8"/><circle cx="477.8" cy="301.2" r="1.8"/><circle cx="480.6" cy="306.7" r="1.8"/><circle cx="483.4" cy="312.3" r="1.8"/><circle cx="486.2" cy="317.8" r="1.8"/><circle cx="489" cy="323.3" r="1.8"/><circle cx="491.8" cy="328.9" r="1.8"/><circle cx="494.6" cy="334.4" r="1.8"/><circle cx="497.3" cy="339.9" r="1.8"/><circle cx="500.1" cy="345.5" r="1.8"/><circle cx="502.9" cy="351" r="1.8"/><circle cx="505.7" cy="356.6" r="1.8"/><circle cx="508.5" cy="362.1" r="1.8"/><circle cx="511.3" cy="367.6" r="1.8"/><circle cx="514.1" cy="373.2" r="1.8"/><circle cx="516.9" cy="378.7" r="1.8"/><circle cx="442.1" cy="195" r="1.8"/><circle cx="444.9" cy="200.5" r="1.8"/><circle cx="447.7" cy="206" r="1.8"/><circle cx="450.5" cy="211.6" r="1.8"/><circle cx="453.3" cy="217.1" r="1.8"/><circle cx="456.1" cy="222.6" r="1.8"/><circle cx="458.8" cy="228.2" r="1.8"/><circle cx="461.6" cy="233.7" r="1.8"/><circle cx="464.4" cy="239.2" r="1.8"/><circle cx="467.2" cy="244.8" r="1.8"/><circle cx="470" cy="250.3" r="1.8"/><circle cx="472.8" cy="255.9" r="1.8"/><circle cx="475.6" cy="261.4" r="1.8"/><circle cx="478.4" cy="266.9" r="1.8"/><circle cx="481.2" cy="272.5" r="1.8"/><circle cx="484" cy="278" r="1.8"/><circle cx="486.7" cy="283.5" r="1.8"/><circle cx="489.5" cy="289.1" r="1.8"/><circle cx="492.3" cy="294.6" r="1.8"/><circle cx="495.1" cy="300.1" r="1.8"/><circle cx="497.9" cy="305.7" r="1.8"/><circle cx="500.7" cy="311.2" r="1.8"/><circle cx="503.5" cy="316.8" r="1.8"/><circle cx="506.3" cy="322.3" r="1.8"/><circle cx="509.1" cy="327.8" r="1.8"/><circle cx="511.9" cy="333.4" r="1.8"/><circle cx="514.6" cy="338.9" r="1.8"/><circle cx="517.4" cy="344.4" r="1.8"/><circle cx="520.2" cy="350" r="1.8"/><circle cx="523" cy="355.5" r="1.8"/><circle cx="525.8" cy="361.1" r="1.8"/><circle cx="528.6" cy="366.6" r="1.8"/><circle cx="531.4" cy="372.1" r="1.8"/><circle cx="534.2" cy="377.7" r="1.8"/><circle cx="459.4" cy="193.9" r="1.8"/><circle cx="462.2" cy="199.5" r="1.8"/><circle cx="465" cy="205" r="1.8"/><circle cx="467.8" cy="210.5" r="1.8"/><circle cx="470.6" cy="216.1" r="1.8"/><circle cx="473.4" cy="221.6" r="1.8"/><circle cx="476.1" cy="227.1" r="1.8"/><circle cx="478.9" cy="232.7" r="1.8"/><circle cx="481.7" cy="238.2" r="1.8"/><circle cx="484.5" cy="243.7" r="1.8"/><circle cx="487.3" cy="249.3" r="1.8"/><circle cx="490.1" cy="254.8" r="1.8"/><circle cx="492.9" cy="260.4" r="1.8"/><circle cx="495.7" cy="265.9" r="1.8"/><circle cx="498.5" cy="271.4" r="1.8"/><circle cx="501.3" cy="277" r="1.8"/><circle cx="504" cy="282.5" r="1.8"/><circle cx="506.8" cy="288" r="1.8"/><circle cx="509.6" cy="293.6" r="1.8"/><circle cx="512.4" cy="299.1" r="1.8"/><circle cx="515.2" cy="304.6" r="1.8"/><circle cx="518" cy="310.2" r="1.8"/><circle cx="520.8" cy="315.7" r="1.8"/><circle cx="523.6" cy="321.3" r="1.8"/><circle cx="526.4" cy="326.8" r="1.8"/><circle cx="529.2" cy="332.3" r="1.8"/><circle cx="531.9" cy="337.9" r="1.8"/><circle cx="534.7" cy="343.4" r="1.8"/><circle cx="537.5" cy="348.9" r="1.8"/><circle cx="540.3" cy="354.5" r="1.8"/><circle cx="543.1" cy="360" r="1.8"/><circle cx="545.9" cy="365.6" r="1.8"/><circle cx="548.7" cy="371.1" r="1.8"/><circle cx="551.5" cy="376.6" r="1.8"/><circle cx="476.7" cy="192.9" r="1.8"/><circle cx="479.5" cy="198.4" r="1.8"/><circle cx="482.3" cy="204" r="1.8"/><circle cx="485.1" cy="209.5" r="1.8"/><circle cx="487.9" cy="215" r="1.8"/><circle cx="490.6" cy="220.6" r="1.8"/><circle cx="493.4" cy="226.1" r="1.8"/><circle cx="496.2" cy="231.6" r="1.8"/><circle cx="499" cy="237.2" r="1.8"/><circle cx="501.8" cy="242.7" r="1.8"/><circle cx="504.6" cy="248.2" r="1.8"/><circle cx="507.4" cy="253.8" r="1.8"/><circle cx="510.2" cy="259.3" r="1.8"/><circle cx="513" cy="264.9" r="1.8"/><circle cx="515.8" cy="270.4" r="1.8"/><circle cx="518.5" cy="275.9" r="1.8"/><circle cx="521.3" cy="281.5" r="1.8"/><circle cx="524.1" cy="287" r="1.8"/><circle cx="526.9" cy="292.5" r="1.8"/><circle cx="529.7" cy="298.1" r="1.8"/><circle cx="532.5" cy="303.6" r="1.8"/><circle cx="535.3" cy="309.1" r="1.8"/><circle cx="538.1" cy="314.7" r="1.8"/><circle cx="540.9" cy="320.2" r="1.8"/><circle cx="543.7" cy="325.8" r="1.8"/><circle cx="546.5" cy="331.3" r="1.8"/><circle cx="549.2" cy="336.8" r="1.8"/><circle cx="552" cy="342.4" r="1.8"/><circle cx="554.8" cy="347.9" r="1.8"/><circle cx="557.6" cy="353.4" r="1.8"/><circle cx="560.4" cy="359" r="1.8"/><circle cx="563.2" cy="364.5" r="1.8"/><circle cx="566" cy="370" r="1.8"/><circle cx="568.8" cy="375.6" r="1.8"/><circle cx="494" cy="191.8" r="1.8"/><circle cx="496.8" cy="197.4" r="1.8"/><circle cx="499.6" cy="202.9" r="1.8"/><circle cx="502.4" cy="208.4" r="1.8"/><circle cx="505.2" cy="214" r="1.8"/><circle cx="507.9" cy="219.5" r="1.8"/><circle cx="510.7" cy="225.1" r="1.8"/><circle cx="513.5" cy="230.6" r="1.8"/><circle cx="516.3" cy="236.1" r="1.8"/><circle cx="519.1" cy="241.7" r="1.8"/><circle cx="521.9" cy="247.2" r="1.8"/><circle cx="524.7" cy="252.7" r="1.8"/><circle cx="527.5" cy="258.3" r="1.8"/><circle cx="530.3" cy="263.8" r="1.8"/><circle cx="533.1" cy="269.4" r="1.8"/><circle cx="535.9" cy="274.9" r="1.8"/><circle cx="538.6" cy="280.4" r="1.8"/><circle cx="541.4" cy="286" r="1.8"/><circle cx="544.2" cy="291.5" r="1.8"/><circle cx="547" cy="297" r="1.8"/><circle cx="549.8" cy="302.6" r="1.8"/><circle cx="552.6" cy="308.1" r="1.8"/><circle cx="555.4" cy="313.6" r="1.8"/><circle cx="558.2" cy="319.2" r="1.8"/><circle cx="561" cy="324.7" r="1.8"/><circle cx="563.8" cy="330.3" r="1.8"/><circle cx="566.5" cy="335.8" r="1.8"/><circle cx="569.3" cy="341.3" r="1.8"/><circle cx="572.1" cy="346.9" r="1.8"/><circle cx="574.9" cy="352.4" r="1.8"/><circle cx="577.7" cy="357.9" r="1.8"/><circle cx="580.5" cy="363.5" r="1.8"/><circle cx="583.3" cy="369" r="1.8"/><circle cx="586.1" cy="374.5" r="1.8"/><circle cx="511.3" cy="190.8" r="1.8"/><circle cx="514.1" cy="196.3" r="1.8"/><circle cx="516.9" cy="201.9" r="1.8"/><circle cx="519.7" cy="207.4" r="1.8"/><circle cx="522.5" cy="212.9" r="1.8"/><circle cx="525.2" cy="218.5" r="1.8"/><circle cx="528" cy="224" r="1.8"/><circle cx="530.8" cy="229.6" r="1.8"/><circle cx="533.6" cy="235.1" r="1.8"/><circle cx="536.4" cy="240.6" r="1.8"/><circle cx="539.2" cy="246.2" r="1.8"/><circle cx="542" cy="251.7" r="1.8"/><circle cx="544.8" cy="257.2" r="1.8"/><circle cx="547.6" cy="262.8" r="1.8"/><circle cx="550.4" cy="268.3" r="1.8"/><circle cx="553.1" cy="273.9" r="1.8"/><circle cx="555.9" cy="279.4" r="1.8"/><circle cx="558.7" cy="284.9" r="1.8"/><circle cx="561.5" cy="290.5" r="1.8"/><circle cx="564.3" cy="296" r="1.8"/><circle cx="567.1" cy="301.5" r="1.8"/><circle cx="569.9" cy="307.1" r="1.8"/><circle cx="572.7" cy="312.6" r="1.8"/><circle cx="575.5" cy="318.1" r="1.8"/><circle cx="578.3" cy="323.7" r="1.8"/><circle cx="581" cy="329.2" r="1.8"/><circle cx="583.8" cy="334.8" r="1.8"/><circle cx="586.6" cy="340.3" r="1.8"/><circle cx="589.4" cy="345.8" r="1.8"/><circle cx="592.2" cy="351.4" r="1.8"/><circle cx="595" cy="356.9" r="1.8"/><circle cx="597.8" cy="362.4" r="1.8"/><circle cx="600.6" cy="368" r="1.8"/><circle cx="603.4" cy="373.5" r="1.8"/><circle cx="528.6" cy="189.8" r="1.8"/><circle cx="531.4" cy="195.3" r="1.8"/><circle cx="534.2" cy="200.8" r="1.8"/><circle cx="537" cy="206.4" r="1.8"/><circle cx="539.8" cy="211.9" r="1.8"/><circle cx="542.6" cy="217.4" r="1.8"/><circle cx="545.3" cy="223" r="1.8"/><circle cx="548.1" cy="228.5" r="1.8"/><circle cx="550.9" cy="234.1" r="1.8"/><circle cx="553.7" cy="239.6" r="1.8"/><circle cx="556.5" cy="245.1" r="1.8"/><circle cx="559.3" cy="250.7" r="1.8"/><circle cx="562.1" cy="256.2" r="1.8"/><circle cx="564.9" cy="261.7" r="1.8"/><circle cx="567.7" cy="267.3" r="1.8"/><circle cx="570.5" cy="272.8" r="1.8"/><circle cx="573.2" cy="278.3" r="1.8"/><circle cx="576" cy="283.9" r="1.8"/><circle cx="578.8" cy="289.4" r="1.8"/><circle cx="581.6" cy="295" r="1.8"/><circle cx="584.4" cy="300.5" r="1.8"/><circle cx="587.2" cy="306" r="1.8"/><circle cx="590" cy="311.6" r="1.8"/><circle cx="592.8" cy="317.1" r="1.8"/><circle cx="595.6" cy="322.6" r="1.8"/><circle cx="598.4" cy="328.2" r="1.8"/><circle cx="601.1" cy="333.7" r="1.8"/><circle cx="603.9" cy="339.3" r="1.8"/><circle cx="606.7" cy="344.8" r="1.8"/><circle cx="609.5" cy="350.3" r="1.8"/><circle cx="612.3" cy="355.9" r="1.8"/><circle cx="615.1" cy="361.4" r="1.8"/><circle cx="617.9" cy="366.9" r="1.8"/><circle cx="620.7" cy="372.5" r="1.8"/><circle cx="545.9" cy="188.7" r="1.8"/><circle cx="548.7" cy="194.3" r="1.8"/><circle cx="551.5" cy="199.8" r="1.8"/><circle cx="554.3" cy="205.3" r="1.8"/><circle cx="557.1" cy="210.9" r="1.8"/><circle cx="559.9" cy="216.4" r="1.8"/><circle cx="562.6" cy="221.9" r="1.8"/><circle cx="565.4" cy="227.5" r="1.8"/><circle cx="568.2" cy="233" r="1.8"/><circle cx="571" cy="238.6" r="1.8"/><circle cx="573.8" cy="244.1" r="1.8"/><circle cx="576.6" cy="249.6" r="1.8"/><circle cx="579.4" cy="255.2" r="1.8"/><circle cx="582.2" cy="260.7" r="1.8"/><circle cx="585" cy="266.2" r="1.8"/><circle cx="587.8" cy="271.8" r="1.8"/><circle cx="590.5" cy="277.3" r="1.8"/><circle cx="593.3" cy="282.8" r="1.8"/><circle cx="596.1" cy="288.4" r="1.8"/><circle cx="598.9" cy="293.9" r="1.8"/><circle cx="601.7" cy="299.5" r="1.8"/><circle cx="604.5" cy="305" r="1.8"/><circle cx="607.3" cy="310.5" r="1.8"/><circle cx="610.1" cy="316.1" r="1.8"/><circle cx="612.9" cy="321.6" r="1.8"/><circle cx="615.7" cy="327.1" r="1.8"/><circle cx="618.4" cy="332.7" r="1.8"/><circle cx="621.2" cy="338.2" r="1.8"/><circle cx="624" cy="343.8" r="1.8"/><circle cx="626.8" cy="349.3" r="1.8"/><circle cx="629.6" cy="354.8" r="1.8"/><circle cx="632.4" cy="360.4" r="1.8"/><circle cx="635.2" cy="365.9" r="1.8"/><circle cx="638" cy="371.4" r="1.8"/></g>
<g fill="url(#gc)"><circle cx="43.8" cy="221.4" r="2.0"/><circle cx="46.6" cy="226.9" r="2.0"/><circle cx="49.4" cy="232.5" r="2.0"/><circle cx="52.2" cy="238" r="2.0"/><circle cx="55" cy="243.5" r="2.0"/><circle cx="57.7" cy="249.1" r="2.0"/><circle cx="60.5" cy="254.6" r="2.0"/><circle cx="63.3" cy="260.2" r="2.0"/><circle cx="66.1" cy="265.7" r="2.0"/><circle cx="68.9" cy="271.2" r="2.0"/><circle cx="71.7" cy="276.8" r="2.0"/><circle cx="74.5" cy="282.3" r="2.0"/><circle cx="77.3" cy="287.8" r="2.0"/><circle cx="80.1" cy="293.4" r="2.0"/><circle cx="82.9" cy="298.9" r="2.0"/><circle cx="85.6" cy="304.4" r="2.0"/><circle cx="88.4" cy="310" r="2.0"/><circle cx="91.2" cy="315.5" r="2.0"/><circle cx="94" cy="321.1" r="2.0"/><circle cx="96.8" cy="326.6" r="2.0"/><circle cx="99.6" cy="332.1" r="2.0"/><circle cx="102.4" cy="337.7" r="2.0"/><circle cx="105.2" cy="343.2" r="2.0"/><circle cx="108" cy="348.7" r="2.0"/><circle cx="110.8" cy="354.3" r="2.0"/><circle cx="113.5" cy="359.8" r="2.0"/><circle cx="116.3" cy="365.3" r="2.0"/><circle cx="119.1" cy="370.9" r="2.0"/><circle cx="121.9" cy="376.4" r="2.0"/><circle cx="124.7" cy="382" r="2.0"/><circle cx="127.5" cy="387.5" r="2.0"/><circle cx="130.3" cy="393" r="2.0"/><circle cx="133.1" cy="398.6" r="2.0"/><circle cx="135.9" cy="404.1" r="2.0"/><circle cx="61.1" cy="220.4" r="2.0"/><circle cx="63.9" cy="225.9" r="2.0"/><circle cx="66.7" cy="231.4" r="2.0"/><circle cx="69.5" cy="237" r="2.0"/><circle cx="72.3" cy="242.5" r="2.0"/><circle cx="75" cy="248" r="2.0"/><circle cx="77.8" cy="253.6" r="2.0"/><circle cx="80.6" cy="259.1" r="2.0"/><circle cx="83.4" cy="264.7" r="2.0"/><circle cx="86.2" cy="270.2" r="2.0"/><circle cx="89" cy="275.7" r="2.0"/><circle cx="91.8" cy="281.3" r="2.0"/><circle cx="94.6" cy="286.8" r="2.0"/><circle cx="97.4" cy="292.3" r="2.0"/><circle cx="100.2" cy="297.9" r="2.0"/><circle cx="102.9" cy="303.4" r="2.0"/><circle cx="105.7" cy="308.9" r="2.0"/><circle cx="108.5" cy="314.5" r="2.0"/><circle cx="111.3" cy="320" r="2.0"/><circle cx="114.1" cy="325.6" r="2.0"/><circle cx="116.9" cy="331.1" r="2.0"/><circle cx="119.7" cy="336.6" r="2.0"/><circle cx="122.5" cy="342.2" r="2.0"/><circle cx="125.3" cy="347.7" r="2.0"/><circle cx="128.1" cy="353.2" r="2.0"/><circle cx="130.8" cy="358.8" r="2.0"/><circle cx="133.6" cy="364.3" r="2.0"/><circle cx="136.4" cy="369.8" r="2.0"/><circle cx="139.2" cy="375.4" r="2.0"/><circle cx="142" cy="380.9" r="2.0"/><circle cx="144.8" cy="386.5" r="2.0"/><circle cx="147.6" cy="392" r="2.0"/><circle cx="150.4" cy="397.5" r="2.0"/><circle cx="153.2" cy="403.1" r="2.0"/><circle cx="78.4" cy="219.3" r="2.0"/><circle cx="81.2" cy="224.9" r="2.0"/><circle cx="84" cy="230.4" r="2.0"/><circle cx="86.8" cy="235.9" r="2.0"/><circle cx="89.6" cy="241.5" r="2.0"/><circle cx="92.3" cy="247" r="2.0"/><circle cx="95.1" cy="252.5" r="2.0"/><circle cx="97.9" cy="258.1" r="2.0"/><circle cx="100.7" cy="263.6" r="2.0"/><circle cx="103.5" cy="269.1" r="2.0"/><circle cx="106.3" cy="274.7" r="2.0"/><circle cx="109.1" cy="280.2" r="2.0"/><circle cx="111.9" cy="285.8" r="2.0"/><circle cx="114.7" cy="291.3" r="2.0"/><circle cx="117.5" cy="296.8" r="2.0"/><circle cx="120.2" cy="302.4" r="2.0"/><circle cx="123" cy="307.9" r="2.0"/><circle cx="125.8" cy="313.4" r="2.0"/><circle cx="128.6" cy="319" r="2.0"/><circle cx="131.4" cy="324.5" r="2.0"/><circle cx="134.2" cy="330.1" r="2.0"/><circle cx="137" cy="335.6" r="2.0"/><circle cx="139.8" cy="341.1" r="2.0"/><circle cx="142.6" cy="346.7" r="2.0"/><circle cx="145.4" cy="352.2" r="2.0"/><circle cx="148.1" cy="357.7" r="2.0"/><circle cx="150.9" cy="363.3" r="2.0"/><circle cx="153.7" cy="368.8" r="2.0"/><circle cx="156.5" cy="374.3" r="2.0"/><circle cx="159.3" cy="379.9" r="2.0"/><circle cx="162.1" cy="385.4" r="2.0"/><circle cx="164.9" cy="391" r="2.0"/><circle cx="167.7" cy="396.5" r="2.0"/><circle cx="170.5" cy="402" r="2.0"/><circle cx="95.7" cy="218.3" r="2.0"/><circle cx="98.5" cy="223.8" r="2.0"/><circle cx="101.3" cy="229.4" r="2.0"/><circle cx="104.1" cy="234.9" r="2.0"/><circle cx="106.9" cy="240.4" r="2.0"/><circle cx="109.6" cy="246" r="2.0"/><circle cx="112.4" cy="251.5" r="2.0"/><circle cx="115.2" cy="257" r="2.0"/><circle cx="118" cy="262.6" r="2.0"/><circle cx="120.8" cy="268.1" r="2.0"/><circle cx="123.6" cy="273.6" r="2.0"/><circle cx="126.4" cy="279.2" r="2.0"/><circle cx="129.2" cy="284.7" r="2.0"/><circle cx="132" cy="290.3" r="2.0"/><circle cx="134.8" cy="295.8" r="2.0"/><circle cx="137.5" cy="301.3" r="2.0"/><circle cx="140.3" cy="306.9" r="2.0"/><circle cx="143.1" cy="312.4" r="2.0"/><circle cx="145.9" cy="317.9" r="2.0"/><circle cx="148.7" cy="323.5" r="2.0"/><circle cx="151.5" cy="329" r="2.0"/><circle cx="154.3" cy="334.6" r="2.0"/><circle cx="157.1" cy="340.1" r="2.0"/><circle cx="159.9" cy="345.6" r="2.0"/><circle cx="162.7" cy="351.2" r="2.0"/><circle cx="165.4" cy="356.7" r="2.0"/><circle cx="168.2" cy="362.2" r="2.0"/><circle cx="171" cy="367.8" r="2.0"/><circle cx="173.8" cy="373.3" r="2.0"/><circle cx="176.6" cy="378.8" r="2.0"/><circle cx="179.4" cy="384.4" r="2.0"/><circle cx="182.2" cy="389.9" r="2.0"/><circle cx="185" cy="395.5" r="2.0"/><circle cx="187.8" cy="401" r="2.0"/><circle cx="113" cy="217.2" r="2.0"/><circle cx="115.8" cy="222.8" r="2.0"/><circle cx="118.6" cy="228.3" r="2.0"/><circle cx="121.4" cy="233.9" r="2.0"/><circle cx="124.2" cy="239.4" r="2.0"/><circle cx="126.9" cy="244.9" r="2.0"/><circle cx="129.7" cy="250.5" r="2.0"/><circle cx="132.5" cy="256" r="2.0"/><circle cx="135.3" cy="261.5" r="2.0"/><circle cx="138.1" cy="267.1" r="2.0"/><circle cx="140.9" cy="272.6" r="2.0"/><circle cx="143.7" cy="278.1" r="2.0"/><circle cx="146.5" cy="283.7" r="2.0"/><circle cx="149.3" cy="289.2" r="2.0"/><circle cx="152.1" cy="294.8" r="2.0"/><circle cx="154.8" cy="300.3" r="2.0"/><circle cx="157.6" cy="305.8" r="2.0"/><circle cx="160.4" cy="311.4" r="2.0"/><circle cx="163.2" cy="316.9" r="2.0"/><circle cx="166" cy="322.4" r="2.0"/><circle cx="168.8" cy="328" r="2.0"/><circle cx="171.6" cy="333.5" r="2.0"/><circle cx="174.4" cy="339" r="2.0"/><circle cx="177.2" cy="344.6" r="2.0"/><circle cx="180" cy="350.1" r="2.0"/><circle cx="182.7" cy="355.7" r="2.0"/><circle cx="185.5" cy="361.2" r="2.0"/><circle cx="188.3" cy="366.7" r="2.0"/><circle cx="191.1" cy="372.3" r="2.0"/><circle cx="193.9" cy="377.8" r="2.0"/><circle cx="196.7" cy="383.3" r="2.0"/><circle cx="199.5" cy="388.9" r="2.0"/><circle cx="202.3" cy="394.4" r="2.0"/><circle cx="205.1" cy="400" r="2.0"/><circle cx="130.3" cy="216.2" r="2.0"/><circle cx="133.1" cy="221.7" r="2.0"/><circle cx="135.9" cy="227.3" r="2.0"/><circle cx="138.7" cy="232.8" r="2.0"/><circle cx="141.5" cy="238.4" r="2.0"/><circle cx="144.2" cy="243.9" r="2.0"/><circle cx="147" cy="249.4" r="2.0"/><circle cx="149.8" cy="255" r="2.0"/><circle cx="152.6" cy="260.5" r="2.0"/><circle cx="155.4" cy="266" r="2.0"/><circle cx="158.2" cy="271.6" r="2.0"/><circle cx="161" cy="277.1" r="2.0"/><circle cx="163.8" cy="282.6" r="2.0"/><circle cx="166.6" cy="288.2" r="2.0"/><circle cx="169.4" cy="293.7" r="2.0"/><circle cx="172.1" cy="299.3" r="2.0"/><circle cx="174.9" cy="304.8" r="2.0"/><circle cx="177.7" cy="310.3" r="2.0"/><circle cx="180.5" cy="315.9" r="2.0"/><circle cx="183.3" cy="321.4" r="2.0"/><circle cx="186.1" cy="326.9" r="2.0"/><circle cx="188.9" cy="332.5" r="2.0"/><circle cx="191.7" cy="338" r="2.0"/><circle cx="194.5" cy="343.5" r="2.0"/><circle cx="197.3" cy="349.1" r="2.0"/><circle cx="200" cy="354.6" r="2.0"/><circle cx="202.8" cy="360.2" r="2.0"/><circle cx="205.6" cy="365.7" r="2.0"/><circle cx="208.4" cy="371.2" r="2.0"/><circle cx="211.2" cy="376.8" r="2.0"/><circle cx="214" cy="382.3" r="2.0"/><circle cx="216.8" cy="387.8" r="2.0"/><circle cx="219.6" cy="393.4" r="2.0"/><circle cx="222.4" cy="398.9" r="2.0"/><circle cx="147.6" cy="215.2" r="2.0"/><circle cx="150.4" cy="220.7" r="2.0"/><circle cx="153.2" cy="226.2" r="2.0"/><circle cx="156" cy="231.8" r="2.0"/><circle cx="158.8" cy="237.3" r="2.0"/><circle cx="161.5" cy="242.9" r="2.0"/><circle cx="164.3" cy="248.4" r="2.0"/><circle cx="167.1" cy="253.9" r="2.0"/><circle cx="169.9" cy="259.5" r="2.0"/><circle cx="172.7" cy="265" r="2.0"/><circle cx="175.5" cy="270.5" r="2.0"/><circle cx="178.3" cy="276.1" r="2.0"/><circle cx="181.1" cy="281.6" r="2.0"/><circle cx="183.9" cy="287.1" r="2.0"/><circle cx="186.7" cy="292.7" r="2.0"/><circle cx="189.4" cy="298.2" r="2.0"/><circle cx="192.2" cy="303.8" r="2.0"/><circle cx="195" cy="309.3" r="2.0"/><circle cx="197.8" cy="314.8" r="2.0"/><circle cx="200.6" cy="320.4" r="2.0"/><circle cx="203.4" cy="325.9" r="2.0"/><circle cx="206.2" cy="331.4" r="2.0"/><circle cx="209" cy="337" r="2.0"/><circle cx="211.8" cy="342.5" r="2.0"/><circle cx="214.6" cy="348" r="2.0"/><circle cx="217.3" cy="353.6" r="2.0"/><circle cx="220.1" cy="359.1" r="2.0"/><circle cx="222.9" cy="364.7" r="2.0"/><circle cx="225.7" cy="370.2" r="2.0"/><circle cx="228.5" cy="375.7" r="2.0"/><circle cx="231.3" cy="381.3" r="2.0"/><circle cx="234.1" cy="386.8" r="2.0"/><circle cx="236.9" cy="392.3" r="2.0"/><circle cx="239.7" cy="397.9" r="2.0"/><circle cx="164.9" cy="214.1" r="2.0"/><circle cx="167.7" cy="219.7" r="2.0"/><circle cx="170.5" cy="225.2" r="2.0"/><circle cx="173.3" cy="230.7" r="2.0"/><circle cx="176.1" cy="236.3" r="2.0"/><circle cx="178.8" cy="241.8" r="2.0"/><circle cx="181.6" cy="247.3" r="2.0"/><circle cx="184.4" cy="252.9" r="2.0"/><circle cx="187.2" cy="258.4" r="2.0"/><circle cx="190" cy="264" r="2.0"/><circle cx="192.8" cy="269.5" r="2.0"/><circle cx="195.6" cy="275" r="2.0"/><circle cx="198.4" cy="280.6" r="2.0"/><circle cx="201.2" cy="286.1" r="2.0"/><circle cx="204" cy="291.6" r="2.0"/><circle cx="206.7" cy="297.2" r="2.0"/><circle cx="209.5" cy="302.7" r="2.0"/><circle cx="212.3" cy="308.3" r="2.0"/><circle cx="215.1" cy="313.8" r="2.0"/><circle cx="217.9" cy="319.3" r="2.0"/><circle cx="220.7" cy="324.9" r="2.0"/><circle cx="223.5" cy="330.4" r="2.0"/><circle cx="226.3" cy="335.9" r="2.0"/><circle cx="229.1" cy="341.5" r="2.0"/><circle cx="231.9" cy="347" r="2.0"/><circle cx="234.6" cy="352.5" r="2.0"/><circle cx="237.4" cy="358.1" r="2.0"/><circle cx="240.2" cy="363.6" r="2.0"/><circle cx="243" cy="369.2" r="2.0"/><circle cx="245.8" cy="374.7" r="2.0"/><circle cx="248.6" cy="380.2" r="2.0"/><circle cx="251.4" cy="385.8" r="2.0"/><circle cx="254.2" cy="391.3" r="2.0"/><circle cx="257" cy="396.8" r="2.0"/><circle cx="182.2" cy="213.1" r="2.0"/><circle cx="185" cy="218.6" r="2.0"/><circle cx="187.8" cy="224.2" r="2.0"/><circle cx="190.6" cy="229.7" r="2.0"/><circle cx="193.4" cy="235.2" r="2.0"/><circle cx="196.1" cy="240.8" r="2.0"/><circle cx="198.9" cy="246.3" r="2.0"/><circle cx="201.7" cy="251.8" r="2.0"/><circle cx="204.5" cy="257.4" r="2.0"/><circle cx="207.3" cy="262.9" r="2.0"/><circle cx="210.1" cy="268.5" r="2.0"/><circle cx="212.9" cy="274" r="2.0"/><circle cx="215.7" cy="279.5" r="2.0"/><circle cx="218.5" cy="285.1" r="2.0"/><circle cx="221.3" cy="290.6" r="2.0"/><circle cx="224" cy="296.1" r="2.0"/><circle cx="226.8" cy="301.7" r="2.0"/><circle cx="229.6" cy="307.2" r="2.0"/><circle cx="232.4" cy="312.8" r="2.0"/><circle cx="235.2" cy="318.3" r="2.0"/><circle cx="238" cy="323.8" r="2.0"/><circle cx="240.8" cy="329.4" r="2.0"/><circle cx="243.6" cy="334.9" r="2.0"/><circle cx="246.4" cy="340.4" r="2.0"/><circle cx="249.2" cy="346" r="2.0"/><circle cx="251.9" cy="351.5" r="2.0"/><circle cx="254.7" cy="357" r="2.0"/><circle cx="257.5" cy="362.6" r="2.0"/><circle cx="260.3" cy="368.1" r="2.0"/><circle cx="263.1" cy="373.7" r="2.0"/><circle cx="265.9" cy="379.2" r="2.0"/><circle cx="268.7" cy="384.7" r="2.0"/><circle cx="271.5" cy="390.3" r="2.0"/><circle cx="274.3" cy="395.8" r="2.0"/><circle cx="199.5" cy="212.1" r="2.0"/><circle cx="202.3" cy="217.6" r="2.0"/><circle cx="205.1" cy="223.1" r="2.0"/><circle cx="207.9" cy="228.7" r="2.0"/><circle cx="210.7" cy="234.2" r="2.0"/><circle cx="213.4" cy="239.7" r="2.0"/><circle cx="216.2" cy="245.3" r="2.0"/><circle cx="219" cy="250.8" r="2.0"/><circle cx="221.8" cy="256.3" r="2.0"/><circle cx="224.6" cy="261.9" r="2.0"/><circle cx="227.4" cy="267.4" r="2.0"/><circle cx="230.2" cy="273" r="2.0"/><circle cx="233" cy="278.5" r="2.0"/><circle cx="235.8" cy="284" r="2.0"/><circle cx="238.6" cy="289.6" r="2.0"/><circle cx="241.3" cy="295.1" r="2.0"/><circle cx="244.1" cy="300.6" r="2.0"/><circle cx="246.9" cy="306.2" r="2.0"/><circle cx="249.7" cy="311.7" r="2.0"/><circle cx="252.5" cy="317.2" r="2.0"/><circle cx="255.3" cy="322.8" r="2.0"/><circle cx="258.1" cy="328.3" r="2.0"/><circle cx="260.9" cy="333.9" r="2.0"/><circle cx="263.7" cy="339.4" r="2.0"/><circle cx="266.5" cy="344.9" r="2.0"/><circle cx="269.2" cy="350.5" r="2.0"/><circle cx="272" cy="356" r="2.0"/><circle cx="274.8" cy="361.5" r="2.0"/><circle cx="277.6" cy="367.1" r="2.0"/><circle cx="280.4" cy="372.6" r="2.0"/><circle cx="283.2" cy="378.2" r="2.0"/><circle cx="286" cy="383.7" r="2.0"/><circle cx="288.8" cy="389.2" r="2.0"/><circle cx="291.6" cy="394.8" r="2.0"/><circle cx="216.8" cy="211" r="2.0"/><circle cx="219.6" cy="216.6" r="2.0"/><circle cx="222.4" cy="222.1" r="2.0"/><circle cx="225.2" cy="227.6" r="2.0"/><circle cx="228" cy="233.2" r="2.0"/><circle cx="230.7" cy="238.7" r="2.0"/><circle cx="233.5" cy="244.2" r="2.0"/><circle cx="236.3" cy="249.8" r="2.0"/><circle cx="239.1" cy="255.3" r="2.0"/><circle cx="241.9" cy="260.8" r="2.0"/><circle cx="244.7" cy="266.4" r="2.0"/><circle cx="247.5" cy="271.9" r="2.0"/><circle cx="250.3" cy="277.5" r="2.0"/><circle cx="253.1" cy="283" r="2.0"/><circle cx="255.9" cy="288.5" r="2.0"/><circle cx="258.6" cy="294.1" r="2.0"/><circle cx="261.4" cy="299.6" r="2.0"/><circle cx="264.2" cy="305.1" r="2.0"/><circle cx="267" cy="310.7" r="2.0"/><circle cx="269.8" cy="316.2" r="2.0"/><circle cx="272.6" cy="321.7" r="2.0"/><circle cx="275.4" cy="327.3" r="2.0"/><circle cx="278.2" cy="332.8" r="2.0"/><circle cx="281" cy="338.4" r="2.0"/><circle cx="283.8" cy="343.9" r="2.0"/><circle cx="286.5" cy="349.4" r="2.0"/><circle cx="289.3" cy="355" r="2.0"/><circle cx="292.1" cy="360.5" r="2.0"/><circle cx="294.9" cy="366" r="2.0"/><circle cx="297.7" cy="371.6" r="2.0"/><circle cx="300.5" cy="377.1" r="2.0"/><circle cx="303.3" cy="382.7" r="2.0"/><circle cx="306.1" cy="388.2" r="2.0"/><circle cx="308.9" cy="393.7" r="2.0"/><circle cx="234.1" cy="210" r="2.0"/><circle cx="236.9" cy="215.5" r="2.0"/><circle cx="239.7" cy="221.1" r="2.0"/><circle cx="242.5" cy="226.6" r="2.0"/><circle cx="245.3" cy="232.1" r="2.0"/><circle cx="248" cy="237.7" r="2.0"/><circle cx="250.8" cy="243.2" r="2.0"/><circle cx="253.6" cy="248.7" r="2.0"/><circle cx="256.4" cy="254.3" r="2.0"/><circle cx="259.2" cy="259.8" r="2.0"/><circle cx="262" cy="265.3" r="2.0"/><circle cx="264.8" cy="270.9" r="2.0"/><circle cx="267.6" cy="276.4" r="2.0"/><circle cx="270.4" cy="282" r="2.0"/><circle cx="273.2" cy="287.5" r="2.0"/><circle cx="275.9" cy="293" r="2.0"/><circle cx="278.7" cy="298.6" r="2.0"/><circle cx="281.5" cy="304.1" r="2.0"/><circle cx="284.3" cy="309.6" r="2.0"/><circle cx="287.1" cy="315.2" r="2.0"/><circle cx="289.9" cy="320.7" r="2.0"/><circle cx="292.7" cy="326.2" r="2.0"/><circle cx="295.5" cy="331.8" r="2.0"/><circle cx="298.3" cy="337.3" r="2.0"/><circle cx="301.1" cy="342.9" r="2.0"/><circle cx="303.8" cy="348.4" r="2.0"/><circle cx="306.6" cy="353.9" r="2.0"/><circle cx="309.4" cy="359.5" r="2.0"/><circle cx="312.2" cy="365" r="2.0"/><circle cx="315" cy="370.5" r="2.0"/><circle cx="317.8" cy="376.1" r="2.0"/><circle cx="320.6" cy="381.6" r="2.0"/><circle cx="323.4" cy="387.1" r="2.0"/><circle cx="326.2" cy="392.7" r="2.0"/><circle cx="251.4" cy="208.9" r="2.0"/><circle cx="254.2" cy="214.5" r="2.0"/><circle cx="257" cy="220" r="2.0"/><circle cx="259.8" cy="225.6" r="2.0"/><circle cx="262.6" cy="231.1" r="2.0"/><circle cx="265.3" cy="236.6" r="2.0"/><circle cx="268.1" cy="242.2" r="2.0"/><circle cx="270.9" cy="247.7" r="2.0"/><circle cx="273.7" cy="253.2" r="2.0"/><circle cx="276.5" cy="258.8" r="2.0"/><circle cx="279.3" cy="264.3" r="2.0"/><circle cx="282.1" cy="269.8" r="2.0"/><circle cx="284.9" cy="275.4" r="2.0"/><circle cx="287.7" cy="280.9" r="2.0"/><circle cx="290.5" cy="286.5" r="2.0"/><circle cx="293.2" cy="292" r="2.0"/><circle cx="296" cy="297.5" r="2.0"/><circle cx="298.8" cy="303.1" r="2.0"/><circle cx="301.6" cy="308.6" r="2.0"/><circle cx="304.4" cy="314.1" r="2.0"/><circle cx="307.2" cy="319.7" r="2.0"/><circle cx="310" cy="325.2" r="2.0"/><circle cx="312.8" cy="330.7" r="2.0"/><circle cx="315.6" cy="336.3" r="2.0"/><circle cx="318.4" cy="341.8" r="2.0"/><circle cx="321.1" cy="347.4" r="2.0"/><circle cx="323.9" cy="352.9" r="2.0"/><circle cx="326.7" cy="358.4" r="2.0"/><circle cx="329.5" cy="364" r="2.0"/><circle cx="332.3" cy="369.5" r="2.0"/><circle cx="335.1" cy="375" r="2.0"/><circle cx="337.9" cy="380.6" r="2.0"/><circle cx="340.7" cy="386.1" r="2.0"/><circle cx="343.5" cy="391.6" r="2.0"/><circle cx="268.7" cy="207.9" r="2.0"/><circle cx="271.5" cy="213.4" r="2.0"/><circle cx="274.3" cy="219" r="2.0"/><circle cx="277.1" cy="224.5" r="2.0"/><circle cx="279.9" cy="230" r="2.0"/><circle cx="282.6" cy="235.6" r="2.0"/><circle cx="285.4" cy="241.1" r="2.0"/><circle cx="288.2" cy="246.7" r="2.0"/><circle cx="291" cy="252.2" r="2.0"/><circle cx="293.8" cy="257.7" r="2.0"/><circle cx="296.6" cy="263.3" r="2.0"/><circle cx="299.4" cy="268.8" r="2.0"/><circle cx="302.2" cy="274.3" r="2.0"/><circle cx="305" cy="279.9" r="2.0"/><circle cx="307.8" cy="285.4" r="2.0"/><circle cx="310.5" cy="291" r="2.0"/><circle cx="313.3" cy="296.5" r="2.0"/><circle cx="316.1" cy="302" r="2.0"/><circle cx="318.9" cy="307.6" r="2.0"/><circle cx="321.7" cy="313.1" r="2.0"/><circle cx="324.5" cy="318.6" r="2.0"/><circle cx="327.3" cy="324.2" r="2.0"/><circle cx="330.1" cy="329.7" r="2.0"/><circle cx="332.9" cy="335.2" r="2.0"/><circle cx="335.7" cy="340.8" r="2.0"/><circle cx="338.4" cy="346.3" r="2.0"/><circle cx="341.2" cy="351.9" r="2.0"/><circle cx="344" cy="357.4" r="2.0"/><circle cx="346.8" cy="362.9" r="2.0"/><circle cx="349.6" cy="368.5" r="2.0"/><circle cx="352.4" cy="374" r="2.0"/><circle cx="355.2" cy="379.5" r="2.0"/><circle cx="358" cy="385.1" r="2.0"/><circle cx="360.8" cy="390.6" r="2.0"/><circle cx="286" cy="206.9" r="2.0"/><circle cx="288.8" cy="212.4" r="2.0"/><circle cx="291.6" cy="217.9" r="2.0"/><circle cx="294.4" cy="223.5" r="2.0"/><circle cx="297.2" cy="229" r="2.0"/><circle cx="299.9" cy="234.5" r="2.0"/><circle cx="302.7" cy="240.1" r="2.0"/><circle cx="305.5" cy="245.6" r="2.0"/><circle cx="308.3" cy="251.2" r="2.0"/><circle cx="311.1" cy="256.7" r="2.0"/><circle cx="313.9" cy="262.2" r="2.0"/><circle cx="316.7" cy="267.8" r="2.0"/><circle cx="319.5" cy="273.3" r="2.0"/><circle cx="322.3" cy="278.8" r="2.0"/><circle cx="325.1" cy="284.4" r="2.0"/><circle cx="327.8" cy="289.9" r="2.0"/><circle cx="330.6" cy="295.4" r="2.0"/><circle cx="333.4" cy="301" r="2.0"/><circle cx="336.2" cy="306.5" r="2.0"/><circle cx="339" cy="312.1" r="2.0"/><circle cx="341.8" cy="317.6" r="2.0"/><circle cx="344.6" cy="323.1" r="2.0"/><circle cx="347.4" cy="328.7" r="2.0"/><circle cx="350.2" cy="334.2" r="2.0"/><circle cx="353" cy="339.7" r="2.0"/><circle cx="355.7" cy="345.3" r="2.0"/><circle cx="358.5" cy="350.8" r="2.0"/><circle cx="361.3" cy="356.4" r="2.0"/><circle cx="364.1" cy="361.9" r="2.0"/><circle cx="366.9" cy="367.4" r="2.0"/><circle cx="369.7" cy="373" r="2.0"/><circle cx="372.5" cy="378.5" r="2.0"/><circle cx="375.3" cy="384" r="2.0"/><circle cx="378.1" cy="389.6" r="2.0"/><circle cx="303.3" cy="205.8" r="2.0"/><circle cx="306.1" cy="211.4" r="2.0"/><circle cx="308.9" cy="216.9" r="2.0"/><circle cx="311.7" cy="222.4" r="2.0"/><circle cx="314.5" cy="228" r="2.0"/><circle cx="317.2" cy="233.5" r="2.0"/><circle cx="320" cy="239" r="2.0"/><circle cx="322.8" cy="244.6" r="2.0"/><circle cx="325.6" cy="250.1" r="2.0"/><circle cx="328.4" cy="255.7" r="2.0"/><circle cx="331.2" cy="261.2" r="2.0"/><circle cx="334" cy="266.7" r="2.0"/><circle cx="336.8" cy="272.3" r="2.0"/><circle cx="339.6" cy="277.8" r="2.0"/><circle cx="342.4" cy="283.3" r="2.0"/><circle cx="345.1" cy="288.9" r="2.0"/><circle cx="347.9" cy="294.4" r="2.0"/><circle cx="350.7" cy="299.9" r="2.0"/><circle cx="353.5" cy="305.5" r="2.0"/><circle cx="356.3" cy="311" r="2.0"/><circle cx="359.1" cy="316.6" r="2.0"/><circle cx="361.9" cy="322.1" r="2.0"/><circle cx="364.7" cy="327.6" r="2.0"/><circle cx="367.5" cy="333.2" r="2.0"/><circle cx="370.3" cy="338.7" r="2.0"/><circle cx="373" cy="344.2" r="2.0"/><circle cx="375.8" cy="349.8" r="2.0"/><circle cx="378.6" cy="355.3" r="2.0"/><circle cx="381.4" cy="360.9" r="2.0"/><circle cx="384.2" cy="366.4" r="2.0"/><circle cx="387" cy="371.9" r="2.0"/><circle cx="389.8" cy="377.5" r="2.0"/><circle cx="392.6" cy="383" r="2.0"/><circle cx="395.4" cy="388.5" r="2.0"/><circle cx="320.6" cy="204.8" r="2.0"/><circle cx="323.4" cy="210.3" r="2.0"/><circle cx="326.2" cy="215.9" r="2.0"/><circle cx="329" cy="221.4" r="2.0"/><circle cx="331.8" cy="226.9" r="2.0"/><circle cx="334.5" cy="232.5" r="2.0"/><circle cx="337.3" cy="238" r="2.0"/><circle cx="340.1" cy="243.5" r="2.0"/><circle cx="342.9" cy="249.1" r="2.0"/><circle cx="345.7" cy="254.6" r="2.0"/><circle cx="348.5" cy="260.2" r="2.0"/><circle cx="351.3" cy="265.7" r="2.0"/><circle cx="354.1" cy="271.2" r="2.0"/><circle cx="356.9" cy="276.8" r="2.0"/><circle cx="359.7" cy="282.3" r="2.0"/><circle cx="362.4" cy="287.8" r="2.0"/><circle cx="365.2" cy="293.4" r="2.0"/><circle cx="368" cy="298.9" r="2.0"/><circle cx="370.8" cy="304.4" r="2.0"/><circle cx="373.6" cy="310" r="2.0"/><circle cx="376.4" cy="315.5" r="2.0"/><circle cx="379.2" cy="321.1" r="2.0"/><circle cx="382" cy="326.6" r="2.0"/><circle cx="384.8" cy="332.1" r="2.0"/><circle cx="387.6" cy="337.7" r="2.0"/><circle cx="390.3" cy="343.2" r="2.0"/><circle cx="393.1" cy="348.7" r="2.0"/><circle cx="395.9" cy="354.3" r="2.0"/><circle cx="398.7" cy="359.8" r="2.0"/><circle cx="401.5" cy="365.3" r="2.0"/><circle cx="404.3" cy="370.9" r="2.0"/><circle cx="407.1" cy="376.4" r="2.0"/><circle cx="409.9" cy="382" r="2.0"/><circle cx="412.7" cy="387.5" r="2.0"/><circle cx="337.9" cy="203.8" r="2.0"/><circle cx="340.7" cy="209.3" r="2.0"/><circle cx="343.5" cy="214.8" r="2.0"/><circle cx="346.3" cy="220.4" r="2.0"/><circle cx="349.1" cy="225.9" r="2.0"/><circle cx="351.8" cy="231.4" r="2.0"/><circle cx="354.6" cy="237" r="2.0"/><circle cx="357.4" cy="242.5" r="2.0"/><circle cx="360.2" cy="248" r="2.0"/><circle cx="363" cy="253.6" r="2.0"/><circle cx="365.8" cy="259.1" r="2.0"/><circle cx="368.6" cy="264.7" r="2.0"/><circle cx="371.4" cy="270.2" r="2.0"/><circle cx="374.2" cy="275.7" r="2.0"/><circle cx="377" cy="281.3" r="2.0"/><circle cx="379.7" cy="286.8" r="2.0"/><circle cx="382.5" cy="292.3" r="2.0"/><circle cx="385.3" cy="297.9" r="2.0"/><circle cx="388.1" cy="303.4" r="2.0"/><circle cx="390.9" cy="308.9" r="2.0"/><circle cx="393.7" cy="314.5" r="2.0"/><circle cx="396.5" cy="320" r="2.0"/><circle cx="399.3" cy="325.6" r="2.0"/><circle cx="402.1" cy="331.1" r="2.0"/><circle cx="404.9" cy="336.6" r="2.0"/><circle cx="407.6" cy="342.2" r="2.0"/><circle cx="410.4" cy="347.7" r="2.0"/><circle cx="413.2" cy="353.2" r="2.0"/><circle cx="416" cy="358.8" r="2.0"/><circle cx="418.8" cy="364.3" r="2.0"/><circle cx="421.6" cy="369.8" r="2.0"/><circle cx="424.4" cy="375.4" r="2.0"/><circle cx="427.2" cy="380.9" r="2.0"/><circle cx="430" cy="386.5" r="2.0"/><circle cx="355.2" cy="202.7" r="2.0"/><circle cx="358" cy="208.2" r="2.0"/><circle cx="360.8" cy="213.8" r="2.0"/><circle cx="363.6" cy="219.3" r="2.0"/><circle cx="366.4" cy="224.9" r="2.0"/><circle cx="369.1" cy="230.4" r="2.0"/><circle cx="371.9" cy="235.9" r="2.0"/><circle cx="374.7" cy="241.5" r="2.0"/><circle cx="377.5" cy="247" r="2.0"/><circle cx="380.3" cy="252.5" r="2.0"/><circle cx="383.1" cy="258.1" r="2.0"/><circle cx="385.9" cy="263.6" r="2.0"/><circle cx="388.7" cy="269.2" r="2.0"/><circle cx="391.5" cy="274.7" r="2.0"/><circle cx="394.3" cy="280.2" r="2.0"/><circle cx="397" cy="285.8" r="2.0"/><circle cx="399.8" cy="291.3" r="2.0"/><circle cx="402.6" cy="296.8" r="2.0"/><circle cx="405.4" cy="302.4" r="2.0"/><circle cx="408.2" cy="307.9" r="2.0"/><circle cx="411" cy="313.4" r="2.0"/><circle cx="413.8" cy="319" r="2.0"/><circle cx="416.6" cy="324.5" r="2.0"/><circle cx="419.4" cy="330.1" r="2.0"/><circle cx="422.2" cy="335.6" r="2.0"/><circle cx="424.9" cy="341.1" r="2.0"/><circle cx="427.7" cy="346.7" r="2.0"/><circle cx="430.5" cy="352.2" r="2.0"/><circle cx="433.3" cy="357.7" r="2.0"/><circle cx="436.1" cy="363.3" r="2.0"/><circle cx="438.9" cy="368.8" r="2.0"/><circle cx="441.7" cy="374.3" r="2.0"/><circle cx="444.5" cy="379.9" r="2.0"/><circle cx="447.3" cy="385.4" r="2.0"/><circle cx="372.5" cy="201.7" r="2.0"/><circle cx="375.3" cy="207.2" r="2.0"/><circle cx="378.1" cy="212.7" r="2.0"/><circle cx="380.9" cy="218.3" r="2.0"/><circle cx="383.7" cy="223.8" r="2.0"/><circle cx="386.4" cy="229.4" r="2.0"/><circle cx="389.2" cy="234.9" r="2.0"/><circle cx="392" cy="240.4" r="2.0"/><circle cx="394.8" cy="246" r="2.0"/><circle cx="397.6" cy="251.5" r="2.0"/><circle cx="400.4" cy="257" r="2.0"/><circle cx="403.2" cy="262.6" r="2.0"/><circle cx="406" cy="268.1" r="2.0"/><circle cx="408.8" cy="273.7" r="2.0"/><circle cx="411.6" cy="279.2" r="2.0"/><circle cx="414.3" cy="284.7" r="2.0"/><circle cx="417.1" cy="290.3" r="2.0"/><circle cx="419.9" cy="295.8" r="2.0"/><circle cx="422.7" cy="301.3" r="2.0"/><circle cx="425.5" cy="306.9" r="2.0"/><circle cx="428.3" cy="312.4" r="2.0"/><circle cx="431.1" cy="317.9" r="2.0"/><circle cx="433.9" cy="323.5" r="2.0"/><circle cx="436.7" cy="329" r="2.0"/><circle cx="439.5" cy="334.6" r="2.0"/><circle cx="442.2" cy="340.1" r="2.0"/><circle cx="445" cy="345.6" r="2.0"/><circle cx="447.8" cy="351.2" r="2.0"/><circle cx="450.6" cy="356.7" r="2.0"/><circle cx="453.4" cy="362.2" r="2.0"/><circle cx="456.2" cy="367.8" r="2.0"/><circle cx="459" cy="373.3" r="2.0"/><circle cx="461.8" cy="378.8" r="2.0"/><circle cx="464.6" cy="384.4" r="2.0"/><circle cx="389.8" cy="200.6" r="2.0"/><circle cx="392.6" cy="206.2" r="2.0"/><circle cx="395.4" cy="211.7" r="2.0"/><circle cx="398.2" cy="217.2" r="2.0"/><circle cx="401" cy="222.8" r="2.0"/><circle cx="403.7" cy="228.3" r="2.0"/><circle cx="406.5" cy="233.9" r="2.0"/><circle cx="409.3" cy="239.4" r="2.0"/><circle cx="412.1" cy="244.9" r="2.0"/><circle cx="414.9" cy="250.5" r="2.0"/><circle cx="417.7" cy="256" r="2.0"/><circle cx="420.5" cy="261.5" r="2.0"/><circle cx="423.3" cy="267.1" r="2.0"/><circle cx="426.1" cy="272.6" r="2.0"/><circle cx="428.9" cy="278.1" r="2.0"/><circle cx="431.6" cy="283.7" r="2.0"/><circle cx="434.4" cy="289.2" r="2.0"/><circle cx="437.2" cy="294.8" r="2.0"/><circle cx="440" cy="300.3" r="2.0"/><circle cx="442.8" cy="305.8" r="2.0"/><circle cx="445.6" cy="311.4" r="2.0"/><circle cx="448.4" cy="316.9" r="2.0"/><circle cx="451.2" cy="322.4" r="2.0"/><circle cx="454" cy="328" r="2.0"/><circle cx="456.8" cy="333.5" r="2.0"/><circle cx="459.5" cy="339.1" r="2.0"/><circle cx="462.3" cy="344.6" r="2.0"/><circle cx="465.1" cy="350.1" r="2.0"/><circle cx="467.9" cy="355.7" r="2.0"/><circle cx="470.7" cy="361.2" r="2.0"/><circle cx="473.5" cy="366.7" r="2.0"/><circle cx="476.3" cy="372.3" r="2.0"/><circle cx="479.1" cy="377.8" r="2.0"/><circle cx="481.9" cy="383.3" r="2.0"/><circle cx="407.1" cy="199.6" r="2.0"/><circle cx="409.9" cy="205.1" r="2.0"/><circle cx="412.7" cy="210.7" r="2.0"/><circle cx="415.5" cy="216.2" r="2.0"/><circle cx="418.3" cy="221.7" r="2.0"/><circle cx="421" cy="227.3" r="2.0"/><circle cx="423.8" cy="232.8" r="2.0"/><circle cx="426.6" cy="238.4" r="2.0"/><circle cx="429.4" cy="243.9" r="2.0"/><circle cx="432.2" cy="249.4" r="2.0"/><circle cx="435" cy="255" r="2.0"/><circle cx="437.8" cy="260.5" r="2.0"/><circle cx="440.6" cy="266" r="2.0"/><circle cx="443.4" cy="271.6" r="2.0"/><circle cx="446.2" cy="277.1" r="2.0"/><circle cx="448.9" cy="282.6" r="2.0"/><circle cx="451.7" cy="288.2" r="2.0"/><circle cx="454.5" cy="293.7" r="2.0"/><circle cx="457.3" cy="299.3" r="2.0"/><circle cx="460.1" cy="304.8" r="2.0"/><circle cx="462.9" cy="310.3" r="2.0"/><circle cx="465.7" cy="315.9" r="2.0"/><circle cx="468.5" cy="321.4" r="2.0"/><circle cx="471.3" cy="326.9" r="2.0"/><circle cx="474.1" cy="332.5" r="2.0"/><circle cx="476.8" cy="338" r="2.0"/><circle cx="479.6" cy="343.5" r="2.0"/><circle cx="482.4" cy="349.1" r="2.0"/><circle cx="485.2" cy="354.6" r="2.0"/><circle cx="488" cy="360.2" r="2.0"/><circle cx="490.8" cy="365.7" r="2.0"/><circle cx="493.6" cy="371.2" r="2.0"/><circle cx="496.4" cy="376.8" r="2.0"/><circle cx="499.2" cy="382.3" r="2.0"/><circle cx="424.4" cy="198.6" r="2.0"/><circle cx="427.2" cy="204.1" r="2.0"/><circle cx="430" cy="209.6" r="2.0"/><circle cx="432.8" cy="215.2" r="2.0"/><circle cx="435.6" cy="220.7" r="2.0"/><circle cx="438.3" cy="226.2" r="2.0"/><circle cx="441.1" cy="231.8" r="2.0"/><circle cx="443.9" cy="237.3" r="2.0"/><circle cx="446.7" cy="242.9" r="2.0"/><circle cx="449.5" cy="248.4" r="2.0"/><circle cx="452.3" cy="253.9" r="2.0"/><circle cx="455.1" cy="259.5" r="2.0"/><circle cx="457.9" cy="265" r="2.0"/><circle cx="460.7" cy="270.5" r="2.0"/><circle cx="463.5" cy="276.1" r="2.0"/><circle cx="466.2" cy="281.6" r="2.0"/><circle cx="469" cy="287.1" r="2.0"/><circle cx="471.8" cy="292.7" r="2.0"/><circle cx="474.6" cy="298.2" r="2.0"/><circle cx="477.4" cy="303.8" r="2.0"/><circle cx="480.2" cy="309.3" r="2.0"/><circle cx="483" cy="314.8" r="2.0"/><circle cx="485.8" cy="320.4" r="2.0"/><circle cx="488.6" cy="325.9" r="2.0"/><circle cx="491.4" cy="331.4" r="2.0"/><circle cx="494.1" cy="337" r="2.0"/><circle cx="496.9" cy="342.5" r="2.0"/><circle cx="499.7" cy="348" r="2.0"/><circle cx="502.5" cy="353.6" r="2.0"/><circle cx="505.3" cy="359.1" r="2.0"/><circle cx="508.1" cy="364.7" r="2.0"/><circle cx="510.9" cy="370.2" r="2.0"/><circle cx="513.7" cy="375.7" r="2.0"/><circle cx="516.5" cy="381.3" r="2.0"/><circle cx="441.7" cy="197.5" r="2.0"/><circle cx="444.5" cy="203.1" r="2.0"/><circle cx="447.3" cy="208.6" r="2.0"/><circle cx="450.1" cy="214.1" r="2.0"/><circle cx="452.9" cy="219.7" r="2.0"/><circle cx="455.6" cy="225.2" r="2.0"/><circle cx="458.4" cy="230.7" r="2.0"/><circle cx="461.2" cy="236.3" r="2.0"/><circle cx="464" cy="241.8" r="2.0"/><circle cx="466.8" cy="247.4" r="2.0"/><circle cx="469.6" cy="252.9" r="2.0"/><circle cx="472.4" cy="258.4" r="2.0"/><circle cx="475.2" cy="264" r="2.0"/><circle cx="478" cy="269.5" r="2.0"/><circle cx="480.8" cy="275" r="2.0"/><circle cx="483.5" cy="280.6" r="2.0"/><circle cx="486.3" cy="286.1" r="2.0"/><circle cx="489.1" cy="291.6" r="2.0"/><circle cx="491.9" cy="297.2" r="2.0"/><circle cx="494.7" cy="302.7" r="2.0"/><circle cx="497.5" cy="308.3" r="2.0"/><circle cx="500.3" cy="313.8" r="2.0"/><circle cx="503.1" cy="319.3" r="2.0"/><circle cx="505.9" cy="324.9" r="2.0"/><circle cx="508.7" cy="330.4" r="2.0"/><circle cx="511.4" cy="335.9" r="2.0"/><circle cx="514.2" cy="341.5" r="2.0"/><circle cx="517" cy="347" r="2.0"/><circle cx="519.8" cy="352.5" r="2.0"/><circle cx="522.6" cy="358.1" r="2.0"/><circle cx="525.4" cy="363.6" r="2.0"/><circle cx="528.2" cy="369.2" r="2.0"/><circle cx="531" cy="374.7" r="2.0"/><circle cx="533.8" cy="380.2" r="2.0"/><circle cx="459" cy="196.5" r="2.0"/><circle cx="461.8" cy="202" r="2.0"/><circle cx="464.6" cy="207.6" r="2.0"/><circle cx="467.4" cy="213.1" r="2.0"/><circle cx="470.2" cy="218.6" r="2.0"/><circle cx="472.9" cy="224.2" r="2.0"/><circle cx="475.7" cy="229.7" r="2.0"/><circle cx="478.5" cy="235.2" r="2.0"/><circle cx="481.3" cy="240.8" r="2.0"/><circle cx="484.1" cy="246.3" r="2.0"/><circle cx="486.9" cy="251.9" r="2.0"/><circle cx="489.7" cy="257.4" r="2.0"/><circle cx="492.5" cy="262.9" r="2.0"/><circle cx="495.3" cy="268.5" r="2.0"/><circle cx="498.1" cy="274" r="2.0"/><circle cx="500.8" cy="279.5" r="2.0"/><circle cx="503.6" cy="285.1" r="2.0"/><circle cx="506.4" cy="290.6" r="2.0"/><circle cx="509.2" cy="296.1" r="2.0"/><circle cx="512" cy="301.7" r="2.0"/><circle cx="514.8" cy="307.2" r="2.0"/><circle cx="517.6" cy="312.8" r="2.0"/><circle cx="520.4" cy="318.3" r="2.0"/><circle cx="523.2" cy="323.8" r="2.0"/><circle cx="526" cy="329.4" r="2.0"/><circle cx="528.7" cy="334.9" r="2.0"/><circle cx="531.5" cy="340.4" r="2.0"/><circle cx="534.3" cy="346" r="2.0"/><circle cx="537.1" cy="351.5" r="2.0"/><circle cx="539.9" cy="357" r="2.0"/><circle cx="542.7" cy="362.6" r="2.0"/><circle cx="545.5" cy="368.1" r="2.0"/><circle cx="548.3" cy="373.7" r="2.0"/><circle cx="551.1" cy="379.2" r="2.0"/><circle cx="476.3" cy="195.4" r="2.0"/><circle cx="479.1" cy="201" r="2.0"/><circle cx="481.9" cy="206.5" r="2.0"/><circle cx="484.7" cy="212.1" r="2.0"/><circle cx="487.5" cy="217.6" r="2.0"/><circle cx="490.2" cy="223.1" r="2.0"/><circle cx="493" cy="228.7" r="2.0"/><circle cx="495.8" cy="234.2" r="2.0"/><circle cx="498.6" cy="239.7" r="2.0"/><circle cx="501.4" cy="245.3" r="2.0"/><circle cx="504.2" cy="250.8" r="2.0"/><circle cx="507" cy="256.3" r="2.0"/><circle cx="509.8" cy="261.9" r="2.0"/><circle cx="512.6" cy="267.4" r="2.0"/><circle cx="515.4" cy="273" r="2.0"/><circle cx="518.1" cy="278.5" r="2.0"/><circle cx="520.9" cy="284" r="2.0"/><circle cx="523.7" cy="289.6" r="2.0"/><circle cx="526.5" cy="295.1" r="2.0"/><circle cx="529.3" cy="300.6" r="2.0"/><circle cx="532.1" cy="306.2" r="2.0"/><circle cx="534.9" cy="311.7" r="2.0"/><circle cx="537.7" cy="317.3" r="2.0"/><circle cx="540.5" cy="322.8" r="2.0"/><circle cx="543.3" cy="328.3" r="2.0"/><circle cx="546" cy="333.9" r="2.0"/><circle cx="548.8" cy="339.4" r="2.0"/><circle cx="551.6" cy="344.9" r="2.0"/><circle cx="554.4" cy="350.5" r="2.0"/><circle cx="557.2" cy="356" r="2.0"/><circle cx="560" cy="361.5" r="2.0"/><circle cx="562.8" cy="367.1" r="2.0"/><circle cx="565.6" cy="372.6" r="2.0"/><circle cx="568.4" cy="378.2" r="2.0"/><circle cx="493.6" cy="194.4" r="2.0"/><circle cx="496.4" cy="199.9" r="2.0"/><circle cx="499.2" cy="205.5" r="2.0"/><circle cx="502" cy="211" r="2.0"/><circle cx="504.8" cy="216.6" r="2.0"/><circle cx="507.5" cy="222.1" r="2.0"/><circle cx="510.3" cy="227.6" r="2.0"/><circle cx="513.1" cy="233.2" r="2.0"/><circle cx="515.9" cy="238.7" r="2.0"/><circle cx="518.7" cy="244.2" r="2.0"/><circle cx="521.5" cy="249.8" r="2.0"/><circle cx="524.3" cy="255.3" r="2.0"/><circle cx="527.1" cy="260.8" r="2.0"/><circle cx="529.9" cy="266.4" r="2.0"/><circle cx="532.7" cy="271.9" r="2.0"/><circle cx="535.4" cy="277.5" r="2.0"/><circle cx="538.2" cy="283" r="2.0"/><circle cx="541" cy="288.5" r="2.0"/><circle cx="543.8" cy="294.1" r="2.0"/><circle cx="546.6" cy="299.6" r="2.0"/><circle cx="549.4" cy="305.1" r="2.0"/><circle cx="552.2" cy="310.7" r="2.0"/><circle cx="555" cy="316.2" r="2.0"/><circle cx="557.8" cy="321.8" r="2.0"/><circle cx="560.6" cy="327.3" r="2.0"/><circle cx="563.3" cy="332.8" r="2.0"/><circle cx="566.1" cy="338.4" r="2.0"/><circle cx="568.9" cy="343.9" r="2.0"/><circle cx="571.7" cy="349.4" r="2.0"/><circle cx="574.5" cy="355" r="2.0"/><circle cx="577.3" cy="360.5" r="2.0"/><circle cx="580.1" cy="366" r="2.0"/><circle cx="582.9" cy="371.6" r="2.0"/><circle cx="585.7" cy="377.1" r="2.0"/><circle cx="510.9" cy="193.4" r="2.0"/><circle cx="513.7" cy="198.9" r="2.0"/><circle cx="516.5" cy="204.4" r="2.0"/><circle cx="519.3" cy="210" r="2.0"/><circle cx="522.1" cy="215.5" r="2.0"/><circle cx="524.8" cy="221.1" r="2.0"/><circle cx="527.6" cy="226.6" r="2.0"/><circle cx="530.4" cy="232.1" r="2.0"/><circle cx="533.2" cy="237.7" r="2.0"/><circle cx="536" cy="243.2" r="2.0"/><circle cx="538.8" cy="248.7" r="2.0"/><circle cx="541.6" cy="254.3" r="2.0"/><circle cx="544.4" cy="259.8" r="2.0"/><circle cx="547.2" cy="265.3" r="2.0"/><circle cx="550" cy="270.9" r="2.0"/><circle cx="552.7" cy="276.4" r="2.0"/><circle cx="555.5" cy="282" r="2.0"/><circle cx="558.3" cy="287.5" r="2.0"/><circle cx="561.1" cy="293" r="2.0"/><circle cx="563.9" cy="298.6" r="2.0"/><circle cx="566.7" cy="304.1" r="2.0"/><circle cx="569.5" cy="309.6" r="2.0"/><circle cx="572.3" cy="315.2" r="2.0"/><circle cx="575.1" cy="320.7" r="2.0"/><circle cx="577.9" cy="326.2" r="2.0"/><circle cx="580.6" cy="331.8" r="2.0"/><circle cx="583.4" cy="337.3" r="2.0"/><circle cx="586.2" cy="342.9" r="2.0"/><circle cx="589" cy="348.4" r="2.0"/><circle cx="591.8" cy="353.9" r="2.0"/><circle cx="594.6" cy="359.5" r="2.0"/><circle cx="597.4" cy="365" r="2.0"/><circle cx="600.2" cy="370.5" r="2.0"/><circle cx="603" cy="376.1" r="2.0"/><circle cx="528.2" cy="192.3" r="2.0"/><circle cx="531" cy="197.9" r="2.0"/><circle cx="533.8" cy="203.4" r="2.0"/><circle cx="536.6" cy="208.9" r="2.0"/><circle cx="539.4" cy="214.5" r="2.0"/><circle cx="542.1" cy="220" r="2.0"/><circle cx="544.9" cy="225.6" r="2.0"/><circle cx="547.7" cy="231.1" r="2.0"/><circle cx="550.5" cy="236.6" r="2.0"/><circle cx="553.3" cy="242.2" r="2.0"/><circle cx="556.1" cy="247.7" r="2.0"/><circle cx="558.9" cy="253.2" r="2.0"/><circle cx="561.7" cy="258.8" r="2.0"/><circle cx="564.5" cy="264.3" r="2.0"/><circle cx="567.3" cy="269.8" r="2.0"/><circle cx="570" cy="275.4" r="2.0"/><circle cx="572.8" cy="280.9" r="2.0"/><circle cx="575.6" cy="286.5" r="2.0"/><circle cx="578.4" cy="292" r="2.0"/><circle cx="581.2" cy="297.5" r="2.0"/><circle cx="584" cy="303.1" r="2.0"/><circle cx="586.8" cy="308.6" r="2.0"/><circle cx="589.6" cy="314.1" r="2.0"/><circle cx="592.4" cy="319.7" r="2.0"/><circle cx="595.2" cy="325.2" r="2.0"/><circle cx="597.9" cy="330.7" r="2.0"/><circle cx="600.7" cy="336.3" r="2.0"/><circle cx="603.5" cy="341.8" r="2.0"/><circle cx="606.3" cy="347.4" r="2.0"/><circle cx="609.1" cy="352.9" r="2.0"/><circle cx="611.9" cy="358.4" r="2.0"/><circle cx="614.7" cy="364" r="2.0"/><circle cx="617.5" cy="369.5" r="2.0"/><circle cx="620.3" cy="375" r="2.0"/><circle cx="545.5" cy="191.3" r="2.0"/><circle cx="548.3" cy="196.8" r="2.0"/><circle cx="551.1" cy="202.4" r="2.0"/><circle cx="553.9" cy="207.9" r="2.0"/><circle cx="556.7" cy="213.4" r="2.0"/><circle cx="559.4" cy="219" r="2.0"/><circle cx="562.2" cy="224.5" r="2.0"/><circle cx="565" cy="230.1" r="2.0"/><circle cx="567.8" cy="235.6" r="2.0"/><circle cx="570.6" cy="241.1" r="2.0"/><circle cx="573.4" cy="246.7" r="2.0"/><circle cx="576.2" cy="252.2" r="2.0"/><circle cx="579" cy="257.7" r="2.0"/><circle cx="581.8" cy="263.3" r="2.0"/><circle cx="584.6" cy="268.8" r="2.0"/><circle cx="587.3" cy="274.3" r="2.0"/><circle cx="590.1" cy="279.9" r="2.0"/><circle cx="592.9" cy="285.4" r="2.0"/><circle cx="595.7" cy="291" r="2.0"/><circle cx="598.5" cy="296.5" r="2.0"/><circle cx="601.3" cy="302" r="2.0"/><circle cx="604.1" cy="307.6" r="2.0"/><circle cx="606.9" cy="313.1" r="2.0"/><circle cx="609.7" cy="318.6" r="2.0"/><circle cx="612.5" cy="324.2" r="2.0"/><circle cx="615.2" cy="329.7" r="2.0"/><circle cx="618" cy="335.2" r="2.0"/><circle cx="620.8" cy="340.8" r="2.0"/><circle cx="623.6" cy="346.3" r="2.0"/><circle cx="626.4" cy="351.9" r="2.0"/><circle cx="629.2" cy="357.4" r="2.0"/><circle cx="632" cy="362.9" r="2.0"/><circle cx="634.8" cy="368.5" r="2.0"/><circle cx="637.6" cy="374" r="2.0"/></g>
<g fill="url(#gb)"><circle cx="37.2" cy="218.3" r="2.9"/><circle cx="41.4" cy="221.4" r="2.9"/><circle cx="40" cy="223.9" r="2.9"/><circle cx="42.8" cy="229.4" r="2.9"/><circle cx="47" cy="232.5" r="2.9"/><circle cx="45.6" cy="234.9" r="2.9"/><circle cx="48.4" cy="240.5" r="2.9"/><circle cx="52.6" cy="243.5" r="2.9"/><circle cx="51.1" cy="246" r="2.9"/><circle cx="53.9" cy="251.5" r="2.9"/><circle cx="58.1" cy="254.6" r="2.9"/><circle cx="56.7" cy="257.1" r="2.9"/><circle cx="59.5" cy="262.6" r="2.9"/><circle cx="63.7" cy="265.7" r="2.9"/><circle cx="62.3" cy="268.2" r="2.9"/><circle cx="65.1" cy="273.7" r="2.9"/><circle cx="69.3" cy="276.8" r="2.9"/><circle cx="67.9" cy="279.2" r="2.9"/><circle cx="70.7" cy="284.8" r="2.9"/><circle cx="74.9" cy="287.8" r="2.9"/><circle cx="73.5" cy="290.3" r="2.9"/><circle cx="76.3" cy="295.8" r="2.9"/><circle cx="80.5" cy="298.9" r="2.9"/><circle cx="79" cy="301.4" r="2.9"/><circle cx="81.8" cy="306.9" r="2.9"/><circle cx="86" cy="310" r="2.9"/><circle cx="84.6" cy="312.5" r="2.9"/><circle cx="87.4" cy="318" r="2.9"/><circle cx="91.6" cy="321.1" r="2.9"/><circle cx="90.2" cy="323.5" r="2.9"/><circle cx="93" cy="329.1" r="2.9"/><circle cx="97.2" cy="332.1" r="2.9"/><circle cx="95.8" cy="334.6" r="2.9"/><circle cx="98.6" cy="340.1" r="2.9"/><circle cx="102.8" cy="343.2" r="2.9"/><circle cx="101.4" cy="345.7" r="2.9"/><circle cx="104.2" cy="351.2" r="2.9"/><circle cx="108.4" cy="354.3" r="2.9"/><circle cx="106.9" cy="356.7" r="2.9"/><circle cx="109.7" cy="362.3" r="2.9"/><circle cx="113.9" cy="365.3" r="2.9"/><circle cx="112.5" cy="367.8" r="2.9"/><circle cx="115.3" cy="373.4" r="2.9"/><circle cx="119.5" cy="376.4" r="2.9"/><circle cx="118.1" cy="378.9" r="2.9"/><circle cx="120.9" cy="384.4" r="2.9"/><circle cx="125.1" cy="387.5" r="2.9"/><circle cx="123.7" cy="390" r="2.9"/><circle cx="126.5" cy="395.5" r="2.9"/><circle cx="130.7" cy="398.6" r="2.9"/><circle cx="129.3" cy="401" r="2.9"/><circle cx="54.5" cy="217.3" r="2.9"/><circle cx="58.7" cy="220.4" r="2.9"/><circle cx="57.3" cy="222.8" r="2.9"/><circle cx="60.1" cy="228.4" r="2.9"/><circle cx="64.3" cy="231.4" r="2.9"/><circle cx="62.9" cy="233.9" r="2.9"/><circle cx="65.7" cy="239.4" r="2.9"/><circle cx="69.9" cy="242.5" r="2.9"/><circle cx="68.5" cy="245" r="2.9"/><circle cx="71.2" cy="250.5" r="2.9"/><circle cx="75.4" cy="253.6" r="2.9"/><circle cx="74" cy="256" r="2.9"/><circle cx="76.8" cy="261.6" r="2.9"/><circle cx="81" cy="264.7" r="2.9"/><circle cx="79.6" cy="267.1" r="2.9"/><circle cx="82.4" cy="272.7" r="2.9"/><circle cx="86.6" cy="275.7" r="2.9"/><circle cx="85.2" cy="278.2" r="2.9"/><circle cx="88" cy="283.7" r="2.9"/><circle cx="92.2" cy="286.8" r="2.9"/><circle cx="90.8" cy="289.3" r="2.9"/><circle cx="93.6" cy="294.8" r="2.9"/><circle cx="97.8" cy="297.9" r="2.9"/><circle cx="96.3" cy="300.3" r="2.9"/><circle cx="99.1" cy="305.9" r="2.9"/><circle cx="103.3" cy="308.9" r="2.9"/><circle cx="101.9" cy="311.4" r="2.9"/><circle cx="104.7" cy="316.9" r="2.9"/><circle cx="108.9" cy="320" r="2.9"/><circle cx="107.5" cy="322.5" r="2.9"/><circle cx="110.3" cy="328" r="2.9"/><circle cx="114.5" cy="331.1" r="2.9"/><circle cx="113.1" cy="333.6" r="2.9"/><circle cx="115.9" cy="339.1" r="2.9"/><circle cx="120.1" cy="342.2" r="2.9"/><circle cx="118.7" cy="344.6" r="2.9"/><circle cx="121.5" cy="350.2" r="2.9"/><circle cx="125.7" cy="353.2" r="2.9"/><circle cx="124.2" cy="355.7" r="2.9"/><circle cx="127" cy="361.2" r="2.9"/><circle cx="131.2" cy="364.3" r="2.9"/><circle cx="129.8" cy="366.8" r="2.9"/><circle cx="132.6" cy="372.3" r="2.9"/><circle cx="136.8" cy="375.4" r="2.9"/><circle cx="135.4" cy="377.9" r="2.9"/><circle cx="138.2" cy="383.4" r="2.9"/><circle cx="142.4" cy="386.5" r="2.9"/><circle cx="141" cy="388.9" r="2.9"/><circle cx="143.8" cy="394.5" r="2.9"/><circle cx="148" cy="397.5" r="2.9"/><circle cx="146.6" cy="400" r="2.9"/><circle cx="71.8" cy="216.3" r="2.9"/><circle cx="76" cy="219.3" r="2.9"/><circle cx="74.6" cy="221.8" r="2.9"/><circle cx="77.4" cy="227.3" r="2.9"/><circle cx="81.6" cy="230.4" r="2.9"/><circle cx="80.2" cy="232.9" r="2.9"/><circle cx="83" cy="238.4" r="2.9"/><circle cx="87.2" cy="241.5" r="2.9"/><circle cx="85.8" cy="243.9" r="2.9"/><circle cx="88.5" cy="249.5" r="2.9"/><circle cx="92.7" cy="252.5" r="2.9"/><circle cx="91.3" cy="255" r="2.9"/><circle cx="94.1" cy="260.5" r="2.9"/><circle cx="98.3" cy="263.6" r="2.9"/><circle cx="96.9" cy="266.1" r="2.9"/><circle cx="99.7" cy="271.6" r="2.9"/><circle cx="103.9" cy="274.7" r="2.9"/><circle cx="102.5" cy="277.2" r="2.9"/><circle cx="105.3" cy="282.7" r="2.9"/><circle cx="109.5" cy="285.8" r="2.9"/><circle cx="108.1" cy="288.2" r="2.9"/><circle cx="110.9" cy="293.8" r="2.9"/><circle cx="115.1" cy="296.8" r="2.9"/><circle cx="113.7" cy="299.3" r="2.9"/><circle cx="116.4" cy="304.8" r="2.9"/><circle cx="120.6" cy="307.9" r="2.9"/><circle cx="119.2" cy="310.4" r="2.9"/><circle cx="122" cy="315.9" r="2.9"/><circle cx="126.2" cy="319" r="2.9"/><circle cx="124.8" cy="321.4" r="2.9"/><circle cx="127.6" cy="327" r="2.9"/><circle cx="131.8" cy="330.1" r="2.9"/><circle cx="130.4" cy="332.5" r="2.9"/><circle cx="133.2" cy="338.1" r="2.9"/><circle cx="137.4" cy="341.1" r="2.9"/><circle cx="136" cy="343.6" r="2.9"/><circle cx="138.8" cy="349.1" r="2.9"/><circle cx="143" cy="352.2" r="2.9"/><circle cx="141.6" cy="354.7" r="2.9"/><circle cx="144.3" cy="360.2" r="2.9"/><circle cx="148.5" cy="363.3" r="2.9"/><circle cx="147.1" cy="365.7" r="2.9"/><circle cx="149.9" cy="371.3" r="2.9"/><circle cx="154.1" cy="374.3" r="2.9"/><circle cx="152.7" cy="376.8" r="2.9"/><circle cx="155.5" cy="382.4" r="2.9"/><circle cx="159.7" cy="385.4" r="2.9"/><circle cx="158.3" cy="387.9" r="2.9"/><circle cx="161.1" cy="393.4" r="2.9"/><circle cx="165.3" cy="396.5" r="2.9"/><circle cx="163.9" cy="399" r="2.9"/><circle cx="89.1" cy="215.2" r="2.9"/><circle cx="93.3" cy="218.3" r="2.9"/><circle cx="91.9" cy="220.8" r="2.9"/><circle cx="94.7" cy="226.3" r="2.9"/><circle cx="98.9" cy="229.4" r="2.9"/><circle cx="97.5" cy="231.8" r="2.9"/><circle cx="100.3" cy="237.4" r="2.9"/><circle cx="104.5" cy="240.4" r="2.9"/><circle cx="103" cy="242.9" r="2.9"/><circle cx="105.8" cy="248.4" r="2.9"/><circle cx="110" cy="251.5" r="2.9"/><circle cx="108.6" cy="254" r="2.9"/><circle cx="111.4" cy="259.5" r="2.9"/><circle cx="115.6" cy="262.6" r="2.9"/><circle cx="114.2" cy="265" r="2.9"/><circle cx="117" cy="270.6" r="2.9"/><circle cx="121.2" cy="273.6" r="2.9"/><circle cx="119.8" cy="276.1" r="2.9"/><circle cx="122.6" cy="281.7" r="2.9"/><circle cx="126.8" cy="284.7" r="2.9"/><circle cx="125.4" cy="287.2" r="2.9"/><circle cx="128.2" cy="292.7" r="2.9"/><circle cx="132.4" cy="295.8" r="2.9"/><circle cx="130.9" cy="298.3" r="2.9"/><circle cx="133.7" cy="303.8" r="2.9"/><circle cx="137.9" cy="306.9" r="2.9"/><circle cx="136.5" cy="309.3" r="2.9"/><circle cx="139.3" cy="314.9" r="2.9"/><circle cx="143.5" cy="317.9" r="2.9"/><circle cx="142.1" cy="320.4" r="2.9"/><circle cx="144.9" cy="325.9" r="2.9"/><circle cx="149.1" cy="329" r="2.9"/><circle cx="147.7" cy="331.5" r="2.9"/><circle cx="150.5" cy="337" r="2.9"/><circle cx="154.7" cy="340.1" r="2.9"/><circle cx="153.3" cy="342.6" r="2.9"/><circle cx="156.1" cy="348.1" r="2.9"/><circle cx="160.3" cy="351.2" r="2.9"/><circle cx="158.8" cy="353.6" r="2.9"/><circle cx="161.6" cy="359.2" r="2.9"/><circle cx="165.8" cy="362.2" r="2.9"/><circle cx="164.4" cy="364.7" r="2.9"/><circle cx="167.2" cy="370.2" r="2.9"/><circle cx="171.4" cy="373.3" r="2.9"/><circle cx="170" cy="375.8" r="2.9"/><circle cx="172.8" cy="381.3" r="2.9"/><circle cx="177" cy="384.4" r="2.9"/><circle cx="175.6" cy="386.8" r="2.9"/><circle cx="178.4" cy="392.4" r="2.9"/><circle cx="182.6" cy="395.5" r="2.9"/><circle cx="181.2" cy="397.9" r="2.9"/><circle cx="106.4" cy="214.2" r="2.9"/><circle cx="110.6" cy="217.2" r="2.9"/><circle cx="109.2" cy="219.7" r="2.9"/><circle cx="112" cy="225.2" r="2.9"/><circle cx="116.2" cy="228.3" r="2.9"/><circle cx="114.8" cy="230.8" r="2.9"/><circle cx="117.6" cy="236.3" r="2.9"/><circle cx="121.8" cy="239.4" r="2.9"/><circle cx="120.4" cy="241.9" r="2.9"/><circle cx="123.1" cy="247.4" r="2.9"/><circle cx="127.3" cy="250.5" r="2.9"/><circle cx="125.9" cy="252.9" r="2.9"/><circle cx="128.7" cy="258.5" r="2.9"/><circle cx="132.9" cy="261.5" r="2.9"/><circle cx="131.5" cy="264" r="2.9"/><circle cx="134.3" cy="269.5" r="2.9"/><circle cx="138.5" cy="272.6" r="2.9"/><circle cx="137.1" cy="275.1" r="2.9"/><circle cx="139.9" cy="280.6" r="2.9"/><circle cx="144.1" cy="283.7" r="2.9"/><circle cx="142.7" cy="286.2" r="2.9"/><circle cx="145.5" cy="291.7" r="2.9"/><circle cx="149.7" cy="294.8" r="2.9"/><circle cx="148.2" cy="297.2" r="2.9"/><circle cx="151" cy="302.8" r="2.9"/><circle cx="155.2" cy="305.8" r="2.9"/><circle cx="153.8" cy="308.3" r="2.9"/><circle cx="156.6" cy="313.8" r="2.9"/><circle cx="160.8" cy="316.9" r="2.9"/><circle cx="159.4" cy="319.4" r="2.9"/><circle cx="162.2" cy="324.9" r="2.9"/><circle cx="166.4" cy="328" r="2.9"/><circle cx="165" cy="330.4" r="2.9"/><circle cx="167.8" cy="336" r="2.9"/><circle cx="172" cy="339" r="2.9"/><circle cx="170.6" cy="341.5" r="2.9"/><circle cx="173.4" cy="347.1" r="2.9"/><circle cx="177.6" cy="350.1" r="2.9"/><circle cx="176.2" cy="352.6" r="2.9"/><circle cx="178.9" cy="358.1" r="2.9"/><circle cx="183.1" cy="361.2" r="2.9"/><circle cx="181.7" cy="363.7" r="2.9"/><circle cx="184.5" cy="369.2" r="2.9"/><circle cx="188.7" cy="372.3" r="2.9"/><circle cx="187.3" cy="374.7" r="2.9"/><circle cx="190.1" cy="380.3" r="2.9"/><circle cx="194.3" cy="383.3" r="2.9"/><circle cx="192.9" cy="385.8" r="2.9"/><circle cx="195.7" cy="391.3" r="2.9"/><circle cx="199.9" cy="394.4" r="2.9"/><circle cx="198.5" cy="396.9" r="2.9"/><circle cx="123.7" cy="213.1" r="2.9"/><circle cx="127.9" cy="216.2" r="2.9"/><circle cx="126.5" cy="218.7" r="2.9"/><circle cx="129.3" cy="224.2" r="2.9"/><circle cx="133.5" cy="227.3" r="2.9"/><circle cx="132.1" cy="229.7" r="2.9"/><circle cx="134.9" cy="235.3" r="2.9"/><circle cx="139.1" cy="238.4" r="2.9"/><circle cx="137.7" cy="240.8" r="2.9"/><circle cx="140.4" cy="246.4" r="2.9"/><circle cx="144.6" cy="249.4" r="2.9"/><circle cx="143.2" cy="251.9" r="2.9"/><circle cx="146" cy="257.4" r="2.9"/><circle cx="150.2" cy="260.5" r="2.9"/><circle cx="148.8" cy="263" r="2.9"/><circle cx="151.6" cy="268.5" r="2.9"/><circle cx="155.8" cy="271.6" r="2.9"/><circle cx="154.4" cy="274" r="2.9"/><circle cx="157.2" cy="279.6" r="2.9"/><circle cx="161.4" cy="282.6" r="2.9"/><circle cx="160" cy="285.1" r="2.9"/><circle cx="162.8" cy="290.7" r="2.9"/><circle cx="167" cy="293.7" r="2.9"/><circle cx="165.6" cy="296.2" r="2.9"/><circle cx="168.3" cy="301.7" r="2.9"/><circle cx="172.5" cy="304.8" r="2.9"/><circle cx="171.1" cy="307.3" r="2.9"/><circle cx="173.9" cy="312.8" r="2.9"/><circle cx="178.1" cy="315.9" r="2.9"/><circle cx="176.7" cy="318.3" r="2.9"/><circle cx="179.5" cy="323.9" r="2.9"/><circle cx="183.7" cy="326.9" r="2.9"/><circle cx="182.3" cy="329.4" r="2.9"/><circle cx="185.1" cy="334.9" r="2.9"/><circle cx="189.3" cy="338" r="2.9"/><circle cx="187.9" cy="340.5" r="2.9"/><circle cx="190.7" cy="346" r="2.9"/><circle cx="194.9" cy="349.1" r="2.9"/><circle cx="193.4" cy="351.6" r="2.9"/><circle cx="196.2" cy="357.1" r="2.9"/><circle cx="200.4" cy="360.2" r="2.9"/><circle cx="199" cy="362.6" r="2.9"/><circle cx="201.8" cy="368.2" r="2.9"/><circle cx="206" cy="371.2" r="2.9"/><circle cx="204.6" cy="373.7" r="2.9"/><circle cx="207.4" cy="379.2" r="2.9"/><circle cx="211.6" cy="382.3" r="2.9"/><circle cx="210.2" cy="384.8" r="2.9"/><circle cx="213" cy="390.3" r="2.9"/><circle cx="217.2" cy="393.4" r="2.9"/><circle cx="215.8" cy="395.8" r="2.9"/><circle cx="141" cy="212.1" r="2.9"/><circle cx="145.2" cy="215.2" r="2.9"/><circle cx="143.8" cy="217.6" r="2.9"/><circle cx="146.6" cy="223.2" r="2.9"/><circle cx="150.8" cy="226.2" r="2.9"/><circle cx="149.4" cy="228.7" r="2.9"/><circle cx="152.2" cy="234.2" r="2.9"/><circle cx="156.4" cy="237.3" r="2.9"/><circle cx="154.9" cy="239.8" r="2.9"/><circle cx="157.7" cy="245.3" r="2.9"/><circle cx="161.9" cy="248.4" r="2.9"/><circle cx="160.5" cy="250.9" r="2.9"/><circle cx="163.3" cy="256.4" r="2.9"/><circle cx="167.5" cy="259.5" r="2.9"/><circle cx="166.1" cy="261.9" r="2.9"/><circle cx="168.9" cy="267.5" r="2.9"/><circle cx="173.1" cy="270.5" r="2.9"/><circle cx="171.7" cy="273" r="2.9"/><circle cx="174.5" cy="278.5" r="2.9"/><circle cx="178.7" cy="281.6" r="2.9"/><circle cx="177.3" cy="284.1" r="2.9"/><circle cx="180.1" cy="289.6" r="2.9"/><circle cx="184.3" cy="292.7" r="2.9"/><circle cx="182.8" cy="295.1" r="2.9"/><circle cx="185.6" cy="300.7" r="2.9"/><circle cx="189.8" cy="303.8" r="2.9"/><circle cx="188.4" cy="306.2" r="2.9"/><circle cx="191.2" cy="311.8" r="2.9"/><circle cx="195.4" cy="314.8" r="2.9"/><circle cx="194" cy="317.3" r="2.9"/><circle cx="196.8" cy="322.8" r="2.9"/><circle cx="201" cy="325.9" r="2.9"/><circle cx="199.6" cy="328.4" r="2.9"/><circle cx="202.4" cy="333.9" r="2.9"/><circle cx="206.6" cy="337" r="2.9"/><circle cx="205.2" cy="339.4" r="2.9"/><circle cx="208" cy="345" r="2.9"/><circle cx="212.2" cy="348" r="2.9"/><circle cx="210.8" cy="350.5" r="2.9"/><circle cx="213.5" cy="356.1" r="2.9"/><circle cx="217.7" cy="359.1" r="2.9"/><circle cx="216.3" cy="361.6" r="2.9"/><circle cx="219.1" cy="367.1" r="2.9"/><circle cx="223.3" cy="370.2" r="2.9"/><circle cx="221.9" cy="372.7" r="2.9"/><circle cx="224.7" cy="378.2" r="2.9"/><circle cx="228.9" cy="381.3" r="2.9"/><circle cx="227.5" cy="383.7" r="2.9"/><circle cx="230.3" cy="389.3" r="2.9"/><circle cx="234.5" cy="392.3" r="2.9"/><circle cx="233.1" cy="394.8" r="2.9"/><circle cx="158.3" cy="211.1" r="2.9"/><circle cx="162.5" cy="214.1" r="2.9"/><circle cx="161.1" cy="216.6" r="2.9"/><circle cx="163.9" cy="222.1" r="2.9"/><circle cx="168.1" cy="225.2" r="2.9"/><circle cx="166.7" cy="227.7" r="2.9"/><circle cx="169.5" cy="233.2" r="2.9"/><circle cx="173.7" cy="236.3" r="2.9"/><circle cx="172.2" cy="238.7" r="2.9"/><circle cx="175" cy="244.3" r="2.9"/><circle cx="179.2" cy="247.3" r="2.9"/><circle cx="177.8" cy="249.8" r="2.9"/><circle cx="180.6" cy="255.4" r="2.9"/><circle cx="184.8" cy="258.4" r="2.9"/><circle cx="183.4" cy="260.9" r="2.9"/><circle cx="186.2" cy="266.4" r="2.9"/><circle cx="190.4" cy="269.5" r="2.9"/><circle cx="189" cy="272" r="2.9"/><circle cx="191.8" cy="277.5" r="2.9"/><circle cx="196" cy="280.6" r="2.9"/><circle cx="194.6" cy="283" r="2.9"/><circle cx="197.4" cy="288.6" r="2.9"/><circle cx="201.6" cy="291.6" r="2.9"/><circle cx="200.2" cy="294.1" r="2.9"/><circle cx="202.9" cy="299.6" r="2.9"/><circle cx="207.1" cy="302.7" r="2.9"/><circle cx="205.7" cy="305.2" r="2.9"/><circle cx="208.5" cy="310.7" r="2.9"/><circle cx="212.7" cy="313.8" r="2.9"/><circle cx="211.3" cy="316.3" r="2.9"/><circle cx="214.1" cy="321.8" r="2.9"/><circle cx="218.3" cy="324.9" r="2.9"/><circle cx="216.9" cy="327.3" r="2.9"/><circle cx="219.7" cy="332.9" r="2.9"/><circle cx="223.9" cy="335.9" r="2.9"/><circle cx="222.5" cy="338.4" r="2.9"/><circle cx="225.3" cy="343.9" r="2.9"/><circle cx="229.5" cy="347" r="2.9"/><circle cx="228.1" cy="349.5" r="2.9"/><circle cx="230.8" cy="355" r="2.9"/><circle cx="235" cy="358.1" r="2.9"/><circle cx="233.6" cy="360.6" r="2.9"/><circle cx="236.4" cy="366.1" r="2.9"/><circle cx="240.6" cy="369.2" r="2.9"/><circle cx="239.2" cy="371.6" r="2.9"/><circle cx="242" cy="377.2" r="2.9"/><circle cx="246.2" cy="380.2" r="2.9"/><circle cx="244.8" cy="382.7" r="2.9"/><circle cx="247.6" cy="388.2" r="2.9"/><circle cx="251.8" cy="391.3" r="2.9"/><circle cx="250.4" cy="393.8" r="2.9"/><circle cx="175.6" cy="210" r="2.9"/><circle cx="179.8" cy="213.1" r="2.9"/><circle cx="178.4" cy="215.6" r="2.9"/><circle cx="181.2" cy="221.1" r="2.9"/><circle cx="185.4" cy="224.2" r="2.9"/><circle cx="184" cy="226.6" r="2.9"/><circle cx="186.8" cy="232.2" r="2.9"/><circle cx="191" cy="235.2" r="2.9"/><circle cx="189.5" cy="237.7" r="2.9"/><circle cx="192.3" cy="243.2" r="2.9"/><circle cx="196.5" cy="246.3" r="2.9"/><circle cx="195.1" cy="248.8" r="2.9"/><circle cx="197.9" cy="254.3" r="2.9"/><circle cx="202.1" cy="257.4" r="2.9"/><circle cx="200.7" cy="259.9" r="2.9"/><circle cx="203.5" cy="265.4" r="2.9"/><circle cx="207.7" cy="268.5" r="2.9"/><circle cx="206.3" cy="270.9" r="2.9"/><circle cx="209.1" cy="276.5" r="2.9"/><circle cx="213.3" cy="279.5" r="2.9"/><circle cx="211.9" cy="282" r="2.9"/><circle cx="214.7" cy="287.5" r="2.9"/><circle cx="218.9" cy="290.6" r="2.9"/><circle cx="217.4" cy="293.1" r="2.9"/><circle cx="220.2" cy="298.6" r="2.9"/><circle cx="224.4" cy="301.7" r="2.9"/><circle cx="223" cy="304.1" r="2.9"/><circle cx="225.8" cy="309.7" r="2.9"/><circle cx="230" cy="312.8" r="2.9"/><circle cx="228.6" cy="315.2" r="2.9"/><circle cx="231.4" cy="320.8" r="2.9"/><circle cx="235.6" cy="323.8" r="2.9"/><circle cx="234.2" cy="326.3" r="2.9"/><circle cx="237" cy="331.8" r="2.9"/><circle cx="241.2" cy="334.9" r="2.9"/><circle cx="239.8" cy="337.4" r="2.9"/><circle cx="242.6" cy="342.9" r="2.9"/><circle cx="246.8" cy="346" r="2.9"/><circle cx="245.3" cy="348.4" r="2.9"/><circle cx="248.1" cy="354" r="2.9"/><circle cx="252.3" cy="357" r="2.9"/><circle cx="250.9" cy="359.5" r="2.9"/><circle cx="253.7" cy="365" r="2.9"/><circle cx="257.9" cy="368.1" r="2.9"/><circle cx="256.5" cy="370.6" r="2.9"/><circle cx="259.3" cy="376.1" r="2.9"/><circle cx="263.5" cy="379.2" r="2.9"/><circle cx="262.1" cy="381.7" r="2.9"/><circle cx="264.9" cy="387.2" r="2.9"/><circle cx="269.1" cy="390.3" r="2.9"/><circle cx="267.7" cy="392.7" r="2.9"/><circle cx="192.9" cy="209" r="2.9"/><circle cx="197.1" cy="212.1" r="2.9"/><circle cx="195.7" cy="214.5" r="2.9"/><circle cx="198.5" cy="220.1" r="2.9"/><circle cx="202.7" cy="223.1" r="2.9"/><circle cx="201.3" cy="225.6" r="2.9"/><circle cx="204.1" cy="231.1" r="2.9"/><circle cx="208.3" cy="234.2" r="2.9"/><circle cx="206.8" cy="236.7" r="2.9"/><circle cx="209.6" cy="242.2" r="2.9"/><circle cx="213.8" cy="245.3" r="2.9"/><circle cx="212.4" cy="247.7" r="2.9"/><circle cx="215.2" cy="253.3" r="2.9"/><circle cx="219.4" cy="256.3" r="2.9"/><circle cx="218" cy="258.8" r="2.9"/><circle cx="220.8" cy="264.4" r="2.9"/><circle cx="225" cy="267.4" r="2.9"/><circle cx="223.6" cy="269.9" r="2.9"/><circle cx="226.4" cy="275.4" r="2.9"/><circle cx="230.6" cy="278.5" r="2.9"/><circle cx="229.2" cy="281" r="2.9"/><circle cx="232" cy="286.5" r="2.9"/><circle cx="236.2" cy="289.6" r="2.9"/><circle cx="234.8" cy="292" r="2.9"/><circle cx="237.5" cy="297.6" r="2.9"/><circle cx="241.7" cy="300.6" r="2.9"/><circle cx="240.3" cy="303.1" r="2.9"/><circle cx="243.1" cy="308.6" r="2.9"/><circle cx="247.3" cy="311.7" r="2.9"/><circle cx="245.9" cy="314.2" r="2.9"/><circle cx="248.7" cy="319.7" r="2.9"/><circle cx="252.9" cy="322.8" r="2.9"/><circle cx="251.5" cy="325.3" r="2.9"/><circle cx="254.3" cy="330.8" r="2.9"/><circle cx="258.5" cy="333.9" r="2.9"/><circle cx="257.1" cy="336.3" r="2.9"/><circle cx="259.9" cy="341.9" r="2.9"/><circle cx="264.1" cy="344.9" r="2.9"/><circle cx="262.6" cy="347.4" r="2.9"/><circle cx="265.4" cy="352.9" r="2.9"/><circle cx="269.6" cy="356" r="2.9"/><circle cx="268.2" cy="358.5" r="2.9"/><circle cx="271" cy="364" r="2.9"/><circle cx="275.2" cy="367.1" r="2.9"/><circle cx="273.8" cy="369.5" r="2.9"/><circle cx="276.6" cy="375.1" r="2.9"/><circle cx="280.8" cy="378.2" r="2.9"/><circle cx="279.4" cy="380.6" r="2.9"/><circle cx="282.2" cy="386.2" r="2.9"/><circle cx="286.4" cy="389.2" r="2.9"/><circle cx="285" cy="391.7" r="2.9"/><circle cx="210.2" cy="207.9" r="2.9"/><circle cx="214.4" cy="211" r="2.9"/><circle cx="213" cy="213.5" r="2.9"/><circle cx="215.8" cy="219" r="2.9"/><circle cx="220" cy="222.1" r="2.9"/><circle cx="218.6" cy="224.6" r="2.9"/><circle cx="221.4" cy="230.1" r="2.9"/><circle cx="225.6" cy="233.2" r="2.9"/><circle cx="224.1" cy="235.6" r="2.9"/><circle cx="226.9" cy="241.2" r="2.9"/><circle cx="231.1" cy="244.2" r="2.9"/><circle cx="229.7" cy="246.7" r="2.9"/><circle cx="232.5" cy="252.2" r="2.9"/><circle cx="236.7" cy="255.3" r="2.9"/><circle cx="235.3" cy="257.8" r="2.9"/><circle cx="238.1" cy="263.3" r="2.9"/><circle cx="242.3" cy="266.4" r="2.9"/><circle cx="240.9" cy="268.9" r="2.9"/><circle cx="243.7" cy="274.4" r="2.9"/><circle cx="247.9" cy="277.5" r="2.9"/><circle cx="246.5" cy="279.9" r="2.9"/><circle cx="249.3" cy="285.5" r="2.9"/><circle cx="253.5" cy="288.5" r="2.9"/><circle cx="252" cy="291" r="2.9"/><circle cx="254.8" cy="296.5" r="2.9"/><circle cx="259" cy="299.6" r="2.9"/><circle cx="257.6" cy="302.1" r="2.9"/><circle cx="260.4" cy="307.6" r="2.9"/><circle cx="264.6" cy="310.7" r="2.9"/><circle cx="263.2" cy="313.1" r="2.9"/><circle cx="266" cy="318.7" r="2.9"/><circle cx="270.2" cy="321.7" r="2.9"/><circle cx="268.8" cy="324.2" r="2.9"/><circle cx="271.6" cy="329.8" r="2.9"/><circle cx="275.8" cy="332.8" r="2.9"/><circle cx="274.4" cy="335.3" r="2.9"/><circle cx="277.2" cy="340.8" r="2.9"/><circle cx="281.4" cy="343.9" r="2.9"/><circle cx="279.9" cy="346.4" r="2.9"/><circle cx="282.7" cy="351.9" r="2.9"/><circle cx="286.9" cy="355" r="2.9"/><circle cx="285.5" cy="357.4" r="2.9"/><circle cx="288.3" cy="363" r="2.9"/><circle cx="292.5" cy="366" r="2.9"/><circle cx="291.1" cy="368.5" r="2.9"/><circle cx="293.9" cy="374" r="2.9"/><circle cx="298.1" cy="377.1" r="2.9"/><circle cx="296.7" cy="379.6" r="2.9"/><circle cx="299.5" cy="385.1" r="2.9"/><circle cx="303.7" cy="388.2" r="2.9"/><circle cx="302.3" cy="390.7" r="2.9"/><circle cx="227.5" cy="206.9" r="2.9"/><circle cx="231.7" cy="210" r="2.9"/><circle cx="230.3" cy="212.4" r="2.9"/><circle cx="233.1" cy="218" r="2.9"/><circle cx="237.3" cy="221.1" r="2.9"/><circle cx="235.9" cy="223.5" r="2.9"/><circle cx="238.7" cy="229.1" r="2.9"/><circle cx="242.9" cy="232.1" r="2.9"/><circle cx="241.4" cy="234.6" r="2.9"/><circle cx="244.2" cy="240.1" r="2.9"/><circle cx="248.4" cy="243.2" r="2.9"/><circle cx="247" cy="245.7" r="2.9"/><circle cx="249.8" cy="251.2" r="2.9"/><circle cx="254" cy="254.3" r="2.9"/><circle cx="252.6" cy="256.7" r="2.9"/><circle cx="255.4" cy="262.3" r="2.9"/><circle cx="259.6" cy="265.3" r="2.9"/><circle cx="258.2" cy="267.8" r="2.9"/><circle cx="261" cy="273.3" r="2.9"/><circle cx="265.2" cy="276.4" r="2.9"/><circle cx="263.8" cy="278.9" r="2.9"/><circle cx="266.6" cy="284.4" r="2.9"/><circle cx="270.8" cy="287.5" r="2.9"/><circle cx="269.4" cy="290" r="2.9"/><circle cx="272.1" cy="295.5" r="2.9"/><circle cx="276.3" cy="298.6" r="2.9"/><circle cx="274.9" cy="301" r="2.9"/><circle cx="277.7" cy="306.6" r="2.9"/><circle cx="281.9" cy="309.6" r="2.9"/><circle cx="280.5" cy="312.1" r="2.9"/><circle cx="283.3" cy="317.6" r="2.9"/><circle cx="287.5" cy="320.7" r="2.9"/><circle cx="286.1" cy="323.2" r="2.9"/><circle cx="288.9" cy="328.7" r="2.9"/><circle cx="293.1" cy="331.8" r="2.9"/><circle cx="291.7" cy="334.3" r="2.9"/><circle cx="294.5" cy="339.8" r="2.9"/><circle cx="298.7" cy="342.9" r="2.9"/><circle cx="297.2" cy="345.3" r="2.9"/><circle cx="300" cy="350.9" r="2.9"/><circle cx="304.2" cy="353.9" r="2.9"/><circle cx="302.8" cy="356.4" r="2.9"/><circle cx="305.6" cy="361.9" r="2.9"/><circle cx="309.8" cy="365" r="2.9"/><circle cx="308.4" cy="367.5" r="2.9"/><circle cx="311.2" cy="373" r="2.9"/><circle cx="315.4" cy="376.1" r="2.9"/><circle cx="314" cy="378.5" r="2.9"/><circle cx="316.8" cy="384.1" r="2.9"/><circle cx="321" cy="387.1" r="2.9"/><circle cx="319.6" cy="389.6" r="2.9"/><circle cx="244.8" cy="205.9" r="2.9"/><circle cx="249" cy="208.9" r="2.9"/><circle cx="247.6" cy="211.4" r="2.9"/><circle cx="250.4" cy="216.9" r="2.9"/><circle cx="254.6" cy="220" r="2.9"/><circle cx="253.2" cy="222.5" r="2.9"/><circle cx="256" cy="228" r="2.9"/><circle cx="260.2" cy="231.1" r="2.9"/><circle cx="258.8" cy="233.6" r="2.9"/><circle cx="261.5" cy="239.1" r="2.9"/><circle cx="265.7" cy="242.2" r="2.9"/><circle cx="264.3" cy="244.6" r="2.9"/><circle cx="267.1" cy="250.2" r="2.9"/><circle cx="271.3" cy="253.2" r="2.9"/><circle cx="269.9" cy="255.7" r="2.9"/><circle cx="272.7" cy="261.2" r="2.9"/><circle cx="276.9" cy="264.3" r="2.9"/><circle cx="275.5" cy="266.8" r="2.9"/><circle cx="278.3" cy="272.3" r="2.9"/><circle cx="282.5" cy="275.4" r="2.9"/><circle cx="281.1" cy="277.8" r="2.9"/><circle cx="283.9" cy="283.4" r="2.9"/><circle cx="288.1" cy="286.5" r="2.9"/><circle cx="286.7" cy="288.9" r="2.9"/><circle cx="289.4" cy="294.5" r="2.9"/><circle cx="293.6" cy="297.5" r="2.9"/><circle cx="292.2" cy="300" r="2.9"/><circle cx="295" cy="305.5" r="2.9"/><circle cx="299.2" cy="308.6" r="2.9"/><circle cx="297.8" cy="311.1" r="2.9"/><circle cx="300.6" cy="316.6" r="2.9"/><circle cx="304.8" cy="319.7" r="2.9"/><circle cx="303.4" cy="322.1" r="2.9"/><circle cx="306.2" cy="327.7" r="2.9"/><circle cx="310.4" cy="330.7" r="2.9"/><circle cx="309" cy="333.2" r="2.9"/><circle cx="311.8" cy="338.8" r="2.9"/><circle cx="316" cy="341.8" r="2.9"/><circle cx="314.6" cy="344.3" r="2.9"/><circle cx="317.3" cy="349.8" r="2.9"/><circle cx="321.5" cy="352.9" r="2.9"/><circle cx="320.1" cy="355.4" r="2.9"/><circle cx="322.9" cy="360.9" r="2.9"/><circle cx="327.1" cy="364" r="2.9"/><circle cx="325.7" cy="366.4" r="2.9"/><circle cx="328.5" cy="372" r="2.9"/><circle cx="332.7" cy="375" r="2.9"/><circle cx="331.3" cy="377.5" r="2.9"/><circle cx="334.1" cy="383" r="2.9"/><circle cx="338.3" cy="386.1" r="2.9"/><circle cx="336.9" cy="388.6" r="2.9"/><circle cx="262.1" cy="204.8" r="2.9"/><circle cx="266.3" cy="207.9" r="2.9"/><circle cx="264.9" cy="210.4" r="2.9"/><circle cx="267.7" cy="215.9" r="2.9"/><circle cx="271.9" cy="219" r="2.9"/><circle cx="270.5" cy="221.4" r="2.9"/><circle cx="273.3" cy="227" r="2.9"/><circle cx="277.5" cy="230" r="2.9"/><circle cx="276.1" cy="232.5" r="2.9"/><circle cx="278.8" cy="238.1" r="2.9"/><circle cx="283" cy="241.1" r="2.9"/><circle cx="281.6" cy="243.6" r="2.9"/><circle cx="284.4" cy="249.1" r="2.9"/><circle cx="288.6" cy="252.2" r="2.9"/><circle cx="287.2" cy="254.7" r="2.9"/><circle cx="290" cy="260.2" r="2.9"/><circle cx="294.2" cy="263.3" r="2.9"/><circle cx="292.8" cy="265.7" r="2.9"/><circle cx="295.6" cy="271.3" r="2.9"/><circle cx="299.8" cy="274.3" r="2.9"/><circle cx="298.4" cy="276.8" r="2.9"/><circle cx="301.2" cy="282.3" r="2.9"/><circle cx="305.4" cy="285.4" r="2.9"/><circle cx="304" cy="287.9" r="2.9"/><circle cx="306.7" cy="293.4" r="2.9"/><circle cx="310.9" cy="296.5" r="2.9"/><circle cx="309.5" cy="299" r="2.9"/><circle cx="312.3" cy="304.5" r="2.9"/><circle cx="316.5" cy="307.6" r="2.9"/><circle cx="315.1" cy="310" r="2.9"/><circle cx="317.9" cy="315.6" r="2.9"/><circle cx="322.1" cy="318.6" r="2.9"/><circle cx="320.7" cy="321.1" r="2.9"/><circle cx="323.5" cy="326.6" r="2.9"/><circle cx="327.7" cy="329.7" r="2.9"/><circle cx="326.3" cy="332.2" r="2.9"/><circle cx="329.1" cy="337.7" r="2.9"/><circle cx="333.3" cy="340.8" r="2.9"/><circle cx="331.9" cy="343.2" r="2.9"/><circle cx="334.6" cy="348.8" r="2.9"/><circle cx="338.8" cy="351.9" r="2.9"/><circle cx="337.4" cy="354.3" r="2.9"/><circle cx="340.2" cy="359.9" r="2.9"/><circle cx="344.4" cy="362.9" r="2.9"/><circle cx="343" cy="365.4" r="2.9"/><circle cx="345.8" cy="370.9" r="2.9"/><circle cx="350" cy="374" r="2.9"/><circle cx="348.6" cy="376.5" r="2.9"/><circle cx="351.4" cy="382" r="2.9"/><circle cx="355.6" cy="385.1" r="2.9"/><circle cx="354.2" cy="387.5" r="2.9"/><circle cx="279.4" cy="203.8" r="2.9"/><circle cx="283.6" cy="206.9" r="2.9"/><circle cx="282.2" cy="209.3" r="2.9"/><circle cx="285" cy="214.9" r="2.9"/><circle cx="289.2" cy="217.9" r="2.9"/><circle cx="287.8" cy="220.4" r="2.9"/><circle cx="290.6" cy="225.9" r="2.9"/><circle cx="294.8" cy="229" r="2.9"/><circle cx="293.3" cy="231.5" r="2.9"/><circle cx="296.1" cy="237" r="2.9"/><circle cx="300.3" cy="240.1" r="2.9"/><circle cx="298.9" cy="242.6" r="2.9"/><circle cx="301.7" cy="248.1" r="2.9"/><circle cx="305.9" cy="251.2" r="2.9"/><circle cx="304.5" cy="253.6" r="2.9"/><circle cx="307.3" cy="259.2" r="2.9"/><circle cx="311.5" cy="262.2" r="2.9"/><circle cx="310.1" cy="264.7" r="2.9"/><circle cx="312.9" cy="270.2" r="2.9"/><circle cx="317.1" cy="273.3" r="2.9"/><circle cx="315.7" cy="275.8" r="2.9"/><circle cx="318.5" cy="281.3" r="2.9"/><circle cx="322.7" cy="284.4" r="2.9"/><circle cx="321.2" cy="286.8" r="2.9"/><circle cx="324" cy="292.4" r="2.9"/><circle cx="328.2" cy="295.4" r="2.9"/><circle cx="326.8" cy="297.9" r="2.9"/><circle cx="329.6" cy="303.5" r="2.9"/><circle cx="333.8" cy="306.5" r="2.9"/><circle cx="332.4" cy="309" r="2.9"/><circle cx="335.2" cy="314.5" r="2.9"/><circle cx="339.4" cy="317.6" r="2.9"/><circle cx="338" cy="320.1" r="2.9"/><circle cx="340.8" cy="325.6" r="2.9"/><circle cx="345" cy="328.7" r="2.9"/><circle cx="343.6" cy="331.1" r="2.9"/><circle cx="346.4" cy="336.7" r="2.9"/><circle cx="350.6" cy="339.7" r="2.9"/><circle cx="349.1" cy="342.2" r="2.9"/><circle cx="351.9" cy="347.7" r="2.9"/><circle cx="356.1" cy="350.8" r="2.9"/><circle cx="354.7" cy="353.3" r="2.9"/><circle cx="357.5" cy="358.8" r="2.9"/><circle cx="361.7" cy="361.9" r="2.9"/><circle cx="360.3" cy="364.4" r="2.9"/><circle cx="363.1" cy="369.9" r="2.9"/><circle cx="367.3" cy="373" r="2.9"/><circle cx="365.9" cy="375.4" r="2.9"/><circle cx="368.7" cy="381" r="2.9"/><circle cx="372.9" cy="384" r="2.9"/><circle cx="371.5" cy="386.5" r="2.9"/><circle cx="296.7" cy="202.8" r="2.9"/><circle cx="300.9" cy="205.8" r="2.9"/><circle cx="299.5" cy="208.3" r="2.9"/><circle cx="302.3" cy="213.8" r="2.9"/><circle cx="306.5" cy="216.9" r="2.9"/><circle cx="305.1" cy="219.4" r="2.9"/><circle cx="307.9" cy="224.9" r="2.9"/><circle cx="312.1" cy="228" r="2.9"/><circle cx="310.7" cy="230.4" r="2.9"/><circle cx="313.4" cy="236" r="2.9"/><circle cx="317.6" cy="239" r="2.9"/><circle cx="316.2" cy="241.5" r="2.9"/><circle cx="319" cy="247.1" r="2.9"/><circle cx="323.2" cy="250.1" r="2.9"/><circle cx="321.8" cy="252.6" r="2.9"/><circle cx="324.6" cy="258.1" r="2.9"/><circle cx="328.8" cy="261.2" r="2.9"/><circle cx="327.4" cy="263.7" r="2.9"/><circle cx="330.2" cy="269.2" r="2.9"/><circle cx="334.4" cy="272.3" r="2.9"/><circle cx="333" cy="274.7" r="2.9"/><circle cx="335.8" cy="280.3" r="2.9"/><circle cx="340" cy="283.3" r="2.9"/><circle cx="338.6" cy="285.8" r="2.9"/><circle cx="341.3" cy="291.3" r="2.9"/><circle cx="345.5" cy="294.4" r="2.9"/><circle cx="344.1" cy="296.9" r="2.9"/><circle cx="346.9" cy="302.4" r="2.9"/><circle cx="351.1" cy="305.5" r="2.9"/><circle cx="349.7" cy="308" r="2.9"/><circle cx="352.5" cy="313.5" r="2.9"/><circle cx="356.7" cy="316.6" r="2.9"/><circle cx="355.3" cy="319" r="2.9"/><circle cx="358.1" cy="324.6" r="2.9"/><circle cx="362.3" cy="327.6" r="2.9"/><circle cx="360.9" cy="330.1" r="2.9"/><circle cx="363.7" cy="335.6" r="2.9"/><circle cx="367.9" cy="338.7" r="2.9"/><circle cx="366.5" cy="341.2" r="2.9"/><circle cx="369.2" cy="346.7" r="2.9"/><circle cx="373.4" cy="349.8" r="2.9"/><circle cx="372" cy="352.2" r="2.9"/><circle cx="374.8" cy="357.8" r="2.9"/><circle cx="379" cy="360.9" r="2.9"/><circle cx="377.6" cy="363.3" r="2.9"/><circle cx="380.4" cy="368.9" r="2.9"/><circle cx="384.6" cy="371.9" r="2.9"/><circle cx="383.2" cy="374.4" r="2.9"/><circle cx="386" cy="379.9" r="2.9"/><circle cx="390.2" cy="383" r="2.9"/><circle cx="388.8" cy="385.5" r="2.9"/><circle cx="314" cy="201.7" r="2.9"/><circle cx="318.2" cy="204.8" r="2.9"/><circle cx="316.8" cy="207.3" r="2.9"/><circle cx="319.6" cy="212.8" r="2.9"/><circle cx="323.8" cy="215.9" r="2.9"/><circle cx="322.4" cy="218.3" r="2.9"/><circle cx="325.2" cy="223.9" r="2.9"/><circle cx="329.4" cy="226.9" r="2.9"/><circle cx="327.9" cy="229.4" r="2.9"/><circle cx="330.7" cy="234.9" r="2.9"/><circle cx="334.9" cy="238" r="2.9"/><circle cx="333.5" cy="240.5" r="2.9"/><circle cx="336.3" cy="246" r="2.9"/><circle cx="340.5" cy="249.1" r="2.9"/><circle cx="339.1" cy="251.5" r="2.9"/><circle cx="341.9" cy="257.1" r="2.9"/><circle cx="346.1" cy="260.2" r="2.9"/><circle cx="344.7" cy="262.6" r="2.9"/><circle cx="347.5" cy="268.2" r="2.9"/><circle cx="351.7" cy="271.2" r="2.9"/><circle cx="350.3" cy="273.7" r="2.9"/><circle cx="353.1" cy="279.2" r="2.9"/><circle cx="357.3" cy="282.3" r="2.9"/><circle cx="355.9" cy="284.8" r="2.9"/><circle cx="358.6" cy="290.3" r="2.9"/><circle cx="362.8" cy="293.4" r="2.9"/><circle cx="361.4" cy="295.8" r="2.9"/><circle cx="364.2" cy="301.4" r="2.9"/><circle cx="368.4" cy="304.4" r="2.9"/><circle cx="367" cy="306.9" r="2.9"/><circle cx="369.8" cy="312.5" r="2.9"/><circle cx="374" cy="315.5" r="2.9"/><circle cx="372.6" cy="318" r="2.9"/><circle cx="375.4" cy="323.5" r="2.9"/><circle cx="379.6" cy="326.6" r="2.9"/><circle cx="378.2" cy="329.1" r="2.9"/><circle cx="381" cy="334.6" r="2.9"/><circle cx="385.2" cy="337.7" r="2.9"/><circle cx="383.8" cy="340.1" r="2.9"/><circle cx="386.5" cy="345.7" r="2.9"/><circle cx="390.7" cy="348.7" r="2.9"/><circle cx="389.3" cy="351.2" r="2.9"/><circle cx="392.1" cy="356.7" r="2.9"/><circle cx="396.3" cy="359.8" r="2.9"/><circle cx="394.9" cy="362.3" r="2.9"/><circle cx="397.7" cy="367.8" r="2.9"/><circle cx="401.9" cy="370.9" r="2.9"/><circle cx="400.5" cy="373.4" r="2.9"/><circle cx="403.3" cy="378.9" r="2.9"/><circle cx="407.5" cy="382" r="2.9"/><circle cx="406.1" cy="384.4" r="2.9"/><circle cx="331.3" cy="200.7" r="2.9"/><circle cx="335.5" cy="203.8" r="2.9"/><circle cx="334.1" cy="206.2" r="2.9"/><circle cx="336.9" cy="211.8" r="2.9"/><circle cx="341.1" cy="214.8" r="2.9"/><circle cx="339.7" cy="217.3" r="2.9"/><circle cx="342.5" cy="222.8" r="2.9"/><circle cx="346.7" cy="225.9" r="2.9"/><circle cx="345.2" cy="228.4" r="2.9"/><circle cx="348" cy="233.9" r="2.9"/><circle cx="352.2" cy="237" r="2.9"/><circle cx="350.8" cy="239.4" r="2.9"/><circle cx="353.6" cy="245" r="2.9"/><circle cx="357.8" cy="248" r="2.9"/><circle cx="356.4" cy="250.5" r="2.9"/><circle cx="359.2" cy="256" r="2.9"/><circle cx="363.4" cy="259.1" r="2.9"/><circle cx="362" cy="261.6" r="2.9"/><circle cx="364.8" cy="267.1" r="2.9"/><circle cx="369" cy="270.2" r="2.9"/><circle cx="367.6" cy="272.7" r="2.9"/><circle cx="370.4" cy="278.2" r="2.9"/><circle cx="374.6" cy="281.3" r="2.9"/><circle cx="373.2" cy="283.7" r="2.9"/><circle cx="375.9" cy="289.3" r="2.9"/><circle cx="380.1" cy="292.3" r="2.9"/><circle cx="378.7" cy="294.8" r="2.9"/><circle cx="381.5" cy="300.3" r="2.9"/><circle cx="385.7" cy="303.4" r="2.9"/><circle cx="384.3" cy="305.9" r="2.9"/><circle cx="387.1" cy="311.4" r="2.9"/><circle cx="391.3" cy="314.5" r="2.9"/><circle cx="389.9" cy="317" r="2.9"/><circle cx="392.7" cy="322.5" r="2.9"/><circle cx="396.9" cy="325.6" r="2.9"/><circle cx="395.5" cy="328" r="2.9"/><circle cx="398.3" cy="333.6" r="2.9"/><circle cx="402.5" cy="336.6" r="2.9"/><circle cx="401.1" cy="339.1" r="2.9"/><circle cx="403.8" cy="344.6" r="2.9"/><circle cx="408" cy="347.7" r="2.9"/><circle cx="406.6" cy="350.2" r="2.9"/><circle cx="409.4" cy="355.7" r="2.9"/><circle cx="413.6" cy="358.8" r="2.9"/><circle cx="412.2" cy="361.2" r="2.9"/><circle cx="415" cy="366.8" r="2.9"/><circle cx="419.2" cy="369.8" r="2.9"/><circle cx="417.8" cy="372.3" r="2.9"/><circle cx="420.6" cy="377.9" r="2.9"/><circle cx="424.8" cy="380.9" r="2.9"/><circle cx="423.4" cy="383.4" r="2.9"/><circle cx="348.6" cy="199.6" r="2.9"/><circle cx="352.8" cy="202.7" r="2.9"/><circle cx="351.4" cy="205.2" r="2.9"/><circle cx="354.2" cy="210.7" r="2.9"/><circle cx="358.4" cy="213.8" r="2.9"/><circle cx="357" cy="216.3" r="2.9"/><circle cx="359.8" cy="221.8" r="2.9"/><circle cx="364" cy="224.9" r="2.9"/><circle cx="362.6" cy="227.3" r="2.9"/><circle cx="365.3" cy="232.9" r="2.9"/><circle cx="369.5" cy="235.9" r="2.9"/><circle cx="368.1" cy="238.4" r="2.9"/><circle cx="370.9" cy="243.9" r="2.9"/><circle cx="375.1" cy="247" r="2.9"/><circle cx="373.7" cy="249.5" r="2.9"/><circle cx="376.5" cy="255" r="2.9"/><circle cx="380.7" cy="258.1" r="2.9"/><circle cx="379.3" cy="260.5" r="2.9"/><circle cx="382.1" cy="266.1" r="2.9"/><circle cx="386.3" cy="269.2" r="2.9"/><circle cx="384.9" cy="271.6" r="2.9"/><circle cx="387.7" cy="277.2" r="2.9"/><circle cx="391.9" cy="280.2" r="2.9"/><circle cx="390.5" cy="282.7" r="2.9"/><circle cx="393.2" cy="288.2" r="2.9"/><circle cx="397.4" cy="291.3" r="2.9"/><circle cx="396" cy="293.8" r="2.9"/><circle cx="398.8" cy="299.3" r="2.9"/><circle cx="403" cy="302.4" r="2.9"/><circle cx="401.6" cy="304.8" r="2.9"/><circle cx="404.4" cy="310.4" r="2.9"/><circle cx="408.6" cy="313.4" r="2.9"/><circle cx="407.2" cy="315.9" r="2.9"/><circle cx="410" cy="321.4" r="2.9"/><circle cx="414.2" cy="324.5" r="2.9"/><circle cx="412.8" cy="327" r="2.9"/><circle cx="415.6" cy="332.5" r="2.9"/><circle cx="419.8" cy="335.6" r="2.9"/><circle cx="418.4" cy="338.1" r="2.9"/><circle cx="421.1" cy="343.6" r="2.9"/><circle cx="425.3" cy="346.7" r="2.9"/><circle cx="423.9" cy="349.1" r="2.9"/><circle cx="426.7" cy="354.7" r="2.9"/><circle cx="430.9" cy="357.7" r="2.9"/><circle cx="429.5" cy="360.2" r="2.9"/><circle cx="432.3" cy="365.7" r="2.9"/><circle cx="436.5" cy="368.8" r="2.9"/><circle cx="435.1" cy="371.3" r="2.9"/><circle cx="437.9" cy="376.8" r="2.9"/><circle cx="442.1" cy="379.9" r="2.9"/><circle cx="440.7" cy="382.4" r="2.9"/><circle cx="365.9" cy="198.6" r="2.9"/><circle cx="370.1" cy="201.7" r="2.9"/><circle cx="368.7" cy="204.1" r="2.9"/><circle cx="371.5" cy="209.7" r="2.9"/><circle cx="375.7" cy="212.7" r="2.9"/><circle cx="374.3" cy="215.2" r="2.9"/><circle cx="377.1" cy="220.8" r="2.9"/><circle cx="381.3" cy="223.8" r="2.9"/><circle cx="379.8" cy="226.3" r="2.9"/><circle cx="382.6" cy="231.8" r="2.9"/><circle cx="386.8" cy="234.9" r="2.9"/><circle cx="385.4" cy="237.4" r="2.9"/><circle cx="388.2" cy="242.9" r="2.9"/><circle cx="392.4" cy="246" r="2.9"/><circle cx="391" cy="248.4" r="2.9"/><circle cx="393.8" cy="254" r="2.9"/><circle cx="398" cy="257" r="2.9"/><circle cx="396.6" cy="259.5" r="2.9"/><circle cx="399.4" cy="265" r="2.9"/><circle cx="403.6" cy="268.1" r="2.9"/><circle cx="402.2" cy="270.6" r="2.9"/><circle cx="405" cy="276.1" r="2.9"/><circle cx="409.2" cy="279.2" r="2.9"/><circle cx="407.8" cy="281.7" r="2.9"/><circle cx="410.5" cy="287.2" r="2.9"/><circle cx="414.7" cy="290.3" r="2.9"/><circle cx="413.3" cy="292.7" r="2.9"/><circle cx="416.1" cy="298.3" r="2.9"/><circle cx="420.3" cy="301.3" r="2.9"/><circle cx="418.9" cy="303.8" r="2.9"/><circle cx="421.7" cy="309.3" r="2.9"/><circle cx="425.9" cy="312.4" r="2.9"/><circle cx="424.5" cy="314.9" r="2.9"/><circle cx="427.3" cy="320.4" r="2.9"/><circle cx="431.5" cy="323.5" r="2.9"/><circle cx="430.1" cy="325.9" r="2.9"/><circle cx="432.9" cy="331.5" r="2.9"/><circle cx="437.1" cy="334.6" r="2.9"/><circle cx="435.6" cy="337" r="2.9"/><circle cx="438.4" cy="342.6" r="2.9"/><circle cx="442.6" cy="345.6" r="2.9"/><circle cx="441.2" cy="348.1" r="2.9"/><circle cx="444" cy="353.6" r="2.9"/><circle cx="448.2" cy="356.7" r="2.9"/><circle cx="446.8" cy="359.2" r="2.9"/><circle cx="449.6" cy="364.7" r="2.9"/><circle cx="453.8" cy="367.8" r="2.9"/><circle cx="452.4" cy="370.2" r="2.9"/><circle cx="455.2" cy="375.8" r="2.9"/><circle cx="459.4" cy="378.8" r="2.9"/><circle cx="458" cy="381.3" r="2.9"/><circle cx="383.2" cy="197.6" r="2.9"/><circle cx="387.4" cy="200.6" r="2.9"/><circle cx="386" cy="203.1" r="2.9"/><circle cx="388.8" cy="208.6" r="2.9"/><circle cx="393" cy="211.7" r="2.9"/><circle cx="391.6" cy="214.2" r="2.9"/><circle cx="394.4" cy="219.7" r="2.9"/><circle cx="398.6" cy="222.8" r="2.9"/><circle cx="397.2" cy="225.3" r="2.9"/><circle cx="399.9" cy="230.8" r="2.9"/><circle cx="404.1" cy="233.9" r="2.9"/><circle cx="402.7" cy="236.3" r="2.9"/><circle cx="405.5" cy="241.9" r="2.9"/><circle cx="409.7" cy="244.9" r="2.9"/><circle cx="408.3" cy="247.4" r="2.9"/><circle cx="411.1" cy="252.9" r="2.9"/><circle cx="415.3" cy="256" r="2.9"/><circle cx="413.9" cy="258.5" r="2.9"/><circle cx="416.7" cy="264" r="2.9"/><circle cx="420.9" cy="267.1" r="2.9"/><circle cx="419.5" cy="269.5" r="2.9"/><circle cx="422.3" cy="275.1" r="2.9"/><circle cx="426.5" cy="278.1" r="2.9"/><circle cx="425.1" cy="280.6" r="2.9"/><circle cx="427.8" cy="286.2" r="2.9"/><circle cx="432" cy="289.2" r="2.9"/><circle cx="430.6" cy="291.7" r="2.9"/><circle cx="433.4" cy="297.2" r="2.9"/><circle cx="437.6" cy="300.3" r="2.9"/><circle cx="436.2" cy="302.8" r="2.9"/><circle cx="439" cy="308.3" r="2.9"/><circle cx="443.2" cy="311.4" r="2.9"/><circle cx="441.8" cy="313.8" r="2.9"/><circle cx="444.6" cy="319.4" r="2.9"/><circle cx="448.8" cy="322.4" r="2.9"/><circle cx="447.4" cy="324.9" r="2.9"/><circle cx="450.2" cy="330.4" r="2.9"/><circle cx="454.4" cy="333.5" r="2.9"/><circle cx="453" cy="336" r="2.9"/><circle cx="455.7" cy="341.5" r="2.9"/><circle cx="459.9" cy="344.6" r="2.9"/><circle cx="458.5" cy="347.1" r="2.9"/><circle cx="461.3" cy="352.6" r="2.9"/><circle cx="465.5" cy="355.7" r="2.9"/><circle cx="464.1" cy="358.1" r="2.9"/><circle cx="466.9" cy="363.7" r="2.9"/><circle cx="471.1" cy="366.7" r="2.9"/><circle cx="469.7" cy="369.2" r="2.9"/><circle cx="472.5" cy="374.7" r="2.9"/><circle cx="476.7" cy="377.8" r="2.9"/><circle cx="475.3" cy="380.3" r="2.9"/><circle cx="400.5" cy="196.5" r="2.9"/><circle cx="404.7" cy="199.6" r="2.9"/><circle cx="403.3" cy="202.1" r="2.9"/><circle cx="406.1" cy="207.6" r="2.9"/><circle cx="410.3" cy="210.7" r="2.9"/><circle cx="408.9" cy="213.1" r="2.9"/><circle cx="411.7" cy="218.7" r="2.9"/><circle cx="415.9" cy="221.7" r="2.9"/><circle cx="414.4" cy="224.2" r="2.9"/><circle cx="417.2" cy="229.7" r="2.9"/><circle cx="421.4" cy="232.8" r="2.9"/><circle cx="420" cy="235.3" r="2.9"/><circle cx="422.8" cy="240.8" r="2.9"/><circle cx="427" cy="243.9" r="2.9"/><circle cx="425.6" cy="246.4" r="2.9"/><circle cx="428.4" cy="251.9" r="2.9"/><circle cx="432.6" cy="255" r="2.9"/><circle cx="431.2" cy="257.4" r="2.9"/><circle cx="434" cy="263" r="2.9"/><circle cx="438.2" cy="266" r="2.9"/><circle cx="436.8" cy="268.5" r="2.9"/><circle cx="439.6" cy="274" r="2.9"/><circle cx="443.8" cy="277.1" r="2.9"/><circle cx="442.4" cy="279.6" r="2.9"/><circle cx="445.1" cy="285.1" r="2.9"/><circle cx="449.3" cy="288.2" r="2.9"/><circle cx="447.9" cy="290.7" r="2.9"/><circle cx="450.7" cy="296.2" r="2.9"/><circle cx="454.9" cy="299.3" r="2.9"/><circle cx="453.5" cy="301.7" r="2.9"/><circle cx="456.3" cy="307.3" r="2.9"/><circle cx="460.5" cy="310.3" r="2.9"/><circle cx="459.1" cy="312.8" r="2.9"/><circle cx="461.9" cy="318.3" r="2.9"/><circle cx="466.1" cy="321.4" r="2.9"/><circle cx="464.7" cy="323.9" r="2.9"/><circle cx="467.5" cy="329.4" r="2.9"/><circle cx="471.7" cy="332.5" r="2.9"/><circle cx="470.2" cy="334.9" r="2.9"/><circle cx="473" cy="340.5" r="2.9"/><circle cx="477.2" cy="343.5" r="2.9"/><circle cx="475.8" cy="346" r="2.9"/><circle cx="478.6" cy="351.6" r="2.9"/><circle cx="482.8" cy="354.6" r="2.9"/><circle cx="481.4" cy="357.1" r="2.9"/><circle cx="484.2" cy="362.6" r="2.9"/><circle cx="488.4" cy="365.7" r="2.9"/><circle cx="487" cy="368.2" r="2.9"/><circle cx="489.8" cy="373.7" r="2.9"/><circle cx="494" cy="376.8" r="2.9"/><circle cx="492.6" cy="379.2" r="2.9"/><circle cx="417.8" cy="195.5" r="2.9"/><circle cx="422" cy="198.6" r="2.9"/><circle cx="420.6" cy="201" r="2.9"/><circle cx="423.4" cy="206.6" r="2.9"/><circle cx="427.6" cy="209.6" r="2.9"/><circle cx="426.2" cy="212.1" r="2.9"/><circle cx="429" cy="217.6" r="2.9"/><circle cx="433.2" cy="220.7" r="2.9"/><circle cx="431.8" cy="223.2" r="2.9"/><circle cx="434.5" cy="228.7" r="2.9"/><circle cx="438.7" cy="231.8" r="2.9"/><circle cx="437.3" cy="234.2" r="2.9"/><circle cx="440.1" cy="239.8" r="2.9"/><circle cx="444.3" cy="242.9" r="2.9"/><circle cx="442.9" cy="245.3" r="2.9"/><circle cx="445.7" cy="250.9" r="2.9"/><circle cx="449.9" cy="253.9" r="2.9"/><circle cx="448.5" cy="256.4" r="2.9"/><circle cx="451.3" cy="261.9" r="2.9"/><circle cx="455.5" cy="265" r="2.9"/><circle cx="454.1" cy="267.5" r="2.9"/><circle cx="456.9" cy="273" r="2.9"/><circle cx="461.1" cy="276.1" r="2.9"/><circle cx="459.7" cy="278.5" r="2.9"/><circle cx="462.4" cy="284.1" r="2.9"/><circle cx="466.6" cy="287.1" r="2.9"/><circle cx="465.2" cy="289.6" r="2.9"/><circle cx="468" cy="295.2" r="2.9"/><circle cx="472.2" cy="298.2" r="2.9"/><circle cx="470.8" cy="300.7" r="2.9"/><circle cx="473.6" cy="306.2" r="2.9"/><circle cx="477.8" cy="309.3" r="2.9"/><circle cx="476.4" cy="311.8" r="2.9"/><circle cx="479.2" cy="317.3" r="2.9"/><circle cx="483.4" cy="320.4" r="2.9"/><circle cx="482" cy="322.8" r="2.9"/><circle cx="484.8" cy="328.4" r="2.9"/><circle cx="489" cy="331.4" r="2.9"/><circle cx="487.6" cy="333.9" r="2.9"/><circle cx="490.3" cy="339.4" r="2.9"/><circle cx="494.5" cy="342.5" r="2.9"/><circle cx="493.1" cy="345" r="2.9"/><circle cx="495.9" cy="350.5" r="2.9"/><circle cx="500.1" cy="353.6" r="2.9"/><circle cx="498.7" cy="356.1" r="2.9"/><circle cx="501.5" cy="361.6" r="2.9"/><circle cx="505.7" cy="364.7" r="2.9"/><circle cx="504.3" cy="367.1" r="2.9"/><circle cx="507.1" cy="372.7" r="2.9"/><circle cx="511.3" cy="375.7" r="2.9"/><circle cx="509.9" cy="378.2" r="2.9"/><circle cx="435.1" cy="194.5" r="2.9"/><circle cx="439.3" cy="197.5" r="2.9"/><circle cx="437.9" cy="200" r="2.9"/><circle cx="440.7" cy="205.5" r="2.9"/><circle cx="444.9" cy="208.6" r="2.9"/><circle cx="443.5" cy="211.1" r="2.9"/><circle cx="446.3" cy="216.6" r="2.9"/><circle cx="450.5" cy="219.7" r="2.9"/><circle cx="449.1" cy="222.1" r="2.9"/><circle cx="451.8" cy="227.7" r="2.9"/><circle cx="456" cy="230.7" r="2.9"/><circle cx="454.6" cy="233.2" r="2.9"/><circle cx="457.4" cy="238.7" r="2.9"/><circle cx="461.6" cy="241.8" r="2.9"/><circle cx="460.2" cy="244.3" r="2.9"/><circle cx="463" cy="249.8" r="2.9"/><circle cx="467.2" cy="252.9" r="2.9"/><circle cx="465.8" cy="255.4" r="2.9"/><circle cx="468.6" cy="260.9" r="2.9"/><circle cx="472.8" cy="264" r="2.9"/><circle cx="471.4" cy="266.4" r="2.9"/><circle cx="474.2" cy="272" r="2.9"/><circle cx="478.4" cy="275" r="2.9"/><circle cx="477" cy="277.5" r="2.9"/><circle cx="479.7" cy="283" r="2.9"/><circle cx="483.9" cy="286.1" r="2.9"/><circle cx="482.5" cy="288.6" r="2.9"/><circle cx="485.3" cy="294.1" r="2.9"/><circle cx="489.5" cy="297.2" r="2.9"/><circle cx="488.1" cy="299.6" r="2.9"/><circle cx="490.9" cy="305.2" r="2.9"/><circle cx="495.1" cy="308.3" r="2.9"/><circle cx="493.7" cy="310.7" r="2.9"/><circle cx="496.5" cy="316.3" r="2.9"/><circle cx="500.7" cy="319.3" r="2.9"/><circle cx="499.3" cy="321.8" r="2.9"/><circle cx="502.1" cy="327.3" r="2.9"/><circle cx="506.3" cy="330.4" r="2.9"/><circle cx="504.9" cy="332.9" r="2.9"/><circle cx="507.6" cy="338.4" r="2.9"/><circle cx="511.8" cy="341.5" r="2.9"/><circle cx="510.4" cy="343.9" r="2.9"/><circle cx="513.2" cy="349.5" r="2.9"/><circle cx="517.4" cy="352.5" r="2.9"/><circle cx="516" cy="355" r="2.9"/><circle cx="518.8" cy="360.6" r="2.9"/><circle cx="523" cy="363.6" r="2.9"/><circle cx="521.6" cy="366.1" r="2.9"/><circle cx="524.4" cy="371.6" r="2.9"/><circle cx="528.6" cy="374.7" r="2.9"/><circle cx="527.2" cy="377.2" r="2.9"/><circle cx="452.4" cy="193.4" r="2.9"/><circle cx="456.6" cy="196.5" r="2.9"/><circle cx="455.2" cy="199" r="2.9"/><circle cx="458" cy="204.5" r="2.9"/><circle cx="462.2" cy="207.6" r="2.9"/><circle cx="460.8" cy="210" r="2.9"/><circle cx="463.6" cy="215.6" r="2.9"/><circle cx="467.8" cy="218.6" r="2.9"/><circle cx="466.4" cy="221.1" r="2.9"/><circle cx="469.1" cy="226.6" r="2.9"/><circle cx="473.3" cy="229.7" r="2.9"/><circle cx="471.9" cy="232.2" r="2.9"/><circle cx="474.7" cy="237.7" r="2.9"/><circle cx="478.9" cy="240.8" r="2.9"/><circle cx="477.5" cy="243.2" r="2.9"/><circle cx="480.3" cy="248.8" r="2.9"/><circle cx="484.5" cy="251.9" r="2.9"/><circle cx="483.1" cy="254.3" r="2.9"/><circle cx="485.9" cy="259.9" r="2.9"/><circle cx="490.1" cy="262.9" r="2.9"/><circle cx="488.7" cy="265.4" r="2.9"/><circle cx="491.5" cy="270.9" r="2.9"/><circle cx="495.7" cy="274" r="2.9"/><circle cx="494.3" cy="276.5" r="2.9"/><circle cx="497" cy="282" r="2.9"/><circle cx="501.2" cy="285.1" r="2.9"/><circle cx="499.8" cy="287.5" r="2.9"/><circle cx="502.6" cy="293.1" r="2.9"/><circle cx="506.8" cy="296.1" r="2.9"/><circle cx="505.4" cy="298.6" r="2.9"/><circle cx="508.2" cy="304.1" r="2.9"/><circle cx="512.4" cy="307.2" r="2.9"/><circle cx="511" cy="309.7" r="2.9"/><circle cx="513.8" cy="315.2" r="2.9"/><circle cx="518" cy="318.3" r="2.9"/><circle cx="516.6" cy="320.8" r="2.9"/><circle cx="519.4" cy="326.3" r="2.9"/><circle cx="523.6" cy="329.4" r="2.9"/><circle cx="522.2" cy="331.8" r="2.9"/><circle cx="524.9" cy="337.4" r="2.9"/><circle cx="529.1" cy="340.4" r="2.9"/><circle cx="527.7" cy="342.9" r="2.9"/><circle cx="530.5" cy="348.4" r="2.9"/><circle cx="534.7" cy="351.5" r="2.9"/><circle cx="533.3" cy="354" r="2.9"/><circle cx="536.1" cy="359.5" r="2.9"/><circle cx="540.3" cy="362.6" r="2.9"/><circle cx="538.9" cy="365.1" r="2.9"/><circle cx="541.7" cy="370.6" r="2.9"/><circle cx="545.9" cy="373.7" r="2.9"/><circle cx="544.5" cy="376.1" r="2.9"/><circle cx="469.7" cy="192.4" r="2.9"/><circle cx="473.9" cy="195.4" r="2.9"/><circle cx="472.5" cy="197.9" r="2.9"/><circle cx="475.3" cy="203.5" r="2.9"/><circle cx="479.5" cy="206.5" r="2.9"/><circle cx="478.1" cy="209" r="2.9"/><circle cx="480.9" cy="214.5" r="2.9"/><circle cx="485.1" cy="217.6" r="2.9"/><circle cx="483.6" cy="220.1" r="2.9"/><circle cx="486.4" cy="225.6" r="2.9"/><circle cx="490.6" cy="228.7" r="2.9"/><circle cx="489.2" cy="231.1" r="2.9"/><circle cx="492" cy="236.7" r="2.9"/><circle cx="496.2" cy="239.7" r="2.9"/><circle cx="494.8" cy="242.2" r="2.9"/><circle cx="497.6" cy="247.7" r="2.9"/><circle cx="501.8" cy="250.8" r="2.9"/><circle cx="500.4" cy="253.3" r="2.9"/><circle cx="503.2" cy="258.8" r="2.9"/><circle cx="507.4" cy="261.9" r="2.9"/><circle cx="506" cy="264.4" r="2.9"/><circle cx="508.8" cy="269.9" r="2.9"/><circle cx="513" cy="273" r="2.9"/><circle cx="511.6" cy="275.4" r="2.9"/><circle cx="514.3" cy="281" r="2.9"/><circle cx="518.5" cy="284" r="2.9"/><circle cx="517.1" cy="286.5" r="2.9"/><circle cx="519.9" cy="292" r="2.9"/><circle cx="524.1" cy="295.1" r="2.9"/><circle cx="522.7" cy="297.6" r="2.9"/><circle cx="525.5" cy="303.1" r="2.9"/><circle cx="529.7" cy="306.2" r="2.9"/><circle cx="528.3" cy="308.6" r="2.9"/><circle cx="531.1" cy="314.2" r="2.9"/><circle cx="535.3" cy="317.3" r="2.9"/><circle cx="533.9" cy="319.7" r="2.9"/><circle cx="536.7" cy="325.3" r="2.9"/><circle cx="540.9" cy="328.3" r="2.9"/><circle cx="539.5" cy="330.8" r="2.9"/><circle cx="542.2" cy="336.3" r="2.9"/><circle cx="546.4" cy="339.4" r="2.9"/><circle cx="545" cy="341.9" r="2.9"/><circle cx="547.8" cy="347.4" r="2.9"/><circle cx="552" cy="350.5" r="2.9"/><circle cx="550.6" cy="352.9" r="2.9"/><circle cx="553.4" cy="358.5" r="2.9"/><circle cx="557.6" cy="361.5" r="2.9"/><circle cx="556.2" cy="364" r="2.9"/><circle cx="559" cy="369.5" r="2.9"/><circle cx="563.2" cy="372.6" r="2.9"/><circle cx="561.8" cy="375.1" r="2.9"/><circle cx="487" cy="191.3" r="2.9"/><circle cx="491.2" cy="194.4" r="2.9"/><circle cx="489.8" cy="196.9" r="2.9"/><circle cx="492.6" cy="202.4" r="2.9"/><circle cx="496.8" cy="205.5" r="2.9"/><circle cx="495.4" cy="207.9" r="2.9"/><circle cx="498.2" cy="213.5" r="2.9"/><circle cx="502.4" cy="216.6" r="2.9"/><circle cx="500.9" cy="219" r="2.9"/><circle cx="503.7" cy="224.6" r="2.9"/><circle cx="507.9" cy="227.6" r="2.9"/><circle cx="506.5" cy="230.1" r="2.9"/><circle cx="509.3" cy="235.6" r="2.9"/><circle cx="513.5" cy="238.7" r="2.9"/><circle cx="512.1" cy="241.2" r="2.9"/><circle cx="514.9" cy="246.7" r="2.9"/><circle cx="519.1" cy="249.8" r="2.9"/><circle cx="517.7" cy="252.2" r="2.9"/><circle cx="520.5" cy="257.8" r="2.9"/><circle cx="524.7" cy="260.8" r="2.9"/><circle cx="523.3" cy="263.3" r="2.9"/><circle cx="526.1" cy="268.9" r="2.9"/><circle cx="530.3" cy="271.9" r="2.9"/><circle cx="528.9" cy="274.4" r="2.9"/><circle cx="531.6" cy="279.9" r="2.9"/><circle cx="535.8" cy="283" r="2.9"/><circle cx="534.4" cy="285.5" r="2.9"/><circle cx="537.2" cy="291" r="2.9"/><circle cx="541.4" cy="294.1" r="2.9"/><circle cx="540" cy="296.5" r="2.9"/><circle cx="542.8" cy="302.1" r="2.9"/><circle cx="547" cy="305.1" r="2.9"/><circle cx="545.6" cy="307.6" r="2.9"/><circle cx="548.4" cy="313.1" r="2.9"/><circle cx="552.6" cy="316.2" r="2.9"/><circle cx="551.2" cy="318.7" r="2.9"/><circle cx="554" cy="324.2" r="2.9"/><circle cx="558.2" cy="327.3" r="2.9"/><circle cx="556.8" cy="329.8" r="2.9"/><circle cx="559.5" cy="335.3" r="2.9"/><circle cx="563.7" cy="338.4" r="2.9"/><circle cx="562.3" cy="340.8" r="2.9"/><circle cx="565.1" cy="346.4" r="2.9"/><circle cx="569.3" cy="349.4" r="2.9"/><circle cx="567.9" cy="351.9" r="2.9"/><circle cx="570.7" cy="357.4" r="2.9"/><circle cx="574.9" cy="360.5" r="2.9"/><circle cx="573.5" cy="363" r="2.9"/><circle cx="576.3" cy="368.5" r="2.9"/><circle cx="580.5" cy="371.6" r="2.9"/><circle cx="579.1" cy="374" r="2.9"/><circle cx="504.3" cy="190.3" r="2.9"/><circle cx="508.5" cy="193.4" r="2.9"/><circle cx="507.1" cy="195.8" r="2.9"/><circle cx="509.9" cy="201.4" r="2.9"/><circle cx="514.1" cy="204.4" r="2.9"/><circle cx="512.7" cy="206.9" r="2.9"/><circle cx="515.5" cy="212.4" r="2.9"/><circle cx="519.7" cy="215.5" r="2.9"/><circle cx="518.2" cy="218" r="2.9"/><circle cx="521" cy="223.5" r="2.9"/><circle cx="525.2" cy="226.6" r="2.9"/><circle cx="523.8" cy="229.1" r="2.9"/><circle cx="526.6" cy="234.6" r="2.9"/><circle cx="530.8" cy="237.7" r="2.9"/><circle cx="529.4" cy="240.1" r="2.9"/><circle cx="532.2" cy="245.7" r="2.9"/><circle cx="536.4" cy="248.7" r="2.9"/><circle cx="535" cy="251.2" r="2.9"/><circle cx="537.8" cy="256.7" r="2.9"/><circle cx="542" cy="259.8" r="2.9"/><circle cx="540.6" cy="262.3" r="2.9"/><circle cx="543.4" cy="267.8" r="2.9"/><circle cx="547.6" cy="270.9" r="2.9"/><circle cx="546.1" cy="273.4" r="2.9"/><circle cx="548.9" cy="278.9" r="2.9"/><circle cx="553.1" cy="282" r="2.9"/><circle cx="551.7" cy="284.4" r="2.9"/><circle cx="554.5" cy="290" r="2.9"/><circle cx="558.7" cy="293" r="2.9"/><circle cx="557.3" cy="295.5" r="2.9"/><circle cx="560.1" cy="301" r="2.9"/><circle cx="564.3" cy="304.1" r="2.9"/><circle cx="562.9" cy="306.6" r="2.9"/><circle cx="565.7" cy="312.1" r="2.9"/><circle cx="569.9" cy="315.2" r="2.9"/><circle cx="568.5" cy="317.6" r="2.9"/><circle cx="571.3" cy="323.2" r="2.9"/><circle cx="575.5" cy="326.2" r="2.9"/><circle cx="574" cy="328.7" r="2.9"/><circle cx="576.8" cy="334.3" r="2.9"/><circle cx="581" cy="337.3" r="2.9"/><circle cx="579.6" cy="339.8" r="2.9"/><circle cx="582.4" cy="345.3" r="2.9"/><circle cx="586.6" cy="348.4" r="2.9"/><circle cx="585.2" cy="350.9" r="2.9"/><circle cx="588" cy="356.4" r="2.9"/><circle cx="592.2" cy="359.5" r="2.9"/><circle cx="590.8" cy="361.9" r="2.9"/><circle cx="593.6" cy="367.5" r="2.9"/><circle cx="597.8" cy="370.5" r="2.9"/><circle cx="596.4" cy="373" r="2.9"/><circle cx="521.6" cy="189.3" r="2.9"/><circle cx="525.8" cy="192.3" r="2.9"/><circle cx="524.4" cy="194.8" r="2.9"/><circle cx="527.2" cy="200.3" r="2.9"/><circle cx="531.4" cy="203.4" r="2.9"/><circle cx="530" cy="205.9" r="2.9"/><circle cx="532.8" cy="211.4" r="2.9"/><circle cx="537" cy="214.5" r="2.9"/><circle cx="535.6" cy="216.9" r="2.9"/><circle cx="538.3" cy="222.5" r="2.9"/><circle cx="542.5" cy="225.6" r="2.9"/><circle cx="541.1" cy="228" r="2.9"/><circle cx="543.9" cy="233.6" r="2.9"/><circle cx="548.1" cy="236.6" r="2.9"/><circle cx="546.7" cy="239.1" r="2.9"/><circle cx="549.5" cy="244.6" r="2.9"/><circle cx="553.7" cy="247.7" r="2.9"/><circle cx="552.3" cy="250.2" r="2.9"/><circle cx="555.1" cy="255.7" r="2.9"/><circle cx="559.3" cy="258.8" r="2.9"/><circle cx="557.9" cy="261.2" r="2.9"/><circle cx="560.7" cy="266.8" r="2.9"/><circle cx="564.9" cy="269.8" r="2.9"/><circle cx="563.5" cy="272.3" r="2.9"/><circle cx="566.2" cy="277.8" r="2.9"/><circle cx="570.4" cy="280.9" r="2.9"/><circle cx="569" cy="283.4" r="2.9"/><circle cx="571.8" cy="288.9" r="2.9"/><circle cx="576" cy="292" r="2.9"/><circle cx="574.6" cy="294.5" r="2.9"/><circle cx="577.4" cy="300" r="2.9"/><circle cx="581.6" cy="303.1" r="2.9"/><circle cx="580.2" cy="305.5" r="2.9"/><circle cx="583" cy="311.1" r="2.9"/><circle cx="587.2" cy="314.1" r="2.9"/><circle cx="585.8" cy="316.6" r="2.9"/><circle cx="588.6" cy="322.1" r="2.9"/><circle cx="592.8" cy="325.2" r="2.9"/><circle cx="591.4" cy="327.7" r="2.9"/><circle cx="594.1" cy="333.2" r="2.9"/><circle cx="598.3" cy="336.3" r="2.9"/><circle cx="596.9" cy="338.8" r="2.9"/><circle cx="599.7" cy="344.3" r="2.9"/><circle cx="603.9" cy="347.4" r="2.9"/><circle cx="602.5" cy="349.8" r="2.9"/><circle cx="605.3" cy="355.4" r="2.9"/><circle cx="609.5" cy="358.4" r="2.9"/><circle cx="608.1" cy="360.9" r="2.9"/><circle cx="610.9" cy="366.4" r="2.9"/><circle cx="615.1" cy="369.5" r="2.9"/><circle cx="613.7" cy="372" r="2.9"/><circle cx="538.9" cy="188.2" r="2.9"/><circle cx="543.1" cy="191.3" r="2.9"/><circle cx="541.7" cy="193.8" r="2.9"/><circle cx="544.5" cy="199.3" r="2.9"/><circle cx="548.7" cy="202.4" r="2.9"/><circle cx="547.3" cy="204.8" r="2.9"/><circle cx="550.1" cy="210.4" r="2.9"/><circle cx="554.3" cy="213.4" r="2.9"/><circle cx="552.9" cy="215.9" r="2.9"/><circle cx="555.6" cy="221.4" r="2.9"/><circle cx="559.8" cy="224.5" r="2.9"/><circle cx="558.4" cy="227" r="2.9"/><circle cx="561.2" cy="232.5" r="2.9"/><circle cx="565.4" cy="235.6" r="2.9"/><circle cx="564" cy="238.1" r="2.9"/><circle cx="566.8" cy="243.6" r="2.9"/><circle cx="571" cy="246.7" r="2.9"/><circle cx="569.6" cy="249.1" r="2.9"/><circle cx="572.4" cy="254.7" r="2.9"/><circle cx="576.6" cy="257.7" r="2.9"/><circle cx="575.2" cy="260.2" r="2.9"/><circle cx="578" cy="265.7" r="2.9"/><circle cx="582.2" cy="268.8" r="2.9"/><circle cx="580.8" cy="271.3" r="2.9"/><circle cx="583.5" cy="276.8" r="2.9"/><circle cx="587.7" cy="279.9" r="2.9"/><circle cx="586.3" cy="282.3" r="2.9"/><circle cx="589.1" cy="287.9" r="2.9"/><circle cx="593.3" cy="291" r="2.9"/><circle cx="591.9" cy="293.4" r="2.9"/><circle cx="594.7" cy="299" r="2.9"/><circle cx="598.9" cy="302" r="2.9"/><circle cx="597.5" cy="304.5" r="2.9"/><circle cx="600.3" cy="310" r="2.9"/><circle cx="604.5" cy="313.1" r="2.9"/><circle cx="603.1" cy="315.6" r="2.9"/><circle cx="605.9" cy="321.1" r="2.9"/><circle cx="610.1" cy="324.2" r="2.9"/><circle cx="608.7" cy="326.6" r="2.9"/><circle cx="611.4" cy="332.2" r="2.9"/><circle cx="615.6" cy="335.2" r="2.9"/><circle cx="614.2" cy="337.7" r="2.9"/><circle cx="617" cy="343.3" r="2.9"/><circle cx="621.2" cy="346.3" r="2.9"/><circle cx="619.8" cy="348.8" r="2.9"/><circle cx="622.6" cy="354.3" r="2.9"/><circle cx="626.8" cy="357.4" r="2.9"/><circle cx="625.4" cy="359.9" r="2.9"/><circle cx="628.2" cy="365.4" r="2.9"/><circle cx="632.4" cy="368.5" r="2.9"/><circle cx="631" cy="370.9" r="2.9"/></g>
</g>
<polygon points="112.1,280.2 156.9,272.5 181.8,327 138.1,335.4" fill="#a2a232"/>
<polygon points="114.1,276.8 140.1,332 138.1,335.4 112.1,280.2" fill="#b0b03c"/>
<polygon points="140.1,332 183.8,323.6 181.8,327 138.1,335.4" fill="#9a9a2c"/>
<polygon points="114.1,276.8 158.9,269.1 183.8,323.6 140.1,332" fill="#c6c758" stroke="#d8d878" stroke-width="0.7"/>
<polygon points="195.2,231.2 219.2,226.1 239.4,261.4 211.6,266.5" fill="#a2a232"/>
<polygon points="197.2,227.8 213.6,263.1 211.6,266.5 195.2,231.2" fill="#b0b03c"/>
<polygon points="213.6,263.1 241.4,258 239.4,261.4 211.6,266.5" fill="#9a9a2c"/>
<polygon points="197.2,227.8 221.2,222.7 241.4,258 213.6,263.1" fill="#c6c758" stroke="#d8d878" stroke-width="0.7"/>
<polygon points="295.3,221.7 325,215.7 342.9,251.4 313.1,257.4" fill="#a2a232"/>
<polygon points="297.3,218.3 315.1,254 313.1,257.4 295.3,221.7" fill="#b0b03c"/>
<polygon points="315.1,254 344.9,248 342.9,251.4 313.1,257.4" fill="#9a9a2c"/>
<polygon points="297.3,218.3 327,212.3 344.9,248 315.1,254" fill="#c6c758" stroke="#d8d878" stroke-width="0.7"/>
<polygon points="375.6,251.4 423.2,244 447,296.1 402.4,305" fill="#a2a232"/>
<polygon points="377.6,248 404.4,301.6 402.4,305 375.6,251.4" fill="#b0b03c"/>
<polygon points="404.4,301.6 449,292.7 447,296.1 402.4,305" fill="#9a9a2c"/>
<polygon points="377.6,248 425.2,240.6 449,292.7 404.4,301.6" fill="#c6c758" stroke="#d8d878" stroke-width="0.7"/>
<polygon points="238.1,330.8 265.8,325.8 283,359.8 254.5,366.1" fill="#a2a232"/>
<polygon points="240.1,327.4 256.5,362.7 254.5,366.1 238.1,330.8" fill="#b0b03c"/>
<polygon points="256.5,362.7 285,356.4 283,359.8 254.5,366.1" fill="#9a9a2c"/>
<polygon points="240.1,327.4 267.8,322.4 285,356.4 256.5,362.7" fill="#c6c758" stroke="#d8d878" stroke-width="0.7"/>
<polygon points="338.4,318.4 366.7,313.9 384.5,351.1 354.8,357.1" fill="#a2a232"/>
<polygon points="340.4,315 356.8,353.7 354.8,357.1 338.4,318.4" fill="#b0b03c"/>
<polygon points="356.8,353.7 386.5,347.7 384.5,351.1 354.8,357.1" fill="#9a9a2c"/>
<polygon points="340.4,315 368.7,310.5 386.5,347.7 356.8,353.7" fill="#c6c758" stroke="#d8d878" stroke-width="0.7"/>
<g fill="none" stroke="#000" stroke-width="1.4">
<path d="M220.4 244.5 L220.4 206.4 L259 296 L260.3 335"/>
<path d="M272 359.2 L285.7 378.8 L386.3 368.3 L372 349"/>
</g>
<path d="M134.6 296.2 L164 293.8 L164 292.6 L169.4 296.2 L164.3 300.4 L164.3 299 L134.9 301.4 Z" fill="#c9aad2" stroke="#8a7494" stroke-width="0.6"/>
<text x="143.5" y="292.4" font-size="19" font-weight="bold" font-style="italic">I</text>
<defs><linearGradient id="barr" x1="0" y1="0" x2="1" y2="0"><stop offset="0" stop-color="#a060d0"/><stop offset="0.5" stop-color="#c890ec"/><stop offset="1" stop-color="#9c5ccc"/></linearGradient></defs>
<path d="M362.2 251.8 L362.2 217.5 L358.4 217.5 L366.3 209.8 L374.3 217.5 L370.9 217.5 L370.9 251.8 Z" fill="url(#barr)"/>
<text x="376" y="216.6" font-size="17" font-weight="bold" font-style="italic">B</text>
<text transform="translate(232.8 216.5) rotate(62)" font-size="18" font-weight="bold" font-style="italic">V</text>
<text transform="translate(235.5 227.5) rotate(70)" font-size="13" font-weight="bold" font-style="italic">xy</text>
<text x="317.5" y="366.3" font-size="17.5" font-weight="bold" font-style="italic">V<tspan font-size="12.5" font-style="normal" dy="4.2">xx</tspan></text>
</g>
<g id="pb">
<path d="M572.7 246 L574.1 246 L575.5 246 L576.9 246 L578.4 245.9 L579.8 245.9 L581.2 245.8 L582.6 245.7 L584 245.6 L585.4 245.4 L586.8 245.1 L588.2 244.9 L589.6 244.6 L591 244.3 L592.4 243.9 L593.8 243.5 L595.2 243.1 L596.7 242.6 L598.1 242 L599.5 241.5 L600.9 241 L602.3 240.4 L603.7 239.8 L605.1 239.1 L606.5 238.4 L607.9 237.8 L609.3 237.1 L610.7 236.4 L612.1 235.6 L613.5 234.9 L614.9 234.2 L616.4 233.4 L617.8 232.6 L619.2 231.8 L620.6 231 L622 230.2 L623.4 229.4 L624.8 228.6 L626.2 227.8 L627.6 227 L629 226.1 L630.4 225.3 L631.8 224.5 L633.2 223.6 L634.7 222.8 L636.1 221.9 L637.5 221.1 L638.9 220.2 L640.3 219.4 L641.7 218.5 L643.1 217.7 L644.5 216.9 L645.9 216 L647.3 215.2 L648.7 214.3 L650.1 213.5 L651.5 212.7 L653 211.8 L654.4 211 L655.8 210.1 L657.2 209.3 L658.6 208.4 L660 207.6 L661.4 206.7 L662.8 205.8 L664.2 205 L665.6 204.1 L667 203.2 L668.4 202.3 L669.8 201.4 L671.2 200.5 L672.7 199.6 L674.1 198.7 L675.5 197.8 L676.9 196.9 L678.3 196 L679.7 195.1 L681.1 194.1 L682.5 193.2 L683.9 192.3 L685.3 191.4 L686.7 190.4 L688.1 189.5 L689.5 188.6 L691 187.6 L692.4 186.7 L693.8 185.8 L695.2 184.8 L696.6 183.9 L698 183 L699.4 182 L700.8 181.1 L702.2 180.1 L703.6 179.2 L705 178.3 L706.4 177.3 L707.8 176.4 L709.2 175.4 L710.7 174.5 L712.1 173.5 L713.5 172.6 L714.9 171.7 L716.3 170.7 L717.7 169.7 L719.1 168.8 L720.5 167.8 L721.9 166.9 L723.3 165.9 L724.7 164.9 L726.1 164 L727.5 163 L729 162 L730.4 161.1 L731.8 160.1 L733.2 159.1 L734.6 158.1 L736 157.2 L737.4 156.2 L738.8 155.2 L740.2 154.3 L741.6 153.3 L743 152.3 L744.4 151.4 L745.8 150.4 L747.2 149.5 L748.7 148.5 L750.1 147.6 L751.5 146.6 L752.9 145.7 L754.3 144.7 L755.7 143.8 L757.1 142.9 L758.5 141.9 L759.9 141 L761.3 140.1 L762.7 139.2 L764.1 138.3 L765.5 137.4 L767 136.5 L768.4 135.6 L769.8 134.7 L771.2 133.8 L772.6 133 L774 132.1 L775.4 131.2 L776.8 130.3 L778.2 129.4 L779.6 128.6 L781 127.7 L782.4 126.8 L783.8 125.9 L785.3 125.1 L786.7 124.2 L788.1 123.3 L789.5 122.4 L790.9 121.5 L792.3 120.7 L793.7 119.8 L795.1 118.9 L796.5 118 L797.9 117.1 L799.3 116.2 L800.7 115.4 L802.1 114.5 L803.5 113.6 L805 112.7 L806.4 111.8 L807.8 111 L809.2 110.1 L810.6 109.2 L812 108.3 L813.4 107.4 L814.8 106.6 L816.2 105.7 L817.6 104.8 L819 103.9 L820.4 103 L821.8 102.2 L823.3 101.3 L824.7 100.4 L826.1 99.5 L827.5 98.6 L828.9 97.8 L830.3 96.9 L831.7 96 L833.1 95.1 L834.5 94.2 L835.9 93.4 L837.3 92.5 L838.7 91.6 L840.1 90.7 L841.5 89.8 L843 88.9 L844.4 88.1 L845.8 87.2 L847.2 86.3 L848.6 85.4 L850 84.5 L851.4 83.7 L852.8 82.8" fill="none" stroke="#b48bd3" stroke-width="2.4" stroke-linejoin="round" stroke-linecap="round" />
<path d="M572.7 256.7 L574.1 256.7 L575.5 256.6 L576.9 256.6 L578.4 256.6 L579.8 256.5 L581.2 256.5 L582.6 256.4 L584 256.2 L585.4 256 L586.8 255.8 L588.2 255.5 L589.6 255.2 L591 254.9 L592.4 254.6 L593.8 254.2 L595.2 253.8 L596.7 253.4 L598.1 253 L599.5 252.5 L600.9 252 L602.3 251.5 L603.7 250.9 L605.1 250.3 L606.5 249.7 L607.9 249.1 L609.3 248.4 L610.7 247.8 L612.1 247.1 L613.5 246.4 L614.9 245.7 L616.4 245 L617.8 244.3 L619.2 243.5 L620.6 242.8 L622 242 L623.4 241.2 L624.8 240.4 L626.2 239.6 L627.6 238.8 L629 238 L630.4 237.1 L631.8 236.3 L633.2 235.4 L634.7 234.6 L636.1 233.7 L637.5 232.8 L638.9 232 L640.3 231.1 L641.7 230.2 L643.1 229.4 L644.5 228.5 L645.9 227.6 L647.3 226.8 L648.7 225.9 L650.1 225 L651.5 224.1 L653 223.2 L654.4 222.3 L655.8 221.4 L657.2 220.5 L658.6 219.6 L660 218.7 L661.4 217.8 L662.8 216.9 L664.2 216 L665.6 215.1 L667 214.1 L668.4 213.2 L669.8 212.3 L671.2 211.4 L672.7 210.4 L674.1 209.5 L675.5 208.5 L676.9 207.6 L678.3 206.7 L679.7 205.7 L681.1 204.8 L682.5 203.8 L683.9 202.9 L685.3 201.9 L686.7 201 L688.1 200 L689.5 199 L691 198.1 L692.4 197.1 L693.8 196.2 L695.2 195.2 L696.6 194.2 L698 193.2 L699.4 192.3 L700.8 191.3 L702.2 190.3 L703.6 189.4 L705 188.4 L706.4 187.4 L707.8 186.4 L709.2 185.4 L710.7 184.5 L712.1 183.5 L713.5 182.5 L714.9 181.5 L716.3 180.5 L717.7 179.5 L719.1 178.5 L720.5 177.5 L721.9 176.5 L723.3 175.5 L724.7 174.5 L726.1 173.5 L727.5 172.4 L729 171.4 L730.4 170.4 L731.8 169.4 L733.2 168.4 L734.6 167.3 L736 166.3 L737.4 165.3 L738.8 164.3 L740.2 163.2 L741.6 162.2 L743 161.2 L744.4 160.2 L745.8 159.2 L747.2 158.2 L748.7 157.1 L750.1 156.1 L751.5 155.1 L752.9 154.1 L754.3 153.1 L755.7 152.1 L757.1 151.1 L758.5 150.1 L759.9 149.1 L761.3 148.2 L762.7 147.2 L764.1 146.2 L765.5 145.2 L767 144.3 L768.4 143.3 L769.8 142.4 L771.2 141.4 L772.6 140.4 L774 139.5 L775.4 138.5 L776.8 137.6 L778.2 136.6 L779.6 135.7 L781 134.7 L782.4 133.7 L783.8 132.8 L785.3 131.8 L786.7 130.8 L788.1 129.8 L789.5 128.9 L790.9 127.9 L792.3 126.9 L793.7 125.9 L795.1 124.9 L796.5 123.9 L797.9 122.9 L799.3 121.9 L800.7 120.9 L802.1 119.8 L803.5 118.8 L805 117.8 L806.4 116.8 L807.8 115.8 L809.2 114.8 L810.6 113.7 L812 112.7 L813.4 111.7 L814.8 110.7 L816.2 109.6 L817.6 108.6 L819 107.6 L820.4 106.6 L821.8 105.5 L823.3 104.5 L824.7 103.5 L826.1 102.5 L827.5 101.4 L828.9 100.4 L830.3 99.4 L831.7 98.4 L833.1 97.3 L834.5 96.3 L835.9 95.3 L837.3 94.2 L838.7 93.2 L840.1 92.2 L841.5 91.1 L843 90.1 L844.4 89.1 L845.8 88 L847.2 87 L848.6 85.9 L850 84.9 L851.4 83.9 L852.8 82.8" fill="none" stroke="#c2453d" stroke-width="2.4" stroke-linejoin="round" stroke-linecap="round" />
<path d="M572.7 290.7 L574.1 290.7 L575.5 290.6 L576.9 290.5 L578.4 290.4 L579.8 290.3 L581.2 290.1 L582.6 290 L584 289.7 L585.4 289.5 L586.8 289.1 L588.2 288.8 L589.6 288.4 L591 288 L592.4 287.5 L593.8 287 L595.2 286.4 L596.7 285.8 L598.1 285.1 L599.5 284.4 L600.9 283.8 L602.3 283 L603.7 282.2 L605.1 281.4 L606.5 280.6 L607.9 279.7 L609.3 278.9 L610.7 278 L612.1 277.2 L613.5 276.3 L614.9 275.4 L616.4 274.4 L617.8 273.5 L619.2 272.5 L620.6 271.5 L622 270.5 L623.4 269.4 L624.8 268.3 L626.2 267.3 L627.6 266.1 L629 265 L630.4 263.9 L631.8 262.8 L633.2 261.6 L634.7 260.5 L636.1 259.3 L637.5 258.2 L638.9 257 L640.3 255.9 L641.7 254.8 L643.1 253.6 L644.5 252.5 L645.9 251.4 L647.3 250.2 L648.7 249.1 L650.1 247.9 L651.5 246.8 L653 245.6 L654.4 244.4 L655.8 243.3 L657.2 242.1 L658.6 241 L660 239.8 L661.4 238.7 L662.8 237.5 L664.2 236.4 L665.6 235.2 L667 234.1 L668.4 233 L669.8 231.9 L671.2 230.7 L672.7 229.6 L674.1 228.5 L675.5 227.4 L676.9 226.3 L678.3 225.2 L679.7 224 L681.1 222.9 L682.5 221.8 L683.9 220.7 L685.3 219.6 L686.7 218.5 L688.1 217.4 L689.5 216.3 L691 215.2 L692.4 214.1 L693.8 213 L695.2 211.9 L696.6 210.8 L698 209.6 L699.4 208.5 L700.8 207.4 L702.2 206.3 L703.6 205.2 L705 204.1 L706.4 202.9 L707.8 201.8 L709.2 200.7 L710.7 199.5 L712.1 198.4 L713.5 197.3 L714.9 196.1 L716.3 194.9 L717.7 193.8 L719.1 192.6 L720.5 191.5 L721.9 190.3 L723.3 189.1 L724.7 187.9 L726.1 186.8 L727.5 185.6 L729 184.4 L730.4 183.2 L731.8 182 L733.2 180.8 L734.6 179.6 L736 178.5 L737.4 177.3 L738.8 176.1 L740.2 174.9 L741.6 173.7 L743 172.5 L744.4 171.4 L745.8 170.2 L747.2 169 L748.7 167.8 L750.1 166.7 L751.5 165.5 L752.9 164.4 L754.3 163.2 L755.7 162.1 L757.1 160.9 L758.5 159.8 L759.9 158.6 L761.3 157.5 L762.7 156.4 L764.1 155.3 L765.5 154.2 L767 153.1 L768.4 152 L769.8 150.9 L771.2 149.8 L772.6 148.8 L774 147.7 L775.4 146.6 L776.8 145.5 L778.2 144.4 L779.6 143.3 L781 142.3 L782.4 141.2 L783.8 140.1 L785.3 139 L786.7 137.9 L788.1 136.8 L789.5 135.7 L790.9 134.5 L792.3 133.4 L793.7 132.3 L795.1 131.2 L796.5 130 L797.9 128.9 L799.3 127.8 L800.7 126.6 L802.1 125.5 L803.5 124.3 L805 123.2 L806.4 122.1 L807.8 120.9 L809.2 119.8 L810.6 118.6 L812 117.4 L813.4 116.3 L814.8 115.1 L816.2 114 L817.6 112.8 L819 111.6 L820.4 110.4 L821.8 109.3 L823.3 108.1 L824.7 106.9 L826.1 105.7 L827.5 104.6 L828.9 103.4 L830.3 102.2 L831.7 101 L833.1 99.8 L834.5 98.6 L835.9 97.4 L837.3 96.2 L838.7 95 L840.1 93.8 L841.5 92.6 L843 91.4 L844.4 90.2 L845.8 89 L847.2 87.7 L848.6 86.5 L850 85.3 L851.4 84.1 L852.8 82.8" fill="none" stroke="#2c63a8" stroke-width="2.4" stroke-linejoin="round" stroke-linecap="round" />
<path d="M572.7 319.1 L574.1 319 L575.5 318.9 L576.9 318.7 L578.4 318.6 L579.8 318.4 L581.2 318.1 L582.6 317.9 L584 317.5 L585.4 317.2 L586.8 316.7 L588.2 316.3 L589.6 315.8 L591 315.3 L592.4 314.7 L593.8 314 L595.2 313.4 L596.7 312.6 L598.1 311.9 L599.5 311.1 L600.9 310.2 L602.3 309.3 L603.7 308.4 L605.1 307.4 L606.5 306.4 L607.9 305.4 L609.3 304.4 L610.7 303.3 L612.1 302.2 L613.5 301.1 L614.9 300 L616.4 298.9 L617.8 297.7 L619.2 296.5 L620.6 295.3 L622 294.1 L623.4 292.9 L624.8 291.6 L626.2 290.4 L627.6 289.1 L629 287.8 L630.4 286.5 L631.8 285.2 L633.2 283.9 L634.7 282.6 L636.1 281.3 L637.5 280 L638.9 278.7 L640.3 277.4 L641.7 276.1 L643.1 274.8 L644.5 273.5 L645.9 272.1 L647.3 270.8 L648.7 269.5 L650.1 268.2 L651.5 266.9 L653 265.5 L654.4 264.2 L655.8 262.9 L657.2 261.6 L658.6 260.2 L660 258.9 L661.4 257.6 L662.8 256.3 L664.2 255 L665.6 253.6 L667 252.3 L668.4 251 L669.8 249.7 L671.2 248.4 L672.7 247.1 L674.1 245.8 L675.5 244.5 L676.9 243.2 L678.3 241.9 L679.7 240.6 L681.1 239.3 L682.5 238.1 L683.9 236.8 L685.3 235.5 L686.7 234.2 L688.1 232.9 L689.5 231.6 L691 230.3 L692.4 229 L693.8 227.7 L695.2 226.4 L696.6 225.1 L698 223.8 L699.4 222.5 L700.8 221.2 L702.2 219.9 L703.6 218.7 L705 217.4 L706.4 216.1 L707.8 214.8 L709.2 213.4 L710.7 212.1 L712.1 210.8 L713.5 209.5 L714.9 208.2 L716.3 206.9 L717.7 205.6 L719.1 204.3 L720.5 202.9 L721.9 201.6 L723.3 200.3 L724.7 198.9 L726.1 197.6 L727.5 196.3 L729 195 L730.4 193.6 L731.8 192.3 L733.2 190.9 L734.6 189.6 L736 188.3 L737.4 187 L738.8 185.6 L740.2 184.3 L741.6 183 L743 181.6 L744.4 180.3 L745.8 179 L747.2 177.7 L748.7 176.4 L750.1 175.1 L751.5 173.8 L752.9 172.5 L754.3 171.2 L755.7 169.9 L757.1 168.6 L758.5 167.3 L759.9 166 L761.3 164.8 L762.7 163.5 L764.1 162.2 L765.5 161 L767 159.7 L768.4 158.5 L769.8 157.2 L771.2 156 L772.6 154.8 L774 153.5 L775.4 152.3 L776.8 151.1 L778.2 149.8 L779.6 148.6 L781 147.4 L782.4 146.2 L783.8 144.9 L785.3 143.7 L786.7 142.5 L788.1 141.2 L789.5 140 L790.9 138.7 L792.3 137.5 L793.7 136.3 L795.1 135 L796.5 133.8 L797.9 132.5 L799.3 131.3 L800.7 130.1 L802.1 128.8 L803.5 127.6 L805 126.3 L806.4 125.1 L807.8 123.9 L809.2 122.6 L810.6 121.4 L812 120.1 L813.4 118.9 L814.8 117.6 L816.2 116.4 L817.6 115.1 L819 113.8 L820.4 112.6 L821.8 111.3 L823.3 110 L824.7 108.7 L826.1 107.5 L827.5 106.2 L828.9 104.9 L830.3 103.6 L831.7 102.4 L833.1 101.1 L834.5 99.8 L835.9 98.5 L837.3 97.2 L838.7 95.9 L840.1 94.6 L841.5 93.3 L843 92 L844.4 90.7 L845.8 89.4 L847.2 88.1 L848.6 86.8 L850 85.5 L851.4 84.2 L852.8 82.9" fill="none" stroke="#3f9b69" stroke-width="2.4" stroke-linejoin="round" stroke-linecap="round" />
<rect x="548" y="47.3" width="329" height="300.4" fill="none" stroke="#000" stroke-width="2.3"/>
<line x1="571.6" y1="347.7" x2="571.6" y2="342.2" stroke="#000" stroke-width="2" />
<line x1="618.5" y1="347.7" x2="618.5" y2="342.2" stroke="#000" stroke-width="2" />
<line x1="665.4" y1="347.7" x2="665.4" y2="342.2" stroke="#000" stroke-width="2" />
<line x1="712.3" y1="347.7" x2="712.3" y2="342.2" stroke="#000" stroke-width="2" />
<line x1="759.3" y1="347.7" x2="759.3" y2="342.2" stroke="#000" stroke-width="2" />
<line x1="806.2" y1="347.7" x2="806.2" y2="342.2" stroke="#000" stroke-width="2" />
<line x1="853.1" y1="347.7" x2="853.1" y2="342.2" stroke="#000" stroke-width="2" />
<line x1="595.1" y1="347.7" x2="595.1" y2="344.7" stroke="#000" stroke-width="2" />
<line x1="642" y1="347.7" x2="642" y2="344.7" stroke="#000" stroke-width="2" />
<line x1="688.9" y1="347.7" x2="688.9" y2="344.7" stroke="#000" stroke-width="2" />
<line x1="735.8" y1="347.7" x2="735.8" y2="344.7" stroke="#000" stroke-width="2" />
<line x1="782.7" y1="347.7" x2="782.7" y2="344.7" stroke="#000" stroke-width="2" />
<line x1="829.6" y1="347.7" x2="829.6" y2="344.7" stroke="#000" stroke-width="2" />
<line x1="548" y1="295.3" x2="553.5" y2="295.3" stroke="#000" stroke-width="2" />
<line x1="548" y1="224.4" x2="553.5" y2="224.4" stroke="#000" stroke-width="2" />
<line x1="548" y1="153.5" x2="553.5" y2="153.5" stroke="#000" stroke-width="2" />
<line x1="548" y1="82.6" x2="553.5" y2="82.6" stroke="#000" stroke-width="2" />
<line x1="548" y1="330.8" x2="551" y2="330.8" stroke="#000" stroke-width="2" />
<line x1="548" y1="259.9" x2="551" y2="259.9" stroke="#000" stroke-width="2" />
<line x1="548" y1="189" x2="551" y2="189" stroke="#000" stroke-width="2" />
<line x1="548" y1="118" x2="551" y2="118" stroke="#000" stroke-width="2" />
<text x="571.6" y="369" font-size="17" text-anchor="middle" >0</text>
<text x="618.5" y="369" font-size="17" text-anchor="middle" >50</text>
<text x="665.4" y="369" font-size="17" text-anchor="middle" >100</text>
<text x="712.3" y="369" font-size="17" text-anchor="middle" >150</text>
<text x="759.3" y="369" font-size="17" text-anchor="middle" >200</text>
<text x="806.2" y="369" font-size="17" text-anchor="middle" >250</text>
<text x="853.1" y="369" font-size="17" text-anchor="middle" >300</text>
<text x="540.6" y="301.3" font-size="17" text-anchor="end" >0.4</text>
<text x="540.6" y="230.4" font-size="17" text-anchor="end" >0.6</text>
<text x="540.6" y="159.5" font-size="17" text-anchor="end" >0.8</text>
<text x="540.6" y="88.6" font-size="17" text-anchor="end" >1.0</text>
<text x="712.5" y="389.8" font-size="21" text-anchor="middle" >Temperature (K)</text>
<text transform="translate(504.5 198) rotate(-90)" font-size="20" text-anchor="middle"><tspan font-style="italic">R</tspan>/<tspan font-style="italic">R</tspan><tspan font-size="14" dy="5">300K</tspan><tspan dy="-5"> (Ω)</tspan></text>
<line x1="579.3" y1="65.7" x2="620.6" y2="65.7" stroke="#9c80b8" stroke-width="2.2" />
<text x="625.3" y="71.9" font-size="17.6" text-anchor="start" >7.1 nm</text>
<line x1="579.3" y1="87.6" x2="620.6" y2="87.6" stroke="#3c5f92" stroke-width="2.2" />
<text x="625.3" y="93.8" font-size="17.6" text-anchor="start" >9.2 nm</text>
<line x1="579.3" y1="109.5" x2="620.6" y2="109.5" stroke="#a0504e" stroke-width="2.2" />
<text x="625.3" y="115.7" font-size="17.6" text-anchor="start" >23 nm</text>
<line x1="579.3" y1="131.4" x2="620.6" y2="131.4" stroke="#4f8f72" stroke-width="2.2" />
<text x="625.3" y="137.6" font-size="17.6" text-anchor="start" >28 nm</text>
<rect x="728.5" y="198.5" width="146" height="133.3" fill="#fff" stroke="#000" stroke-width="1.2"/>
<line x1="732.9" y1="331.8" x2="732.9" y2="329" stroke="#000" stroke-width="1.2" />
<text x="732.9" y="343.3" font-size="10.5" text-anchor="middle" >0</text>
<line x1="776.9" y1="331.8" x2="776.9" y2="329" stroke="#000" stroke-width="1.2" />
<text x="776.9" y="343.3" font-size="10.5" text-anchor="middle" >100</text>
<line x1="821" y1="331.8" x2="821" y2="329" stroke="#000" stroke-width="1.2" />
<text x="821" y="343.3" font-size="10.5" text-anchor="middle" >200</text>
<line x1="865" y1="331.8" x2="865" y2="329" stroke="#000" stroke-width="1.2" />
<text x="865" y="343.3" font-size="10.5" text-anchor="middle" >300</text>
<line x1="754.9" y1="331.8" x2="754.9" y2="330.2" stroke="#000" stroke-width="1" />
<line x1="799" y1="331.8" x2="799" y2="330.2" stroke="#000" stroke-width="1" />
<line x1="843" y1="331.8" x2="843" y2="330.2" stroke="#000" stroke-width="1" />
<line x1="729" y1="219.4" x2="866" y2="219.4" stroke="#000" stroke-width="1" stroke-dasharray="3 2.4"/>
<path d="M734.1 324.8 L737 310 L742 280 L746 258 L750.3 240 L753 233.1 L754.8 223.6 L756 217.6 L757.4 216.4 L760.7 215.8 L764 216.5 L766.7 215.5 L767.3 221.2 L768.5 216.4 L771 216 L774 214.8 L775.6 214 L776.8 215.8 L779 216.5 L781.5 217.6 L784 218.5 L787.5 220 L789 220.2 L790.3 220.1 L791.6 219.6 L792.9 221 L794.2 219.4 L795.5 220.3 L796.8 221 L798.1 219.5 L799.4 220.4 L800.7 220.5 L802 219.5 L803.3 220.1 L804.6 220.7 L805.9 220.2 L807.2 220.7 L808.5 219.7 L809.8 219.8 L811.1 219.6 L812.4 220.3 L813.7 221.1 L815 220.5 L816.8 223.1 L818.5 220 L820 219.5 L821.5 217.1 L822.5 221 L824.2 226.5 L825.5 220 L826.5 219.5 L828 223 L829.5 218.5 L831 222 L832.5 219 L834 221.8 L835.5 219.2 L837.5 221.5 L839.5 219.8 L841 220.5 L843 219.2 L845 221 L847 220.2 L848.9 221.1 L849.5 218 L850.3 209.4 L851 223.1 L852 218 L853 215.1 L854 223 L855.3 218 L856.3 222.5 L857.5 217.5 L858.3 222.8 L859 214.4 L860.3 223.1 L861.2 219 L861.6 210 L862 202.4 L862.6 206 L863.2 209.7 L864 209 L864.3 219.1 L865.5 219.4" fill="none" stroke="#7b3cb8" stroke-width="1.05" stroke-linejoin="round" stroke-linecap="round" />
<text x="732.4" y="214.6" font-size="14.6" text-anchor="start" >9.2 nm</text>
<line x1="757.4" y1="221.2" x2="764.9" y2="226.5" stroke="#000" stroke-width="0.8" />
<text x="769.8" y="233.7" font-size="11.5" text-anchor="start" >52.1 K</text>
<text transform="translate(740.5 262) rotate(-90)" font-size="10.8" text-anchor="middle">d<tspan font-style="italic">R</tspan>/d<tspan font-style="italic">T</tspan></text>
<text x="790.5" y="326.2" font-size="10.8"><tspan font-style="italic">T</tspan> (K)</text>
</g>
<g id="pc">
<path d="M993.3 199 L994 200.7 L994.8 202 L995.5 203.3 L996.3 204.4 L997 205.7 L997.8 207.2 L998.5 208.4 L999.3 209.8 L1000 211.8 L1000.8 213.4 L1001.5 214.3 L1002.3 216.1 L1003 216.7 L1003.7 217.4 L1004.5 218.2 L1005.2 219.5 L1006 219.9 L1006.7 221 L1007.5 222.4 L1008.2 224 L1009 225.3 L1009.7 226.7 L1010.5 227.9 L1011.2 228.5 L1012 229.7 L1012.7 230.1 L1013.5 230.7 L1014.2 231.3 L1015 232.9 L1015.7 233.4 L1016.5 234.9 L1017.2 237 L1018 238.5 L1018.7 239.7 L1019.5 240.5 L1020.2 241.3 L1021 241.3 L1021.7 242.2 L1022.5 242.9 L1023.2 244.2 L1024 244.9 L1024.7 245.7 L1025.5 246.3 L1026.2 247.6 L1027 248.2 L1027.7 249.5 L1028.4 250.2 L1029.2 251.5 L1029.9 251.6 L1030.7 252.9 L1031.4 253.5 L1032.2 254.8 L1032.9 255.5 L1033.7 256.7 L1034.4 257 L1035.2 258.3 L1035.9 259 L1036.7 260.3 L1037.4 261.2 L1038.2 262.7 L1038.9 263.7 L1039.7 264.8 L1040.4 265.4 L1041.2 266.8 L1041.9 267.5 L1042.7 268.2 L1043.4 269.2 L1044.2 270.4 L1044.9 272 L1045.7 273.6 L1046.4 275.3 L1047.2 276.8 L1047.9 277.8 L1048.7 278.4 L1049.4 279.3 L1050.2 280.5 L1050.9 281 L1051.7 281.5 L1052.4 282.9 L1053.2 283.6 L1053.9 284.2 L1054.6 285.5 L1055.4 286.2 L1056.1 287.2 L1056.9 288.5 L1057.6 289.1 L1058.4 289.9 L1059.1 291.1 L1059.9 290.8 L1060.6 291 L1061.4 291.9 L1062.1 292.7 L1062.9 293.7 L1063.6 294.7 L1064.4 295.9 L1065.1 296.2 L1065.9 296.8 L1066.6 297.6 L1067.4 298.2 L1068.1 297.9 L1068.9 298.5 L1069.6 298.9 L1070.4 299.3 L1071.1 300.5 L1071.9 301.3 L1072.6 302.2 L1073.4 302.8 L1074.1 303.1 L1074.9 302.4 L1075.6 303.5 L1076.4 304.7 L1077.1 305.3 L1077.9 305.6 L1078.6 306.6 L1079.3 306.9 L1080.1 307.4 L1080.8 307.7 L1081.6 308.5 L1082.3 309.5 L1083.1 309.9 L1083.8 310.1 L1084.6 310.1 L1085.3 310.4 L1086.1 310.5 L1086.8 311.4 L1087.6 311.4 L1088.3 312.2 L1089.1 312.2 L1089.8 312.2 L1090.6 311.9 L1091.3 312 L1092.1 312.5 L1092.8 313.4 L1093.6 314.4 L1094.3 315.1 L1095.1 315.6 L1095.8 315.9 L1096.6 316.7 L1097.3 317.2 L1098.1 317.5 L1098.8 318.1 L1099.6 318.1 L1100.3 319 L1101.1 319.7 L1101.8 320.3 L1102.6 320.7 L1103.3 321.2 L1104 321.3 L1104.8 321.3 L1105.5 322.5 L1106.3 323.2 L1107 323.7 L1107.8 323.3 L1108.5 324 L1109.3 323.7 L1110 323.4 L1110.8 324 L1111.5 324.6 L1112.3 325.5 L1113 326.1 L1113.8 327 L1114.5 327.1 L1115.3 327.2 L1116 326.3 L1116.8 325.6 L1117.5 325.8 L1118.3 325.3 L1119 325.8 L1119.8 326.3 L1120.5 327.3 L1121.3 326.8 L1122 327 L1122.8 327.7 L1123.5 327.6 L1124.3 326.8 L1125 327 L1125.8 327.3 L1126.5 326.6 L1127.3 326.2 L1128 326.9 L1128.7 327.3 L1129.5 328.2 L1130.2 328.5 L1131 328.6 L1131.7 327.9 L1132.5 327.6 L1133.2 326.5 L1134 325.9 L1134.7 326.1 L1135.5 326.8 L1136.2 327.1 L1137 327.9 L1137.7 328.4 L1138.5 327.8 L1139.2 327.3 L1140 326.7 L1140.7 325.7 L1141.5 324.9 L1142.2 324.4 L1143 324.1 L1143.7 324 L1144.5 323.9 L1145.2 324.6 L1146 324.8 L1146.7 324.7 L1147.5 324.7 L1148.2 324.3 L1149 322.8 L1149.7 322.6 L1150.5 321.8 L1151.2 321.4 L1152 321.3 L1152.7 321.7 L1153.4 321.2 L1154.2 320.3 L1154.9 319.6 L1155.7 318.8 L1156.4 317.7 L1157.2 316.9 L1157.9 317.2 L1158.7 316.8 L1159.4 316.8 L1160.2 316 L1160.9 315.5 L1161.7 314 L1162.4 313.2 L1163.2 312.7 L1163.9 312.5 L1164.7 312.3 L1165.4 312.7 L1166.2 312.6 L1166.9 311.7 L1167.7 311.3 L1168.4 310.6 L1169.2 310.6 L1169.9 310.2 L1170.7 310 L1171.4 309.9 L1172.2 309.8 L1172.9 308.9 L1173.7 308 L1174.4 307.5 L1175.2 306.6 L1175.9 306 L1176.7 306 L1177.4 305.7 L1178.1 305.4 L1178.9 305.3 L1179.6 305 L1180.4 304.1 L1181.1 303.2 L1181.9 302.7 L1182.6 302.4 L1183.4 301.6 L1184.1 300.6 L1184.9 300 L1185.6 299 L1186.4 298.6 L1187.1 297.4 L1187.9 297 L1188.6 296.4 L1189.4 295.9 L1190.1 295 L1190.9 295.4 L1191.6 294.8 L1192.4 294.2 L1193.1 293.5 L1193.9 292.6 L1194.6 291.8 L1195.4 290.9 L1196.1 289.8 L1196.9 288.8 L1197.6 287.7 L1198.4 286.1 L1199.1 285.8 L1199.9 285.4 L1200.6 284.9 L1201.4 284.8 L1202.1 284.2 L1202.8 283.2 L1203.6 282.5 L1204.3 281.2 L1205.1 279.4 L1205.8 278.4 L1206.6 277.5 L1207.3 276.7 L1208.1 275.8 L1208.8 275.6 L1209.6 274.7 L1210.3 273.2 L1211.1 271.5 L1211.8 270.6 L1212.6 268.6 L1213.3 267.2 L1214.1 265.8 L1214.8 265 L1215.6 264.6 L1216.3 264.9 L1217.1 264 L1217.8 262.7 L1218.6 261.4 L1219.3 259.4 L1220.1 258.2 L1220.8 257.5 L1221.6 256.8 L1222.3 256.3 L1223.1 255.9 L1223.8 253.9 L1224.6 252.7 L1225.3 252 L1226.1 250.9 L1226.8 249.9 L1227.6 249.5 L1228.3 248.9 L1229 248 L1229.8 246.9 L1230.5 246.5 L1231.3 245.9 L1232 245.1 L1232.8 243.9 L1233.5 243.3 L1234.3 242.2 L1235 240.8 L1235.8 240.1 L1236.5 239.6 L1237.3 238.8 L1238 237.5 L1238.8 237 L1239.5 236 L1240.3 235 L1241 234.4 L1241.8 233.1 L1242.5 231.7 L1243.3 230.5 L1244 229.2 L1244.8 227.6 L1245.5 227 L1246.3 226.6 L1247 224.7 L1247.8 224.1 L1248.5 223.7 L1249.3 222.6 L1250 221 L1250.8 220.2 L1251.5 218.8 L1252.3 216.7 L1253 215 L1253.7 213.9 L1254.5 212.8 L1255.2 212 L1256 211.1 L1256.7 209.5 L1257.5 208.6 L1258.2 207.1 L1259 205.3 L1259.7 204.1 L1260.5 203.1 L1261.2 201.2 L1262 200.2 L1262.7 199.7" fill="none" stroke="#d9772d" stroke-width="2.0" stroke-linejoin="round" stroke-linecap="round" />
<path d="M993.3 175.9 L994 177.7 L994.8 178.9 L995.5 180.9 L996.3 182.2 L997 182.9 L997.8 183.8 L998.5 185 L999.3 186 L1000 187.7 L1000.8 189.8 L1001.5 192.1 L1002.3 194.1 L1003 195.4 L1003.7 196.9 L1004.5 198 L1005.2 198.5 L1006 199.5 L1006.7 200.6 L1007.5 201.4 L1008.2 203.1 L1009 204.8 L1009.7 205.7 L1010.5 206.9 L1011.2 209 L1012 209.6 L1012.7 210.8 L1013.5 212.4 L1014.2 213.9 L1015 214.6 L1015.7 215.7 L1016.5 216.6 L1017.2 217.6 L1018 218.6 L1018.7 219.9 L1019.5 221.7 L1020.2 222.8 L1021 224.3 L1021.7 225.3 L1022.5 226 L1023.2 226.7 L1024 228.2 L1024.7 229 L1025.5 229.7 L1026.2 231.5 L1027 232.7 L1027.7 233.6 L1028.4 235.1 L1029.2 236.9 L1029.9 237.2 L1030.7 238.5 L1031.4 240 L1032.2 240.6 L1032.9 242.2 L1033.7 243.8 L1034.4 244.4 L1035.2 245.9 L1035.9 247.3 L1036.7 247.7 L1037.4 248.8 L1038.2 250.2 L1038.9 251 L1039.7 251.5 L1040.4 253.3 L1041.2 254.5 L1041.9 255.7 L1042.7 256.6 L1043.4 258.5 L1044.2 259.5 L1044.9 260.3 L1045.7 260.8 L1046.4 262.1 L1047.2 263 L1047.9 264 L1048.7 265.1 L1049.4 266.6 L1050.2 266.6 L1050.9 267.4 L1051.7 267.6 L1052.4 268.7 L1053.2 269.9 L1053.9 272.3 L1054.6 273.1 L1055.4 275.1 L1056.1 276 L1056.9 276 L1057.6 276.6 L1058.4 277.7 L1059.1 278.6 L1059.9 279.2 L1060.6 280.9 L1061.4 281.6 L1062.1 283 L1062.9 284 L1063.6 286.4 L1064.4 287.2 L1065.1 288 L1065.9 288.5 L1066.6 289.1 L1067.4 289.4 L1068.1 290.6 L1068.9 291.2 L1069.6 292.1 L1070.4 293.6 L1071.1 293.6 L1071.9 294.2 L1072.6 295.4 L1073.4 296.9 L1074.1 297.5 L1074.9 298.6 L1075.6 299.2 L1076.4 300.6 L1077.1 300.5 L1077.9 301.8 L1078.6 302.1 L1079.3 302.9 L1080.1 302.9 L1080.8 303.5 L1081.6 303.4 L1082.3 304.8 L1083.1 305.3 L1083.8 305.6 L1084.6 306.9 L1085.3 308.1 L1086.1 308.3 L1086.8 309.2 L1087.6 309.4 L1088.3 310 L1089.1 309.7 L1089.8 310.3 L1090.6 311.5 L1091.3 312.4 L1092.1 312.7 L1092.8 313.3 L1093.6 313.4 L1094.3 312.9 L1095.1 313.9 L1095.8 314 L1096.6 314.6 L1097.3 315.9 L1098.1 316.7 L1098.8 316.7 L1099.6 318 L1100.3 318.7 L1101.1 319.3 L1101.8 319.5 L1102.6 320.9 L1103.3 320.4 L1104 320.3 L1104.8 320.1 L1105.5 320.7 L1106.3 320.7 L1107 321.4 L1107.8 322.5 L1108.5 323.4 L1109.3 323.7 L1110 323.6 L1110.8 323.9 L1111.5 324.3 L1112.3 324.4 L1113 324.8 L1113.8 325.2 L1114.5 325.5 L1115.3 325.8 L1116 325.5 L1116.8 326.2 L1117.5 326.7 L1118.3 327 L1119 326.6 L1119.8 327.4 L1120.5 327.2 L1121.3 326.8 L1122 327 L1122.8 327.2 L1123.5 327.2 L1124.3 327.4 L1125 327.7 L1125.8 327.6 L1126.5 327.6 L1127.3 327 L1128 327 L1128.7 327.5 L1129.5 327.4 L1130.2 327.5 L1131 327.5 L1131.7 327.6 L1132.5 327.3 L1133.2 327.5 L1134 327.5 L1134.7 328.2 L1135.5 327.4 L1136.2 327.2 L1137 326.9 L1137.7 326.9 L1138.5 325.6 L1139.2 325.5 L1140 325.4 L1140.7 325.4 L1141.5 325.2 L1142.2 325 L1143 325.2 L1143.7 325.3 L1144.5 324.7 L1145.2 323.7 L1146 323.6 L1146.7 322.8 L1147.5 322.4 L1148.2 322 L1149 321.8 L1149.7 321.3 L1150.5 321.3 L1151.2 320.2 L1152 319.5 L1152.7 319.2 L1153.4 319 L1154.2 318.7 L1154.9 318.6 L1155.7 318.9 L1156.4 318.4 L1157.2 318.2 L1157.9 317.6 L1158.7 316.8 L1159.4 316.4 L1160.2 315.7 L1160.9 314.6 L1161.7 314.4 L1162.4 314.4 L1163.2 313.3 L1163.9 313.2 L1164.7 313.4 L1165.4 312.7 L1166.2 311.6 L1166.9 311.2 L1167.7 310 L1168.4 308.9 L1169.2 307.9 L1169.9 307.3 L1170.7 306.8 L1171.4 306.2 L1172.2 306 L1172.9 305.6 L1173.7 305 L1174.4 304.2 L1175.2 304 L1175.9 303.5 L1176.7 302.6 L1177.4 302.7 L1178.1 302.1 L1178.9 301.6 L1179.6 300 L1180.4 299 L1181.1 298.1 L1181.9 297 L1182.6 296 L1183.4 296 L1184.1 295 L1184.9 293.9 L1185.6 293.8 L1186.4 293 L1187.1 291.8 L1187.9 291.5 L1188.6 290.4 L1189.4 289.2 L1190.1 288.4 L1190.9 287.4 L1191.6 286.4 L1192.4 285.6 L1193.1 284.6 L1193.9 283.5 L1194.6 282.3 L1195.4 281.6 L1196.1 280.8 L1196.9 279.2 L1197.6 277.9 L1198.4 276.8 L1199.1 275.4 L1199.9 274.2 L1200.6 273.1 L1201.4 272 L1202.1 271.1 L1202.8 269.9 L1203.6 268.5 L1204.3 267.5 L1205.1 266.8 L1205.8 266 L1206.6 264.8 L1207.3 264.3 L1208.1 263.4 L1208.8 262.4 L1209.6 261 L1210.3 260.7 L1211.1 259.1 L1211.8 258 L1212.6 256.8 L1213.3 255.7 L1214.1 253.9 L1214.8 253 L1215.6 252.1 L1216.3 251.1 L1217.1 250.5 L1217.8 249.9 L1218.6 248.8 L1219.3 248.1 L1220.1 247 L1220.8 246.2 L1221.6 245.4 L1222.3 243.6 L1223.1 241.8 L1223.8 241.2 L1224.6 239.6 L1225.3 238.2 L1226.1 237.7 L1226.8 237.2 L1227.6 236.2 L1228.3 235 L1229 233.8 L1229.8 232.7 L1230.5 231.1 L1231.3 228.9 L1232 227.9 L1232.8 226.6 L1233.5 225.6 L1234.3 224.1 L1235 222.6 L1235.8 222 L1236.5 220.8 L1237.3 219.7 L1238 218.9 L1238.8 218 L1239.5 216.9 L1240.3 215.3 L1241 213.5 L1241.8 212.6 L1242.5 211.6 L1243.3 209.1 L1244 208.3 L1244.8 207.5 L1245.5 205.6 L1246.3 204.1 L1247 203.6 L1247.8 202.9 L1248.5 200.7 L1249.3 199.6 L1250 198.6 L1250.8 196.7 L1251.5 194.6 L1252.3 193.9 L1253 193 L1253.7 191.3 L1254.5 190.6 L1255.2 189.8 L1256 188.9 L1256.7 187.9 L1257.5 186.8 L1258.2 185.1 L1259 183.9 L1259.7 182.7 L1260.5 181.1 L1261.2 179.8 L1262 178.3 L1262.7 176.3" fill="none" stroke="#5b2d72" stroke-width="2.0" stroke-linejoin="round" stroke-linecap="round" />
<path d="M993.3 147.4 L994 149.3 L994.8 150.5 L995.5 152.6 L996.3 154.7 L997 155.9 L997.8 157 L998.5 158.4 L999.3 159.6 L1000 161.4 L1000.8 163.3 L1001.5 164.6 L1002.3 166.3 L1003 167.9 L1003.7 169.4 L1004.5 171.1 L1005.2 173.1 L1006 173.8 L1006.7 175.4 L1007.5 176 L1008.2 177.4 L1009 178.4 L1009.7 180.3 L1010.5 182.1 L1011.2 183.4 L1012 184.3 L1012.7 185.5 L1013.5 186.8 L1014.2 187.3 L1015 189.4 L1015.7 190.7 L1016.5 192.5 L1017.2 194.2 L1018 195.3 L1018.7 196.9 L1019.5 198.2 L1020.2 198.9 L1021 199.8 L1021.7 202 L1022.5 203.2 L1023.2 204.4 L1024 206.2 L1024.7 207.8 L1025.5 209.2 L1026.2 210.1 L1027 212 L1027.7 212.9 L1028.4 213.9 L1029.2 215.1 L1029.9 216.6 L1030.7 217.6 L1031.4 219.3 L1032.2 220.9 L1032.9 222.2 L1033.7 223.6 L1034.4 225.1 L1035.2 226.4 L1035.9 227.5 L1036.7 228.3 L1037.4 228.4 L1038.2 229.6 L1038.9 230.6 L1039.7 232.2 L1040.4 233 L1041.2 234.8 L1041.9 235.7 L1042.7 236.4 L1043.4 237.7 L1044.2 239.9 L1044.9 240.9 L1045.7 242.4 L1046.4 244.8 L1047.2 245.3 L1047.9 246.5 L1048.7 248.6 L1049.4 250.2 L1050.2 250.4 L1050.9 251.7 L1051.7 252.6 L1052.4 253.6 L1053.2 253.8 L1053.9 255.2 L1054.6 256.3 L1055.4 257.7 L1056.1 258.3 L1056.9 260 L1057.6 261.5 L1058.4 263.4 L1059.1 264.3 L1059.9 265.7 L1060.6 267 L1061.4 268 L1062.1 268.3 L1062.9 269.1 L1063.6 270.4 L1064.4 271.1 L1065.1 271.9 L1065.9 273.4 L1066.6 275.7 L1067.4 276.4 L1068.1 277.5 L1068.9 278.8 L1069.6 279.6 L1070.4 279.9 L1071.1 281.2 L1071.9 282.1 L1072.6 282.5 L1073.4 284 L1074.1 284.8 L1074.9 285.5 L1075.6 285.4 L1076.4 286.8 L1077.1 286.9 L1077.9 287.6 L1078.6 288.3 L1079.3 289.9 L1080.1 291.1 L1080.8 292.4 L1081.6 293.8 L1082.3 294.5 L1083.1 295.6 L1083.8 296.5 L1084.6 297.4 L1085.3 297.6 L1086.1 298.4 L1086.8 299.1 L1087.6 299.3 L1088.3 300.2 L1089.1 301.2 L1089.8 302.4 L1090.6 303.6 L1091.3 304.3 L1092.1 305.2 L1092.8 306 L1093.6 306.3 L1094.3 306.6 L1095.1 307.2 L1095.8 307.2 L1096.6 307.1 L1097.3 307.8 L1098.1 308.2 L1098.8 309 L1099.6 309.6 L1100.3 310.6 L1101.1 311.2 L1101.8 311.8 L1102.6 312.2 L1103.3 312.7 L1104 313.1 L1104.8 313.9 L1105.5 314.7 L1106.3 315.1 L1107 315.7 L1107.8 316.6 L1108.5 317.5 L1109.3 317.2 L1110 318.1 L1110.8 319 L1111.5 319.6 L1112.3 319.9 L1113 320.9 L1113.8 321.7 L1114.5 322 L1115.3 322.1 L1116 322.5 L1116.8 323.3 L1117.5 323.4 L1118.3 323.9 L1119 324 L1119.8 324.3 L1120.5 324.3 L1121.3 325 L1122 325.5 L1122.8 326.6 L1123.5 326.5 L1124.3 326.5 L1125 325.6 L1125.8 325.6 L1126.5 325 L1127.3 325.7 L1128 326 L1128.7 326.2 L1129.5 326.2 L1130.2 326.3 L1131 326.1 L1131.7 326.6 L1132.5 326.9 L1133.2 326.1 L1134 325.6 L1134.7 325.8 L1135.5 325.1 L1136.2 324.8 L1137 324.8 L1137.7 324.6 L1138.5 323.4 L1139.2 322.7 L1140 322 L1140.7 320.7 L1141.5 320.7 L1142.2 320.1 L1143 319.3 L1143.7 319.1 L1144.5 319.4 L1145.2 317.8 L1146 317.2 L1146.7 317.5 L1147.5 317 L1148.2 316.4 L1149 316.6 L1149.7 316.2 L1150.5 315.1 L1151.2 314.9 L1152 314.1 L1152.7 313.3 L1153.4 313 L1154.2 312.5 L1154.9 311 L1155.7 311.2 L1156.4 310.6 L1157.2 310.4 L1157.9 310 L1158.7 309.5 L1159.4 308.8 L1160.2 308.2 L1160.9 306.7 L1161.7 305.9 L1162.4 304.9 L1163.2 303.9 L1163.9 303 L1164.7 302.6 L1165.4 301.6 L1166.2 301.9 L1166.9 301.1 L1167.7 301 L1168.4 300.9 L1169.2 300.5 L1169.9 299.6 L1170.7 298.7 L1171.4 297.3 L1172.2 295.8 L1172.9 295.1 L1173.7 293.9 L1174.4 292.4 L1175.2 291.6 L1175.9 291 L1176.7 290.3 L1177.4 289.4 L1178.1 288.8 L1178.9 288 L1179.6 287 L1180.4 285.6 L1181.1 284.7 L1181.9 284.1 L1182.6 282.9 L1183.4 282.3 L1184.1 281.4 L1184.9 280.8 L1185.6 279.6 L1186.4 278.3 L1187.1 277 L1187.9 275.9 L1188.6 275.1 L1189.4 274.5 L1190.1 273.9 L1190.9 272.8 L1191.6 271.5 L1192.4 270.1 L1193.1 268.7 L1193.9 267.5 L1194.6 266.1 L1195.4 265.7 L1196.1 264.4 L1196.9 263.7 L1197.6 263.1 L1198.4 262.8 L1199.1 261 L1199.9 260.4 L1200.6 258.3 L1201.4 256.7 L1202.1 254.5 L1202.8 253.4 L1203.6 251.9 L1204.3 251.5 L1205.1 250.8 L1205.8 249.9 L1206.6 248.9 L1207.3 247.6 L1208.1 245.7 L1208.8 243.6 L1209.6 242.4 L1210.3 241.5 L1211.1 240.3 L1211.8 239.6 L1212.6 238.5 L1213.3 237 L1214.1 235.5 L1214.8 234.7 L1215.6 233.2 L1216.3 232.6 L1217.1 231.6 L1217.8 230.1 L1218.6 228 L1219.3 226.7 L1220.1 224.9 L1220.8 224.1 L1221.6 223.3 L1222.3 222.2 L1223.1 221.3 L1223.8 220.5 L1224.6 218 L1225.3 216.3 L1226.1 215.6 L1226.8 213.6 L1227.6 211.9 L1228.3 211.7 L1229 210.8 L1229.8 209.6 L1230.5 209 L1231.3 207.6 L1232 206.9 L1232.8 205.7 L1233.5 204.9 L1234.3 203.3 L1235 202.4 L1235.8 200.4 L1236.5 198.9 L1237.3 196.9 L1238 195.8 L1238.8 194.5 L1239.5 193.1 L1240.3 191.8 L1241 190.5 L1241.8 189.6 L1242.5 188 L1243.3 186.7 L1244 185.3 L1244.8 183.2 L1245.5 181.1 L1246.3 179.4 L1247 177.3 L1247.8 175.7 L1248.5 174.4 L1249.3 173.3 L1250 172 L1250.8 171.4 L1251.5 170.3 L1252.3 169 L1253 167.4 L1253.7 166.2 L1254.5 164.1 L1255.2 162.4 L1256 161 L1256.7 159.3 L1257.5 157.9 L1258.2 156.5 L1259 155.5 L1259.7 153.7 L1260.5 152.1 L1261.2 150.3 L1262 149.2 L1262.7 147.6" fill="none" stroke="#7aab52" stroke-width="2.0" stroke-linejoin="round" stroke-linecap="round" />
<path d="M993.3 112.9 L994 114.6 L994.8 116.1 L995.5 118 L996.3 120.2 L997 122.5 L997.8 123.6 L998.5 125.8 L999.3 128.1 L1000 130.2 L1000.8 131.8 L1001.5 133.8 L1002.3 135.1 L1003 137.3 L1003.7 138.7 L1004.5 140.1 L1005.2 141.5 L1006 143.1 L1006.7 144.4 L1007.5 146.6 L1008.2 148.6 L1009 150.9 L1009.7 152.9 L1010.5 154.4 L1011.2 156 L1012 157.4 L1012.7 159.1 L1013.5 160.5 L1014.2 161.5 L1015 162.4 L1015.7 164 L1016.5 165.1 L1017.2 166.3 L1018 168.1 L1018.7 170.1 L1019.5 171.9 L1020.2 173.8 L1021 175.5 L1021.7 177.4 L1022.5 179.2 L1023.2 180.7 L1024 182.5 L1024.7 184.1 L1025.5 185.5 L1026.2 186.7 L1027 188 L1027.7 188.9 L1028.4 190.7 L1029.2 192.1 L1029.9 193.4 L1030.7 194.9 L1031.4 196.4 L1032.2 197.3 L1032.9 198.9 L1033.7 200.1 L1034.4 201.7 L1035.2 202.8 L1035.9 204.8 L1036.7 206.1 L1037.4 207.8 L1038.2 209.1 L1038.9 210.9 L1039.7 212.9 L1040.4 213.9 L1041.2 215.5 L1041.9 217.3 L1042.7 218.6 L1043.4 219.1 L1044.2 221.6 L1044.9 222.9 L1045.7 224.5 L1046.4 225.9 L1047.2 227.5 L1047.9 228.7 L1048.7 230.3 L1049.4 231.3 L1050.2 232.7 L1050.9 234.5 L1051.7 235.3 L1052.4 236.2 L1053.2 237.6 L1053.9 239.4 L1054.6 240.8 L1055.4 242.4 L1056.1 244.4 L1056.9 245.8 L1057.6 246.6 L1058.4 248.4 L1059.1 249.5 L1059.9 250.6 L1060.6 252.1 L1061.4 253.6 L1062.1 254.2 L1062.9 255.8 L1063.6 257 L1064.4 257.9 L1065.1 259 L1065.9 260.5 L1066.6 261.7 L1067.4 262.6 L1068.1 263.9 L1068.9 264.7 L1069.6 265 L1070.4 265.8 L1071.1 267.5 L1071.9 268.4 L1072.6 269.2 L1073.4 270.6 L1074.1 271.6 L1074.9 272.4 L1075.6 274 L1076.4 275.6 L1077.1 276.7 L1077.9 277.6 L1078.6 278.8 L1079.3 279.2 L1080.1 280.3 L1080.8 282 L1081.6 283 L1082.3 283.7 L1083.1 284.9 L1083.8 286 L1084.6 286.4 L1085.3 288.1 L1086.1 289.1 L1086.8 290.3 L1087.6 290.7 L1088.3 291.7 L1089.1 291.7 L1089.8 292.9 L1090.6 293.6 L1091.3 295.1 L1092.1 295.8 L1092.8 297.1 L1093.6 297.6 L1094.3 298.6 L1095.1 299.1 L1095.8 299.9 L1096.6 300.5 L1097.3 301.1 L1098.1 301.4 L1098.8 301.8 L1099.6 302.3 L1100.3 303.7 L1101.1 304.4 L1101.8 305.1 L1102.6 306.4 L1103.3 307.6 L1104 307.7 L1104.8 309 L1105.5 310.5 L1106.3 310.6 L1107 311.6 L1107.8 312.5 L1108.5 313.1 L1109.3 313 L1110 314.4 L1110.8 315 L1111.5 314.7 L1112.3 315.3 L1113 316.5 L1113.8 316.2 L1114.5 316.6 L1115.3 317.9 L1116 318.2 L1116.8 318.2 L1117.5 319.4 L1118.3 320.1 L1119 320.7 L1119.8 321.2 L1120.5 321.6 L1121.3 322.1 L1122 322.1 L1122.8 322.7 L1123.5 323 L1124.3 325 L1125 325.4 L1125.8 326.8 L1126.5 327.4 L1127.3 328.2 L1128 328.2 L1128.7 327.6 L1129.5 327.3 L1130.2 326.6 L1131 326.6 L1131.7 325.4 L1132.5 324.5 L1133.2 323.4 L1134 322.5 L1134.7 322 L1135.5 322 L1136.2 321.7 L1137 321.4 L1137.7 321.1 L1138.5 319.7 L1139.2 318.1 L1140 316.9 L1140.7 315.6 L1141.5 314.5 L1142.2 314.4 L1143 314.9 L1143.7 315 L1144.5 313.9 L1145.2 313.7 L1146 312.4 L1146.7 311.7 L1147.5 311.2 L1148.2 311 L1149 310.6 L1149.7 310.5 L1150.5 309.8 L1151.2 308.6 L1152 307.7 L1152.7 307.2 L1153.4 306.6 L1154.2 305.8 L1154.9 305.4 L1155.7 305.2 L1156.4 304.4 L1157.2 303.3 L1157.9 302.9 L1158.7 302.5 L1159.4 301.4 L1160.2 300.4 L1160.9 299.6 L1161.7 297.8 L1162.4 296.3 L1163.2 295.1 L1163.9 294 L1164.7 293.5 L1165.4 293 L1166.2 292 L1166.9 291.4 L1167.7 290.5 L1168.4 289.1 L1169.2 288.5 L1169.9 287.7 L1170.7 287.1 L1171.4 285.8 L1172.2 285.2 L1172.9 283.7 L1173.7 283.3 L1174.4 282.1 L1175.2 281.4 L1175.9 280.5 L1176.7 280.2 L1177.4 279.3 L1178.1 278.6 L1178.9 277.7 L1179.6 277.1 L1180.4 275.5 L1181.1 274 L1181.9 272 L1182.6 271 L1183.4 268.8 L1184.1 268 L1184.9 266.4 L1185.6 266.3 L1186.4 265.5 L1187.1 265.3 L1187.9 264.5 L1188.6 264 L1189.4 262.4 L1190.1 261 L1190.9 258.8 L1191.6 256.9 L1192.4 255.5 L1193.1 254.4 L1193.9 252.7 L1194.6 252.1 L1195.4 251 L1196.1 250 L1196.9 248.7 L1197.6 247.5 L1198.4 245.7 L1199.1 245 L1199.9 243.8 L1200.6 242.2 L1201.4 241.4 L1202.1 240.5 L1202.8 238.8 L1203.6 237 L1204.3 235.8 L1205.1 234.7 L1205.8 233.8 L1206.6 232.6 L1207.3 231.4 L1208.1 230.1 L1208.8 228.1 L1209.6 226.1 L1210.3 224.4 L1211.1 222.6 L1211.8 220.9 L1212.6 219.1 L1213.3 218.3 L1214.1 217.1 L1214.8 216.1 L1215.6 214.3 L1216.3 213.2 L1217.1 211.2 L1217.8 208.9 L1218.6 207.3 L1219.3 205.7 L1220.1 204.7 L1220.8 203.8 L1221.6 203.3 L1222.3 201.5 L1223.1 199.9 L1223.8 198.6 L1224.6 196.9 L1225.3 195.3 L1226.1 194.5 L1226.8 193.5 L1227.6 192.2 L1228.3 190.8 L1229 189.1 L1229.8 187.1 L1230.5 185.6 L1231.3 183.8 L1232 182.2 L1232.8 180.8 L1233.5 179.5 L1234.3 178.1 L1235 176 L1235.8 174.2 L1236.5 172.8 L1237.3 171.8 L1238 169.9 L1238.8 168.5 L1239.5 166.9 L1240.3 164.9 L1241 162.8 L1241.8 161.6 L1242.5 160.1 L1243.3 158.6 L1244 157.2 L1244.8 155 L1245.5 153 L1246.3 151.9 L1247 149.9 L1247.8 147.9 L1248.5 146.9 L1249.3 145.6 L1250 143.2 L1250.8 141.5 L1251.5 140.5 L1252.3 137.9 L1253 135.6 L1253.7 133.7 L1254.5 131.6 L1255.2 129.8 L1256 129.4 L1256.7 127.4 L1257.5 125.7 L1258.2 124.6 L1259 122.6 L1259.7 120.2 L1260.5 119 L1261.2 117.4 L1262 115.6 L1262.7 113.5" fill="none" stroke="#e8b54c" stroke-width="2.0" stroke-linejoin="round" stroke-linecap="round" />
<path d="M993.3 97.4 L994 99.5 L994.8 102 L995.5 103.8 L996.3 106.8 L997 107.8 L997.8 109.8 L998.5 111.8 L999.3 114 L1000 114.9 L1000.8 117.7 L1001.5 119.8 L1002.3 121.7 L1003 123.1 L1003.7 125.1 L1004.5 126.7 L1005.2 128.5 L1006 129.6 L1006.7 131.8 L1007.5 133.7 L1008.2 135.5 L1009 136.8 L1009.7 138.3 L1010.5 139.7 L1011.2 140.3 L1012 141.7 L1012.7 143 L1013.5 144.6 L1014.2 147 L1015 148.4 L1015.7 149.6 L1016.5 151.4 L1017.2 153.4 L1018 154.3 L1018.7 157.1 L1019.5 160.1 L1020.2 161.4 L1021 162.4 L1021.7 163.9 L1022.5 165.5 L1023.2 166.5 L1024 168.2 L1024.7 170.3 L1025.5 172.1 L1026.2 172.7 L1027 174.3 L1027.7 175.6 L1028.4 177 L1029.2 178.3 L1029.9 180.5 L1030.7 182.2 L1031.4 184 L1032.2 185.6 L1032.9 187.6 L1033.7 189.3 L1034.4 190.3 L1035.2 192.2 L1035.9 193.5 L1036.7 194.7 L1037.4 196.1 L1038.2 198.3 L1038.9 199.3 L1039.7 200.8 L1040.4 202.5 L1041.2 203.6 L1041.9 204.7 L1042.7 206.9 L1043.4 208 L1044.2 209.4 L1044.9 211 L1045.7 213.1 L1046.4 214.4 L1047.2 216.7 L1047.9 218.1 L1048.7 219.5 L1049.4 220.3 L1050.2 221.7 L1050.9 222.9 L1051.7 225 L1052.4 227 L1053.2 228.1 L1053.9 229.3 L1054.6 230.8 L1055.4 231.2 L1056.1 232.3 L1056.9 233.7 L1057.6 235.3 L1058.4 236.6 L1059.1 238.1 L1059.9 239.8 L1060.6 241.1 L1061.4 242.6 L1062.1 243.4 L1062.9 244.6 L1063.6 245.2 L1064.4 246.5 L1065.1 247.7 L1065.9 248.8 L1066.6 250.8 L1067.4 251.8 L1068.1 253.6 L1068.9 254.6 L1069.6 256.1 L1070.4 257 L1071.1 258.4 L1071.9 259.1 L1072.6 260.3 L1073.4 262.6 L1074.1 263.2 L1074.9 265.1 L1075.6 266.2 L1076.4 267.2 L1077.1 267.3 L1077.9 269.2 L1078.6 269.6 L1079.3 270.6 L1080.1 272.2 L1080.8 273.6 L1081.6 274.6 L1082.3 275.4 L1083.1 277.2 L1083.8 278.4 L1084.6 279.1 L1085.3 279.6 L1086.1 281.1 L1086.8 281.5 L1087.6 282.3 L1088.3 283.6 L1089.1 284.6 L1089.8 285 L1090.6 285.3 L1091.3 286 L1092.1 286.2 L1092.8 287.4 L1093.6 289.2 L1094.3 290.7 L1095.1 291.7 L1095.8 293.4 L1096.6 294.1 L1097.3 293.9 L1098.1 294.4 L1098.8 294.7 L1099.6 295.2 L1100.3 295.4 L1101.1 296.6 L1101.8 298.2 L1102.6 299 L1103.3 299.8 L1104 300.6 L1104.8 301.3 L1105.5 301.9 L1106.3 303.3 L1107 304.1 L1107.8 305 L1108.5 306.5 L1109.3 306.3 L1110 306.5 L1110.8 306.9 L1111.5 307.9 L1112.3 308.3 L1113 309.5 L1113.8 311.6 L1114.5 313.3 L1115.3 314.3 L1116 314.8 L1116.8 315.2 L1117.5 315.2 L1118.3 315.6 L1119 316.2 L1119.8 317.6 L1120.5 319 L1121.3 318.9 L1122 318.8 L1122.8 319.2 L1123.5 319.4 L1124.3 320.3 L1125 321.7 L1125.8 323.2 L1126.5 324.3 L1127.3 325.9 L1128 327.6 L1128.7 325.7 L1129.5 323.9 L1130.2 322.8 L1131 321.3 L1131.7 320.3 L1132.5 319.3 L1133.2 319 L1134 318.2 L1134.7 318 L1135.5 317.9 L1136.2 317.2 L1137 316.4 L1137.7 316.6 L1138.5 316 L1139.2 314.5 L1140 314.3 L1140.7 313.4 L1141.5 311.4 L1142.2 309.5 L1143 308.4 L1143.7 307.3 L1144.5 307 L1145.2 306.8 L1146 306.3 L1146.7 305.9 L1147.5 304.9 L1148.2 304.2 L1149 303 L1149.7 303 L1150.5 302.1 L1151.2 301.5 L1152 300.7 L1152.7 300.1 L1153.4 298.3 L1154.2 297.6 L1154.9 296.6 L1155.7 295.3 L1156.4 294.7 L1157.2 294.9 L1157.9 294 L1158.7 293.2 L1159.4 292.3 L1160.2 291 L1160.9 289.9 L1161.7 288.8 L1162.4 288.5 L1163.2 287.7 L1163.9 287.6 L1164.7 287.4 L1165.4 286.9 L1166.2 285.7 L1166.9 285.4 L1167.7 283.9 L1168.4 282.4 L1169.2 281.8 L1169.9 281.1 L1170.7 279.7 L1171.4 278.9 L1172.2 277.7 L1172.9 276.7 L1173.7 276.1 L1174.4 275.6 L1175.2 274.6 L1175.9 273.8 L1176.7 271.9 L1177.4 269.7 L1178.1 268.3 L1178.9 267.3 L1179.6 265.6 L1180.4 264.3 L1181.1 263.5 L1181.9 261.7 L1182.6 260.6 L1183.4 260.3 L1184.1 259.1 L1184.9 257.7 L1185.6 257.3 L1186.4 256.1 L1187.1 254.5 L1187.9 253.6 L1188.6 252.5 L1189.4 251.2 L1190.1 249.8 L1190.9 248.6 L1191.6 247.2 L1192.4 246.1 L1193.1 244.6 L1193.9 243 L1194.6 241.4 L1195.4 240.3 L1196.1 239.3 L1196.9 238.1 L1197.6 237.4 L1198.4 236.6 L1199.1 235.4 L1199.9 234.1 L1200.6 232 L1201.4 230.5 L1202.1 229.3 L1202.8 227.3 L1203.6 224.9 L1204.3 223.8 L1205.1 222.1 L1205.8 220.4 L1206.6 218.8 L1207.3 217.8 L1208.1 216.3 L1208.8 215 L1209.6 213.3 L1210.3 212.4 L1211.1 210.8 L1211.8 209.5 L1212.6 208.2 L1213.3 206.4 L1214.1 204.8 L1214.8 203.3 L1215.6 201.8 L1216.3 199.7 L1217.1 199 L1217.8 197.8 L1218.6 196.4 L1219.3 195.6 L1220.1 194.4 L1220.8 193 L1221.6 190.8 L1222.3 189.2 L1223.1 186.8 L1223.8 185.9 L1224.6 184.2 L1225.3 182.8 L1226.1 181.6 L1226.8 180.2 L1227.6 177.9 L1228.3 175.7 L1229 174.6 L1229.8 173 L1230.5 171.3 L1231.3 169.8 L1232 168.8 L1232.8 167 L1233.5 165.2 L1234.3 164.1 L1235 162.6 L1235.8 161.4 L1236.5 159.5 L1237.3 158.2 L1238 156.4 L1238.8 154.4 L1239.5 152.2 L1240.3 150.3 L1241 148.3 L1241.8 146.3 L1242.5 145 L1243.3 143.2 L1244 141.8 L1244.8 140.3 L1245.5 139.4 L1246.3 137.5 L1247 135.2 L1247.8 134.7 L1248.5 133.1 L1249.3 131.5 L1250 129.7 L1250.8 128.7 L1251.5 126.3 L1252.3 124.8 L1253 122.6 L1253.7 121.7 L1254.5 119.8 L1255.2 117.8 L1256 116.5 L1256.7 114.8 L1257.5 111.7 L1258.2 110.2 L1259 108.5 L1259.7 106.2 L1260.5 104.7 L1261.2 103.2 L1262 101.2 L1262.7 98.9" fill="none" stroke="#b2433a" stroke-width="2.0" stroke-linejoin="round" stroke-linecap="round" />
<path d="M993.3 83.6 L994 86 L994.8 87.6 L995.5 90.3 L996.3 92.3 L997 94.6 L997.8 96.2 L998.5 98.3 L999.3 99.7 L1000 101 L1000.8 103 L1001.5 104.2 L1002.3 105.8 L1003 108.3 L1003.7 110.5 L1004.5 111.7 L1005.2 114.5 L1006 116.3 L1006.7 117.2 L1007.5 118.6 L1008.2 120.7 L1009 122.3 L1009.7 123.9 L1010.5 126.3 L1011.2 127.9 L1012 129.8 L1012.7 130.6 L1013.5 131.6 L1014.2 132.6 L1015 134.5 L1015.7 136.4 L1016.5 138.3 L1017.2 140.5 L1018 141.7 L1018.7 143.2 L1019.5 144.3 L1020.2 145.8 L1021 147.5 L1021.7 149.8 L1022.5 151.5 L1023.2 152.8 L1024 154.4 L1024.7 155.8 L1025.5 156.5 L1026.2 158.1 L1027 159.4 L1027.7 161.1 L1028.4 162 L1029.2 163.5 L1029.9 164.4 L1030.7 166.2 L1031.4 167.6 L1032.2 169.4 L1032.9 171.4 L1033.7 172.8 L1034.4 174.4 L1035.2 175.6 L1035.9 176.8 L1036.7 177.7 L1037.4 179.7 L1038.2 181.4 L1038.9 182.8 L1039.7 184.2 L1040.4 185.2 L1041.2 186.3 L1041.9 187.4 L1042.7 189.1 L1043.4 190.9 L1044.2 193.2 L1044.9 194.6 L1045.7 196 L1046.4 197.2 L1047.2 198.2 L1047.9 198.5 L1048.7 199.9 L1049.4 201 L1050.2 202.4 L1050.9 203.9 L1051.7 206 L1052.4 207.4 L1053.2 208.3 L1053.9 209.8 L1054.6 211.5 L1055.4 213 L1056.1 214.3 L1056.9 216.5 L1057.6 217.5 L1058.4 218.9 L1059.1 220.1 L1059.9 221.5 L1060.6 223 L1061.4 224.9 L1062.1 225.8 L1062.9 226.6 L1063.6 227.8 L1064.4 228.9 L1065.1 230.3 L1065.9 232.3 L1066.6 234.3 L1067.4 235.8 L1068.1 236.6 L1068.9 238 L1069.6 239 L1070.4 240.7 L1071.1 242.1 L1071.9 243.6 L1072.6 244.6 L1073.4 245.9 L1074.1 246.2 L1074.9 246.6 L1075.6 248.1 L1076.4 249.1 L1077.1 249.9 L1077.9 251.4 L1078.6 252.9 L1079.3 254.2 L1080.1 255.5 L1080.8 256.8 L1081.6 258.2 L1082.3 259.4 L1083.1 259.8 L1083.8 260.9 L1084.6 261.5 L1085.3 262.4 L1086.1 263.1 L1086.8 264.6 L1087.6 266.1 L1088.3 267.8 L1089.1 268.6 L1089.8 269.6 L1090.6 270.5 L1091.3 271.5 L1092.1 272.5 L1092.8 273.3 L1093.6 275.1 L1094.3 276.3 L1095.1 277.3 L1095.8 278.5 L1096.6 279.7 L1097.3 280.6 L1098.1 281.6 L1098.8 282.6 L1099.6 283.1 L1100.3 283.8 L1101.1 284.6 L1101.8 285.8 L1102.6 286.3 L1103.3 287.2 L1104 288.6 L1104.8 289.4 L1105.5 289.9 L1106.3 290.7 L1107 292.2 L1107.8 292.9 L1108.5 293.9 L1109.3 295.3 L1110 296.6 L1110.8 296.5 L1111.5 297.3 L1112.3 297.8 L1113 298.3 L1113.8 298.2 L1114.5 299.2 L1115.3 300.3 L1116 301.6 L1116.8 302.1 L1117.5 303.7 L1118.3 305.3 L1119 305.8 L1119.8 306.9 L1120.5 308.2 L1121.3 308.3 L1122 309 L1122.8 310.4 L1123.5 311.7 L1124.3 312.9 L1125 315.7 L1125.8 317.5 L1126.5 320 L1127.3 322.6 L1128 328.4 L1128.7 322.8 L1129.5 319.7 L1130.2 317 L1131 315.4 L1131.7 313.6 L1132.5 311.9 L1133.2 311 L1134 310.1 L1134.7 309 L1135.5 308.2 L1136.2 307.3 L1137 306.4 L1137.7 306 L1138.5 305.2 L1139.2 303.8 L1140 302.5 L1140.7 301.6 L1141.5 300.8 L1142.2 300.2 L1143 299.7 L1143.7 299.3 L1144.5 298 L1145.2 296.8 L1146 295.4 L1146.7 294.4 L1147.5 293.6 L1148.2 292.9 L1149 292.5 L1149.7 292 L1150.5 291 L1151.2 290.1 L1152 289 L1152.7 287.2 L1153.4 285.9 L1154.2 285 L1154.9 284.8 L1155.7 284.4 L1156.4 283.4 L1157.2 282.8 L1157.9 281.6 L1158.7 280 L1159.4 278.8 L1160.2 278.2 L1160.9 277.1 L1161.7 276.9 L1162.4 275.6 L1163.2 274.3 L1163.9 273.3 L1164.7 271.9 L1165.4 270.9 L1166.2 269.6 L1166.9 269 L1167.7 267.6 L1168.4 266.2 L1169.2 264.7 L1169.9 264 L1170.7 262.6 L1171.4 261.7 L1172.2 260.9 L1172.9 260.3 L1173.7 258.7 L1174.4 256.8 L1175.2 255.4 L1175.9 254.2 L1176.7 253.2 L1177.4 252.1 L1178.1 251.6 L1178.9 250.9 L1179.6 250.2 L1180.4 248.5 L1181.1 248 L1181.9 246.9 L1182.6 245.6 L1183.4 243.9 L1184.1 242.1 L1184.9 240.3 L1185.6 239 L1186.4 237.5 L1187.1 237.2 L1187.9 236.2 L1188.6 235.2 L1189.4 234.7 L1190.1 233.9 L1190.9 232 L1191.6 231 L1192.4 229.3 L1193.1 227.9 L1193.9 226.8 L1194.6 225.1 L1195.4 224.1 L1196.1 222.9 L1196.9 221.3 L1197.6 219.2 L1198.4 218.3 L1199.1 216.6 L1199.9 215.3 L1200.6 213.5 L1201.4 212.6 L1202.1 210.8 L1202.8 209.7 L1203.6 208.2 L1204.3 207.2 L1205.1 205.6 L1205.8 205.1 L1206.6 203.3 L1207.3 202.1 L1208.1 200.3 L1208.8 198.8 L1209.6 196.1 L1210.3 195.3 L1211.1 192.9 L1211.8 191.9 L1212.6 190 L1213.3 189 L1214.1 187.3 L1214.8 186.4 L1215.6 184.9 L1216.3 183.9 L1217.1 182.4 L1217.8 181 L1218.6 180.3 L1219.3 178.9 L1220.1 177.5 L1220.8 176.3 L1221.6 174.7 L1222.3 173.2 L1223.1 171.9 L1223.8 170.4 L1224.6 169.1 L1225.3 167.3 L1226.1 165.5 L1226.8 163.8 L1227.6 162.4 L1228.3 160.8 L1229 159.9 L1229.8 158.7 L1230.5 157.3 L1231.3 155.1 L1232 153.6 L1232.8 151.6 L1233.5 149.7 L1234.3 148 L1235 147.4 L1235.8 145.2 L1236.5 144.4 L1237.3 143.3 L1238 141.7 L1238.8 139.6 L1239.5 138.2 L1240.3 136.7 L1241 134.7 L1241.8 133.1 L1242.5 131.7 L1243.3 130.5 L1244 129.1 L1244.8 128.3 L1245.5 126.4 L1246.3 124.6 L1247 123.5 L1247.8 121.1 L1248.5 118.6 L1249.3 117 L1250 115.9 L1250.8 113.6 L1251.5 111.8 L1252.3 111.5 L1253 110 L1253.7 107.7 L1254.5 106.1 L1255.2 104 L1256 100.7 L1256.7 98.6 L1257.5 96.6 L1258.2 94.7 L1259 93.1 L1259.7 91.4 L1260.5 89.9 L1261.2 88.7 L1262 86.6 L1262.7 85" fill="none" stroke="#2c6aa8" stroke-width="2.0" stroke-linejoin="round" stroke-linecap="round" />
<path d="M993.3 70.9 L994 72.7 L994.8 74.4 L995.5 75.7 L996.3 77.8 L997 79.5 L997.8 81.7 L998.5 83.2 L999.3 84.7 L1000 86.1 L1000.8 88.2 L1001.5 89.3 L1002.3 90.3 L1003 92.9 L1003.7 95.1 L1004.5 96.6 L1005.2 99 L1006 101.5 L1006.7 102.4 L1007.5 103.1 L1008.2 104.8 L1009 106.3 L1009.7 107.4 L1010.5 109 L1011.2 110.9 L1012 112.2 L1012.7 114.5 L1013.5 117.2 L1014.2 117.9 L1015 119.9 L1015.7 122.1 L1016.5 123.6 L1017.2 125.1 L1018 127.2 L1018.7 128.9 L1019.5 130.3 L1020.2 131.9 L1021 133.5 L1021.7 135.3 L1022.5 137.2 L1023.2 138.4 L1024 139.9 L1024.7 141.6 L1025.5 143.5 L1026.2 143.7 L1027 145.4 L1027.7 146.4 L1028.4 147.8 L1029.2 149.5 L1029.9 152.3 L1030.7 154.3 L1031.4 156.6 L1032.2 157.9 L1032.9 159.4 L1033.7 160.7 L1034.4 162.5 L1035.2 163.9 L1035.9 165.8 L1036.7 167.2 L1037.4 169 L1038.2 170.1 L1038.9 171.3 L1039.7 173.6 L1040.4 175.5 L1041.2 176.3 L1041.9 178.3 L1042.7 179.9 L1043.4 181.4 L1044.2 182.9 L1044.9 184.3 L1045.7 186.3 L1046.4 188.3 L1047.2 189.4 L1047.9 190.9 L1048.7 192.1 L1049.4 192.5 L1050.2 193.1 L1050.9 194.7 L1051.7 196.5 L1052.4 198.2 L1053.2 199.5 L1053.9 201.4 L1054.6 202.4 L1055.4 203.4 L1056.1 205 L1056.9 206.5 L1057.6 207.8 L1058.4 208.8 L1059.1 210 L1059.9 210.4 L1060.6 211.5 L1061.4 212.4 L1062.1 214.1 L1062.9 215 L1063.6 216.9 L1064.4 217.4 L1065.1 218.5 L1065.9 219.3 L1066.6 220.6 L1067.4 221.8 L1068.1 223.3 L1068.9 224.5 L1069.6 225.7 L1070.4 226.6 L1071.1 227.9 L1071.9 229.4 L1072.6 230.7 L1073.4 231.7 L1074.1 232.6 L1074.9 233.8 L1075.6 234.4 L1076.4 235.5 L1077.1 236.2 L1077.9 238 L1078.6 238.9 L1079.3 240.2 L1080.1 241.4 L1080.8 243.5 L1081.6 244.4 L1082.3 245.6 L1083.1 247 L1083.8 247.8 L1084.6 248.2 L1085.3 249.7 L1086.1 250.6 L1086.8 252.1 L1087.6 253.9 L1088.3 255.5 L1089.1 256 L1089.8 257.1 L1090.6 258.3 L1091.3 259 L1092.1 260.1 L1092.8 261.6 L1093.6 262.5 L1094.3 262.7 L1095.1 263.5 L1095.8 264.5 L1096.6 264.8 L1097.3 265.8 L1098.1 267 L1098.8 267.8 L1099.6 268.4 L1100.3 269.9 L1101.1 270.8 L1101.8 271.6 L1102.6 273.1 L1103.3 274.4 L1104 275.9 L1104.8 277.1 L1105.5 277.7 L1106.3 278.5 L1107 279.6 L1107.8 280.2 L1108.5 280.7 L1109.3 282.2 L1110 283.4 L1110.8 284.3 L1111.5 285.4 L1112.3 286.6 L1113 287.8 L1113.8 288.4 L1114.5 289.8 L1115.3 290.2 L1116 291.8 L1116.8 292.7 L1117.5 293.8 L1118.3 294.1 L1119 295.1 L1119.8 295.3 L1120.5 296.5 L1121.3 297.3 L1122 299 L1122.8 300.7 L1123.5 302.5 L1124.3 303.8 L1125 305.4 L1125.8 307 L1126.5 308.9 L1127.3 313.8 L1128 327.4 L1128.7 313.8 L1129.5 308.8 L1130.2 306.8 L1131 304.9 L1131.7 303.8 L1132.5 302.8 L1133.2 301.1 L1134 299.9 L1134.7 298.7 L1135.5 297 L1136.2 296.1 L1137 294.9 L1137.7 293.8 L1138.5 292.7 L1139.2 291.8 L1140 290.7 L1140.7 290.1 L1141.5 289.1 L1142.2 288.1 L1143 287.2 L1143.7 286.4 L1144.5 285.4 L1145.2 285.5 L1146 284.8 L1146.7 283.5 L1147.5 282.2 L1148.2 281.3 L1149 279.2 L1149.7 278.1 L1150.5 276.7 L1151.2 275.8 L1152 274.7 L1152.7 274.4 L1153.4 273.7 L1154.2 273.6 L1154.9 272.5 L1155.7 271.8 L1156.4 271.1 L1157.2 269.5 L1157.9 267.8 L1158.7 267.4 L1159.4 266.1 L1160.2 265 L1160.9 264.7 L1161.7 263.7 L1162.4 262.3 L1163.2 261.5 L1163.9 260.1 L1164.7 258.4 L1165.4 257.6 L1166.2 257 L1166.9 255.5 L1167.7 254.6 L1168.4 254.2 L1169.2 253.2 L1169.9 251.5 L1170.7 250.4 L1171.4 249.3 L1172.2 247.8 L1172.9 246.9 L1173.7 246.8 L1174.4 245.8 L1175.2 244.6 L1175.9 243.6 L1176.7 241.8 L1177.4 240.5 L1178.1 239 L1178.9 237.5 L1179.6 236.9 L1180.4 236.3 L1181.1 234.5 L1181.9 233.5 L1182.6 232.7 L1183.4 231.3 L1184.1 229.2 L1184.9 227.9 L1185.6 226.2 L1186.4 225 L1187.1 223.4 L1187.9 223 L1188.6 222.8 L1189.4 222.2 L1190.1 220.7 L1190.9 219.8 L1191.6 218.6 L1192.4 216.2 L1193.1 215.3 L1193.9 214.4 L1194.6 213.5 L1195.4 212.6 L1196.1 212 L1196.9 210.9 L1197.6 209.7 L1198.4 207.9 L1199.1 206.3 L1199.9 204.9 L1200.6 203.5 L1201.4 202.6 L1202.1 201.2 L1202.8 199.9 L1203.6 198.3 L1204.3 196.8 L1205.1 195.2 L1205.8 194.8 L1206.6 192.9 L1207.3 191.7 L1208.1 190.7 L1208.8 188.7 L1209.6 186.9 L1210.3 186.1 L1211.1 185 L1211.8 183.2 L1212.6 181.2 L1213.3 179.1 L1214.1 177.4 L1214.8 175.3 L1215.6 173.4 L1216.3 173 L1217.1 171.4 L1217.8 169.8 L1218.6 168.6 L1219.3 166.5 L1220.1 164.6 L1220.8 163.3 L1221.6 161.4 L1222.3 160.2 L1223.1 159 L1223.8 157.6 L1224.6 155.8 L1225.3 154.1 L1226.1 151.9 L1226.8 150.9 L1227.6 149 L1228.3 147.9 L1229 146.6 L1229.8 145.3 L1230.5 143.4 L1231.3 141.9 L1232 140.3 L1232.8 138.9 L1233.5 137 L1234.3 135.1 L1235 133.5 L1235.8 131.5 L1236.5 130.1 L1237.3 128.4 L1238 127.2 L1238.8 125.3 L1239.5 123.9 L1240.3 121.4 L1241 119.5 L1241.8 118 L1242.5 116.6 L1243.3 114.1 L1244 112.8 L1244.8 111.3 L1245.5 109 L1246.3 106.8 L1247 105.3 L1247.8 104.3 L1248.5 102.6 L1249.3 101.4 L1250 100.4 L1250.8 98.9 L1251.5 96.7 L1252.3 95.2 L1253 93 L1253.7 91.1 L1254.5 89.7 L1255.2 88 L1256 86.2 L1256.7 84.7 L1257.5 82.9 L1258.2 80.9 L1259 79.4 L1259.7 78 L1260.5 76.4 L1261.2 74.6 L1262 73.3 L1262.7 71.3" fill="none" stroke="#b489da" stroke-width="2.0" stroke-linejoin="round" stroke-linecap="round" />
<rect x="963.7" y="43.5" width="329.8" height="301.7" fill="none" stroke="#000" stroke-width="2.3"/>
<line x1="978.3" y1="345.2" x2="978.3" y2="339.7" stroke="#000" stroke-width="2" />
<line x1="1008.2" y1="345.2" x2="1008.2" y2="339.7" stroke="#000" stroke-width="2" />
<line x1="1038.2" y1="345.2" x2="1038.2" y2="339.7" stroke="#000" stroke-width="2" />
<line x1="1068.1" y1="345.2" x2="1068.1" y2="339.7" stroke="#000" stroke-width="2" />
<line x1="1098.1" y1="345.2" x2="1098.1" y2="339.7" stroke="#000" stroke-width="2" />
<line x1="1128" y1="345.2" x2="1128" y2="339.7" stroke="#000" stroke-width="2" />
<line x1="1157.9" y1="345.2" x2="1157.9" y2="339.7" stroke="#000" stroke-width="2" />
<line x1="1187.9" y1="345.2" x2="1187.9" y2="339.7" stroke="#000" stroke-width="2" />
<line x1="1217.8" y1="345.2" x2="1217.8" y2="339.7" stroke="#000" stroke-width="2" />
<line x1="1247.8" y1="345.2" x2="1247.8" y2="339.7" stroke="#000" stroke-width="2" />
<line x1="1277.7" y1="345.2" x2="1277.7" y2="339.7" stroke="#000" stroke-width="2" />
<line x1="993.3" y1="345.2" x2="993.3" y2="342.2" stroke="#000" stroke-width="2" />
<line x1="1023.2" y1="345.2" x2="1023.2" y2="342.2" stroke="#000" stroke-width="2" />
<line x1="1053.2" y1="345.2" x2="1053.2" y2="342.2" stroke="#000" stroke-width="2" />
<line x1="1083.1" y1="345.2" x2="1083.1" y2="342.2" stroke="#000" stroke-width="2" />
<line x1="1113" y1="345.2" x2="1113" y2="342.2" stroke="#000" stroke-width="2" />
<line x1="1143" y1="345.2" x2="1143" y2="342.2" stroke="#000" stroke-width="2" />
<line x1="1172.9" y1="345.2" x2="1172.9" y2="342.2" stroke="#000" stroke-width="2" />
<line x1="1202.8" y1="345.2" x2="1202.8" y2="342.2" stroke="#000" stroke-width="2" />
<line x1="1232.8" y1="345.2" x2="1232.8" y2="342.2" stroke="#000" stroke-width="2" />
<line x1="1262.7" y1="345.2" x2="1262.7" y2="342.2" stroke="#000" stroke-width="2" />
<line x1="963.7" y1="327.5" x2="969.2" y2="327.5" stroke="#000" stroke-width="2" />
<line x1="963.7" y1="240.2" x2="969.2" y2="240.2" stroke="#000" stroke-width="2" />
<line x1="963.7" y1="152.9" x2="969.2" y2="152.9" stroke="#000" stroke-width="2" />
<line x1="963.7" y1="65.6" x2="969.2" y2="65.6" stroke="#000" stroke-width="2" />
<line x1="963.7" y1="283.9" x2="966.7" y2="283.9" stroke="#000" stroke-width="2" />
<line x1="963.7" y1="196.6" x2="966.7" y2="196.6" stroke="#000" stroke-width="2" />
<line x1="963.7" y1="109.2" x2="966.7" y2="109.2" stroke="#000" stroke-width="2" />
<text x="978.3" y="366" font-size="17" text-anchor="middle" >-10</text>
<text x="1008.2" y="366" font-size="17" text-anchor="middle" >-8</text>
<text x="1038.2" y="366" font-size="17" text-anchor="middle" >-6</text>
<text x="1068.1" y="366" font-size="17" text-anchor="middle" >-4</text>
<text x="1098.1" y="366" font-size="17" text-anchor="middle" >-2</text>
<text x="1128" y="366" font-size="17" text-anchor="middle" >0</text>
<text x="1157.9" y="366" font-size="17" text-anchor="middle" >2</text>
<text x="1187.9" y="366" font-size="17" text-anchor="middle" >4</text>
<text x="1217.8" y="366" font-size="17" text-anchor="middle" >6</text>
<text x="1247.8" y="366" font-size="17" text-anchor="middle" >8</text>
<text x="1277.7" y="366" font-size="17" text-anchor="middle" >10</text>
<text x="956" y="333.5" font-size="17" text-anchor="end" >0</text>
<text x="956" y="246.2" font-size="17" text-anchor="end" >1</text>
<text x="956" y="158.9" font-size="17" text-anchor="end" >2</text>
<text x="956" y="71.6" font-size="17" text-anchor="end" >3</text>
<text x="1130" y="386.5" font-size="20.5" text-anchor="middle"><tspan font-style="italic">B</tspan> (T)</text>
<text transform="translate(939.5 194) rotate(-90)" font-size="20.8" text-anchor="middle"><tspan font-style="italic">MR</tspan> (%)</text>
<text x="976.8" y="334.7" font-size="19.5" text-anchor="start" >23 nm</text>
<line x1="1132.2" y1="59.9" x2="1166.5" y2="59.9" stroke="#d07a3c" stroke-width="2.2" />
<text x="1170.3" y="64.4" font-size="17.5" text-anchor="start" >100 K</text>
<line x1="1132.2" y1="81.5" x2="1166.5" y2="81.5" stroke="#5b2d62" stroke-width="2.2" />
<text x="1170.3" y="86" font-size="17.5" text-anchor="start" >70 K</text>
<line x1="1132.2" y1="103" x2="1166.5" y2="103" stroke="#7a9a5a" stroke-width="2.2" />
<text x="1170.3" y="107.5" font-size="17.5" text-anchor="start" >50 K</text>
<line x1="1132.2" y1="124.6" x2="1166.5" y2="124.6" stroke="#e0b060" stroke-width="2.2" />
<text x="1170.3" y="129.1" font-size="17.5" text-anchor="start" >30 K</text>
<line x1="1132.2" y1="146.2" x2="1166.5" y2="146.2" stroke="#a84a44" stroke-width="2.2" />
<text x="1170.3" y="150.7" font-size="17.5" text-anchor="start" >20 K</text>
<line x1="1132.2" y1="167.8" x2="1166.5" y2="167.8" stroke="#3b64a0" stroke-width="2.2" />
<text x="1170.3" y="172.2" font-size="17.5" text-anchor="start" >10 K</text>
<line x1="1132.2" y1="189.3" x2="1166.5" y2="189.3" stroke="#a08ac8" stroke-width="2.2" />
<text x="1170.3" y="193.8" font-size="17.5" text-anchor="start" >2K</text>
<text x="922" y="58" font-size="28">c</text>
</g>
<g id="pd">
<path d="M170.6 586.1 L171.4 586.2 L172.2 586.1 L173 586.4 L173.8 586.9 L174.6 586.9 L175.3 586.9 L176.1 587.1 L176.9 587.8 L177.7 588.2 L178.5 588.6 L179.3 588.5 L180.1 588.9 L180.9 589.3 L181.7 589.5 L182.5 589.7 L183.3 590.2 L184 590.4 L184.8 590.8 L185.6 591.1 L186.4 591.6 L187.2 592 L188 592.2 L188.8 592.4 L189.6 592.5 L190.4 593 L191.2 593.3 L192 593.4 L192.7 593.9 L193.5 593.8 L194.3 593.9 L195.1 593.7 L195.9 594.1 L196.7 594.5 L197.5 594.7 L198.3 594.8 L199.1 594.6 L199.9 594.7 L200.7 595.1 L201.4 595.4 L202.2 595.9 L203 596 L203.8 596.8 L204.6 596.5 L205.4 596.7 L206.2 597.1 L207 597.5 L207.8 598.1 L208.6 598.7 L209.3 598.8 L210.1 599 L210.9 599.3 L211.7 599.5 L212.5 598.9 L213.3 599.2 L214.1 599.6 L214.9 599.5 L215.7 599.9 L216.5 600.2 L217.3 600.5 L218 600.6 L218.8 600.7 L219.6 601.1 L220.4 601.6 L221.2 602.2 L222 603.1 L222.8 603.2 L223.6 604 L224.4 604.4 L225.2 604.7 L226 605.1 L226.7 605.8 L227.5 606.2 L228.3 606.3 L229.1 606.4 L229.9 606.7 L230.7 607.1 L231.5 607.3 L232.3 607 L233.1 607.6 L233.9 608.1 L234.7 608.1 L235.4 608.5 L236.2 608.6 L237 609.1 L237.8 609.6 L238.6 610.3 L239.4 610.2 L240.2 611.1 L241 612 L241.8 612.1 L242.6 612 L243.4 612.4 L244.1 612.6 L244.9 613.1 L245.7 613.7 L246.5 613.8 L247.3 614.1 L248.1 614.7 L248.9 614.8 L249.7 615.5 L250.5 615.5 L251.3 616.1 L252.1 616.2 L252.8 616.6 L253.6 617.5 L254.4 617.4 L255.2 617.9 L256 618.4 L256.8 618.6 L257.6 619.2 L258.4 618.9 L259.2 619.8 L260 620.1 L260.8 620.5 L261.5 621.1 L262.3 621.2 L263.1 621.9 L263.9 622.3 L264.7 622.6 L265.5 623.1 L266.3 623.4 L267.1 624 L267.9 624 L268.7 625 L269.5 625.8 L270.2 626.1 L271 626.3 L271.8 626.9 L272.6 627.6 L273.4 627.9 L274.2 628.9 L275 629.7 L275.8 630.6 L276.6 631.8 L277.4 632.4 L278.1 633.3 L278.9 634.4 L279.7 635.8 L280.5 637.1 L281.3 638 L282.1 639.3 L282.9 639.9 L283.7 640.8 L284.5 641.8 L285.3 642.8 L286.1 644 L286.8 645 L287.6 646 L288.4 647.2 L289.2 648.2 L290 649.7 L290.8 651.4 L291.6 653.1 L292.4 655.2 L293.2 657.2 L294 659.6 L294.8 661.8 L295.5 664.1 L296.3 666.5 L297.1 668.5 L297.9 670.9 L298.7 673.1 L299.5 675.6 L300.3 678.1 L301.1 680.3 L301.9 682.7 L302.7 683.4 L303.5 681.2 L304.2 678.7 L305 676.2 L305.8 673.9 L306.6 671.6 L307.4 669.4 L308.2 666.9 L309 664.7 L309.8 662.5 L310.6 659.9 L311.4 657.5 L312.2 655.5 L312.9 653.2 L313.7 651.4 L314.5 650 L315.3 648.5 L316.1 647.3 L316.9 646.2 L317.7 644.9 L318.5 644.3 L319.3 643.7 L320.1 642.7 L320.9 641.7 L321.6 641 L322.4 640 L323.2 638.6 L324 637.5 L324.8 636.4 L325.6 635.4 L326.4 634.7 L327.2 633.1 L328 632.3 L328.8 631.4 L329.6 630.4 L330.3 629.7 L331.1 629.1 L331.9 628.6 L332.7 628.3 L333.5 627.8 L334.3 627 L335.1 626.5 L335.9 626.1 L336.7 625.4 L337.5 625.1 L338.2 624.2 L339 623.1 L339.8 622.7 L340.6 622.3 L341.4 621.2 L342.2 620.6 L343 620.7 L343.8 620.1 L344.6 619.4 L345.4 618.9 L346.2 618.2 L346.9 617.8 L347.7 617.6 L348.5 616.8 L349.3 616.3 L350.1 616.5 L350.9 616 L351.7 615.5 L352.5 615.5 L353.3 614.9 L354.1 614.8 L354.9 614.6 L355.6 614.5 L356.4 614.4 L357.2 614.2 L358 613.9 L358.8 613.1 L359.6 612.9 L360.4 612.2 L361.2 612.1 L362 612.2 L362.8 611.6 L363.6 611.6 L364.3 611.6 L365.1 611.1 L365.9 610.7 L366.7 610.2 L367.5 610.1 L368.3 609.7 L369.1 609.4 L369.9 608.8 L370.7 608.4 L371.5 608.3 L372.3 607.9 L373 607.5 L373.8 607.4 L374.6 607.3 L375.4 607.3 L376.2 606.7 L377 606.6 L377.8 606.6 L378.6 606.1 L379.4 605.6 L380.2 605.4 L381 604.7 L381.7 604.4 L382.5 603.7 L383.3 603.4 L384.1 603.1 L384.9 603.2 L385.7 603.1 L386.5 602.7 L387.3 602.7 L388.1 602.5 L388.9 602.4 L389.7 602.1 L390.4 602 L391.2 601.8 L392 601.4 L392.8 600.8 L393.6 600.3 L394.4 599.8 L395.2 599.5 L396 599.1 L396.8 598.5 L397.6 598.1 L398.4 597.8 L399.1 597.3 L399.9 597.1 L400.7 596.5 L401.5 596.3 L402.3 595.8 L403.1 595.6 L403.9 595.3 L404.7 594.8 L405.5 594.9 L406.3 594.6 L407 594.1 L407.8 594.1 L408.6 593.5 L409.4 593.8 L410.2 593.6 L411 593.7 L411.8 593.6 L412.6 593.1 L413.4 592.7 L414.2 592.5 L415 592.2 L415.7 592.3 L416.5 591.5 L417.3 591.3 L418.1 590.6 L418.9 590.4 L419.7 589.6 L420.5 589.2 L421.3 589.1 L422.1 589.1 L422.9 589 L423.7 588.8 L424.4 588.4 L425.2 588.6 L426 588.5 L426.8 588.4 L427.6 588 L428.4 587.9 L429.2 587.7 L430 587.5 L430.8 587.4 L431.6 586.8 L432.4 586.3 L433.1 586.1 L433.9 585.8" fill="none" stroke="#a78ad0" stroke-width="2.4" stroke-linejoin="round" stroke-linecap="round" />
<path d="M170.6 583.5 L171.4 583.6 L172.2 583.5 L173 582.8 L173.8 582.8 L174.6 582.6 L175.3 582.8 L176.1 583 L176.9 583.6 L177.7 583.6 L178.5 583.8 L179.3 584 L180.1 584.4 L180.9 584.8 L181.7 585.6 L182.5 585.9 L183.3 586.8 L184 587 L184.8 587.2 L185.6 587 L186.4 587.4 L187.2 588.2 L188 588.2 L188.8 588.6 L189.6 589.3 L190.4 589.2 L191.2 589.8 L192 590.1 L192.7 590.3 L193.5 590.6 L194.3 591.3 L195.1 591.6 L195.9 591.8 L196.7 592.3 L197.5 592.1 L198.3 592.1 L199.1 592.2 L199.9 592.4 L200.7 592.5 L201.4 592.8 L202.2 593 L203 593.2 L203.8 593.4 L204.6 593.5 L205.4 593.5 L206.2 593.9 L207 594.1 L207.8 594.4 L208.6 595.1 L209.3 595.5 L210.1 595.8 L210.9 596.4 L211.7 596.2 L212.5 596.8 L213.3 597 L214.1 597.4 L214.9 597.7 L215.7 598.2 L216.5 598.8 L217.3 598.5 L218 598.3 L218.8 598.7 L219.6 598.7 L220.4 599.5 L221.2 599.6 L222 599.7 L222.8 599.8 L223.6 600.1 L224.4 600.3 L225.2 600.4 L226 600.8 L226.7 601.2 L227.5 601.3 L228.3 601.9 L229.1 602.2 L229.9 602.4 L230.7 602.8 L231.5 603.3 L232.3 603.4 L233.1 603.8 L233.9 604.5 L234.7 604.9 L235.4 605 L236.2 605.6 L237 605.7 L237.8 605.7 L238.6 606.2 L239.4 606.1 L240.2 606.2 L241 606.5 L241.8 607.1 L242.6 607.1 L243.4 607.3 L244.1 607.8 L244.9 608.2 L245.7 608.9 L246.5 609.2 L247.3 609.5 L248.1 610.6 L248.9 611.4 L249.7 611.9 L250.5 612.1 L251.3 612.4 L252.1 613 L252.8 613.5 L253.6 613.6 L254.4 613.7 L255.2 614.3 L256 614.5 L256.8 614.4 L257.6 614.5 L258.4 615.2 L259.2 615.8 L260 616 L260.8 616.5 L261.5 616.9 L262.3 617.4 L263.1 617.8 L263.9 618.3 L264.7 619.1 L265.5 619.3 L266.3 620.2 L267.1 620.4 L267.9 620.4 L268.7 621.1 L269.5 621.7 L270.2 622.2 L271 622.9 L271.8 623.5 L272.6 624.1 L273.4 624.8 L274.2 625.6 L275 626.4 L275.8 627.4 L276.6 628.4 L277.4 629.3 L278.1 630.1 L278.9 631.1 L279.7 632 L280.5 633.1 L281.3 633.9 L282.1 634.4 L282.9 635.8 L283.7 636.7 L284.5 637.7 L285.3 639 L286.1 640 L286.8 641.7 L287.6 643 L288.4 644.3 L289.2 645.5 L290 647.5 L290.8 649.7 L291.6 651.7 L292.4 653.9 L293.2 655.8 L294 657.7 L294.8 660.3 L295.5 662 L296.3 664.2 L297.1 666.6 L297.9 669.3 L298.7 671.8 L299.5 674.1 L300.3 676.4 L301.1 678.7 L301.9 681.9 L302.7 683 L303.5 679.6 L304.2 677.1 L305 674.3 L305.8 671.5 L306.6 668.8 L307.4 666.1 L308.2 663.9 L309 661.8 L309.8 659.9 L310.6 657.7 L311.4 655.1 L312.2 653.3 L312.9 651.3 L313.7 649.7 L314.5 648.4 L315.3 646.7 L316.1 645.1 L316.9 643.7 L317.7 642.8 L318.5 641.6 L319.3 640.1 L320.1 639.1 L320.9 637.9 L321.6 636.6 L322.4 635.3 L323.2 634.1 L324 632.8 L324.8 632 L325.6 631.2 L326.4 629.7 L327.2 628.4 L328 627.4 L328.8 626.6 L329.6 626.1 L330.3 625.7 L331.1 624.7 L331.9 624.1 L332.7 623.7 L333.5 622.9 L334.3 622 L335.1 621.4 L335.9 621.2 L336.7 621.3 L337.5 621.1 L338.2 620.2 L339 619.4 L339.8 619 L340.6 618.3 L341.4 617.9 L342.2 617.6 L343 617.4 L343.8 617.2 L344.6 616.5 L345.4 615.8 L346.2 615.3 L346.9 614.8 L347.7 614 L348.5 613.6 L349.3 613.3 L350.1 613 L350.9 613.1 L351.7 612.7 L352.5 612.1 L353.3 611.9 L354.1 611.6 L354.9 611.3 L355.6 611.1 L356.4 611.2 L357.2 611.5 L358 611.2 L358.8 611 L359.6 610.2 L360.4 609.4 L361.2 609.3 L362 608.9 L362.8 608.5 L363.6 608 L364.3 607.9 L365.1 607.7 L365.9 606.7 L366.7 605.9 L367.5 605.6 L368.3 605.6 L369.1 605.7 L369.9 605.4 L370.7 604.9 L371.5 604.5 L372.3 604.4 L373 604 L373.8 603.4 L374.6 603.4 L375.4 603.4 L376.2 603.1 L377 602.4 L377.8 601.7 L378.6 601.4 L379.4 601.3 L380.2 601 L381 600.8 L381.7 600.3 L382.5 600 L383.3 599.7 L384.1 599 L384.9 598.3 L385.7 598 L386.5 598.2 L387.3 597.7 L388.1 597.4 L388.9 596.8 L389.7 596.5 L390.4 596 L391.2 595.6 L392 595.2 L392.8 595.4 L393.6 595.6 L394.4 595.2 L395.2 594.5 L396 594.3 L396.8 593.8 L397.6 593.8 L398.4 593.3 L399.1 593.6 L399.9 593.2 L400.7 593.2 L401.5 592.2 L402.3 592.3 L403.1 592 L403.9 591.9 L404.7 591.6 L405.5 591.6 L406.3 591.5 L407 591.1 L407.8 590.5 L408.6 590.4 L409.4 589.9 L410.2 589.8 L411 589.1 L411.8 588.7 L412.6 588.5 L413.4 588.4 L414.2 587.9 L415 587.9 L415.7 587.7 L416.5 587.6 L417.3 587.1 L418.1 587 L418.9 587 L419.7 587.3 L420.5 587.2 L421.3 586.9 L422.1 586.7 L422.9 586.7 L423.7 586.2 L424.4 586 L425.2 585.9 L426 586.1 L426.8 585.7 L427.6 585.4 L428.4 584.6 L429.2 584.5 L430 584.2 L430.8 583.7 L431.6 583.6 L432.4 583.8 L433.1 583.6 L433.9 583.2" fill="none" stroke="#2d64ad" stroke-width="2.4" stroke-linejoin="round" stroke-linecap="round" />
<path d="M170.6 573.6 L171.4 573.6 L172.2 574.1 L173 574.2 L173.8 574.4 L174.6 574.5 L175.3 574.5 L176.1 574.8 L176.9 575 L177.7 575.1 L178.5 575.2 L179.3 575.1 L180.1 575 L180.9 574.9 L181.7 575.3 L182.5 575.5 L183.3 575.9 L184 576.2 L184.8 576.2 L185.6 576.4 L186.4 576.5 L187.2 576.8 L188 576.9 L188.8 577.3 L189.6 577.6 L190.4 577.6 L191.2 577.7 L192 577.9 L192.7 578.4 L193.5 579 L194.3 579.4 L195.1 579.5 L195.9 579.8 L196.7 580.3 L197.5 580.7 L198.3 581.1 L199.1 581.2 L199.9 581.4 L200.7 581.6 L201.4 581.9 L202.2 582 L203 582.4 L203.8 582.8 L204.6 582.7 L205.4 583 L206.2 583.2 L207 583.5 L207.8 583.7 L208.6 584.2 L209.3 584.5 L210.1 584.2 L210.9 584.4 L211.7 584.2 L212.5 584.2 L213.3 584.9 L214.1 585.7 L214.9 586 L215.7 586.3 L216.5 587.2 L217.3 587.5 L218 587.8 L218.8 588 L219.6 588.6 L220.4 588.8 L221.2 588.9 L222 588.8 L222.8 588.7 L223.6 588.7 L224.4 589.1 L225.2 589.1 L226 589.4 L226.7 590 L227.5 590.6 L228.3 590.8 L229.1 592 L229.9 592.7 L230.7 593.2 L231.5 593.6 L232.3 594 L233.1 594.1 L233.9 594.2 L234.7 594.4 L235.4 594.7 L236.2 595.4 L237 595.8 L237.8 595.7 L238.6 596 L239.4 596.6 L240.2 597.1 L241 597.2 L241.8 597.5 L242.6 597.9 L243.4 598.3 L244.1 598.3 L244.9 598.4 L245.7 598.5 L246.5 598.9 L247.3 599.6 L248.1 599.7 L248.9 599.7 L249.7 600.1 L250.5 600.4 L251.3 601.2 L252.1 601.8 L252.8 602.4 L253.6 603.1 L254.4 603.6 L255.2 604 L256 604.3 L256.8 604.6 L257.6 605.1 L258.4 605.7 L259.2 606.3 L260 606.8 L260.8 606.9 L261.5 607.5 L262.3 607.8 L263.1 608.2 L263.9 608.6 L264.7 609.2 L265.5 610 L266.3 611 L267.1 611.7 L267.9 612.5 L268.7 612.9 L269.5 613.8 L270.2 614.3 L271 615 L271.8 615.6 L272.6 616.3 L273.4 616.7 L274.2 617 L275 617.2 L275.8 617.9 L276.6 618.3 L277.4 619.4 L278.1 620.4 L278.9 621.5 L279.7 622.5 L280.5 623.3 L281.3 624.5 L282.1 625.3 L282.9 626.3 L283.7 627.4 L284.5 628.4 L285.3 629.7 L286.1 630.3 L286.8 631.5 L287.6 632.3 L288.4 633.4 L289.2 634.4 L290 635.7 L290.8 637 L291.6 638.5 L292.4 640 L293.2 641.7 L294 643.2 L294.8 645 L295.5 646 L296.3 648 L297.1 649.3 L297.9 651.2 L298.7 652.5 L299.5 654.4 L300.3 655.8 L301.1 657.4 L301.9 659.1 L302.7 659.4 L303.5 657.7 L304.2 656 L305 654.2 L305.8 652.6 L306.6 651.3 L307.4 649.9 L308.2 648.3 L309 647.2 L309.8 645.9 L310.6 644.6 L311.4 643.4 L312.2 642 L312.9 640.4 L313.7 639 L314.5 637.7 L315.3 636.2 L316.1 635.2 L316.9 634 L317.7 633 L318.5 632.1 L319.3 630.9 L320.1 629.5 L320.9 628.6 L321.6 627.8 L322.4 626.9 L323.2 626.1 L324 624.9 L324.8 623.8 L325.6 622.7 L326.4 621.5 L327.2 620.3 L328 619.1 L328.8 618.3 L329.6 617.1 L330.3 616.4 L331.1 615.6 L331.9 614.7 L332.7 614.2 L333.5 613.3 L334.3 613.1 L335.1 612.4 L335.9 611.6 L336.7 611.4 L337.5 610.8 L338.2 610.2 L339 609.8 L339.8 609.2 L340.6 608.2 L341.4 607.7 L342.2 607.7 L343 607.6 L343.8 607.3 L344.6 607.1 L345.4 606.6 L346.2 606.4 L346.9 605.8 L347.7 605.4 L348.5 605 L349.3 605 L350.1 604.4 L350.9 603.5 L351.7 602.6 L352.5 602.2 L353.3 601.8 L354.1 601.2 L354.9 600.9 L355.6 601 L356.4 600.2 L357.2 599.7 L358 599.5 L358.8 599.3 L359.6 599.3 L360.4 598.9 L361.2 598.7 L362 598.4 L362.8 597.9 L363.6 597.6 L364.3 597.1 L365.1 596.8 L365.9 596.5 L366.7 595.7 L367.5 595.2 L368.3 594.9 L369.1 594.6 L369.9 594.2 L370.7 593.7 L371.5 593.7 L372.3 593 L373 592.6 L373.8 592.5 L374.6 592.5 L375.4 592.5 L376.2 592.7 L377 592 L377.8 591.7 L378.6 591.1 L379.4 590.8 L380.2 590.5 L381 590.2 L381.7 589.9 L382.5 589.4 L383.3 588.8 L384.1 588.3 L384.9 587.7 L385.7 587.6 L386.5 587.5 L387.3 587.6 L388.1 587.5 L388.9 587 L389.7 587 L390.4 586.7 L391.2 586.4 L392 586.1 L392.8 585.9 L393.6 585.3 L394.4 585.3 L395.2 584.9 L396 584.6 L396.8 583.9 L397.6 583.7 L398.4 583.3 L399.1 582.9 L399.9 582.9 L400.7 582.7 L401.5 582.6 L402.3 582.4 L403.1 581.8 L403.9 581.5 L404.7 580.9 L405.5 580.5 L406.3 580.2 L407 579.8 L407.8 580.2 L408.6 579.7 L409.4 579.7 L410.2 579.6 L411 579.7 L411.8 579.4 L412.6 579.3 L413.4 578.9 L414.2 579.4 L415 579.1 L415.7 578.8 L416.5 578.2 L417.3 577.6 L418.1 576.9 L418.9 576.3 L419.7 575.7 L420.5 575.5 L421.3 575.5 L422.1 575.6 L422.9 575 L423.7 575 L424.4 574.8 L425.2 574.6 L426 575 L426.8 575 L427.6 574.9 L428.4 575 L429.2 574.7 L430 574.4 L430.8 573.9 L431.6 573.6 L432.4 573.3 L433.1 573.3 L433.9 572.8" fill="none" stroke="#71a04f" stroke-width="2.4" stroke-linejoin="round" stroke-linecap="round" />
<path d="M170.6 556.5 L171.4 556.6 L172.2 556.9 L173 557.1 L173.8 556.9 L174.6 557.1 L175.3 556.7 L176.1 556.8 L176.9 556.9 L177.7 556.9 L178.5 556.8 L179.3 557.6 L180.1 558.5 L180.9 559.3 L181.7 559.5 L182.5 559.7 L183.3 559.9 L184 560.8 L184.8 561 L185.6 561.3 L186.4 562.1 L187.2 562.3 L188 562 L188.8 562.4 L189.6 562.6 L190.4 562.9 L191.2 563.1 L192 563.2 L192.7 563.6 L193.5 563.6 L194.3 564 L195.1 563.9 L195.9 564.4 L196.7 564.4 L197.5 564.5 L198.3 564.9 L199.1 565.2 L199.9 565.7 L200.7 566 L201.4 566.1 L202.2 567 L203 567.1 L203.8 566.9 L204.6 567.2 L205.4 567.9 L206.2 567.7 L207 567.9 L207.8 568.4 L208.6 568.5 L209.3 569.3 L210.1 569.4 L210.9 569.4 L211.7 569.7 L212.5 570.4 L213.3 570.3 L214.1 570.6 L214.9 571.1 L215.7 571.4 L216.5 571.2 L217.3 571.4 L218 571.5 L218.8 571.7 L219.6 572 L220.4 572.3 L221.2 572.5 L222 573.1 L222.8 573 L223.6 573.4 L224.4 574 L225.2 574.5 L226 574.8 L226.7 574.6 L227.5 574.7 L228.3 574.9 L229.1 575 L229.9 575.4 L230.7 575.7 L231.5 576.4 L232.3 576.5 L233.1 576.3 L233.9 576.7 L234.7 576.9 L235.4 577.4 L236.2 577.9 L237 578.2 L237.8 578.9 L238.6 579 L239.4 579 L240.2 578.9 L241 578.9 L241.8 579 L242.6 579.2 L243.4 579.7 L244.1 579.9 L244.9 580.2 L245.7 580.3 L246.5 580.6 L247.3 581 L248.1 581.8 L248.9 582.5 L249.7 583.3 L250.5 583.4 L251.3 583.7 L252.1 583.9 L252.8 584.3 L253.6 584.7 L254.4 585.6 L255.2 585.8 L256 586.5 L256.8 586.7 L257.6 586.7 L258.4 586.9 L259.2 587.8 L260 588.2 L260.8 588.7 L261.5 589.1 L262.3 589.5 L263.1 589.7 L263.9 589.9 L264.7 590 L265.5 590.3 L266.3 590.8 L267.1 591.3 L267.9 591.3 L268.7 591.5 L269.5 591.8 L270.2 592.3 L271 592.6 L271.8 593.4 L272.6 594 L273.4 594.6 L274.2 595 L275 595.8 L275.8 596.6 L276.6 597.7 L277.4 598.8 L278.1 599.6 L278.9 600.8 L279.7 601.7 L280.5 602.4 L281.3 603.2 L282.1 604.2 L282.9 605.3 L283.7 606 L284.5 607.1 L285.3 607.9 L286.1 608.6 L286.8 609.9 L287.6 610.8 L288.4 612.5 L289.2 613.2 L290 614.3 L290.8 615.2 L291.6 616.7 L292.4 618.2 L293.2 619.3 L294 620.7 L294.8 621.9 L295.5 623.1 L296.3 623.7 L297.1 624.2 L297.9 625.4 L298.7 626.3 L299.5 627.6 L300.3 628.2 L301.1 628.8 L301.9 629.6 L302.7 629.8 L303.5 629.3 L304.2 628.4 L305 627.9 L305.8 627 L306.6 625.9 L307.4 624.9 L308.2 623.8 L309 622.7 L309.8 621.9 L310.6 621.1 L311.4 620 L312.2 618.4 L312.9 617.2 L313.7 615.8 L314.5 614.2 L315.3 613.3 L316.1 612.2 L316.9 611.1 L317.7 609.8 L318.5 608.6 L319.3 607.3 L320.1 606.1 L320.9 605.4 L321.6 604.4 L322.4 603.2 L323.2 603 L324 602.1 L324.8 601.2 L325.6 600.3 L326.4 599.7 L327.2 599 L328 597.9 L328.8 597.1 L329.6 596.3 L330.3 596 L331.1 595.7 L331.9 595 L332.7 594.2 L333.5 593.7 L334.3 593.1 L335.1 592.6 L335.9 592.4 L336.7 591.8 L337.5 591.5 L338.2 591.1 L339 590.7 L339.8 590.2 L340.6 589.8 L341.4 589.6 L342.2 589.3 L343 589.1 L343.8 588.6 L344.6 587.8 L345.4 587.7 L346.2 587.4 L346.9 586.8 L347.7 586.4 L348.5 585.7 L349.3 585.3 L350.1 584.7 L350.9 584.6 L351.7 584.5 L352.5 584.3 L353.3 584.3 L354.1 584.1 L354.9 583.8 L355.6 583.6 L356.4 582.6 L357.2 582.5 L358 582.2 L358.8 581.6 L359.6 581.3 L360.4 580.8 L361.2 580.5 L362 580 L362.8 579.7 L363.6 579 L364.3 578.6 L365.1 578.5 L365.9 578.3 L366.7 577.8 L367.5 577.9 L368.3 577.2 L369.1 576.8 L369.9 576.3 L370.7 576.1 L371.5 575.8 L372.3 575.9 L373 575.5 L373.8 575.5 L374.6 574.9 L375.4 574.7 L376.2 574.6 L377 574.1 L377.8 574.1 L378.6 573.5 L379.4 573.2 L380.2 573 L381 572.2 L381.7 572.4 L382.5 572.3 L383.3 572.1 L384.1 572 L384.9 571.9 L385.7 571.9 L386.5 571.4 L387.3 571.7 L388.1 572 L388.9 571.9 L389.7 572.3 L390.4 571.5 L391.2 570.9 L392 570.9 L392.8 570.5 L393.6 570.2 L394.4 570.5 L395.2 570.2 L396 569.8 L396.8 569.1 L397.6 568.6 L398.4 567.8 L399.1 567.7 L399.9 567.7 L400.7 567.7 L401.5 567.7 L402.3 567.6 L403.1 567 L403.9 566.8 L404.7 566.9 L405.5 566.6 L406.3 566.6 L407 566.6 L407.8 566.5 L408.6 566.3 L409.4 565.8 L410.2 565.3 L411 565 L411.8 564.4 L412.6 564.3 L413.4 563.5 L414.2 563.1 L415 562.8 L415.7 562.6 L416.5 561.9 L417.3 561.8 L418.1 561.4 L418.9 560.9 L419.7 560.3 L420.5 560.2 L421.3 559.9 L422.1 559.4 L422.9 558.8 L423.7 558.6 L424.4 558 L425.2 557.7 L426 557 L426.8 556.7 L427.6 556.9 L428.4 556.5 L429.2 556 L430 555.6 L430.8 555.7 L431.6 555.8 L432.4 555.4 L433.1 555.4 L433.9 555.4" fill="none" stroke="#e3ba5c" stroke-width="2.4" stroke-linejoin="round" stroke-linecap="round" />
<path d="M170.6 513.4 L171.4 513.7 L172.2 513.5 L173 513.5 L173.8 513.6 L174.6 513.2 L175.3 513.3 L176.1 512.6 L176.9 512.5 L177.7 512.4 L178.5 512.1 L179.3 512.4 L180.1 512.7 L180.9 512.8 L181.7 512.5 L182.5 512.3 L183.3 512.4 L184 512.2 L184.8 512.5 L185.6 512.7 L186.4 512.9 L187.2 513.3 L188 513.2 L188.8 513 L189.6 513.3 L190.4 514 L191.2 514.6 L192 515.2 L192.7 515.8 L193.5 516.1 L194.3 516.2 L195.1 516.9 L195.9 517.2 L196.7 517.9 L197.5 518.3 L198.3 518.5 L199.1 519 L199.9 519.4 L200.7 519.8 L201.4 520.2 L202.2 520.4 L203 521.1 L203.8 521.1 L204.6 521.4 L205.4 521.5 L206.2 521.9 L207 522.1 L207.8 521.9 L208.6 522.1 L209.3 522.3 L210.1 522.7 L210.9 523.4 L211.7 523.6 L212.5 523.8 L213.3 524.1 L214.1 524.5 L214.9 524.9 L215.7 525.1 L216.5 525.6 L217.3 525.9 L218 525.8 L218.8 525.6 L219.6 525.5 L220.4 525.5 L221.2 525.7 L222 525.9 L222.8 525.9 L223.6 525.7 L224.4 525.6 L225.2 526.1 L226 526.3 L226.7 526.9 L227.5 527 L228.3 527.5 L229.1 527.6 L229.9 527.8 L230.7 527.9 L231.5 528.1 L232.3 528.8 L233.1 529.4 L233.9 529.2 L234.7 529.3 L235.4 529.5 L236.2 529.8 L237 530.1 L237.8 530.5 L238.6 531.2 L239.4 531.9 L240.2 532.2 L241 532.6 L241.8 532.9 L242.6 533.1 L243.4 533 L244.1 533.5 L244.9 534 L245.7 534 L246.5 534.2 L247.3 534.5 L248.1 534.7 L248.9 535.3 L249.7 535.2 L250.5 535.5 L251.3 535.6 L252.1 536.2 L252.8 536.5 L253.6 536.8 L254.4 537.7 L255.2 538.3 L256 538.6 L256.8 538.9 L257.6 539.2 L258.4 539.6 L259.2 540 L260 540.5 L260.8 541 L261.5 541.6 L262.3 542 L263.1 542.4 L263.9 542.7 L264.7 543.3 L265.5 543.8 L266.3 544.1 L267.1 544.5 L267.9 545.1 L268.7 546 L269.5 546.5 L270.2 546.8 L271 546.9 L271.8 547 L272.6 547.7 L273.4 548.3 L274.2 548.9 L275 549.4 L275.8 550.4 L276.6 550.9 L277.4 551.5 L278.1 552.4 L278.9 552.9 L279.7 554 L280.5 554.8 L281.3 555.4 L282.1 555.8 L282.9 556.6 L283.7 557.5 L284.5 557.9 L285.3 558.6 L286.1 559.3 L286.8 559.5 L287.6 560.2 L288.4 560.5 L289.2 560.9 L290 561.8 L290.8 562.7 L291.6 563.1 L292.4 563.9 L293.2 564.7 L294 565.4 L294.8 565.8 L295.5 566.8 L296.3 567.3 L297.1 568.7 L297.9 569.5 L298.7 569.9 L299.5 569.9 L300.3 571.2 L301.1 571.7 L301.9 572.4 L302.7 572.6 L303.5 572.1 L304.2 571.1 L305 570.7 L305.8 569.8 L306.6 569 L307.4 568.2 L308.2 568 L309 566.8 L309.8 565.8 L310.6 565.2 L311.4 565 L312.2 564.5 L312.9 563.9 L313.7 563.6 L314.5 562.6 L315.3 562.1 L316.1 561.6 L316.9 561 L317.7 560.7 L318.5 560.3 L319.3 559.2 L320.1 557.9 L320.9 556.9 L321.6 556.5 L322.4 555.5 L323.2 555 L324 554.5 L324.8 553.9 L325.6 552.6 L326.4 552 L327.2 551.6 L328 551.4 L328.8 551 L329.6 550.4 L330.3 549.7 L331.1 549.5 L331.9 549.1 L332.7 548.7 L333.5 548.2 L334.3 548.2 L335.1 547.4 L335.9 546.3 L336.7 545.5 L337.5 545.3 L338.2 545 L339 544.2 L339.8 543.3 L340.6 542.7 L341.4 542.3 L342.2 541.6 L343 541 L343.8 540.7 L344.6 540.6 L345.4 540.3 L346.2 539.6 L346.9 538.9 L347.7 538.9 L348.5 538.4 L349.3 538 L350.1 537.4 L350.9 536.8 L351.7 536.8 L352.5 536.4 L353.3 536.1 L354.1 536 L354.9 535.9 L355.6 535.4 L356.4 535 L357.2 534.6 L358 534.2 L358.8 534.1 L359.6 533.9 L360.4 533.3 L361.2 533.1 L362 532.9 L362.8 532.3 L363.6 532.1 L364.3 532 L365.1 531.7 L365.9 531.5 L366.7 531.1 L367.5 530.4 L368.3 530.7 L369.1 530.1 L369.9 530 L370.7 529.4 L371.5 528.9 L372.3 528.5 L373 528.3 L373.8 528.4 L374.6 528.4 L375.4 528.3 L376.2 528.4 L377 527.7 L377.8 527.6 L378.6 527.3 L379.4 527.3 L380.2 527.3 L381 527.1 L381.7 526.6 L382.5 526.3 L383.3 525.7 L384.1 525.5 L384.9 525.2 L385.7 525.1 L386.5 525.5 L387.3 525 L388.1 524.7 L388.9 524.7 L389.7 524.4 L390.4 524.4 L391.2 524.1 L392 524.2 L392.8 524 L393.6 524 L394.4 523.6 L395.2 523.2 L396 523.7 L396.8 523.5 L397.6 523 L398.4 522.9 L399.1 522.3 L399.9 522.3 L400.7 522 L401.5 521.5 L402.3 521.2 L403.1 521.2 L403.9 520.8 L404.7 519.8 L405.5 519.2 L406.3 518.7 L407 518.3 L407.8 518 L408.6 517.2 L409.4 517 L410.2 516.7 L411 516.3 L411.8 515.9 L412.6 514.9 L413.4 514.2 L414.2 513.9 L415 514.1 L415.7 513.6 L416.5 513.1 L417.3 512.9 L418.1 512.5 L418.9 512.6 L419.7 512.1 L420.5 511.8 L421.3 511.9 L422.1 512.3 L422.9 512.1 L423.7 511.8 L424.4 511.8 L425.2 512.3 L426 512.1 L426.8 511.7 L427.6 511.3 L428.4 511.6 L429.2 511.8 L430 512.2 L430.8 512 L431.6 512 L432.4 511.9 L433.1 512.3 L433.9 512" fill="none" stroke="#50285f" stroke-width="2.4" stroke-linejoin="round" stroke-linecap="round" />
<path d="M170.6 419.3 L171.4 419.1 L172.2 419.6 L173 419.7 L173.8 419.8 L174.6 419.4 L175.3 419.4 L176.1 419.6 L176.9 419.9 L177.7 420.1 L178.5 420.6 L179.3 421.3 L180.1 422 L180.9 421.6 L181.7 421.6 L182.5 421.8 L183.3 422.7 L184 423 L184.8 423.1 L185.6 423.4 L186.4 423.6 L187.2 423.7 L188 423.9 L188.8 423.9 L189.6 424.1 L190.4 424.4 L191.2 424.5 L192 424 L192.7 424.2 L193.5 424.3 L194.3 424.4 L195.1 424.5 L195.9 424.8 L196.7 424.7 L197.5 424.7 L198.3 425.3 L199.1 425.7 L199.9 425.8 L200.7 425.9 L201.4 425.9 L202.2 426.4 L203 426.5 L203.8 426.6 L204.6 426.9 L205.4 427.3 L206.2 427.7 L207 427.7 L207.8 427.8 L208.6 428.1 L209.3 428.2 L210.1 428.4 L210.9 428.2 L211.7 428.5 L212.5 428.9 L213.3 428.9 L214.1 429.2 L214.9 429.7 L215.7 430.4 L216.5 430.4 L217.3 430.9 L218 431.5 L218.8 431.5 L219.6 432.2 L220.4 432.3 L221.2 432.4 L222 432.8 L222.8 432.9 L223.6 432.9 L224.4 433 L225.2 433.6 L226 433 L226.7 433.2 L227.5 433.5 L228.3 433.3 L229.1 433.5 L229.9 433.9 L230.7 434 L231.5 434.3 L232.3 434.7 L233.1 434.8 L233.9 434.9 L234.7 435.9 L235.4 436.3 L236.2 436.9 L237 437.6 L237.8 438.3 L238.6 438.6 L239.4 438.8 L240.2 439.1 L241 439 L241.8 439.7 L242.6 440.1 L243.4 439.8 L244.1 440.1 L244.9 440.2 L245.7 440.1 L246.5 440.2 L247.3 440.6 L248.1 441.1 L248.9 441.4 L249.7 441.9 L250.5 441.9 L251.3 441.7 L252.1 442.2 L252.8 442.2 L253.6 442.9 L254.4 443.4 L255.2 443.6 L256 443.7 L256.8 443.6 L257.6 444 L258.4 444.4 L259.2 444.7 L260 445.6 L260.8 446.3 L261.5 447 L262.3 447 L263.1 447.5 L263.9 448 L264.7 448.5 L265.5 449.3 L266.3 449.5 L267.1 450 L267.9 450.3 L268.7 450.5 L269.5 450.6 L270.2 450.9 L271 451.3 L271.8 451.4 L272.6 451.5 L273.4 451.6 L274.2 451.6 L275 452.5 L275.8 452.6 L276.6 453.1 L277.4 453.5 L278.1 454.1 L278.9 454.7 L279.7 455.1 L280.5 455.7 L281.3 456.3 L282.1 457 L282.9 457.4 L283.7 457.4 L284.5 457.6 L285.3 457.7 L286.1 457.9 L286.8 457.9 L287.6 458.1 L288.4 458.7 L289.2 458.9 L290 459.6 L290.8 460.2 L291.6 460.6 L292.4 460.9 L293.2 461.6 L294 462.1 L294.8 462.9 L295.5 463.4 L296.3 463.6 L297.1 463.4 L297.9 463.5 L298.7 463.3 L299.5 463.2 L300.3 463.4 L301.1 463.6 L301.9 463.6 L302.7 463.4 L303.5 463.2 L304.2 463.1 L305 463 L305.8 462.8 L306.6 462.7 L307.4 462.6 L308.2 462.6 L309 462.4 L309.8 462 L310.6 461.8 L311.4 462.2 L312.2 461.2 L312.9 460.7 L313.7 459.8 L314.5 459.6 L315.3 459.1 L316.1 458.6 L316.9 458.3 L317.7 457.8 L318.5 457.1 L319.3 456.7 L320.1 455.7 L320.9 455.4 L321.6 455.3 L322.4 455.3 L323.2 454.8 L324 454.1 L324.8 454.2 L325.6 453.7 L326.4 453.5 L327.2 453.6 L328 453 L328.8 452.6 L329.6 452.8 L330.3 452.2 L331.1 452.2 L331.9 451.9 L332.7 452.1 L333.5 451.8 L334.3 451.4 L335.1 450.9 L335.9 450.5 L336.7 450.4 L337.5 450.2 L338.2 449.7 L339 449.2 L339.8 448.5 L340.6 448.2 L341.4 447.6 L342.2 446.9 L343 446.5 L343.8 446.3 L344.6 445.9 L345.4 445.7 L346.2 445.4 L346.9 445.3 L347.7 445.1 L348.5 444.8 L349.3 444.6 L350.1 444.3 L350.9 444.1 L351.7 443.8 L352.5 443.3 L353.3 442.9 L354.1 442.6 L354.9 442 L355.6 440.9 L356.4 440.8 L357.2 440.5 L358 440 L358.8 439.5 L359.6 438.8 L360.4 438.3 L361.2 437.8 L362 437.3 L362.8 436.9 L363.6 436.8 L364.3 437 L365.1 436.7 L365.9 436.5 L366.7 436.4 L367.5 436.3 L368.3 436.2 L369.1 436 L369.9 436.1 L370.7 435.9 L371.5 435.9 L372.3 435.5 L373 435 L373.8 434.3 L374.6 434 L375.4 433.4 L376.2 433.2 L377 433.3 L377.8 433.2 L378.6 432.6 L379.4 432.8 L380.2 432.5 L381 432.1 L381.7 432.4 L382.5 432.3 L383.3 432.2 L384.1 432 L384.9 431.5 L385.7 431.4 L386.5 431.1 L387.3 430.9 L388.1 430.5 L388.9 430.2 L389.7 429.9 L390.4 429.6 L391.2 429.5 L392 429.3 L392.8 429.1 L393.6 429.1 L394.4 428.7 L395.2 428.3 L396 428.1 L396.8 427.8 L397.6 427.4 L398.4 427.6 L399.1 427.2 L399.9 426.8 L400.7 426.3 L401.5 426.1 L402.3 425.9 L403.1 425.6 L403.9 425.7 L404.7 425.5 L405.5 425.2 L406.3 425.4 L407 425.4 L407.8 425.4 L408.6 425.4 L409.4 425.2 L410.2 425.1 L411 424.6 L411.8 424.8 L412.6 424.6 L413.4 424.3 L414.2 424.1 L415 423.8 L415.7 423.3 L416.5 422.8 L417.3 422.6 L418.1 422.1 L418.9 421.8 L419.7 422.2 L420.5 421.8 L421.3 421.4 L422.1 421.5 L422.9 421.4 L423.7 420.9 L424.4 420.7 L425.2 420.6 L426 420.8 L426.8 421.3 L427.6 421.3 L428.4 421 L429.2 420.7 L430 420.6 L430.8 420 L431.6 419.9 L432.4 420.1 L433.1 419.9 L433.9 419.8" fill="none" stroke="#d4782f" stroke-width="2.4" stroke-linejoin="round" stroke-linecap="round" />
<rect x="138.8" y="413.1" width="329.1" height="301.4" fill="none" stroke="#000" stroke-width="2.3"/>
<line x1="170.6" y1="714.5" x2="170.6" y2="709" stroke="#000" stroke-width="2" />
<line x1="236.5" y1="714.5" x2="236.5" y2="709" stroke="#000" stroke-width="2" />
<line x1="302.4" y1="714.5" x2="302.4" y2="709" stroke="#000" stroke-width="2" />
<line x1="368.3" y1="714.5" x2="368.3" y2="709" stroke="#000" stroke-width="2" />
<line x1="434.2" y1="714.5" x2="434.2" y2="709" stroke="#000" stroke-width="2" />
<line x1="203.5" y1="714.5" x2="203.5" y2="711.5" stroke="#000" stroke-width="2" />
<line x1="269.4" y1="714.5" x2="269.4" y2="711.5" stroke="#000" stroke-width="2" />
<line x1="335.3" y1="714.5" x2="335.3" y2="711.5" stroke="#000" stroke-width="2" />
<line x1="401.2" y1="714.5" x2="401.2" y2="711.5" stroke="#000" stroke-width="2" />
<line x1="138.8" y1="698.9" x2="144.3" y2="698.9" stroke="#000" stroke-width="2" />
<line x1="138.8" y1="614.4" x2="144.3" y2="614.4" stroke="#000" stroke-width="2" />
<line x1="138.8" y1="529.9" x2="144.3" y2="529.9" stroke="#000" stroke-width="2" />
<line x1="138.8" y1="445.4" x2="144.3" y2="445.4" stroke="#000" stroke-width="2" />
<line x1="138.8" y1="656.6" x2="141.8" y2="656.6" stroke="#000" stroke-width="2" />
<line x1="138.8" y1="572.1" x2="141.8" y2="572.1" stroke="#000" stroke-width="2" />
<line x1="138.8" y1="487.6" x2="141.8" y2="487.6" stroke="#000" stroke-width="2" />
<text x="170.6" y="734.5" font-size="17" text-anchor="middle" >-1.0</text>
<text x="236.5" y="734.5" font-size="17" text-anchor="middle" >-0.5</text>
<text x="302.4" y="734.5" font-size="17" text-anchor="middle" >0.0</text>
<text x="368.3" y="734.5" font-size="17" text-anchor="middle" >0.5</text>
<text x="434.2" y="734.5" font-size="17" text-anchor="middle" >1.0</text>
<text x="130.6" y="704.9" font-size="17" text-anchor="end" >123.0</text>
<text x="130.6" y="620.4" font-size="17" text-anchor="end" >123.5</text>
<text x="130.6" y="535.9" font-size="17" text-anchor="end" >124.0</text>
<text x="130.6" y="451.4" font-size="17" text-anchor="end" >124.5</text>
<text x="304.9" y="755.7" font-size="20.6" text-anchor="middle"><tspan font-style="italic">B</tspan> (T)</text>
<text transform="translate(74.2 563.3) rotate(-90)" font-size="20.6" text-anchor="middle"><tspan font-style="italic">R</tspan><tspan font-size="14" dy="5">xx</tspan><tspan dy="-5"> (Ω)</tspan></text>
<line x1="156.5" y1="645.6" x2="196.4" y2="645.6" stroke="#a88ac8" stroke-width="2.4" />
<text x="201.4" y="651.1" font-size="17" text-anchor="start" >2 K</text>
<line x1="156.5" y1="667.3" x2="196.4" y2="667.3" stroke="#3060a8" stroke-width="2.4" />
<text x="201.4" y="672.8" font-size="17" text-anchor="start" >5 K</text>
<line x1="156.5" y1="688.8" x2="196.4" y2="688.8" stroke="#739a56" stroke-width="2.4" />
<text x="201.4" y="694.3" font-size="17" text-anchor="start" >8 K</text>
<line x1="369.3" y1="647.3" x2="409.7" y2="647.3" stroke="#d8b860" stroke-width="2.4" />
<text x="414.8" y="653.5" font-size="17.5" text-anchor="start" >10 K</text>
<line x1="369.3" y1="669.6" x2="409.7" y2="669.6" stroke="#4a2e5e" stroke-width="2.4" />
<text x="414.8" y="675.8" font-size="17.5" text-anchor="start" >15 K</text>
<line x1="369.3" y1="691.1" x2="409.7" y2="691.1" stroke="#d07a3a" stroke-width="2.4" />
<text x="414.8" y="697.3" font-size="17.5" text-anchor="start" >20 K</text>
<text x="63" y="430" font-size="28">d</text>
</g>
<g id="pe">
<path d="M575.4 684.7 L576.3 684.9 L577.2 685.3 L578.1 687.2 L579 687.5 L580 688.3 L580.9 688.3 L581.8 688.2 L582.7 687.1 L583.6 686.7 L584.5 684.8 L585.4 686.2 L586.3 686.9 L587.2 687.9 L588.1 688.9 L589 690.6 L589.9 690.2 L590.8 690.9 L591.7 690.2 L592.6 691 L593.5 691.5 L594.4 691.8 L595.3 690.8 L596.2 691.2 L597.1 691.1 L598 690.6 L598.9 689.8 L599.8 690.4 L600.7 691.4 L601.6 688.8 L602.5 689.7 L603.4 689.8 L604.3 689.8 L605.2 688.2 L606.1 689.6 L607 689.6 L607.9 689.3 L608.8 688.4 L609.7 688.7 L610.6 688.3 L611.5 687.8 L612.4 688.1 L613.3 688.2 L614.2 688.9 L615.1 688.7 L616 687.5 L617 688.9 L617.9 688.9 L618.8 689.4 L619.7 690.1 L620.6 690.9 L621.5 689.9 L622.4 689.9 L623.3 688.6 L624.2 688.6 L625.1 688.6 L626 688.8 L626.9 690.5 L627.8 690.5 L628.7 690.2 L629.6 691 L630.5 691 L631.4 690.7 L632.3 691.1 L633.2 692.1 L634.1 691.8 L635 690.7 L635.9 690.4 L636.8 690 L637.7 690 L638.6 689.9 L639.5 690.8 L640.4 691.8 L641.3 693.7 L642.2 693.7 L643.1 694.2 L644 693.9 L644.9 693.5 L645.8 693 L646.7 692.3 L647.6 691.2 L648.5 691.7 L649.4 690.9 L650.3 691.1 L651.2 691 L652.1 691.5 L653 691.8 L653.9 692 L654.9 692.1 L655.8 693.4 L656.7 693.5 L657.6 691.9 L658.5 692 L659.4 691 L660.3 690.6 L661.2 689.6 L662.1 690.9 L663 691 L663.9 691.1 L664.8 691.2 L665.7 692.9 L666.6 693.1 L667.5 693.8 L668.4 694.8 L669.3 695.2 L670.2 695.4 L671.1 695.3 L672 694.9 L672.9 694.3 L673.8 693.2 L674.7 693.2 L675.6 693.7 L676.5 693.1 L677.4 692.3 L678.3 693.1 L679.2 692.4 L680.1 691 L681 691.1 L681.9 690.9 L682.8 690.8 L683.7 690.9 L684.6 691.9 L685.5 692.7 L686.4 694.2 L687.3 694 L688.2 693 L689.1 692.7 L690 691.4 L690.9 691.3 L691.8 692.3 L692.8 694 L693.7 694.7 L694.6 695.7 L695.5 695.6 L696.4 694.5 L697.3 694.6 L698.2 694 L699.1 693 L700 692.7 L700.9 693.8 L701.8 693.2 L702.7 692.3 L703.6 693.7 L704.5 693.8 L705.4 693.2 L706.3 693 L707.2 694.3 L708.1 694.5 L709 693.9 L709.9 694 L710.8 694.4 L711.7 693.7 L712.6 692.9 L713.5 693.6 L714.4 692.8 L715.3 693.2 L716.2 693.1 L717.1 693.7 L718 693.7 L718.9 694.4 L719.8 693.2 L720.7 693.4 L721.6 691.5 L722.5 691.1 L723.4 690.9 L724.3 691.7 L725.2 692.7 L726.1 694.1 L727 693.9 L727.9 694.6 L728.8 694.2 L729.8 693.6 L730.7 692.8 L731.6 693.6 L732.5 692.6 L733.4 693.7 L734.3 693.2 L735.2 693.5 L736.1 692.9 L737 692.9 L737.9 690.9 L738.8 690.8 L739.7 690.5 L740.6 690.4 L741.5 691.3 L742.4 692.5 L743.3 693.4 L744.2 694.3 L745.1 693.2 L746 692.3 L746.9 691.6 L747.8 690.8 L748.7 690.6 L749.6 691.5 L750.5 691.2 L751.4 692 L752.3 692.3 L753.2 691.8 L754.1 691.4 L755 692.5 L755.9 692 L756.8 693.2 L757.7 694.6 L758.6 695.8 L759.5 695.1 L760.4 694.6 L761.3 694.6 L762.2 693.2 L763.1 693.2 L764 693.5 L764.9 691.9 L765.8 691 L766.7 691.2 L767.7 690.9 L768.6 690.6 L769.5 692.6 L770.4 691.9 L771.3 692.1 L772.2 691.7 L773.1 691.8 L774 692.5 L774.9 693.2 L775.8 692.2 L776.7 692.7 L777.6 691.7 L778.5 690.8 L779.4 691.4 L780.3 691.3 L781.2 691 L782.1 691.2 L783 691.2 L783.9 690.5 L784.8 691.1 L785.7 690.9 L786.6 690.3 L787.5 689.5 L788.4 688.9 L789.3 689.1 L790.2 688 L791.1 689.5 L792 689.5 L792.9 688.6 L793.8 688.9 L794.7 690.1 L795.6 688.9 L796.5 689.3 L797.4 690.5 L798.3 688.8 L799.2 689.2 L800.1 689.1 L801 689.3 L801.9 688.6 L802.8 688.4 L803.7 687.3 L804.6 687.4 L805.6 686.9 L806.5 686.2 L807.4 686.4 L808.3 686.9 L809.2 686.9 L810.1 686.5 L811 687.7 L811.9 687.5 L812.8 688.4 L813.7 688.2 L814.6 688.8 L815.5 688.6 L816.4 690.1 L817.3 688.9 L818.2 689.1 L819.1 689.3 L820 690 L820.9 689.6 L821.8 691.2 L822.7 692.3 L823.6 693.1 L824.5 693.6 L825.4 694.4 L826.3 693.2 L827.2 693.7 L828.1 692.6 L829 691.8 L829.9 691.7 L830.8 692.1 L831.7 690.2 L832.6 689.9 L833.5 688.9 L834.4 688.4 L835.3 687.3 L836.2 687.6 L837.1 687 L838 686.9 L838.9 686.4 L839.8 685.7 L840.7 685.4 L841.6 685.2 L842.6 685 L843.5 683.6 L844.4 684.5 L845.3 683.3 L846.2 682.6" fill="none" stroke="#7ba653" stroke-width="2.1" stroke-linejoin="round" stroke-linecap="round" />
<path d="M575.4 608.1 L576.3 609.1 L577.2 610.7 L578.1 612.5 L579 613.1 L580 614.6 L580.9 616.6 L581.8 617 L582.7 617.7 L583.6 618.5 L584.5 620 L585.4 619.8 L586.3 621.8 L587.2 622.7 L588.1 624.1 L589 624.2 L589.9 625.5 L590.8 625.5 L591.7 626.4 L592.6 626.8 L593.5 628.5 L594.4 629 L595.3 629.9 L596.2 630.5 L597.1 631.3 L598 631.8 L598.9 632.3 L599.8 633.2 L600.7 633.3 L601.6 634.8 L602.5 635.8 L603.4 637.4 L604.3 637.8 L605.2 638.3 L606.1 637.5 L607 637.6 L607.9 637.6 L608.8 638.6 L609.7 640.4 L610.6 642.9 L611.5 643.8 L612.4 646.4 L613.3 648.1 L614.2 649.8 L615.1 650 L616 652.5 L617 652.4 L617.9 654.1 L618.8 655.5 L619.7 657.6 L620.6 658.6 L621.5 660.2 L622.4 660.8 L623.3 661.9 L624.2 662.5 L625.1 663.3 L626 665.1 L626.9 665.8 L627.8 665.4 L628.7 664.8 L629.6 664 L630.5 663.3 L631.4 664.1 L632.3 664.4 L633.2 665.2 L634.1 666.6 L635 667.1 L635.9 667.5 L636.8 668.4 L637.7 669.1 L638.6 670 L639.5 670 L640.4 669.5 L641.3 669.5 L642.2 670.3 L643.1 670.3 L644 671.3 L644.9 672.6 L645.8 674.7 L646.7 675.6 L647.6 675.4 L648.5 675.3 L649.4 675.9 L650.3 675 L651.2 676.3 L652.1 677.6 L653 678.6 L653.9 679.1 L654.9 679.9 L655.8 679.7 L656.7 680.3 L657.6 681.1 L658.5 681.3 L659.4 680.7 L660.3 681.2 L661.2 682.6 L662.1 682.5 L663 683 L663.9 685.1 L664.8 685.1 L665.7 685 L666.6 685.8 L667.5 686.8 L668.4 686.9 L669.3 688.5 L670.2 688.8 L671.1 689.1 L672 688.5 L672.9 688.8 L673.8 687.7 L674.7 688.1 L675.6 688.7 L676.5 690.7 L677.4 690.5 L678.3 691.1 L679.2 691.4 L680.1 690.4 L681 689.7 L681.9 691.1 L682.8 691.3 L683.7 691 L684.6 692.8 L685.5 693 L686.4 692.6 L687.3 693.4 L688.2 693.4 L689.1 694.1 L690 694.2 L690.9 694.4 L691.8 694.2 L692.8 693.7 L693.7 692.4 L694.6 692.6 L695.5 692.9 L696.4 693.9 L697.3 696.5 L698.2 697.8 L699.1 698.2 L700 698.1 L700.9 698.3 L701.8 696.8 L702.7 696.5 L703.6 697.1 L704.5 697.4 L705.4 696.6 L706.3 696.9 L707.2 696.1 L708.1 695.4 L709 695.4 L709.9 695.5 L710.8 695.1 L711.7 695 L712.6 694.9 L713.5 695.2 L714.4 694.8 L715.3 694.6 L716.2 695.9 L717.1 696.6 L718 696.3 L718.9 696.9 L719.8 697.7 L720.7 697.7 L721.6 697.5 L722.5 698.1 L723.4 697.1 L724.3 697.5 L725.2 697.1 L726.1 696.3 L727 695.5 L727.9 696.3 L728.8 694.4 L729.8 694 L730.7 694.4 L731.6 694.1 L732.5 693.3 L733.4 692.9 L734.3 692.4 L735.2 692.7 L736.1 691.5 L737 692.6 L737.9 692.8 L738.8 692.5 L739.7 691 L740.6 691.3 L741.5 689.9 L742.4 689.3 L743.3 690.1 L744.2 690.7 L745.1 690.7 L746 689.8 L746.9 690 L747.8 688.8 L748.7 688.4 L749.6 687.9 L750.5 687.7 L751.4 687.4 L752.3 687 L753.2 686.2 L754.1 686.2 L755 685.9 L755.9 684.8 L756.8 684.9 L757.7 684.8 L758.6 683.4 L759.5 683.6 L760.4 683.5 L761.3 682.8 L762.2 682.1 L763.1 681.5 L764 680.2 L764.9 679.8 L765.8 678.4 L766.7 677.1 L767.7 676.8 L768.6 676.6 L769.5 676.1 L770.4 675.9 L771.3 675.8 L772.2 676.2 L773.1 676 L774 675.7 L774.9 675.1 L775.8 674.4 L776.7 672.7 L777.6 671.5 L778.5 669.9 L779.4 669.6 L780.3 669.1 L781.2 668.8 L782.1 668.4 L783 668.1 L783.9 668 L784.8 668 L785.7 668.4 L786.6 668.4 L787.5 668.6 L788.4 668.3 L789.3 667 L790.2 665.5 L791.1 665.4 L792 665.3 L792.9 664.6 L793.8 665.3 L794.7 665.5 L795.6 664.7 L796.5 664.1 L797.4 662.8 L798.3 661.7 L799.2 661.2 L800.1 660.1 L801 658.5 L801.9 657.5 L802.8 655 L803.7 653.1 L804.6 652.4 L805.6 652 L806.5 651 L807.4 650.3 L808.3 649.7 L809.2 648 L810.1 646 L811 644.1 L811.9 643.3 L812.8 641.9 L813.7 640 L814.6 638.5 L815.5 637.7 L816.4 636.7 L817.3 635.7 L818.2 635.5 L819.1 635.2 L820 634.5 L820.9 633.9 L821.8 633.5 L822.7 632.7 L823.6 632.3 L824.5 631.8 L825.4 630.6 L826.3 629.2 L827.2 628.3 L828.1 626.5 L829 625.7 L829.9 625 L830.8 624.5 L831.7 624.1 L832.6 624 L833.5 623.1 L834.4 622.6 L835.3 621.2 L836.2 620.1 L837.1 619.7 L838 619.1 L838.9 618.6 L839.8 617.8 L840.7 615.7 L841.6 614.2 L842.6 613.8 L843.5 611.5 L844.4 611.2 L845.3 610.5 L846.2 609.6" fill="none" stroke="#b8443c" stroke-width="2.1" stroke-linejoin="round" stroke-linecap="round" />
<path d="M575.4 430.1 L576.3 433 L577.2 436.4 L578.1 439.2 L579 442.2 L580 445.1 L580.9 447.8 L581.8 450.6 L582.7 453.2 L583.6 456.2 L584.5 459.7 L585.4 463 L586.3 465.7 L587.2 468.9 L588.1 471.5 L589 473.7 L589.9 476 L590.8 478.4 L591.7 480.2 L592.6 483.1 L593.5 485.9 L594.4 488.7 L595.3 491.6 L596.2 494.6 L597.1 497.8 L598 500.5 L598.9 503.4 L599.8 506.4 L600.7 509.7 L601.6 511.4 L602.5 514 L603.4 516.9 L604.3 519.4 L605.2 521.8 L606.1 525 L607 527.4 L607.9 529.7 L608.8 532.5 L609.7 534.8 L610.6 537.1 L611.5 540.1 L612.4 542.8 L613.3 545 L614.2 547 L615.1 549.5 L616 551.4 L617 553.9 L617.9 556.4 L618.8 559.3 L619.7 561.5 L620.6 563.8 L621.5 566 L622.4 568 L623.3 569.7 L624.2 571.6 L625.1 573.8 L626 575.3 L626.9 577.5 L627.8 579.9 L628.7 582.3 L629.6 584.1 L630.5 586.6 L631.4 588.8 L632.3 590.7 L633.2 592.7 L634.1 594.8 L635 596.5 L635.9 598.3 L636.8 600.1 L637.7 602.5 L638.6 604.4 L639.5 606.4 L640.4 608 L641.3 610.1 L642.2 611.6 L643.1 613.6 L644 615.3 L644.9 617.4 L645.8 619.1 L646.7 621.1 L647.6 622.9 L648.5 625.4 L649.4 628.2 L650.3 630.1 L651.2 632.1 L652.1 634.4 L653 636 L653.9 637.8 L654.9 640.1 L655.8 642.1 L656.7 644 L657.6 646.4 L658.5 647.4 L659.4 648.8 L660.3 649.7 L661.2 650.5 L662.1 651.8 L663 653.1 L663.9 654 L664.8 655.6 L665.7 657.5 L666.6 657.9 L667.5 659.1 L668.4 660.4 L669.3 660.8 L670.2 661.4 L671.1 662.6 L672 663.5 L672.9 665.1 L673.8 667.1 L674.7 668.5 L675.6 670.5 L676.5 672 L677.4 673.3 L678.3 674.7 L679.2 676.7 L680.1 678.1 L681 679.7 L681.9 680.9 L682.8 681.3 L683.7 682 L684.6 682.3 L685.5 683.5 L686.4 684.3 L687.3 684.9 L688.2 685.6 L689.1 686.3 L690 686.2 L690.9 686.9 L691.8 688 L692.8 688.3 L693.7 688.3 L694.6 689 L695.5 689.6 L696.4 689.7 L697.3 690.5 L698.2 691.3 L699.1 691.2 L700 691.8 L700.9 692.3 L701.8 692.2 L702.7 692.4 L703.6 693.7 L704.5 693.5 L705.4 693.6 L706.3 693.5 L707.2 693.9 L708.1 693.6 L709 693.5 L709.9 694 L710.8 694.1 L711.7 693.9 L712.6 693.9 L713.5 694 L714.4 693.7 L715.3 693.8 L716.2 693.5 L717.1 693.2 L718 693.1 L718.9 692.5 L719.8 691.8 L720.7 691.8 L721.6 691.4 L722.5 691 L723.4 691.2 L724.3 691.2 L725.2 690.5 L726.1 690.2 L727 689.5 L727.9 689.2 L728.8 688.9 L729.8 688.5 L730.7 687.5 L731.6 687.2 L732.5 686.1 L733.4 684.9 L734.3 684.3 L735.2 683.7 L736.1 683 L737 682.2 L737.9 682 L738.8 681.5 L739.7 680 L740.6 678.1 L741.5 676.8 L742.4 675.4 L743.3 673.9 L744.2 673 L745.1 672.3 L746 670.8 L746.9 669.1 L747.8 667.3 L748.7 666 L749.6 664.5 L750.5 663.5 L751.4 662.1 L752.3 661.3 L753.2 660.7 L754.1 659.2 L755 658.4 L755.9 657.3 L756.8 656.4 L757.7 655.1 L758.6 654.1 L759.5 652.8 L760.4 652 L761.3 650.8 L762.2 648.9 L763.1 647.5 L764 646 L764.9 644.4 L765.8 642.5 L766.7 640.9 L767.7 639.4 L768.6 637.5 L769.5 635.2 L770.4 632.6 L771.3 630.6 L772.2 628.5 L773.1 626.5 L774 624.3 L774.9 622.3 L775.8 620.3 L776.7 618.4 L777.6 616.7 L778.5 614.4 L779.4 612.5 L780.3 610.4 L781.2 608.8 L782.1 605.8 L783 604.6 L783.9 602.6 L784.8 600.5 L785.7 598.2 L786.6 597.1 L787.5 594.1 L788.4 592 L789.3 590.3 L790.2 587.9 L791.1 586 L792 584.5 L792.9 582.7 L793.8 580 L794.7 578.2 L795.6 575.7 L796.5 574 L797.4 571.7 L798.3 570.6 L799.2 568 L800.1 566.2 L801 564.2 L801.9 561.9 L802.8 559.1 L803.7 556.8 L804.6 553.5 L805.6 550.8 L806.5 548.6 L807.4 546.5 L808.3 544.7 L809.2 542.2 L810.1 539.5 L811 537.1 L811.9 534.5 L812.8 531.6 L813.7 529.3 L814.6 526.8 L815.5 524.3 L816.4 521.1 L817.3 518.1 L818.2 515.4 L819.1 512.6 L820 510 L820.9 507.5 L821.8 505.3 L822.7 503.2 L823.6 501 L824.5 497.9 L825.4 495.3 L826.3 492.4 L827.2 489.3 L828.1 486.2 L829 483.7 L829.9 481.4 L830.8 478.7 L831.7 476 L832.6 473.7 L833.5 471 L834.4 468.3 L835.3 465.8 L836.2 463.4 L837.1 460.2 L838 457.3 L838.9 454.1 L839.8 451.1 L840.7 448.3 L841.6 445.8 L842.6 442.7 L843.5 439.9 L844.4 437.4 L845.3 434.9 L846.2 431.8" fill="none" stroke="#b48bd6" stroke-width="2.1" stroke-linejoin="round" stroke-linecap="round" />
<path d="M575.4 482.6 L576.3 485.5 L577.2 488.6 L578.1 491 L579 494.1 L580 496.7 L580.9 499.4 L581.8 501.7 L582.7 504.3 L583.6 507.2 L584.5 509.6 L585.4 511.7 L586.3 514.1 L587.2 516.5 L588.1 518.4 L589 520.8 L589.9 523.6 L590.8 525.3 L591.7 527.6 L592.6 529.5 L593.5 531 L594.4 532.6 L595.3 534.9 L596.2 536.7 L597.1 538.4 L598 540.4 L598.9 542.3 L599.8 544.2 L600.7 545.7 L601.6 548.1 L602.5 550.3 L603.4 552.1 L604.3 554.2 L605.2 555.8 L606.1 557.7 L607 559.7 L607.9 561.9 L608.8 564.6 L609.7 567.2 L610.6 569.1 L611.5 571 L612.4 573 L613.3 574.5 L614.2 576.4 L615.1 578.5 L616 579.6 L617 581.4 L617.9 583.2 L618.8 585 L619.7 586.8 L620.6 589.1 L621.5 591 L622.4 592.5 L623.3 593.9 L624.2 595.4 L625.1 597 L626 598.1 L626.9 599.4 L627.8 601 L628.7 602.2 L629.6 603 L630.5 604.7 L631.4 606.4 L632.3 607.3 L633.2 608.8 L634.1 611 L635 613.5 L635.9 615.7 L636.8 618.4 L637.7 621.1 L638.6 623.5 L639.5 624.7 L640.4 626.4 L641.3 628.7 L642.2 630.3 L643.1 632.6 L644 634.6 L644.9 636.2 L645.8 637.4 L646.7 639 L647.6 639.8 L648.5 641.7 L649.4 643.7 L650.3 645 L651.2 645.9 L652.1 647.1 L653 648.1 L653.9 649.3 L654.9 650.8 L655.8 652.5 L656.7 654.6 L657.6 655.6 L658.5 656.2 L659.4 657.7 L660.3 659.3 L661.2 659.9 L662.1 661.3 L663 663.1 L663.9 664.1 L664.8 665.1 L665.7 666.4 L666.6 667.6 L667.5 668.9 L668.4 669.6 L669.3 671 L670.2 671.7 L671.1 672.6 L672 673.1 L672.9 673.9 L673.8 674.6 L674.7 675.3 L675.6 676.3 L676.5 677.3 L677.4 678.4 L678.3 679.2 L679.2 680.2 L680.1 681.4 L681 681.9 L681.9 682.3 L682.8 682.9 L683.7 684.1 L684.6 683.9 L685.5 684.5 L686.4 685.8 L687.3 686.5 L688.2 686.3 L689.1 687.6 L690 688.6 L690.9 688.7 L691.8 688.9 L692.8 689.7 L693.7 689.7 L694.6 690.4 L695.5 690.5 L696.4 690.8 L697.3 691.3 L698.2 691.7 L699.1 691.9 L700 691.8 L700.9 692.4 L701.8 692.8 L702.7 692.9 L703.6 692.7 L704.5 693.3 L705.4 693.9 L706.3 693.4 L707.2 693.5 L708.1 693.4 L709 693.6 L709.9 693.4 L710.8 693.7 L711.7 693.7 L712.6 693.9 L713.5 693.9 L714.4 694 L715.3 693.7 L716.2 694.1 L717.1 693.4 L718 692.8 L718.9 692.2 L719.8 692 L720.7 691.6 L721.6 692 L722.5 692.5 L723.4 692.7 L724.3 692.9 L725.2 693.2 L726.1 692.5 L727 691.8 L727.9 691.1 L728.8 690.8 L729.8 689.5 L730.7 689 L731.6 688.1 L732.5 687.6 L733.4 686.3 L734.3 685.9 L735.2 685.5 L736.1 685 L737 684.5 L737.9 684.1 L738.8 683.6 L739.7 682.6 L740.6 681.6 L741.5 680.6 L742.4 679.7 L743.3 678.7 L744.2 678 L745.1 677.2 L746 676.5 L746.9 676.1 L747.8 674.9 L748.7 674.5 L749.6 674.5 L750.5 673.5 L751.4 672.4 L752.3 671.6 L753.2 669.8 L754.1 668.2 L755 666.8 L755.9 665.5 L756.8 664.5 L757.7 664.3 L758.6 663.1 L759.5 662.3 L760.4 661.3 L761.3 659.8 L762.2 657.7 L763.1 656.5 L764 655 L764.9 653.7 L765.8 652.8 L766.7 651.6 L767.7 649.9 L768.6 648.4 L769.5 646.9 L770.4 645.1 L771.3 644.1 L772.2 642.9 L773.1 641.9 L774 640.4 L774.9 639.1 L775.8 637.1 L776.7 635.5 L777.6 634 L778.5 632.4 L779.4 630.8 L780.3 629.6 L781.2 627.2 L782.1 624.9 L783 623.3 L783.9 621.3 L784.8 618.8 L785.7 616.8 L786.6 615.1 L787.5 612.5 L788.4 609.9 L789.3 608 L790.2 606.9 L791.1 605.3 L792 604.1 L792.9 602.8 L793.8 601.3 L794.7 599.9 L795.6 598.7 L796.5 596.9 L797.4 595.8 L798.3 594.4 L799.2 592.2 L800.1 590.3 L801 588.5 L801.9 586.5 L802.8 584.9 L803.7 583.8 L804.6 582.4 L805.6 580.6 L806.5 578.7 L807.4 576.2 L808.3 574.4 L809.2 572.1 L810.1 570.5 L811 568.4 L811.9 566.8 L812.8 564.2 L813.7 562.6 L814.6 560.3 L815.5 558.2 L816.4 556.4 L817.3 554.8 L818.2 552.7 L819.1 550.5 L820 549.1 L820.9 547.5 L821.8 545.5 L822.7 543.7 L823.6 541.5 L824.5 539.4 L825.4 537.1 L826.3 535.3 L827.2 533.1 L828.1 531.7 L829 529.6 L829.9 527.6 L830.8 525 L831.7 523.4 L832.6 521.2 L833.5 518.9 L834.4 516.5 L835.3 514 L836.2 511.2 L837.1 508.6 L838 506.3 L838.9 503.8 L839.8 501.7 L840.7 499.3 L841.6 496.7 L842.6 493.8 L843.5 491.2 L844.4 488.3 L845.3 485.4 L846.2 482.7" fill="none" stroke="#2d68ad" stroke-width="2.1" stroke-linejoin="round" stroke-linecap="round" />
<rect x="546" y="410.6" width="329" height="301.9" fill="none" stroke="#000" stroke-width="2.3"/>
<line x1="560.4" y1="712.5" x2="560.4" y2="707" stroke="#000" stroke-width="2" />
<line x1="590.5" y1="712.5" x2="590.5" y2="707" stroke="#000" stroke-width="2" />
<line x1="620.6" y1="712.5" x2="620.6" y2="707" stroke="#000" stroke-width="2" />
<line x1="650.6" y1="712.5" x2="650.6" y2="707" stroke="#000" stroke-width="2" />
<line x1="680.7" y1="712.5" x2="680.7" y2="707" stroke="#000" stroke-width="2" />
<line x1="710.8" y1="712.5" x2="710.8" y2="707" stroke="#000" stroke-width="2" />
<line x1="740.9" y1="712.5" x2="740.9" y2="707" stroke="#000" stroke-width="2" />
<line x1="771" y1="712.5" x2="771" y2="707" stroke="#000" stroke-width="2" />
<line x1="801" y1="712.5" x2="801" y2="707" stroke="#000" stroke-width="2" />
<line x1="831.1" y1="712.5" x2="831.1" y2="707" stroke="#000" stroke-width="2" />
<line x1="861.2" y1="712.5" x2="861.2" y2="707" stroke="#000" stroke-width="2" />
<line x1="575.4" y1="712.5" x2="575.4" y2="709.5" stroke="#000" stroke-width="2" />
<line x1="605.5" y1="712.5" x2="605.5" y2="709.5" stroke="#000" stroke-width="2" />
<line x1="635.6" y1="712.5" x2="635.6" y2="709.5" stroke="#000" stroke-width="2" />
<line x1="665.7" y1="712.5" x2="665.7" y2="709.5" stroke="#000" stroke-width="2" />
<line x1="695.8" y1="712.5" x2="695.8" y2="709.5" stroke="#000" stroke-width="2" />
<line x1="725.8" y1="712.5" x2="725.8" y2="709.5" stroke="#000" stroke-width="2" />
<line x1="755.9" y1="712.5" x2="755.9" y2="709.5" stroke="#000" stroke-width="2" />
<line x1="786" y1="712.5" x2="786" y2="709.5" stroke="#000" stroke-width="2" />
<line x1="816.1" y1="712.5" x2="816.1" y2="709.5" stroke="#000" stroke-width="2" />
<line x1="846.2" y1="712.5" x2="846.2" y2="709.5" stroke="#000" stroke-width="2" />
<line x1="546" y1="695.8" x2="551.5" y2="695.8" stroke="#000" stroke-width="2" />
<line x1="546" y1="611.8" x2="551.5" y2="611.8" stroke="#000" stroke-width="2" />
<line x1="546" y1="527.8" x2="551.5" y2="527.8" stroke="#000" stroke-width="2" />
<line x1="546" y1="443.8" x2="551.5" y2="443.8" stroke="#000" stroke-width="2" />
<line x1="546" y1="653.8" x2="549" y2="653.8" stroke="#000" stroke-width="2" />
<line x1="546" y1="569.8" x2="549" y2="569.8" stroke="#000" stroke-width="2" />
<line x1="546" y1="485.8" x2="549" y2="485.8" stroke="#000" stroke-width="2" />
<text x="560.4" y="731.8" font-size="17" text-anchor="middle" >-10</text>
<text x="590.5" y="731.8" font-size="17" text-anchor="middle" >-8</text>
<text x="620.6" y="731.8" font-size="17" text-anchor="middle" >-6</text>
<text x="650.6" y="731.8" font-size="17" text-anchor="middle" >-4</text>
<text x="680.7" y="731.8" font-size="17" text-anchor="middle" >-2</text>
<text x="710.8" y="731.8" font-size="17" text-anchor="middle" >0</text>
<text x="740.9" y="731.8" font-size="17" text-anchor="middle" >2</text>
<text x="771" y="731.8" font-size="17" text-anchor="middle" >4</text>
<text x="801" y="731.8" font-size="17" text-anchor="middle" >6</text>
<text x="831.1" y="731.8" font-size="17" text-anchor="middle" >8</text>
<text x="861.2" y="731.8" font-size="17" text-anchor="middle" >10</text>
<text x="538.4" y="701.8" font-size="17" text-anchor="end" >0.0</text>
<text x="538.4" y="617.8" font-size="17" text-anchor="end" >0.5</text>
<text x="538.4" y="533.8" font-size="17" text-anchor="end" >1.0</text>
<text x="538.4" y="449.8" font-size="17" text-anchor="end" >1.5</text>
<text x="712.3" y="753.7" font-size="21" text-anchor="middle"><tspan font-style="italic">B</tspan> (T)</text>
<text transform="translate(506.5 561.4) rotate(-90)" font-size="20.8" text-anchor="middle"><tspan font-style="italic">MR</tspan> (%)</text>
<text x="551.8" y="432.2" font-size="21.5" text-anchor="start" >100 K</text>
<line x1="680.8" y1="602.7" x2="712.9" y2="602.7" stroke="#b08ad0" stroke-width="2.6" />
<text x="717" y="607.3" font-size="18" text-anchor="start" >0 °</text>
<line x1="680.8" y1="625" x2="712.9" y2="625" stroke="#2f68ad" stroke-width="2.6" />
<text x="717" y="629.6" font-size="18" text-anchor="start" >30°</text>
<line x1="680.8" y1="645.8" x2="712.9" y2="645.8" stroke="#b44a42" stroke-width="2.6" />
<text x="717" y="650.4" font-size="18" text-anchor="start" >60°</text>
<line x1="680.8" y1="667.4" x2="712.9" y2="667.4" stroke="#80a65a" stroke-width="2.6" />
<text x="717" y="672" font-size="18" text-anchor="start" >90°</text>
<rect x="636.6" y="410.6" width="160.3" height="147.4" fill="#fff" stroke="#111" stroke-width="1.1"/>
<path d="M651 413.9 L651.8 416.3 L652.5 419 L653.2 421.6 L654 423.8 L654.7 426.3 L655.4 429.3 L656.1 431.2 L656.9 434.2 L657.6 436.2 L658.3 439 L659 441.1 L659.8 443.7 L660.5 445.9 L661.2 448.1 L661.9 450.6" fill="none" stroke="#a98ccc" stroke-width="2.0" stroke-linejoin="round" stroke-linecap="round" />
<path d="M772.5 450.1 L773.2 447.9 L773.9 445.6 L774.6 443.7 L775.4 441.3 L776.1 439 L776.8 436.1 L777.5 434 L778.3 431.6 L779 429.2 L779.7 426.3 L780.4 424.3 L781.2 421.2 L781.9 418.8 L782.6 416.7 L783.4 414" fill="none" stroke="#a98ccc" stroke-width="2.0" stroke-linejoin="round" stroke-linecap="round" />
<path d="M660.5 445.8 L661.2 447.8 L661.9 450.2 L662.7 452.6 L663.4 455.1 L664.1 456.8 L664.9 459 L665.6 461.3 L666.3 463.8 L667 465.8 L667.8 468 L668.5 469.9 L669.2 471.7 L669.9 474 L670.7 476.1 L671.4 477.8 L672.1 480.2 L672.9 481.8 L673.6 483.9 L674.3 485.6 L675 487.8 L675.8 489.6 L676.5 491.3 L677.2 493.3 L677.9 494.8 L678.7 496.3 L679.4 498.4 L680.1 500.1 L680.9 501.8 L681.6 503 L682.3 505.1 L683 506.5 L683.8 507.8 L684.5 509.8 L685.2 511" fill="none" stroke="#3a63a0" stroke-width="2.2" stroke-linejoin="round" stroke-linecap="round" />
<path d="M749.2 511.1 L749.9 509.4 L750.6 508 L751.4 506.7 L752.1 505.1 L752.8 503.2 L753.6 501.7 L754.3 499.8 L755 498.4 L755.7 496.7 L756.5 495 L757.2 492.9 L757.9 491.1 L758.6 489.3 L759.4 487.5 L760.1 485.9 L760.8 483.5 L761.5 482.1 L762.3 479.8 L763 477.9 L763.7 476 L764.5 474 L765.2 472 L765.9 470 L766.6 467.7 L767.4 465.8 L768.1 463.5 L768.8 461.1 L769.5 459.5 L770.3 456.9 L771 454.7 L771.7 452.4 L772.5 450.1 L773.2 448 L773.9 446" fill="none" stroke="#3a63a0" stroke-width="2.2" stroke-linejoin="round" stroke-linecap="round" />
<path d="M683.8 507.9 L684.5 509.7 L685.2 511.2 L685.9 512.5 L686.7 513.9 L687.4 515.5 L688.1 517 L688.8 518.2 L689.6 520 L690.3 520.9 L691 522 L691.8 523.5 L692.5 525.1 L693.2 526.2 L693.9 527.5 L694.7 528.8 L695.4 529.8 L696.1 530.8 L696.8 531.6 L697.6 533.2 L698.3 533.9 L699 534.8 L699.8 535.9 L700.5 536.6 L701.2 537.8 L701.9 538.9 L702.7 539.4 L703.4 540.5 L704.1 541.2 L704.8 541.9 L705.6 542.4 L706.3 543.4 L707 544 L707.7 544.4 L708.5 545 L709.2 545.7 L709.9 546.5 L710.7 546.7 L711.4 546.9 L712.1 547.7 L712.8 547.9 L713.6 548.3 L714.3 548.3 L715 548.5 L715.7 548.6 L716.5 548.7 L717.2 548.8 L717.9 549.1 L718.7 549 L719.4 548.5 L720.1 548.3 L720.8 548.3 L721.6 547.9 L722.3 547.6 L723 547.2 L723.7 546.4 L724.5 546.4 L725.2 545.5 L725.9 544.9 L726.7 544.6 L727.4 543.9 L728.1 543.4 L728.8 542.5 L729.6 541.9 L730.3 541.2 L731 540.2 L731.7 539.2 L732.5 538.6 L733.2 537.5 L733.9 536.6 L734.6 535.9 L735.4 535.1 L736.1 533.8 L736.8 533.1 L737.6 531.9 L738.3 530.6 L739 529.6 L739.7 528.6 L740.5 527.2 L741.2 526.2 L741.9 524.6 L742.6 523.7 L743.4 522.3 L744.1 521.1 L744.8 519.5 L745.6 518.3 L746.3 517.2 L747 515.5 L747.7 513.9 L748.5 512.8 L749.2 511.2 L749.9 509.8 L750.6 507.8" fill="none" stroke="#8e4a62" stroke-width="3.0" stroke-linejoin="round" stroke-linecap="round" />
<line x1="651.8" y1="558" x2="651.8" y2="555.2" stroke="#000" stroke-width="1" />
<text x="651.8" y="569.7" font-size="10" text-anchor="middle" >-9</text>
<line x1="673.6" y1="558" x2="673.6" y2="555.2" stroke="#000" stroke-width="1" />
<text x="673.6" y="569.7" font-size="10" text-anchor="middle" >-6</text>
<line x1="695.4" y1="558" x2="695.4" y2="555.2" stroke="#000" stroke-width="1" />
<text x="695.4" y="569.7" font-size="10" text-anchor="middle" >-3</text>
<line x1="717.2" y1="558" x2="717.2" y2="555.2" stroke="#000" stroke-width="1" />
<text x="717.2" y="569.7" font-size="10" text-anchor="middle" >0</text>
<line x1="739" y1="558" x2="739" y2="555.2" stroke="#000" stroke-width="1" />
<text x="739" y="569.7" font-size="10" text-anchor="middle" >3</text>
<line x1="760.8" y1="558" x2="760.8" y2="555.2" stroke="#000" stroke-width="1" />
<text x="760.8" y="569.7" font-size="10" text-anchor="middle" >6</text>
<line x1="782.6" y1="558" x2="782.6" y2="555.2" stroke="#000" stroke-width="1" />
<text x="782.6" y="569.7" font-size="10" text-anchor="middle" >9</text>
<line x1="662.7" y1="558" x2="662.7" y2="556.5" stroke="#000" stroke-width="1" />
<line x1="684.5" y1="558" x2="684.5" y2="556.5" stroke="#000" stroke-width="1" />
<line x1="706.3" y1="558" x2="706.3" y2="556.5" stroke="#000" stroke-width="1" />
<line x1="728.1" y1="558" x2="728.1" y2="556.5" stroke="#000" stroke-width="1" />
<line x1="749.9" y1="558" x2="749.9" y2="556.5" stroke="#000" stroke-width="1" />
<line x1="771.7" y1="558" x2="771.7" y2="556.5" stroke="#000" stroke-width="1" />
<line x1="636.6" y1="549" x2="639.4" y2="549" stroke="#000" stroke-width="1" />
<text x="632" y="552.9" font-size="11" text-anchor="end" >0.0</text>
<line x1="636.6" y1="506.5" x2="639.4" y2="506.5" stroke="#000" stroke-width="1" />
<text x="632" y="510.4" font-size="11" text-anchor="end" >0.5</text>
<line x1="636.6" y1="464" x2="639.4" y2="464" stroke="#000" stroke-width="1" />
<text x="632" y="467.9" font-size="11" text-anchor="end" >1.0</text>
<line x1="636.6" y1="421.5" x2="639.4" y2="421.5" stroke="#000" stroke-width="1" />
<text x="632" y="425.4" font-size="11" text-anchor="end" >1.5</text>
<line x1="636.6" y1="527.8" x2="638.2" y2="527.8" stroke="#000" stroke-width="1" />
<line x1="636.6" y1="485.2" x2="638.2" y2="485.2" stroke="#000" stroke-width="1" />
<line x1="636.6" y1="442.8" x2="638.2" y2="442.8" stroke="#000" stroke-width="1" />
<text x="739.6" y="553.6" font-size="12.6"><tspan font-style="italic">B</tspan>cos<tspan font-style="italic">θ</tspan> (T)</text>
<text transform="translate(651.3 484) rotate(-90)" font-size="12" text-anchor="middle"><tspan font-style="italic">MR</tspan> (%)</text>
<text x="486" y="427" font-size="28">e</text>
</g>
<g id="pf">
<g fill="#c9a6e0" stroke="#9a7cc4" stroke-width="0.7"><circle cx="963.4" cy="431.3" r="1.7"/><circle cx="966.6" cy="428.2" r="1.7"/><circle cx="968" cy="431.2" r="1.7"/><circle cx="969.8" cy="430.2" r="1.7"/><circle cx="972.4" cy="429.8" r="1.7"/><circle cx="974.2" cy="433.4" r="1.7"/><circle cx="975.4" cy="431.9" r="1.7"/><circle cx="977.4" cy="437.4" r="1.7"/><circle cx="980.3" cy="439" r="1.7"/><circle cx="982.2" cy="443.8" r="1.7"/><circle cx="983.3" cy="443.9" r="1.7"/><circle cx="986.6" cy="447.6" r="1.7"/><circle cx="988.4" cy="453.5" r="1.7"/><circle cx="990.5" cy="461.3" r="1.7"/><circle cx="991.5" cy="464.5" r="1.7"/><circle cx="994.8" cy="471.4" r="1.7"/><circle cx="995.4" cy="482.6" r="1.7"/><circle cx="997.9" cy="493.1" r="1.7"/><circle cx="999.7" cy="498" r="1.7"/><circle cx="1002.8" cy="506.1" r="1.7"/><circle cx="1003.6" cy="511.9" r="1.7"/><circle cx="1006.5" cy="522.8" r="1.7"/><circle cx="1008.2" cy="532.6" r="1.7"/><circle cx="1010.1" cy="537.7" r="1.7"/><circle cx="1012.2" cy="547.2" r="1.7"/><circle cx="1014.6" cy="557.2" r="1.7"/><circle cx="1016.3" cy="569.2" r="1.7"/><circle cx="1018.9" cy="573.9" r="1.7"/><circle cx="1019.7" cy="585.1" r="1.7"/><circle cx="1021.6" cy="594.2" r="1.7"/><circle cx="1024.9" cy="597.6" r="1.7"/><circle cx="1026.8" cy="608.6" r="1.7"/><circle cx="1027.8" cy="615.3" r="1.7"/><circle cx="1031" cy="623.3" r="1.7"/><circle cx="1032.6" cy="634" r="1.7"/><circle cx="1034.3" cy="641.6" r="1.7"/><circle cx="1036" cy="642.3" r="1.7"/><circle cx="1038.3" cy="654.8" r="1.7"/><circle cx="1040.3" cy="656.3" r="1.7"/><circle cx="1042.4" cy="663.3" r="1.7"/><circle cx="1044" cy="662.6" r="1.7"/><circle cx="1046.8" cy="667.4" r="1.7"/><circle cx="1048.2" cy="669.9" r="1.7"/><circle cx="1051.2" cy="666.2" r="1.7"/><circle cx="1052.9" cy="672.6" r="1.7"/><circle cx="1054.9" cy="665.3" r="1.7"/><circle cx="1055.8" cy="665.1" r="1.7"/><circle cx="1058.1" cy="660.7" r="1.7"/><circle cx="1060.2" cy="658" r="1.7"/><circle cx="1062.7" cy="653.4" r="1.7"/><circle cx="1064.2" cy="646.3" r="1.7"/><circle cx="1066.9" cy="639.9" r="1.7"/><circle cx="1068.8" cy="629.9" r="1.7"/><circle cx="1071" cy="623.2" r="1.7"/><circle cx="1073.4" cy="622.4" r="1.7"/><circle cx="1075.3" cy="613.2" r="1.7"/><circle cx="1076.9" cy="604.1" r="1.7"/><circle cx="1079.4" cy="596.4" r="1.7"/><circle cx="1081" cy="588.8" r="1.7"/><circle cx="1082.2" cy="580.3" r="1.7"/><circle cx="1084.1" cy="570.1" r="1.7"/><circle cx="1086.8" cy="563.9" r="1.7"/><circle cx="1089.1" cy="553" r="1.7"/><circle cx="1091.5" cy="543.5" r="1.7"/><circle cx="1092.3" cy="532.2" r="1.7"/><circle cx="1095.4" cy="525.6" r="1.7"/><circle cx="1097.4" cy="518.7" r="1.7"/><circle cx="1098.5" cy="509.7" r="1.7"/><circle cx="1101.4" cy="500.5" r="1.7"/><circle cx="1103.2" cy="491.9" r="1.7"/><circle cx="1105.1" cy="483.2" r="1.7"/><circle cx="1106.5" cy="473.7" r="1.7"/><circle cx="1108.3" cy="468.1" r="1.7"/><circle cx="1111" cy="460.4" r="1.7"/><circle cx="1112.3" cy="453" r="1.7"/><circle cx="1115.5" cy="452" r="1.7"/><circle cx="1116.2" cy="449.4" r="1.7"/><circle cx="1119.4" cy="447.1" r="1.7"/><circle cx="1120.8" cy="439" r="1.7"/><circle cx="1122.8" cy="433.5" r="1.7"/><circle cx="1124.6" cy="432.1" r="1.7"/><circle cx="1127.7" cy="428.2" r="1.7"/><circle cx="1129.3" cy="431.1" r="1.7"/><circle cx="1131.2" cy="429.1" r="1.7"/><circle cx="1132.8" cy="425.1" r="1.7"/><circle cx="1134.4" cy="428.3" r="1.7"/><circle cx="1137" cy="429.5" r="1.7"/><circle cx="1138.7" cy="434.3" r="1.7"/><circle cx="1141.5" cy="435.9" r="1.7"/><circle cx="1143.2" cy="436.6" r="1.7"/><circle cx="1144.7" cy="442.3" r="1.7"/><circle cx="1146.7" cy="444.7" r="1.7"/><circle cx="1149.7" cy="451.1" r="1.7"/><circle cx="1151.8" cy="449.4" r="1.7"/><circle cx="1152.6" cy="458.1" r="1.7"/><circle cx="1155.1" cy="460.1" r="1.7"/><circle cx="1158.1" cy="464.4" r="1.7"/><circle cx="1159.6" cy="473.2" r="1.7"/><circle cx="1161.8" cy="481.9" r="1.7"/><circle cx="1162.7" cy="491.5" r="1.7"/><circle cx="1165.9" cy="498.8" r="1.7"/><circle cx="1166.8" cy="504.6" r="1.7"/><circle cx="1169.9" cy="513.9" r="1.7"/><circle cx="1171.1" cy="522.4" r="1.7"/><circle cx="1174" cy="530.6" r="1.7"/><circle cx="1174.9" cy="541.8" r="1.7"/><circle cx="1178" cy="545.7" r="1.7"/><circle cx="1179.8" cy="561.9" r="1.7"/><circle cx="1182.2" cy="564.6" r="1.7"/><circle cx="1183.1" cy="579.5" r="1.7"/><circle cx="1185.3" cy="583.8" r="1.7"/><circle cx="1187" cy="597.1" r="1.7"/><circle cx="1189.6" cy="601.1" r="1.7"/><circle cx="1192.2" cy="612.3" r="1.7"/><circle cx="1193.9" cy="620.3" r="1.7"/><circle cx="1195.6" cy="626.2" r="1.7"/><circle cx="1198.2" cy="633.9" r="1.7"/><circle cx="1199.2" cy="637.2" r="1.7"/><circle cx="1201.7" cy="645" r="1.7"/><circle cx="1203.1" cy="654.8" r="1.7"/><circle cx="1205.2" cy="657.6" r="1.7"/><circle cx="1208.2" cy="662.5" r="1.7"/><circle cx="1210.2" cy="664.9" r="1.7"/><circle cx="1212.5" cy="666.7" r="1.7"/><circle cx="1213.8" cy="670.1" r="1.7"/><circle cx="1216.1" cy="668.5" r="1.7"/><circle cx="1217.3" cy="666.7" r="1.7"/><circle cx="1220.4" cy="667.4" r="1.7"/><circle cx="1221.7" cy="668.7" r="1.7"/><circle cx="1224" cy="658.8" r="1.7"/><circle cx="1225.5" cy="655.6" r="1.7"/><circle cx="1227.6" cy="651.5" r="1.7"/><circle cx="1229.2" cy="645.3" r="1.7"/><circle cx="1231.9" cy="638.3" r="1.7"/><circle cx="1234" cy="629.8" r="1.7"/><circle cx="1236.6" cy="627.2" r="1.7"/><circle cx="1237.8" cy="619.2" r="1.7"/><circle cx="1239.2" cy="613.7" r="1.7"/><circle cx="1242.4" cy="599.7" r="1.7"/><circle cx="1244.2" cy="596.9" r="1.7"/><circle cx="1246.7" cy="583.9" r="1.7"/><circle cx="1248.4" cy="581.4" r="1.7"/><circle cx="1250.1" cy="563.4" r="1.7"/><circle cx="1251.9" cy="558.5" r="1.7"/><circle cx="1253.2" cy="551.3" r="1.7"/><circle cx="1256.2" cy="540.2" r="1.7"/><circle cx="1258.7" cy="532.5" r="1.7"/><circle cx="1260.7" cy="523.6" r="1.7"/><circle cx="1261.9" cy="512.8" r="1.7"/><circle cx="1264" cy="507.6" r="1.7"/><circle cx="1266.8" cy="500.9" r="1.7"/><circle cx="1268.7" cy="486.2" r="1.7"/><circle cx="1270.4" cy="484.2" r="1.7"/><circle cx="1271.8" cy="474.9" r="1.7"/><circle cx="1273.8" cy="465.5" r="1.7"/><circle cx="1275.8" cy="456.2" r="1.7"/><circle cx="1278.2" cy="456.1" r="1.7"/><circle cx="1279.6" cy="449.7" r="1.7"/><circle cx="1282.7" cy="447.5" r="1.7"/><circle cx="1283.8" cy="444.1" r="1.7"/><circle cx="1287" cy="438.7" r="1.7"/><circle cx="1287.7" cy="439.5" r="1.7"/><circle cx="1290" cy="432.3" r="1.7"/><circle cx="1291.5" cy="431.4" r="1.7"/></g>
<polygon points="1049.4,648.7 1190.1,648.7 1213.3,685.7 1071.9,685.7" fill="#a4e0f6"/>
<polygon points="1049.4,648.7 1071.9,685.7 1071.9,693.5 1049.4,656.5" fill="#6cc0ea"/>
<polygon points="1071.9,685.7 1213.3,685.7 1213.3,694.4 1071.9,694.4" fill="#2e5d86"/>
<path d="M963.9 427.1 L964.4 426.8 L964.8 426.5 L965.3 426.2 L965.7 426 L966.2 425.8 L966.6 425.7 L967.1 425.6 L967.6 425.5 L968 425.5 L968.5 425.4 L968.9 425.5 L969.4 425.5 L969.9 425.6 L970.3 425.7 L970.8 425.8 L971.2 426 L971.7 426.2 L972.1 426.5 L972.6 426.8 L973.1 427.1 L973.5 427.4 L974 427.8 L974.4 428.2 L974.9 428.6 L975.3 429.1 L975.8 429.6 L976.3 430.1 L976.7 430.7 L977.2 431.3 L977.6 431.9 L978.1 432.6 L978.6 433.3 L979 434 L979.5 434.7 L979.9 435.5 L980.4 436.3 L980.8 437.2 L981.3 438 L981.8 438.9 L982.2 439.9 L982.7 440.8 L983.1 441.8 L983.6 442.8 L984 443.9 L984.5 444.9 L985 446 L985.4 447.2 L985.9 448.3 L986.3 449.5 L986.8 450.7 L987.3 451.9 L987.7 453.2 L988.2 454.5 L988.6 455.8 L989.1 457.1 L989.5 458.5 L990 459.9 L990.5 461.3 L990.9 462.7 L991.4 464.2 L991.8 465.6 L992.3 467.1 L992.7 468.7 L993.2 470.2 L993.7 471.8 L994.1 473.4 L994.6 475 L995 476.6 L995.5 478.3 L995.9 479.9 L996.4 481.6 L996.9 483.3 L997.3 485.1 L997.8 486.8 L998.2 488.6 L998.7 490.3 L999.2 492.1 L999.6 493.9 L1000.1 495.8 L1000.5 497.6 L1001 499.4 L1001.4 501.3 L1001.9 503.2 L1002.4 505.1 L1002.8 507 L1003.3 508.9 L1003.7 510.9 L1004.2 512.8 L1004.6 514.7 L1005.1 516.7 L1005.6 518.7 L1006 520.7 L1006.5 522.7 L1006.9 524.7 L1007.4 526.7 L1007.9 528.7 L1008.3 530.7 L1008.8 532.7 L1009.2 534.8 L1009.7 536.8 L1010.1 538.8 L1010.6 540.9 L1011.1 542.9 L1011.5 545 L1012 547 L1012.4 549.1 L1012.9 551.1 L1013.3 553.2 L1013.8 555.3 L1014.3 557.3 L1014.7 559.4 L1015.2 561.4 L1015.6 563.5 L1016.1 565.5 L1016.6 567.6 L1017 569.6 L1017.5 571.7 L1017.9 573.7 L1018.4 575.7 L1018.8 577.7 L1019.3 579.7 L1019.8 581.8 L1020.2 583.8 L1020.7 585.8 L1021.1 587.7 L1021.6 589.7 L1022 591.7 L1022.5 593.6 L1023 595.6 L1023.4 597.5 L1023.9 599.4 L1024.3 601.3 L1024.8 603.2 L1025.3 605.1 L1025.7 607 L1026.2 608.8 L1026.6 610.7 L1027.1 612.5 L1027.5 614.3 L1028 616.1 L1028.5 617.8 L1028.9 619.6 L1029.4 621.3 L1029.8 623 L1030.3 624.7 L1030.7 626.4 L1031.2 628 L1031.7 629.7 L1032.1 631.3 L1032.6 632.8 L1033 634.4 L1033.5 635.9 L1034 637.5 L1034.4 638.9 L1034.9 640.4 L1035.3 641.8 L1035.8 643.2 L1036.2 644.6 L1036.7 646 L1037.2 647.3 L1037.6 648.6 L1038.1 649.9 L1038.5 651.1 L1039 652.3 L1039.4 653.5 L1039.9 654.6 L1040.4 655.7 L1040.8 656.8 L1041.3 657.9 L1041.7 658.9 L1042.2 659.8 L1042.7 660.8 L1043.1 661.7 L1043.6 662.5 L1044 663.4 L1044.5 664.1 L1044.9 664.9 L1045.4 665.6 L1045.9 666.3 L1046.3 666.9 L1046.8 667.5 L1047.2 668 L1047.7 668.5 L1048.1 668.9 L1048.6 669.3 L1049.1 669.6 L1049.5 669.9 L1050 670.1 L1050.4 670.2 L1050.9 670.3 L1051.3 670.2 L1051.8 670.1 L1052.3 669.9 L1052.7 669.6 L1053.2 669.3 L1053.6 668.9 L1054.1 668.5 L1054.6 668 L1055 667.5 L1055.5 666.9 L1055.9 666.3 L1056.4 665.6 L1056.8 664.9 L1057.3 664.1 L1057.8 663.4 L1058.2 662.5 L1058.7 661.7 L1059.1 660.8 L1059.6 659.8 L1060 658.9 L1060.5 657.9 L1061 656.8 L1061.4 655.7 L1061.9 654.6 L1062.3 653.5 L1062.8 652.3 L1063.3 651.1 L1063.7 649.9 L1064.2 648.6 L1064.6 647.3 L1065.1 646 L1065.5 644.6 L1066 643.2 L1066.5 641.8 L1066.9 640.4 L1067.4 638.9 L1067.8 637.5 L1068.3 635.9 L1068.7 634.4 L1069.2 632.8 L1069.7 631.3 L1070.1 629.7 L1070.6 628 L1071 626.4 L1071.5 624.7 L1072 623 L1072.4 621.3 L1072.9 619.6 L1073.3 617.8 L1073.8 616.1 L1074.2 614.3 L1074.7 612.5 L1075.2 610.7 L1075.6 608.8 L1076.1 607 L1076.5 605.1 L1077 603.2 L1077.4 601.3 L1077.9 599.4 L1078.4 597.5 L1078.8 595.6 L1079.3 593.6 L1079.7 591.7 L1080.2 589.7 L1080.7 587.7 L1081.1 585.8 L1081.6 583.8 L1082 581.8 L1082.5 579.7 L1082.9 577.7 L1083.4 575.7 L1083.9 573.7 L1084.3 571.7 L1084.8 569.6 L1085.2 567.6 L1085.7 565.5 L1086.1 563.5 L1086.6 561.4 L1087.1 559.4 L1087.5 557.3 L1088 555.3 L1088.4 553.2 L1088.9 551.1 L1089.4 549.1 L1089.8 547 L1090.3 545 L1090.7 542.9 L1091.2 540.9 L1091.6 538.8 L1092.1 536.8 L1092.6 534.8 L1093 532.7 L1093.5 530.7 L1093.9 528.7 L1094.4 526.7 L1094.8 524.7 L1095.3 522.7 L1095.8 520.7 L1096.2 518.7 L1096.7 516.7 L1097.1 514.7 L1097.6 512.8 L1098.1 510.9 L1098.5 508.9 L1099 507 L1099.4 505.1 L1099.9 503.2 L1100.3 501.3 L1100.8 499.4 L1101.3 497.6 L1101.7 495.8 L1102.2 493.9 L1102.6 492.1 L1103.1 490.3 L1103.5 488.6 L1104 486.8 L1104.5 485.1 L1104.9 483.3 L1105.4 481.6 L1105.8 479.9 L1106.3 478.3 L1106.7 476.6 L1107.2 475 L1107.7 473.4 L1108.1 471.8 L1108.6 470.2 L1109 468.7 L1109.5 467.1 L1110 465.6 L1110.4 464.2 L1110.9 462.7 L1111.3 461.3 L1111.8 459.9 L1112.2 458.5 L1112.7 457.1 L1113.2 455.8 L1113.6 454.5 L1114.1 453.2 L1114.5 451.9 L1115 450.7 L1115.4 449.5 L1115.9 448.3 L1116.4 447.2 L1116.8 446 L1117.3 444.9 L1117.7 443.9 L1118.2 442.8 L1118.7 441.8 L1119.1 440.8 L1119.6 439.9 L1120 438.9 L1120.5 438 L1120.9 437.2 L1121.4 436.3 L1121.9 435.5 L1122.3 434.7 L1122.8 434 L1123.2 433.3 L1123.7 432.6 L1124.1 431.9 L1124.6 431.3 L1125.1 430.7 L1125.5 430.1 L1126 429.6 L1126.4 429.1 L1126.9 428.6 L1127.4 428.2 L1127.8 427.8 L1128.3 427.4 L1128.7 427.1 L1129.2 426.8 L1129.6 426.5 L1130.1 426.2 L1130.6 426 L1131 425.8 L1131.5 425.7 L1131.9 425.6 L1132.4 425.5 L1132.8 425.5 L1133.3 425.4 L1133.8 425.5 L1134.2 425.5 L1134.7 425.6 L1135.1 425.7 L1135.6 425.8 L1136.1 426 L1136.5 426.2 L1137 426.5 L1137.4 426.8 L1137.9 427.1 L1138.3 427.4 L1138.8 427.8 L1139.3 428.2 L1139.7 428.6 L1140.2 429.1 L1140.6 429.6 L1141.1 430.1 L1141.5 430.7 L1142 431.3 L1142.5 431.9 L1142.9 432.6 L1143.4 433.3 L1143.8 434 L1144.3 434.7 L1144.8 435.5 L1145.2 436.3 L1145.7 437.2 L1146.1 438 L1146.6 438.9 L1147 439.9 L1147.5 440.8 L1148 441.8 L1148.4 442.8 L1148.9 443.9 L1149.3 444.9 L1149.8 446 L1150.2 447.2 L1150.7 448.3 L1151.2 449.5 L1151.6 450.7 L1152.1 451.9 L1152.5 453.2 L1153 454.5 L1153.4 455.8 L1153.9 457.1 L1154.4 458.5 L1154.8 459.9 L1155.3 461.3 L1155.7 462.7 L1156.2 464.2 L1156.7 465.6 L1157.1 467.1 L1157.6 468.7 L1158 470.2 L1158.5 471.8 L1158.9 473.4 L1159.4 475 L1159.9 476.6 L1160.3 478.3 L1160.8 479.9 L1161.2 481.6 L1161.7 483.3 L1162.1 485.1 L1162.6 486.8 L1163.1 488.6 L1163.5 490.3 L1164 492.1 L1164.4 493.9 L1164.9 495.8 L1165.4 497.6 L1165.8 499.4 L1166.3 501.3 L1166.7 503.2 L1167.2 505.1 L1167.6 507 L1168.1 508.9 L1168.6 510.9 L1169 512.8 L1169.5 514.7 L1169.9 516.7 L1170.4 518.7 L1170.8 520.7 L1171.3 522.7 L1171.8 524.7 L1172.2 526.7 L1172.7 528.7 L1173.1 530.7 L1173.6 532.7 L1174.1 534.8 L1174.5 536.8 L1175 538.8 L1175.4 540.9 L1175.9 542.9 L1176.3 545 L1176.8 547 L1177.3 549.1 L1177.7 551.1 L1178.2 553.2 L1178.6 555.3 L1179.1 557.3 L1179.5 559.4 L1180 561.4 L1180.5 563.5 L1180.9 565.5 L1181.4 567.6 L1181.8 569.6 L1182.3 571.7 L1182.8 573.7 L1183.2 575.7 L1183.7 577.7 L1184.1 579.7 L1184.6 581.8 L1185 583.8 L1185.5 585.8 L1186 587.7 L1186.4 589.7 L1186.9 591.7 L1187.3 593.6 L1187.8 595.6 L1188.2 597.5 L1188.7 599.4 L1189.2 601.3 L1189.6 603.2 L1190.1 605.1 L1190.5 607 L1191 608.8 L1191.5 610.7 L1191.9 612.5 L1192.4 614.3 L1192.8 616.1 L1193.3 617.8 L1193.7 619.6 L1194.2 621.3 L1194.7 623 L1195.1 624.7 L1195.6 626.4 L1196 628 L1196.5 629.7 L1196.9 631.3 L1197.4 632.8 L1197.9 634.4 L1198.3 635.9 L1198.8 637.5 L1199.2 638.9 L1199.7 640.4 L1200.2 641.8 L1200.6 643.2 L1201.1 644.6 L1201.5 646 L1202 647.3 L1202.4 648.6 L1202.9 649.9 L1203.4 651.1 L1203.8 652.3 L1204.3 653.5 L1204.7 654.6 L1205.2 655.7 L1205.6 656.8 L1206.1 657.9 L1206.6 658.9 L1207 659.8 L1207.5 660.8 L1207.9 661.7 L1208.4 662.5 L1208.8 663.4 L1209.3 664.1 L1209.8 664.9 L1210.2 665.6 L1210.7 666.3 L1211.1 666.9 L1211.6 667.5 L1212.1 668 L1212.5 668.5 L1213 668.9 L1213.4 669.3 L1213.9 669.6 L1214.3 669.9 L1214.8 670.1 L1215.3 670.2 L1215.7 670.3 L1216.2 670.2 L1216.6 670.1 L1217.1 669.9 L1217.5 669.6 L1218 669.3 L1218.5 668.9 L1218.9 668.5 L1219.4 668 L1219.8 667.5 L1220.3 666.9 L1220.8 666.3 L1221.2 665.6 L1221.7 664.9 L1222.1 664.1 L1222.6 663.4 L1223 662.5 L1223.5 661.7 L1224 660.8 L1224.4 659.8 L1224.9 658.9 L1225.3 657.9 L1225.8 656.8 L1226.2 655.7 L1226.7 654.6 L1227.2 653.5 L1227.6 652.3 L1228.1 651.1 L1228.5 649.9 L1229 648.6 L1229.5 647.3 L1229.9 646 L1230.4 644.6 L1230.8 643.2 L1231.3 641.8 L1231.7 640.4 L1232.2 638.9 L1232.7 637.5 L1233.1 635.9 L1233.6 634.4 L1234 632.8 L1234.5 631.3 L1234.9 629.7 L1235.4 628 L1235.9 626.4 L1236.3 624.7 L1236.8 623 L1237.2 621.3 L1237.7 619.6 L1238.2 617.8 L1238.6 616.1 L1239.1 614.3 L1239.5 612.5 L1240 610.7 L1240.4 608.8 L1240.9 607 L1241.4 605.1 L1241.8 603.2 L1242.3 601.3 L1242.7 599.4 L1243.2 597.5 L1243.6 595.6 L1244.1 593.6 L1244.6 591.7 L1245 589.7 L1245.5 587.7 L1245.9 585.8 L1246.4 583.8 L1246.9 581.8 L1247.3 579.7 L1247.8 577.7 L1248.2 575.7 L1248.7 573.7 L1249.1 571.7 L1249.6 569.6 L1250.1 567.6 L1250.5 565.5 L1251 563.5 L1251.4 561.4 L1251.9 559.4 L1252.3 557.3 L1252.8 555.3 L1253.3 553.2 L1253.7 551.1 L1254.2 549.1 L1254.6 547 L1255.1 545 L1255.6 542.9 L1256 540.9 L1256.5 538.8 L1256.9 536.8 L1257.4 534.8 L1257.8 532.7 L1258.3 530.7 L1258.8 528.7 L1259.2 526.7 L1259.7 524.7 L1260.1 522.7 L1260.6 520.7 L1261 518.7 L1261.5 516.7 L1262 514.7 L1262.4 512.8 L1262.9 510.9 L1263.3 508.9 L1263.8 507 L1264.2 505.1 L1264.7 503.2 L1265.2 501.3 L1265.6 499.4 L1266.1 497.6 L1266.5 495.8 L1267 493.9 L1267.5 492.1 L1267.9 490.3 L1268.4 488.6 L1268.8 486.8 L1269.3 485.1 L1269.7 483.3 L1270.2 481.6 L1270.7 479.9 L1271.1 478.3 L1271.6 476.6 L1272 475 L1272.5 473.4 L1272.9 471.8 L1273.4 470.2 L1273.9 468.7 L1274.3 467.1 L1274.8 465.6 L1275.2 464.2 L1275.7 462.7 L1276.2 461.3 L1276.6 459.9 L1277.1 458.5 L1277.5 457.1 L1278 455.8 L1278.4 454.5 L1278.9 453.2 L1279.4 451.9 L1279.8 450.7 L1280.3 449.5 L1280.7 448.3 L1281.2 447.2 L1281.6 446 L1282.1 444.9 L1282.6 443.9 L1283 442.8 L1283.5 441.8 L1283.9 440.8 L1284.4 439.9 L1284.9 438.9 L1285.3 438 L1285.8 437.2 L1286.2 436.3 L1286.7 435.5 L1287.1 434.7 L1287.6 434 L1288.1 433.3 L1288.5 432.6 L1289 431.9 L1289.4 431.3 L1289.9 430.7 L1290.3 430.1 L1290.8 429.6 L1291.3 429.1 L1291.7 428.6 L1292.2 428.2 L1292.6 427.8 L1293.1 427.4 L1293.6 427.1" fill="none" stroke="#3b5ea8" stroke-width="3.0" stroke-linejoin="round" stroke-linecap="round" />
<g fill="none" stroke-linecap="round">
<line x1="1127.7" y1="664" x2="1197" y2="664" stroke="#3c3c8a" stroke-width="1.2" />
<path d="M1191 660.5 L1197.5 664 L1191 667.5" stroke="#3c3c8a" stroke-width="1.2"/>
<line x1="1127.7" y1="664" x2="1186.3" y2="607.6" stroke="#7a3c9c" stroke-width="1.2" />
<path d="M1179.5 608.5 L1186.5 607.3 L1185 614" stroke="#7a3c9c" stroke-width="1.2"/>
<line x1="1127.7" y1="664" x2="1127.7" y2="600" stroke="#7a4c9c" stroke-width="1.1" stroke-dasharray="3 2"/>
<line x1="1127.7" y1="606.8" x2="1185" y2="606.8" stroke="#7a4c9c" stroke-width="1.1" stroke-dasharray="3 2"/>
<line x1="1122" y1="607.5" x2="1122" y2="663" stroke="#1e3450" stroke-width="1.1" />
<path d="M1119.3 611 L1122 607 L1124.7 611 M1119.3 659.5 L1122 663.5 L1124.7 659.5" stroke="#1e3450" stroke-width="1.1"/>
<line x1="1114.7" y1="606.5" x2="1132.8" y2="606.5" stroke="#1e3450" stroke-width="1.1" />
<line x1="1114.7" y1="663.5" x2="1127" y2="663.5" stroke="#1e3450" stroke-width="1.1" />
<path d="M1127.7 648.7 Q1135 649 1139 654" stroke="#7a3c9c" stroke-width="1.1"/>
</g>
<text x="1128" y="604.8" font-size="13.5" font-style="italic" fill="#8a4cae">c</text>
<text x="1176.5" y="630.6" font-size="17" font-style="italic" fill="#8a4cae">B</text>
<text x="1131" y="645.8" font-size="14" font-style="italic" fill="#8a4cae">θ</text>
<text x="1180.5" y="661.8" font-size="17" font-style="italic" fill="#3c3c8a">I</text>
<text x="1069.5" y="644.8" font-size="16.2" fill="#1e2e44"><tspan font-style="italic">B</tspan>cos<tspan font-style="italic">θ</tspan></text>
<rect x="964.5" y="407.5" width="329" height="302.2" fill="none" stroke="#000" stroke-width="2.3"/>
<line x1="963.9" y1="709.7" x2="963.9" y2="704.2" stroke="#000" stroke-width="2" />
<line x1="1009.7" y1="709.7" x2="1009.7" y2="704.2" stroke="#000" stroke-width="2" />
<line x1="1055.5" y1="709.7" x2="1055.5" y2="704.2" stroke="#000" stroke-width="2" />
<line x1="1101.3" y1="709.7" x2="1101.3" y2="704.2" stroke="#000" stroke-width="2" />
<line x1="1147" y1="709.7" x2="1147" y2="704.2" stroke="#000" stroke-width="2" />
<line x1="1192.8" y1="709.7" x2="1192.8" y2="704.2" stroke="#000" stroke-width="2" />
<line x1="1238.6" y1="709.7" x2="1238.6" y2="704.2" stroke="#000" stroke-width="2" />
<line x1="1284.4" y1="709.7" x2="1284.4" y2="704.2" stroke="#000" stroke-width="2" />
<line x1="986.8" y1="709.7" x2="986.8" y2="706.7" stroke="#000" stroke-width="2" />
<line x1="1032.6" y1="709.7" x2="1032.6" y2="706.7" stroke="#000" stroke-width="2" />
<line x1="1078.4" y1="709.7" x2="1078.4" y2="706.7" stroke="#000" stroke-width="2" />
<line x1="1124.1" y1="709.7" x2="1124.1" y2="706.7" stroke="#000" stroke-width="2" />
<line x1="1169.9" y1="709.7" x2="1169.9" y2="706.7" stroke="#000" stroke-width="2" />
<line x1="1215.7" y1="709.7" x2="1215.7" y2="706.7" stroke="#000" stroke-width="2" />
<line x1="1261.5" y1="709.7" x2="1261.5" y2="706.7" stroke="#000" stroke-width="2" />
<line x1="964.5" y1="670.3" x2="970" y2="670.3" stroke="#000" stroke-width="2" />
<line x1="964.5" y1="590.8" x2="970" y2="590.8" stroke="#000" stroke-width="2" />
<line x1="964.5" y1="511.3" x2="970" y2="511.3" stroke="#000" stroke-width="2" />
<line x1="964.5" y1="431.8" x2="970" y2="431.8" stroke="#000" stroke-width="2" />
<line x1="964.5" y1="630.5" x2="967.5" y2="630.5" stroke="#000" stroke-width="2" />
<line x1="964.5" y1="551" x2="967.5" y2="551" stroke="#000" stroke-width="2" />
<line x1="964.5" y1="471.5" x2="967.5" y2="471.5" stroke="#000" stroke-width="2" />
<text x="963.9" y="729.7" font-size="17" text-anchor="middle" >0</text>
<text x="1009.7" y="729.7" font-size="17" text-anchor="middle" >50</text>
<text x="1055.5" y="729.7" font-size="17" text-anchor="middle" >100</text>
<text x="1101.3" y="729.7" font-size="17" text-anchor="middle" >150</text>
<text x="1147" y="729.7" font-size="17" text-anchor="middle" >200</text>
<text x="1192.8" y="729.7" font-size="17" text-anchor="middle" >250</text>
<text x="1238.6" y="729.7" font-size="17" text-anchor="middle" >300</text>
<text x="1284.4" y="729.7" font-size="17" text-anchor="middle" >350</text>
<text x="955.6" y="676.3" font-size="17" text-anchor="end" >0.0</text>
<text x="955.6" y="596.8" font-size="17" text-anchor="end" >0.5</text>
<text x="955.6" y="517.3" font-size="17" text-anchor="end" >1.0</text>
<text x="955.6" y="437.8" font-size="17" text-anchor="end" >1.5</text>
<text x="1131.3" y="751.6" font-size="20.8" text-anchor="middle"><tspan font-style="italic">θ</tspan> (°)</text>
<text transform="translate(924 558) rotate(-90)" font-size="20.8" text-anchor="middle"><tspan font-style="italic">MR</tspan> (%)</text>
<text x="981.2" y="425.7" font-size="21.5" text-anchor="start" >100 K</text>
<circle cx="1185.6" cy="420" r="1.6" fill="#d0b0e0" stroke="#a080c0" stroke-width="0.6"/>
<text x="1209" y="425.1" font-size="17" text-anchor="start" >data</text>
<line x1="1167.8" y1="444.1" x2="1203.7" y2="444.1" stroke="#3b5ea8" stroke-width="3" />
<text x="1209" y="449.8" font-size="17.8">cos<tspan font-size="12.5" dy="-7" fill="#333">1.75</tspan><tspan font-style="italic" dy="7">θ</tspan></text>
<text x="908" y="425" font-size="27">f</text>
</g>
<text x="476.5" y="60.8" font-size="29.5">b</text>
</svg></body></html>
